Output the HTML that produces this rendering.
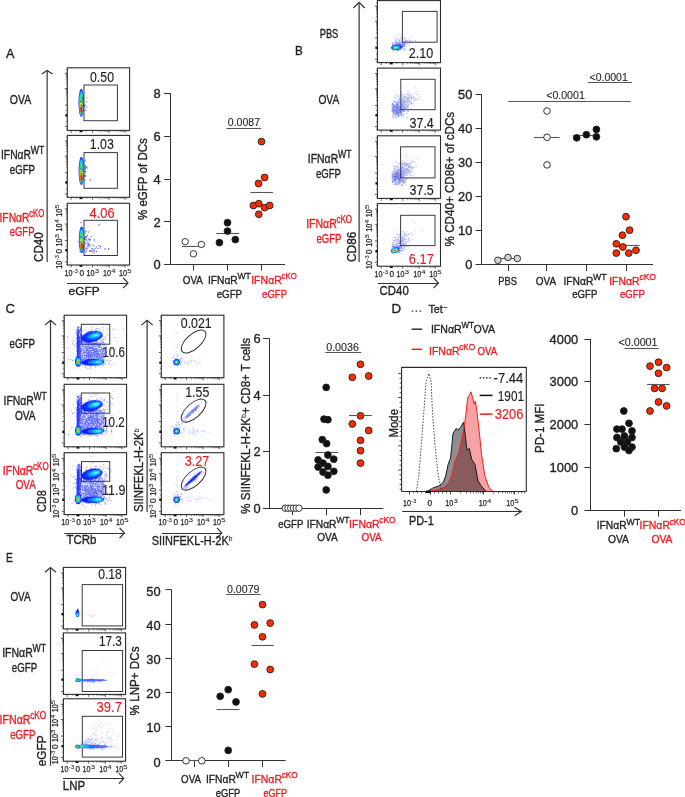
<!DOCTYPE html>
<html><head><meta charset="utf-8"><style>
html,body{margin:0;padding:0;background:#fff;}
svg{display:block;font-family:"Liberation Sans", sans-serif;}
</style></head><body>
<svg width="685" height="797" viewBox="0 0 685 797">
<rect width="685" height="797" fill="#fff"/>
<defs><filter id="b1" x="-50%" y="-50%" width="200%" height="200%"><feGaussianBlur stdDeviation="0.1"/></filter><filter id="b2" x="-50%" y="-50%" width="200%" height="200%"><feGaussianBlur stdDeviation="0.2"/></filter><filter id="b3" x="-50%" y="-50%" width="200%" height="200%"><feGaussianBlur stdDeviation="0.3"/></filter><filter id="b4" x="-50%" y="-50%" width="200%" height="200%"><feGaussianBlur stdDeviation="0.4"/></filter><filter id="b5" x="-50%" y="-50%" width="200%" height="200%"><feGaussianBlur stdDeviation="0.5"/></filter><filter id="b6" x="-50%" y="-50%" width="200%" height="200%"><feGaussianBlur stdDeviation="0.6"/></filter><filter id="b7" x="-50%" y="-50%" width="200%" height="200%"><feGaussianBlur stdDeviation="0.7"/></filter><filter id="b8" x="-50%" y="-50%" width="200%" height="200%"><feGaussianBlur stdDeviation="0.8"/></filter><filter id="b9" x="-50%" y="-50%" width="200%" height="200%"><feGaussianBlur stdDeviation="0.9"/></filter><filter id="b10" x="-50%" y="-50%" width="200%" height="200%"><feGaussianBlur stdDeviation="1.0"/></filter><filter id="b11" x="-50%" y="-50%" width="200%" height="200%"><feGaussianBlur stdDeviation="1.1"/></filter><filter id="b12" x="-50%" y="-50%" width="200%" height="200%"><feGaussianBlur stdDeviation="1.2"/></filter><filter id="b13" x="-50%" y="-50%" width="200%" height="200%"><feGaussianBlur stdDeviation="1.3"/></filter><filter id="b14" x="-50%" y="-50%" width="200%" height="200%"><feGaussianBlur stdDeviation="1.4"/></filter><filter id="b15" x="-50%" y="-50%" width="200%" height="200%"><feGaussianBlur stdDeviation="1.5"/></filter><filter id="b16" x="-50%" y="-50%" width="200%" height="200%"><feGaussianBlur stdDeviation="1.6"/></filter><filter id="b17" x="-50%" y="-50%" width="200%" height="200%"><feGaussianBlur stdDeviation="1.7"/></filter><filter id="b18" x="-50%" y="-50%" width="200%" height="200%"><feGaussianBlur stdDeviation="1.8"/></filter><filter id="b19" x="-50%" y="-50%" width="200%" height="200%"><feGaussianBlur stdDeviation="1.9"/></filter><filter id="b20" x="-50%" y="-50%" width="200%" height="200%"><feGaussianBlur stdDeviation="2.0"/></filter></defs>
<text x="6.00" y="57.80" font-size="12.8" fill="#231f20" stroke="#231f20" stroke-width="0.35" textLength="8.40" lengthAdjust="spacingAndGlyphs">A</text>
<text x="20.50" y="104.00" font-size="12" fill="#231f20" stroke="#231f20" stroke-width="0.35" text-anchor="middle" textLength="21.30" lengthAdjust="spacingAndGlyphs">OVA</text>
<text x="1.00" y="159.40" font-size="12" fill="#231f20" stroke="#231f20" stroke-width="0.35" textLength="30.00" lengthAdjust="spacingAndGlyphs">IFNαR</text>
<text x="30.70" y="154.40" font-size="10.08" fill="#231f20" stroke="#231f20" stroke-width="0.35" textLength="13.50" lengthAdjust="spacingAndGlyphs">WT</text>
<text x="22.40" y="173.70" font-size="12" fill="#231f20" stroke="#231f20" stroke-width="0.35" text-anchor="middle" textLength="25.20" lengthAdjust="spacingAndGlyphs">eGFP</text>
<text x="-0.50" y="221.50" font-size="12" fill="#ed1c24" stroke="#ed1c24" stroke-width="0.35" textLength="30.00" lengthAdjust="spacingAndGlyphs">IFNαR</text>
<text x="29.20" y="216.50" font-size="10.08" fill="#ed1c24" stroke="#ed1c24" stroke-width="0.35" textLength="15.10" lengthAdjust="spacingAndGlyphs">cKO</text>
<text x="22.10" y="235.70" font-size="12" fill="#ed1c24" stroke="#ed1c24" stroke-width="0.35" text-anchor="middle" textLength="24.80" lengthAdjust="spacingAndGlyphs">eGFP</text>
<line x1="47.15" y1="70.40" x2="47.15" y2="262.00" stroke="#333" stroke-width="1.2"/>
<polyline points="41.75,73.90 47.15,70.40 52.55,73.90" fill="none" stroke="#333" stroke-width="1.2"/>
<text x="0" y="0" font-size="12.5" fill="#231f20" stroke="#231f20" stroke-width="0.35" transform="translate(42.90,261.90) rotate(-90)" textLength="29.60" lengthAdjust="spacingAndGlyphs">CD40</text>
<rect x="67.30" y="67.80" width="62.30" height="62.60" fill="none" stroke="#2b2b2b" stroke-width="1.1"/>
<line x1="64.90" y1="73.30" x2="67.30" y2="73.30" stroke="#333" stroke-width="0.8"/>
<line x1="64.90" y1="88.50" x2="67.30" y2="88.50" stroke="#333" stroke-width="0.8"/>
<line x1="64.90" y1="105.10" x2="67.30" y2="105.10" stroke="#333" stroke-width="0.8"/>
<line x1="64.90" y1="126.40" x2="67.30" y2="126.40" stroke="#333" stroke-width="0.8"/>
<line x1="65.90" y1="100.10" x2="67.30" y2="100.10" stroke="#444" stroke-width="0.6"/>
<line x1="65.90" y1="97.18" x2="67.30" y2="97.18" stroke="#444" stroke-width="0.6"/>
<line x1="65.90" y1="95.11" x2="67.30" y2="95.11" stroke="#444" stroke-width="0.6"/>
<line x1="65.90" y1="93.50" x2="67.30" y2="93.50" stroke="#444" stroke-width="0.6"/>
<line x1="65.90" y1="92.18" x2="67.30" y2="92.18" stroke="#444" stroke-width="0.6"/>
<line x1="65.90" y1="91.07" x2="67.30" y2="91.07" stroke="#444" stroke-width="0.6"/>
<line x1="65.90" y1="90.11" x2="67.30" y2="90.11" stroke="#444" stroke-width="0.6"/>
<line x1="65.90" y1="89.26" x2="67.30" y2="89.26" stroke="#444" stroke-width="0.6"/>
<line x1="65.90" y1="83.92" x2="67.30" y2="83.92" stroke="#444" stroke-width="0.6"/>
<line x1="65.90" y1="81.25" x2="67.30" y2="81.25" stroke="#444" stroke-width="0.6"/>
<line x1="65.90" y1="79.35" x2="67.30" y2="79.35" stroke="#444" stroke-width="0.6"/>
<line x1="65.90" y1="77.88" x2="67.30" y2="77.88" stroke="#444" stroke-width="0.6"/>
<line x1="65.90" y1="76.67" x2="67.30" y2="76.67" stroke="#444" stroke-width="0.6"/>
<line x1="65.90" y1="75.65" x2="67.30" y2="75.65" stroke="#444" stroke-width="0.6"/>
<line x1="65.90" y1="74.77" x2="67.30" y2="74.77" stroke="#444" stroke-width="0.6"/>
<line x1="65.90" y1="74.00" x2="67.30" y2="74.00" stroke="#444" stroke-width="0.6"/>
<line x1="65.90" y1="69.80" x2="67.30" y2="69.80" stroke="#444" stroke-width="0.6"/>
<line x1="65.90" y1="110.30" x2="67.30" y2="110.30" stroke="#444" stroke-width="0.6"/>
<line x1="65.90" y1="121.30" x2="67.30" y2="121.30" stroke="#444" stroke-width="0.6"/>
<line x1="65.90" y1="128.80" x2="67.30" y2="128.80" stroke="#444" stroke-width="0.6"/>
<line x1="71.10" y1="130.40" x2="71.10" y2="132.80" stroke="#333" stroke-width="0.8"/>
<line x1="92.60" y1="130.40" x2="92.60" y2="132.80" stroke="#333" stroke-width="0.8"/>
<line x1="109.20" y1="130.40" x2="109.20" y2="132.80" stroke="#333" stroke-width="0.8"/>
<line x1="125.20" y1="130.40" x2="125.20" y2="132.80" stroke="#333" stroke-width="0.8"/>
<line x1="97.60" y1="130.40" x2="97.60" y2="131.80" stroke="#444" stroke-width="0.6"/>
<line x1="100.52" y1="130.40" x2="100.52" y2="131.80" stroke="#444" stroke-width="0.6"/>
<line x1="102.59" y1="130.40" x2="102.59" y2="131.80" stroke="#444" stroke-width="0.6"/>
<line x1="104.20" y1="130.40" x2="104.20" y2="131.80" stroke="#444" stroke-width="0.6"/>
<line x1="105.52" y1="130.40" x2="105.52" y2="131.80" stroke="#444" stroke-width="0.6"/>
<line x1="106.63" y1="130.40" x2="106.63" y2="131.80" stroke="#444" stroke-width="0.6"/>
<line x1="107.59" y1="130.40" x2="107.59" y2="131.80" stroke="#444" stroke-width="0.6"/>
<line x1="108.44" y1="130.40" x2="108.44" y2="131.80" stroke="#444" stroke-width="0.6"/>
<line x1="114.02" y1="130.40" x2="114.02" y2="131.80" stroke="#444" stroke-width="0.6"/>
<line x1="116.83" y1="130.40" x2="116.83" y2="131.80" stroke="#444" stroke-width="0.6"/>
<line x1="118.83" y1="130.40" x2="118.83" y2="131.80" stroke="#444" stroke-width="0.6"/>
<line x1="120.38" y1="130.40" x2="120.38" y2="131.80" stroke="#444" stroke-width="0.6"/>
<line x1="121.65" y1="130.40" x2="121.65" y2="131.80" stroke="#444" stroke-width="0.6"/>
<line x1="122.72" y1="130.40" x2="122.72" y2="131.80" stroke="#444" stroke-width="0.6"/>
<line x1="123.65" y1="130.40" x2="123.65" y2="131.80" stroke="#444" stroke-width="0.6"/>
<line x1="124.47" y1="130.40" x2="124.47" y2="131.80" stroke="#444" stroke-width="0.6"/>
<line x1="86.80" y1="130.40" x2="86.80" y2="131.80" stroke="#444" stroke-width="0.6"/>
<line x1="76.30" y1="130.40" x2="76.30" y2="131.80" stroke="#444" stroke-width="0.6"/>
<line x1="127.80" y1="130.40" x2="127.80" y2="131.80" stroke="#444" stroke-width="0.6"/>
<rect x="65.30" y="114.18" width="2" height="2.4" fill="#111"/>
<rect x="79.51" y="130.40" width="3" height="1.8" fill="#111"/>
<rect x="67.30" y="135.40" width="62.30" height="61.90" fill="none" stroke="#2b2b2b" stroke-width="1.1"/>
<line x1="64.90" y1="140.90" x2="67.30" y2="140.90" stroke="#333" stroke-width="0.8"/>
<line x1="64.90" y1="156.10" x2="67.30" y2="156.10" stroke="#333" stroke-width="0.8"/>
<line x1="64.90" y1="172.70" x2="67.30" y2="172.70" stroke="#333" stroke-width="0.8"/>
<line x1="64.90" y1="194.00" x2="67.30" y2="194.00" stroke="#333" stroke-width="0.8"/>
<line x1="65.90" y1="167.70" x2="67.30" y2="167.70" stroke="#444" stroke-width="0.6"/>
<line x1="65.90" y1="164.78" x2="67.30" y2="164.78" stroke="#444" stroke-width="0.6"/>
<line x1="65.90" y1="162.71" x2="67.30" y2="162.71" stroke="#444" stroke-width="0.6"/>
<line x1="65.90" y1="161.10" x2="67.30" y2="161.10" stroke="#444" stroke-width="0.6"/>
<line x1="65.90" y1="159.78" x2="67.30" y2="159.78" stroke="#444" stroke-width="0.6"/>
<line x1="65.90" y1="158.67" x2="67.30" y2="158.67" stroke="#444" stroke-width="0.6"/>
<line x1="65.90" y1="157.71" x2="67.30" y2="157.71" stroke="#444" stroke-width="0.6"/>
<line x1="65.90" y1="156.86" x2="67.30" y2="156.86" stroke="#444" stroke-width="0.6"/>
<line x1="65.90" y1="151.52" x2="67.30" y2="151.52" stroke="#444" stroke-width="0.6"/>
<line x1="65.90" y1="148.85" x2="67.30" y2="148.85" stroke="#444" stroke-width="0.6"/>
<line x1="65.90" y1="146.95" x2="67.30" y2="146.95" stroke="#444" stroke-width="0.6"/>
<line x1="65.90" y1="145.48" x2="67.30" y2="145.48" stroke="#444" stroke-width="0.6"/>
<line x1="65.90" y1="144.27" x2="67.30" y2="144.27" stroke="#444" stroke-width="0.6"/>
<line x1="65.90" y1="143.25" x2="67.30" y2="143.25" stroke="#444" stroke-width="0.6"/>
<line x1="65.90" y1="142.37" x2="67.30" y2="142.37" stroke="#444" stroke-width="0.6"/>
<line x1="65.90" y1="141.60" x2="67.30" y2="141.60" stroke="#444" stroke-width="0.6"/>
<line x1="65.90" y1="137.40" x2="67.30" y2="137.40" stroke="#444" stroke-width="0.6"/>
<line x1="65.90" y1="177.90" x2="67.30" y2="177.90" stroke="#444" stroke-width="0.6"/>
<line x1="65.90" y1="188.90" x2="67.30" y2="188.90" stroke="#444" stroke-width="0.6"/>
<line x1="65.90" y1="196.40" x2="67.30" y2="196.40" stroke="#444" stroke-width="0.6"/>
<line x1="71.10" y1="197.30" x2="71.10" y2="199.70" stroke="#333" stroke-width="0.8"/>
<line x1="92.60" y1="197.30" x2="92.60" y2="199.70" stroke="#333" stroke-width="0.8"/>
<line x1="109.20" y1="197.30" x2="109.20" y2="199.70" stroke="#333" stroke-width="0.8"/>
<line x1="125.20" y1="197.30" x2="125.20" y2="199.70" stroke="#333" stroke-width="0.8"/>
<line x1="97.60" y1="197.30" x2="97.60" y2="198.70" stroke="#444" stroke-width="0.6"/>
<line x1="100.52" y1="197.30" x2="100.52" y2="198.70" stroke="#444" stroke-width="0.6"/>
<line x1="102.59" y1="197.30" x2="102.59" y2="198.70" stroke="#444" stroke-width="0.6"/>
<line x1="104.20" y1="197.30" x2="104.20" y2="198.70" stroke="#444" stroke-width="0.6"/>
<line x1="105.52" y1="197.30" x2="105.52" y2="198.70" stroke="#444" stroke-width="0.6"/>
<line x1="106.63" y1="197.30" x2="106.63" y2="198.70" stroke="#444" stroke-width="0.6"/>
<line x1="107.59" y1="197.30" x2="107.59" y2="198.70" stroke="#444" stroke-width="0.6"/>
<line x1="108.44" y1="197.30" x2="108.44" y2="198.70" stroke="#444" stroke-width="0.6"/>
<line x1="114.02" y1="197.30" x2="114.02" y2="198.70" stroke="#444" stroke-width="0.6"/>
<line x1="116.83" y1="197.30" x2="116.83" y2="198.70" stroke="#444" stroke-width="0.6"/>
<line x1="118.83" y1="197.30" x2="118.83" y2="198.70" stroke="#444" stroke-width="0.6"/>
<line x1="120.38" y1="197.30" x2="120.38" y2="198.70" stroke="#444" stroke-width="0.6"/>
<line x1="121.65" y1="197.30" x2="121.65" y2="198.70" stroke="#444" stroke-width="0.6"/>
<line x1="122.72" y1="197.30" x2="122.72" y2="198.70" stroke="#444" stroke-width="0.6"/>
<line x1="123.65" y1="197.30" x2="123.65" y2="198.70" stroke="#444" stroke-width="0.6"/>
<line x1="124.47" y1="197.30" x2="124.47" y2="198.70" stroke="#444" stroke-width="0.6"/>
<line x1="86.80" y1="197.30" x2="86.80" y2="198.70" stroke="#444" stroke-width="0.6"/>
<line x1="76.30" y1="197.30" x2="76.30" y2="198.70" stroke="#444" stroke-width="0.6"/>
<line x1="127.80" y1="197.30" x2="127.80" y2="198.70" stroke="#444" stroke-width="0.6"/>
<rect x="65.30" y="181.24" width="2" height="2.4" fill="#111"/>
<rect x="79.51" y="197.30" width="3" height="1.8" fill="#111"/>
<rect x="67.30" y="203.30" width="62.30" height="61.70" fill="none" stroke="#2b2b2b" stroke-width="1.1"/>
<line x1="64.90" y1="208.80" x2="67.30" y2="208.80" stroke="#333" stroke-width="0.8"/>
<line x1="64.90" y1="224.00" x2="67.30" y2="224.00" stroke="#333" stroke-width="0.8"/>
<line x1="64.90" y1="240.60" x2="67.30" y2="240.60" stroke="#333" stroke-width="0.8"/>
<line x1="64.90" y1="261.90" x2="67.30" y2="261.90" stroke="#333" stroke-width="0.8"/>
<line x1="65.90" y1="235.60" x2="67.30" y2="235.60" stroke="#444" stroke-width="0.6"/>
<line x1="65.90" y1="232.68" x2="67.30" y2="232.68" stroke="#444" stroke-width="0.6"/>
<line x1="65.90" y1="230.61" x2="67.30" y2="230.61" stroke="#444" stroke-width="0.6"/>
<line x1="65.90" y1="229.00" x2="67.30" y2="229.00" stroke="#444" stroke-width="0.6"/>
<line x1="65.90" y1="227.68" x2="67.30" y2="227.68" stroke="#444" stroke-width="0.6"/>
<line x1="65.90" y1="226.57" x2="67.30" y2="226.57" stroke="#444" stroke-width="0.6"/>
<line x1="65.90" y1="225.61" x2="67.30" y2="225.61" stroke="#444" stroke-width="0.6"/>
<line x1="65.90" y1="224.76" x2="67.30" y2="224.76" stroke="#444" stroke-width="0.6"/>
<line x1="65.90" y1="219.42" x2="67.30" y2="219.42" stroke="#444" stroke-width="0.6"/>
<line x1="65.90" y1="216.75" x2="67.30" y2="216.75" stroke="#444" stroke-width="0.6"/>
<line x1="65.90" y1="214.85" x2="67.30" y2="214.85" stroke="#444" stroke-width="0.6"/>
<line x1="65.90" y1="213.38" x2="67.30" y2="213.38" stroke="#444" stroke-width="0.6"/>
<line x1="65.90" y1="212.17" x2="67.30" y2="212.17" stroke="#444" stroke-width="0.6"/>
<line x1="65.90" y1="211.15" x2="67.30" y2="211.15" stroke="#444" stroke-width="0.6"/>
<line x1="65.90" y1="210.27" x2="67.30" y2="210.27" stroke="#444" stroke-width="0.6"/>
<line x1="65.90" y1="209.50" x2="67.30" y2="209.50" stroke="#444" stroke-width="0.6"/>
<line x1="65.90" y1="205.30" x2="67.30" y2="205.30" stroke="#444" stroke-width="0.6"/>
<line x1="65.90" y1="245.80" x2="67.30" y2="245.80" stroke="#444" stroke-width="0.6"/>
<line x1="65.90" y1="256.80" x2="67.30" y2="256.80" stroke="#444" stroke-width="0.6"/>
<line x1="65.90" y1="264.30" x2="67.30" y2="264.30" stroke="#444" stroke-width="0.6"/>
<line x1="71.10" y1="265.00" x2="71.10" y2="267.40" stroke="#333" stroke-width="0.8"/>
<line x1="92.60" y1="265.00" x2="92.60" y2="267.40" stroke="#333" stroke-width="0.8"/>
<line x1="109.20" y1="265.00" x2="109.20" y2="267.40" stroke="#333" stroke-width="0.8"/>
<line x1="125.20" y1="265.00" x2="125.20" y2="267.40" stroke="#333" stroke-width="0.8"/>
<line x1="97.60" y1="265.00" x2="97.60" y2="266.40" stroke="#444" stroke-width="0.6"/>
<line x1="100.52" y1="265.00" x2="100.52" y2="266.40" stroke="#444" stroke-width="0.6"/>
<line x1="102.59" y1="265.00" x2="102.59" y2="266.40" stroke="#444" stroke-width="0.6"/>
<line x1="104.20" y1="265.00" x2="104.20" y2="266.40" stroke="#444" stroke-width="0.6"/>
<line x1="105.52" y1="265.00" x2="105.52" y2="266.40" stroke="#444" stroke-width="0.6"/>
<line x1="106.63" y1="265.00" x2="106.63" y2="266.40" stroke="#444" stroke-width="0.6"/>
<line x1="107.59" y1="265.00" x2="107.59" y2="266.40" stroke="#444" stroke-width="0.6"/>
<line x1="108.44" y1="265.00" x2="108.44" y2="266.40" stroke="#444" stroke-width="0.6"/>
<line x1="114.02" y1="265.00" x2="114.02" y2="266.40" stroke="#444" stroke-width="0.6"/>
<line x1="116.83" y1="265.00" x2="116.83" y2="266.40" stroke="#444" stroke-width="0.6"/>
<line x1="118.83" y1="265.00" x2="118.83" y2="266.40" stroke="#444" stroke-width="0.6"/>
<line x1="120.38" y1="265.00" x2="120.38" y2="266.40" stroke="#444" stroke-width="0.6"/>
<line x1="121.65" y1="265.00" x2="121.65" y2="266.40" stroke="#444" stroke-width="0.6"/>
<line x1="122.72" y1="265.00" x2="122.72" y2="266.40" stroke="#444" stroke-width="0.6"/>
<line x1="123.65" y1="265.00" x2="123.65" y2="266.40" stroke="#444" stroke-width="0.6"/>
<line x1="124.47" y1="265.00" x2="124.47" y2="266.40" stroke="#444" stroke-width="0.6"/>
<line x1="86.80" y1="265.00" x2="86.80" y2="266.40" stroke="#444" stroke-width="0.6"/>
<line x1="76.30" y1="265.00" x2="76.30" y2="266.40" stroke="#444" stroke-width="0.6"/>
<line x1="127.80" y1="265.00" x2="127.80" y2="266.40" stroke="#444" stroke-width="0.6"/>
<rect x="65.30" y="248.99" width="2" height="2.4" fill="#111"/>
<rect x="79.51" y="265.00" width="3" height="1.8" fill="#111"/>
<rect x="84.00" y="85.00" width="33.40" height="35.70" fill="none" stroke="#3a3a3a" stroke-width="1.0"/>
<rect x="84.00" y="152.60" width="33.40" height="35.70" fill="none" stroke="#3a3a3a" stroke-width="1.0"/>
<rect x="84.00" y="220.30" width="33.40" height="35.20" fill="none" stroke="#3a3a3a" stroke-width="1.0"/>
<text x="102.00" y="82.00" font-size="14" fill="#231f20" stroke="#231f20" stroke-width="0.15" text-anchor="middle" textLength="24.00" lengthAdjust="spacingAndGlyphs">0.50</text>
<text x="101.80" y="149.40" font-size="14" fill="#231f20" stroke="#231f20" stroke-width="0.15" text-anchor="middle" textLength="24.00" lengthAdjust="spacingAndGlyphs">1.03</text>
<text x="102.10" y="217.70" font-size="14" fill="#ed1c24" stroke="#ed1c24" stroke-width="0.15" text-anchor="middle" textLength="25.00" lengthAdjust="spacingAndGlyphs">4.06</text>
<g transform="translate(61.80,210.70) rotate(-90)">
<text x="-6.15" y="0.00" font-size="8.4" fill="#231f20" stroke="#231f20" stroke-width="0.25" textLength="8.00" lengthAdjust="spacingAndGlyphs">10</text>
<text x="2.05" y="-3.10" font-size="6.2" fill="#231f20" stroke="#231f20" stroke-width="0.08" textLength="4.30" lengthAdjust="spacingAndGlyphs">5</text>
</g>
<g transform="translate(61.80,225.40) rotate(-90)">
<text x="-6.15" y="0.00" font-size="8.4" fill="#231f20" stroke="#231f20" stroke-width="0.25" textLength="8.00" lengthAdjust="spacingAndGlyphs">10</text>
<text x="2.05" y="-3.10" font-size="6.2" fill="#231f20" stroke="#231f20" stroke-width="0.08" textLength="4.30" lengthAdjust="spacingAndGlyphs">4</text>
</g>
<g transform="translate(61.80,240.30) rotate(-90)">
<text x="-6.15" y="0.00" font-size="8.4" fill="#231f20" stroke="#231f20" stroke-width="0.25" textLength="8.00" lengthAdjust="spacingAndGlyphs">10</text>
<text x="2.05" y="-3.10" font-size="6.2" fill="#231f20" stroke="#231f20" stroke-width="0.08" textLength="4.30" lengthAdjust="spacingAndGlyphs">3</text>
</g>
<g transform="translate(61.80,251.30) rotate(-90)">
<text x="0.00" y="0.00" font-size="8.4" fill="#231f20" stroke="#231f20" stroke-width="0.25" text-anchor="middle" textLength="4.62" lengthAdjust="spacingAndGlyphs">0</text>
</g>
<g transform="translate(61.80,262.00) rotate(-90)">
<text x="-6.70" y="0.00" font-size="8.4" fill="#231f20" stroke="#231f20" stroke-width="0.25" textLength="8.00" lengthAdjust="spacingAndGlyphs">10</text>
<text x="1.50" y="-3.10" font-size="6.2" fill="#231f20" stroke="#231f20" stroke-width="0.08" textLength="5.40" lengthAdjust="spacingAndGlyphs">-3</text>
</g>
<text x="64.40" y="275.80" font-size="8.4" fill="#231f20" stroke="#231f20" stroke-width="0.25" textLength="8.00" lengthAdjust="spacingAndGlyphs">10</text>
<text x="72.60" y="272.70" font-size="6.2" fill="#231f20" stroke="#231f20" stroke-width="0.08" textLength="5.40" lengthAdjust="spacingAndGlyphs">-3</text>
<text x="81.70" y="275.80" font-size="8.4" fill="#231f20" stroke="#231f20" stroke-width="0.25" text-anchor="middle" textLength="4.62" lengthAdjust="spacingAndGlyphs">0</text>
<text x="86.45" y="275.80" font-size="8.4" fill="#231f20" stroke="#231f20" stroke-width="0.25" textLength="8.00" lengthAdjust="spacingAndGlyphs">10</text>
<text x="94.65" y="272.70" font-size="6.2" fill="#231f20" stroke="#231f20" stroke-width="0.08" textLength="4.30" lengthAdjust="spacingAndGlyphs">3</text>
<text x="103.05" y="275.80" font-size="8.4" fill="#231f20" stroke="#231f20" stroke-width="0.25" textLength="8.00" lengthAdjust="spacingAndGlyphs">10</text>
<text x="111.25" y="272.70" font-size="6.2" fill="#231f20" stroke="#231f20" stroke-width="0.08" textLength="4.30" lengthAdjust="spacingAndGlyphs">4</text>
<text x="119.05" y="275.80" font-size="8.4" fill="#231f20" stroke="#231f20" stroke-width="0.25" textLength="8.00" lengthAdjust="spacingAndGlyphs">10</text>
<text x="127.25" y="272.70" font-size="6.2" fill="#231f20" stroke="#231f20" stroke-width="0.08" textLength="4.30" lengthAdjust="spacingAndGlyphs">5</text>
<line x1="67.00" y1="283.50" x2="128.00" y2="283.50" stroke="#333" stroke-width="1.2"/>
<polyline points="123.20,277.80 128.00,283.00 123.20,288.20" fill="none" stroke="#333" stroke-width="1.2"/>
<text x="68.60" y="295.20" font-size="11.8" fill="#231f20" stroke="#231f20" stroke-width="0.35" textLength="31.00" lengthAdjust="spacingAndGlyphs">eGFP</text>
<g filter="url(#b4)" transform="rotate(0 81.30 102.80)"><ellipse cx="81.30" cy="102.80" rx="2.8" ry="14.0" fill="#1a2dff"/><ellipse cx="81.30" cy="103.30" rx="2.2399999999999998" ry="12.5" fill="#00c8ff"/><ellipse cx="81.30" cy="104.30" rx="1.7919999999999998" ry="10.5" fill="#40e070"/><ellipse cx="81.30" cy="107.30" rx="1.3439999999999999" ry="6.0" fill="#c8e000"/><ellipse cx="81.30" cy="108.80" rx="1.1199999999999999" ry="4.5" fill="#ff7a00"/><ellipse cx="81.30" cy="109.80" rx="0.8959999999999999" ry="3.2" fill="#ff1a00"/></g>
<path d="M82.2 106.1h0.9v0.9h-0.9zM82.2 101.1h0.9v0.9h-0.9zM81.3 101.7h0.9v0.9h-0.9zM83.9 105.5h0.9v0.9h-0.9zM83.8 104.5h0.9v0.9h-0.9zM83.0 104.1h0.9v0.9h-0.9zM80.3 108.1h0.9v0.9h-0.9zM83.2 106.0h0.9v0.9h-0.9zM80.3 92.5h0.9v0.9h-0.9zM81.3 100.2h0.9v0.9h-0.9zM82.9 102.7h0.9v0.9h-0.9zM83.2 99.1h0.9v0.9h-0.9zM82.9 105.4h0.9v0.9h-0.9zM81.6 113.3h0.9v0.9h-0.9zM83.2 110.2h0.9v0.9h-0.9zM81.7 98.6h0.9v0.9h-0.9zM82.1 102.4h0.9v0.9h-0.9zM83.3 104.5h0.9v0.9h-0.9zM81.9 97.3h0.9v0.9h-0.9zM81.8 110.3h0.9v0.9h-0.9zM81.4 104.5h0.9v0.9h-0.9zM83.1 94.1h0.9v0.9h-0.9zM82.6 110.8h0.9v0.9h-0.9zM79.9 101.1h0.9v0.9h-0.9zM82.4 98.1h0.9v0.9h-0.9z" fill="#1a2dff" fill-opacity="0.8"/>
<path d="M86.5 97.4h0.9v0.9h-0.9zM85.3 110.1h0.9v0.9h-0.9zM84.8 104.8h0.9v0.9h-0.9zM84.6 108.4h0.9v0.9h-0.9zM86.0 106.5h0.9v0.9h-0.9zM86.3 101.3h0.9v0.9h-0.9z" fill="#1a2dff" fill-opacity="0.9"/>
<g filter="url(#b4)" transform="rotate(0 81.40 171.00)"><ellipse cx="81.40" cy="171.00" rx="2.8" ry="14.0" fill="#1a2dff"/><ellipse cx="81.40" cy="171.50" rx="2.2399999999999998" ry="12.5" fill="#00c8ff"/><ellipse cx="81.40" cy="172.50" rx="1.7919999999999998" ry="10.5" fill="#40e070"/><ellipse cx="81.40" cy="175.50" rx="1.3439999999999999" ry="6.0" fill="#c8e000"/><ellipse cx="81.40" cy="177.00" rx="1.1199999999999999" ry="4.5" fill="#ff7a00"/><ellipse cx="81.40" cy="178.00" rx="0.8959999999999999" ry="3.2" fill="#ff1a00"/></g>
<path d="M82.3 164.4h0.9v0.9h-0.9zM81.5 168.8h0.9v0.9h-0.9zM84.9 159.8h0.9v0.9h-0.9zM80.8 173.4h0.9v0.9h-0.9zM85.2 175.5h0.9v0.9h-0.9zM80.2 156.9h0.9v0.9h-0.9zM83.5 167.6h0.9v0.9h-0.9zM81.3 177.9h0.9v0.9h-0.9zM84.7 172.9h0.9v0.9h-0.9zM83.4 174.6h0.9v0.9h-0.9zM85.4 175.7h0.9v0.9h-0.9zM83.8 175.3h0.9v0.9h-0.9zM80.6 179.7h0.9v0.9h-0.9zM84.4 175.2h0.9v0.9h-0.9zM80.0 168.2h0.9v0.9h-0.9zM84.3 161.1h0.9v0.9h-0.9zM82.7 178.1h0.9v0.9h-0.9zM81.0 181.7h0.9v0.9h-0.9zM83.8 171.1h0.9v0.9h-0.9zM83.5 175.9h0.9v0.9h-0.9zM83.2 178.9h0.9v0.9h-0.9zM82.0 169.5h0.9v0.9h-0.9zM84.6 172.2h0.9v0.9h-0.9zM81.7 177.7h0.9v0.9h-0.9zM85.2 169.3h0.9v0.9h-0.9zM80.9 171.2h0.9v0.9h-0.9zM82.8 170.2h0.9v0.9h-0.9zM85.1 165.8h0.9v0.9h-0.9zM84.9 164.4h0.9v0.9h-0.9zM81.8 175.8h0.9v0.9h-0.9z" fill="#1a2dff" fill-opacity="0.8"/>
<path d="M84.9 175.8h0.9v0.9h-0.9zM84.7 166.1h0.9v0.9h-0.9zM85.2 167.8h0.9v0.9h-0.9zM85.7 165.9h0.9v0.9h-0.9zM84.5 167.6h0.9v0.9h-0.9zM84.9 171.2h0.9v0.9h-0.9zM84.6 179.9h0.9v0.9h-0.9zM86.6 167.5h0.9v0.9h-0.9zM85.4 170.9h0.9v0.9h-0.9zM85.8 167.1h0.9v0.9h-0.9z" fill="#1a2dff" fill-opacity="0.9"/>
<rect x="89.5" y="179.5" width="1.5" height="1.5" fill="#7080ff"/>
<g filter="url(#b4)" transform="rotate(0 81.60 239.75)"><ellipse cx="81.60" cy="239.75" rx="2.8" ry="13.25" fill="#1a2dff"/><ellipse cx="81.60" cy="240.22" rx="2.2399999999999998" ry="11.830357142857142" fill="#00c8ff"/><ellipse cx="81.60" cy="241.17" rx="1.7919999999999998" ry="9.9375" fill="#40e070"/><ellipse cx="81.60" cy="244.01" rx="1.3439999999999999" ry="5.678571428571429" fill="#c8e000"/><ellipse cx="81.60" cy="245.43" rx="1.1199999999999999" ry="4.258928571428571" fill="#ff7a00"/><ellipse cx="81.60" cy="246.38" rx="0.8959999999999999" ry="3.0285714285714285" fill="#ff1a00"/></g>
<path d="M86.3 231.2h0.9v0.9h-0.9zM81.0 245.2h0.9v0.9h-0.9zM83.7 245.2h0.9v0.9h-0.9zM82.2 247.3h0.9v0.9h-0.9zM83.5 241.4h0.9v0.9h-0.9zM87.4 245.8h0.9v0.9h-0.9zM82.0 243.5h0.9v0.9h-0.9zM82.6 243.7h0.9v0.9h-0.9zM78.1 241.6h0.9v0.9h-0.9zM84.8 238.2h0.9v0.9h-0.9zM82.9 248.8h0.9v0.9h-0.9zM84.5 251.5h0.9v0.9h-0.9zM79.9 242.2h0.9v0.9h-0.9zM82.4 247.1h0.9v0.9h-0.9zM85.0 230.6h0.9v0.9h-0.9zM85.0 236.8h0.9v0.9h-0.9zM84.2 236.5h0.9v0.9h-0.9zM83.3 250.0h0.9v0.9h-0.9zM82.7 245.0h0.9v0.9h-0.9zM84.4 244.7h0.9v0.9h-0.9zM82.8 251.7h0.9v0.9h-0.9zM84.9 242.5h0.9v0.9h-0.9zM87.9 238.3h0.9v0.9h-0.9zM84.6 242.7h0.9v0.9h-0.9zM83.2 247.5h0.9v0.9h-0.9zM83.4 247.2h0.9v0.9h-0.9zM80.3 236.5h0.9v0.9h-0.9zM84.1 239.2h0.9v0.9h-0.9zM81.2 236.6h0.9v0.9h-0.9zM85.3 247.7h0.9v0.9h-0.9zM85.7 239.3h0.9v0.9h-0.9zM83.0 238.3h0.9v0.9h-0.9zM84.4 251.9h0.9v0.9h-0.9zM81.4 251.8h0.9v0.9h-0.9zM84.8 243.1h0.9v0.9h-0.9zM79.5 251.0h0.9v0.9h-0.9zM82.8 241.0h0.9v0.9h-0.9zM83.7 246.0h0.9v0.9h-0.9zM85.7 238.9h0.9v0.9h-0.9zM85.0 251.4h0.9v0.9h-0.9z" fill="#1a2dff" fill-opacity="0.8"/>
<path d="M95.8 246.5h1.0v1.0h-1.0zM88.5 244.8h1.0v1.0h-1.0zM86.0 236.2h1.0v1.0h-1.0zM95.7 246.4h1.0v1.0h-1.0zM90.6 250.9h1.0v1.0h-1.0zM89.5 249.9h1.0v1.0h-1.0zM94.0 239.4h1.0v1.0h-1.0zM87.4 240.7h1.0v1.0h-1.0zM87.3 245.4h1.0v1.0h-1.0zM87.5 242.7h1.0v1.0h-1.0zM86.0 250.6h1.0v1.0h-1.0zM88.6 243.3h1.0v1.0h-1.0zM91.2 250.5h1.0v1.0h-1.0zM89.3 250.7h1.0v1.0h-1.0zM90.3 244.5h1.0v1.0h-1.0zM90.5 236.3h1.0v1.0h-1.0zM89.6 238.9h1.0v1.0h-1.0zM84.5 248.8h1.0v1.0h-1.0zM86.5 243.6h1.0v1.0h-1.0zM92.8 244.9h1.0v1.0h-1.0zM88.2 244.3h1.0v1.0h-1.0zM90.9 248.5h1.0v1.0h-1.0z" fill="#1a2dff" fill-opacity="0.9"/>
<path d="M86.3 248.5h1.0v1.0h-1.0zM88.6 246.2h1.0v1.0h-1.0zM97.2 248.1h1.0v1.0h-1.0zM93.8 250.1h1.0v1.0h-1.0zM99.6 247.5h1.0v1.0h-1.0zM94.6 248.0h1.0v1.0h-1.0zM93.0 249.5h1.0v1.0h-1.0zM92.0 248.3h1.0v1.0h-1.0zM92.4 251.5h1.0v1.0h-1.0zM96.0 251.0h1.0v1.0h-1.0zM100.0 246.1h1.0v1.0h-1.0zM93.7 251.5h1.0v1.0h-1.0zM98.4 245.1h1.0v1.0h-1.0zM86.5 247.5h1.0v1.0h-1.0z" fill="#1a2dff" fill-opacity="0.9"/>
<path d="M84.9 232.4h1.0v1.0h-1.0zM84.9 236.7h1.0v1.0h-1.0zM88.8 239.0h1.0v1.0h-1.0zM85.3 237.2h1.0v1.0h-1.0zM88.1 231.4h1.0v1.0h-1.0zM89.4 239.7h1.0v1.0h-1.0zM85.7 239.5h1.0v1.0h-1.0zM86.7 234.9h1.0v1.0h-1.0z" fill="#1a2dff" fill-opacity="0.9"/>
<rect x="104.5" y="248.5" width="1.2" height="1.2" fill="#2030ff"/><rect x="108" y="248.3" width="1.2" height="1.2" fill="#2030ff"/><rect x="98.5" y="224.3" width="1.2" height="1.2" fill="#2030ff"/><rect x="80.5" y="221.8" width="1.2" height="1.2" fill="#5060ff"/>
<line x1="170.50" y1="93.00" x2="170.50" y2="264.20" stroke="#333333" stroke-width="1"/>
<line x1="170.40" y1="264.50" x2="285.00" y2="264.50" stroke="#333333" stroke-width="1"/>
<line x1="164.10" y1="93.50" x2="170.40" y2="93.50" stroke="#333333" stroke-width="1"/>
<text x="160.60" y="98.00" font-size="13" fill="#231f20" stroke="#231f20" stroke-width="0.35" text-anchor="end" textLength="7.15" lengthAdjust="spacingAndGlyphs">8</text>
<line x1="164.10" y1="136.50" x2="170.40" y2="136.50" stroke="#333333" stroke-width="1"/>
<text x="160.60" y="141.00" font-size="13" fill="#231f20" stroke="#231f20" stroke-width="0.35" text-anchor="end" textLength="7.15" lengthAdjust="spacingAndGlyphs">6</text>
<line x1="164.10" y1="179.50" x2="170.40" y2="179.50" stroke="#333333" stroke-width="1"/>
<text x="160.60" y="184.10" font-size="13" fill="#231f20" stroke="#231f20" stroke-width="0.35" text-anchor="end" textLength="7.15" lengthAdjust="spacingAndGlyphs">4</text>
<line x1="164.10" y1="221.50" x2="170.40" y2="221.50" stroke="#333333" stroke-width="1"/>
<text x="160.60" y="226.60" font-size="13" fill="#231f20" stroke="#231f20" stroke-width="0.35" text-anchor="end" textLength="7.15" lengthAdjust="spacingAndGlyphs">2</text>
<line x1="164.10" y1="264.50" x2="170.40" y2="264.50" stroke="#333333" stroke-width="1"/>
<text x="160.60" y="269.20" font-size="13" fill="#231f20" stroke="#231f20" stroke-width="0.35" text-anchor="end" textLength="7.15" lengthAdjust="spacingAndGlyphs">0</text>
<line x1="193.50" y1="264.20" x2="193.50" y2="270.50" stroke="#333333" stroke-width="1"/>
<line x1="227.50" y1="264.20" x2="227.50" y2="270.50" stroke="#333333" stroke-width="1"/>
<line x1="261.50" y1="264.20" x2="261.50" y2="270.50" stroke="#333333" stroke-width="1"/>
<text x="0" y="0" font-size="12.5" fill="#231f20" stroke="#231f20" stroke-width="0.35" transform="translate(146.80,220.10) rotate(-90)" textLength="82.00" lengthAdjust="spacingAndGlyphs">% eGFP of DCs</text>
<text x="227.80" y="125.70" font-size="11.5" fill="#231f20" stroke="#231f20" stroke-width="0.1" textLength="32.20" lengthAdjust="spacingAndGlyphs">0.0087</text>
<line x1="226.30" y1="128.50" x2="261.00" y2="128.50" stroke="#555" stroke-width="1.1"/>
<line x1="182.00" y1="246.50" x2="204.50" y2="246.50" stroke="#555" stroke-width="1.1"/>
<circle cx="185.20" cy="241.70" r="3.2" fill="white" stroke="#231f20" stroke-width="0.9"/>
<circle cx="201.40" cy="244.40" r="3.2" fill="white" stroke="#231f20" stroke-width="0.9"/>
<circle cx="193.40" cy="253.80" r="3.2" fill="white" stroke="#231f20" stroke-width="0.9"/>
<line x1="216.30" y1="233.50" x2="239.00" y2="233.50" stroke="#555" stroke-width="1.1"/>
<circle cx="227.50" cy="222.70" r="3.4" fill="#111" stroke="#231f20" stroke-width="0.9"/>
<circle cx="227.50" cy="231.10" r="3.4" fill="#111" stroke="#231f20" stroke-width="0.9"/>
<circle cx="219.40" cy="242.60" r="3.4" fill="#111" stroke="#231f20" stroke-width="0.9"/>
<circle cx="235.30" cy="239.60" r="3.4" fill="#111" stroke="#231f20" stroke-width="0.9"/>
<circle cx="261.50" cy="141.60" r="3.4" fill="#ff2a00" stroke="#231f20" stroke-width="0.9"/>
<circle cx="264.60" cy="177.50" r="3.4" fill="#ff2a00" stroke="#231f20" stroke-width="0.9"/>
<circle cx="258.50" cy="183.50" r="3.4" fill="#ff2a00" stroke="#231f20" stroke-width="0.9"/>
<circle cx="253.40" cy="205.50" r="3.4" fill="#ff2a00" stroke="#231f20" stroke-width="0.9"/>
<circle cx="258.80" cy="203.70" r="3.4" fill="#ff2a00" stroke="#231f20" stroke-width="0.9"/>
<circle cx="264.60" cy="207.60" r="3.4" fill="#ff2a00" stroke="#231f20" stroke-width="0.9"/>
<circle cx="269.70" cy="205.50" r="3.4" fill="#ff2a00" stroke="#231f20" stroke-width="0.9"/>
<circle cx="258.80" cy="214.30" r="3.4" fill="#ff2a00" stroke="#231f20" stroke-width="0.9"/>
<line x1="250.40" y1="192.50" x2="273.00" y2="192.50" stroke="#555" stroke-width="1.1"/>
<text x="192.90" y="283.70" font-size="11.5" fill="#231f20" stroke="#231f20" stroke-width="0.35" text-anchor="middle" textLength="20.10" lengthAdjust="spacingAndGlyphs">OVA</text>
<text x="207.90" y="283.70" font-size="11.5" fill="#231f20" stroke="#231f20" stroke-width="0.35" textLength="29.80" lengthAdjust="spacingAndGlyphs">IFNαR</text>
<text x="237.40" y="278.91" font-size="9.66" fill="#231f20" stroke="#231f20" stroke-width="0.35" textLength="13.40" lengthAdjust="spacingAndGlyphs">WT</text>
<text x="229.40" y="297.70" font-size="11.5" fill="#231f20" stroke="#231f20" stroke-width="0.35" text-anchor="middle" textLength="25.40" lengthAdjust="spacingAndGlyphs">eGFP</text>
<text x="251.20" y="283.70" font-size="11.5" fill="#ed1c24" stroke="#ed1c24" stroke-width="0.35" textLength="30.70" lengthAdjust="spacingAndGlyphs">IFNαR</text>
<text x="281.60" y="278.91" font-size="9.66" fill="#ed1c24" stroke="#ed1c24" stroke-width="0.35" textLength="15.10" lengthAdjust="spacingAndGlyphs">cKO</text>
<text x="274.60" y="297.70" font-size="11.5" fill="#ed1c24" stroke="#ed1c24" stroke-width="0.35" text-anchor="middle" textLength="25.00" lengthAdjust="spacingAndGlyphs">eGFP</text>
<text x="295.10" y="55.20" font-size="13" fill="#231f20" stroke="#231f20" stroke-width="0.35" textLength="7.80" lengthAdjust="spacingAndGlyphs">B</text>
<text x="329.00" y="38.00" font-size="12" fill="#231f20" stroke="#231f20" stroke-width="0.35" text-anchor="middle" textLength="18.70" lengthAdjust="spacingAndGlyphs">PBS</text>
<text x="328.80" y="104.40" font-size="12" fill="#231f20" stroke="#231f20" stroke-width="0.35" text-anchor="middle" textLength="20.80" lengthAdjust="spacingAndGlyphs">OVA</text>
<text x="307.75" y="162.60" font-size="12" fill="#231f20" stroke="#231f20" stroke-width="0.35" textLength="30.50" lengthAdjust="spacingAndGlyphs">IFNαR</text>
<text x="337.95" y="157.60" font-size="10.08" fill="#231f20" stroke="#231f20" stroke-width="0.35" textLength="13.50" lengthAdjust="spacingAndGlyphs">WT</text>
<text x="328.50" y="177.90" font-size="12" fill="#231f20" stroke="#231f20" stroke-width="0.35" text-anchor="middle" textLength="25.00" lengthAdjust="spacingAndGlyphs">eGFP</text>
<text x="306.20" y="228.20" font-size="12" fill="#ed1c24" stroke="#ed1c24" stroke-width="0.35" textLength="30.60" lengthAdjust="spacingAndGlyphs">IFNαR</text>
<text x="336.50" y="223.20" font-size="10.08" fill="#ed1c24" stroke="#ed1c24" stroke-width="0.35" textLength="15.60" lengthAdjust="spacingAndGlyphs">cKO</text>
<text x="329.00" y="243.30" font-size="12" fill="#ed1c24" stroke="#ed1c24" stroke-width="0.35" text-anchor="middle" textLength="25.00" lengthAdjust="spacingAndGlyphs">eGFP</text>
<line x1="359.10" y1="2.40" x2="359.10" y2="262.00" stroke="#333" stroke-width="1.2"/>
<polyline points="353.40,8.00 359.10,2.40 364.80,8.00" fill="none" stroke="#333" stroke-width="1.2"/>
<text x="0" y="0" font-size="12.5" fill="#231f20" stroke="#231f20" stroke-width="0.35" transform="translate(356.20,262.00) rotate(-90)" textLength="30.40" lengthAdjust="spacingAndGlyphs">CD86</text>
<rect x="377.40" y="0.60" width="63.10" height="62.00" fill="none" stroke="#2b2b2b" stroke-width="1.1"/>
<line x1="375.00" y1="6.10" x2="377.40" y2="6.10" stroke="#333" stroke-width="0.8"/>
<line x1="375.00" y1="21.30" x2="377.40" y2="21.30" stroke="#333" stroke-width="0.8"/>
<line x1="375.00" y1="37.90" x2="377.40" y2="37.90" stroke="#333" stroke-width="0.8"/>
<line x1="375.00" y1="59.20" x2="377.40" y2="59.20" stroke="#333" stroke-width="0.8"/>
<line x1="376.00" y1="32.90" x2="377.40" y2="32.90" stroke="#444" stroke-width="0.6"/>
<line x1="376.00" y1="29.98" x2="377.40" y2="29.98" stroke="#444" stroke-width="0.6"/>
<line x1="376.00" y1="27.91" x2="377.40" y2="27.91" stroke="#444" stroke-width="0.6"/>
<line x1="376.00" y1="26.30" x2="377.40" y2="26.30" stroke="#444" stroke-width="0.6"/>
<line x1="376.00" y1="24.98" x2="377.40" y2="24.98" stroke="#444" stroke-width="0.6"/>
<line x1="376.00" y1="23.87" x2="377.40" y2="23.87" stroke="#444" stroke-width="0.6"/>
<line x1="376.00" y1="22.91" x2="377.40" y2="22.91" stroke="#444" stroke-width="0.6"/>
<line x1="376.00" y1="22.06" x2="377.40" y2="22.06" stroke="#444" stroke-width="0.6"/>
<line x1="376.00" y1="16.72" x2="377.40" y2="16.72" stroke="#444" stroke-width="0.6"/>
<line x1="376.00" y1="14.05" x2="377.40" y2="14.05" stroke="#444" stroke-width="0.6"/>
<line x1="376.00" y1="12.15" x2="377.40" y2="12.15" stroke="#444" stroke-width="0.6"/>
<line x1="376.00" y1="10.68" x2="377.40" y2="10.68" stroke="#444" stroke-width="0.6"/>
<line x1="376.00" y1="9.47" x2="377.40" y2="9.47" stroke="#444" stroke-width="0.6"/>
<line x1="376.00" y1="8.45" x2="377.40" y2="8.45" stroke="#444" stroke-width="0.6"/>
<line x1="376.00" y1="7.57" x2="377.40" y2="7.57" stroke="#444" stroke-width="0.6"/>
<line x1="376.00" y1="6.80" x2="377.40" y2="6.80" stroke="#444" stroke-width="0.6"/>
<line x1="376.00" y1="2.60" x2="377.40" y2="2.60" stroke="#444" stroke-width="0.6"/>
<line x1="376.00" y1="43.10" x2="377.40" y2="43.10" stroke="#444" stroke-width="0.6"/>
<line x1="376.00" y1="54.10" x2="377.40" y2="54.10" stroke="#444" stroke-width="0.6"/>
<line x1="376.00" y1="61.60" x2="377.40" y2="61.60" stroke="#444" stroke-width="0.6"/>
<line x1="381.20" y1="62.60" x2="381.20" y2="65.00" stroke="#333" stroke-width="0.8"/>
<line x1="402.70" y1="62.60" x2="402.70" y2="65.00" stroke="#333" stroke-width="0.8"/>
<line x1="419.30" y1="62.60" x2="419.30" y2="65.00" stroke="#333" stroke-width="0.8"/>
<line x1="435.30" y1="62.60" x2="435.30" y2="65.00" stroke="#333" stroke-width="0.8"/>
<line x1="407.70" y1="62.60" x2="407.70" y2="64.00" stroke="#444" stroke-width="0.6"/>
<line x1="410.62" y1="62.60" x2="410.62" y2="64.00" stroke="#444" stroke-width="0.6"/>
<line x1="412.69" y1="62.60" x2="412.69" y2="64.00" stroke="#444" stroke-width="0.6"/>
<line x1="414.30" y1="62.60" x2="414.30" y2="64.00" stroke="#444" stroke-width="0.6"/>
<line x1="415.62" y1="62.60" x2="415.62" y2="64.00" stroke="#444" stroke-width="0.6"/>
<line x1="416.73" y1="62.60" x2="416.73" y2="64.00" stroke="#444" stroke-width="0.6"/>
<line x1="417.69" y1="62.60" x2="417.69" y2="64.00" stroke="#444" stroke-width="0.6"/>
<line x1="418.54" y1="62.60" x2="418.54" y2="64.00" stroke="#444" stroke-width="0.6"/>
<line x1="424.12" y1="62.60" x2="424.12" y2="64.00" stroke="#444" stroke-width="0.6"/>
<line x1="426.93" y1="62.60" x2="426.93" y2="64.00" stroke="#444" stroke-width="0.6"/>
<line x1="428.93" y1="62.60" x2="428.93" y2="64.00" stroke="#444" stroke-width="0.6"/>
<line x1="430.48" y1="62.60" x2="430.48" y2="64.00" stroke="#444" stroke-width="0.6"/>
<line x1="431.75" y1="62.60" x2="431.75" y2="64.00" stroke="#444" stroke-width="0.6"/>
<line x1="432.82" y1="62.60" x2="432.82" y2="64.00" stroke="#444" stroke-width="0.6"/>
<line x1="433.75" y1="62.60" x2="433.75" y2="64.00" stroke="#444" stroke-width="0.6"/>
<line x1="434.57" y1="62.60" x2="434.57" y2="64.00" stroke="#444" stroke-width="0.6"/>
<line x1="396.90" y1="62.60" x2="396.90" y2="64.00" stroke="#444" stroke-width="0.6"/>
<line x1="386.40" y1="62.60" x2="386.40" y2="64.00" stroke="#444" stroke-width="0.6"/>
<line x1="437.90" y1="62.60" x2="437.90" y2="64.00" stroke="#444" stroke-width="0.6"/>
<rect x="375.40" y="46.52" width="2" height="2.4" fill="#111"/>
<rect x="389.78" y="62.60" width="3" height="1.8" fill="#111"/>
<rect x="377.40" y="68.10" width="63.10" height="62.00" fill="none" stroke="#2b2b2b" stroke-width="1.1"/>
<line x1="375.00" y1="73.60" x2="377.40" y2="73.60" stroke="#333" stroke-width="0.8"/>
<line x1="375.00" y1="88.80" x2="377.40" y2="88.80" stroke="#333" stroke-width="0.8"/>
<line x1="375.00" y1="105.40" x2="377.40" y2="105.40" stroke="#333" stroke-width="0.8"/>
<line x1="375.00" y1="126.70" x2="377.40" y2="126.70" stroke="#333" stroke-width="0.8"/>
<line x1="376.00" y1="100.40" x2="377.40" y2="100.40" stroke="#444" stroke-width="0.6"/>
<line x1="376.00" y1="97.48" x2="377.40" y2="97.48" stroke="#444" stroke-width="0.6"/>
<line x1="376.00" y1="95.41" x2="377.40" y2="95.41" stroke="#444" stroke-width="0.6"/>
<line x1="376.00" y1="93.80" x2="377.40" y2="93.80" stroke="#444" stroke-width="0.6"/>
<line x1="376.00" y1="92.48" x2="377.40" y2="92.48" stroke="#444" stroke-width="0.6"/>
<line x1="376.00" y1="91.37" x2="377.40" y2="91.37" stroke="#444" stroke-width="0.6"/>
<line x1="376.00" y1="90.41" x2="377.40" y2="90.41" stroke="#444" stroke-width="0.6"/>
<line x1="376.00" y1="89.56" x2="377.40" y2="89.56" stroke="#444" stroke-width="0.6"/>
<line x1="376.00" y1="84.22" x2="377.40" y2="84.22" stroke="#444" stroke-width="0.6"/>
<line x1="376.00" y1="81.55" x2="377.40" y2="81.55" stroke="#444" stroke-width="0.6"/>
<line x1="376.00" y1="79.65" x2="377.40" y2="79.65" stroke="#444" stroke-width="0.6"/>
<line x1="376.00" y1="78.18" x2="377.40" y2="78.18" stroke="#444" stroke-width="0.6"/>
<line x1="376.00" y1="76.97" x2="377.40" y2="76.97" stroke="#444" stroke-width="0.6"/>
<line x1="376.00" y1="75.95" x2="377.40" y2="75.95" stroke="#444" stroke-width="0.6"/>
<line x1="376.00" y1="75.07" x2="377.40" y2="75.07" stroke="#444" stroke-width="0.6"/>
<line x1="376.00" y1="74.30" x2="377.40" y2="74.30" stroke="#444" stroke-width="0.6"/>
<line x1="376.00" y1="70.10" x2="377.40" y2="70.10" stroke="#444" stroke-width="0.6"/>
<line x1="376.00" y1="110.60" x2="377.40" y2="110.60" stroke="#444" stroke-width="0.6"/>
<line x1="376.00" y1="121.60" x2="377.40" y2="121.60" stroke="#444" stroke-width="0.6"/>
<line x1="376.00" y1="129.10" x2="377.40" y2="129.10" stroke="#444" stroke-width="0.6"/>
<line x1="381.20" y1="130.10" x2="381.20" y2="132.50" stroke="#333" stroke-width="0.8"/>
<line x1="402.70" y1="130.10" x2="402.70" y2="132.50" stroke="#333" stroke-width="0.8"/>
<line x1="419.30" y1="130.10" x2="419.30" y2="132.50" stroke="#333" stroke-width="0.8"/>
<line x1="435.30" y1="130.10" x2="435.30" y2="132.50" stroke="#333" stroke-width="0.8"/>
<line x1="407.70" y1="130.10" x2="407.70" y2="131.50" stroke="#444" stroke-width="0.6"/>
<line x1="410.62" y1="130.10" x2="410.62" y2="131.50" stroke="#444" stroke-width="0.6"/>
<line x1="412.69" y1="130.10" x2="412.69" y2="131.50" stroke="#444" stroke-width="0.6"/>
<line x1="414.30" y1="130.10" x2="414.30" y2="131.50" stroke="#444" stroke-width="0.6"/>
<line x1="415.62" y1="130.10" x2="415.62" y2="131.50" stroke="#444" stroke-width="0.6"/>
<line x1="416.73" y1="130.10" x2="416.73" y2="131.50" stroke="#444" stroke-width="0.6"/>
<line x1="417.69" y1="130.10" x2="417.69" y2="131.50" stroke="#444" stroke-width="0.6"/>
<line x1="418.54" y1="130.10" x2="418.54" y2="131.50" stroke="#444" stroke-width="0.6"/>
<line x1="424.12" y1="130.10" x2="424.12" y2="131.50" stroke="#444" stroke-width="0.6"/>
<line x1="426.93" y1="130.10" x2="426.93" y2="131.50" stroke="#444" stroke-width="0.6"/>
<line x1="428.93" y1="130.10" x2="428.93" y2="131.50" stroke="#444" stroke-width="0.6"/>
<line x1="430.48" y1="130.10" x2="430.48" y2="131.50" stroke="#444" stroke-width="0.6"/>
<line x1="431.75" y1="130.10" x2="431.75" y2="131.50" stroke="#444" stroke-width="0.6"/>
<line x1="432.82" y1="130.10" x2="432.82" y2="131.50" stroke="#444" stroke-width="0.6"/>
<line x1="433.75" y1="130.10" x2="433.75" y2="131.50" stroke="#444" stroke-width="0.6"/>
<line x1="434.57" y1="130.10" x2="434.57" y2="131.50" stroke="#444" stroke-width="0.6"/>
<line x1="396.90" y1="130.10" x2="396.90" y2="131.50" stroke="#444" stroke-width="0.6"/>
<line x1="386.40" y1="130.10" x2="386.40" y2="131.50" stroke="#444" stroke-width="0.6"/>
<line x1="437.90" y1="130.10" x2="437.90" y2="131.50" stroke="#444" stroke-width="0.6"/>
<rect x="375.40" y="114.02" width="2" height="2.4" fill="#111"/>
<rect x="389.78" y="130.10" width="3" height="1.8" fill="#111"/>
<rect x="377.40" y="135.80" width="63.10" height="62.60" fill="none" stroke="#2b2b2b" stroke-width="1.1"/>
<line x1="375.00" y1="141.30" x2="377.40" y2="141.30" stroke="#333" stroke-width="0.8"/>
<line x1="375.00" y1="156.50" x2="377.40" y2="156.50" stroke="#333" stroke-width="0.8"/>
<line x1="375.00" y1="173.10" x2="377.40" y2="173.10" stroke="#333" stroke-width="0.8"/>
<line x1="375.00" y1="194.40" x2="377.40" y2="194.40" stroke="#333" stroke-width="0.8"/>
<line x1="376.00" y1="168.10" x2="377.40" y2="168.10" stroke="#444" stroke-width="0.6"/>
<line x1="376.00" y1="165.18" x2="377.40" y2="165.18" stroke="#444" stroke-width="0.6"/>
<line x1="376.00" y1="163.11" x2="377.40" y2="163.11" stroke="#444" stroke-width="0.6"/>
<line x1="376.00" y1="161.50" x2="377.40" y2="161.50" stroke="#444" stroke-width="0.6"/>
<line x1="376.00" y1="160.18" x2="377.40" y2="160.18" stroke="#444" stroke-width="0.6"/>
<line x1="376.00" y1="159.07" x2="377.40" y2="159.07" stroke="#444" stroke-width="0.6"/>
<line x1="376.00" y1="158.11" x2="377.40" y2="158.11" stroke="#444" stroke-width="0.6"/>
<line x1="376.00" y1="157.26" x2="377.40" y2="157.26" stroke="#444" stroke-width="0.6"/>
<line x1="376.00" y1="151.92" x2="377.40" y2="151.92" stroke="#444" stroke-width="0.6"/>
<line x1="376.00" y1="149.25" x2="377.40" y2="149.25" stroke="#444" stroke-width="0.6"/>
<line x1="376.00" y1="147.35" x2="377.40" y2="147.35" stroke="#444" stroke-width="0.6"/>
<line x1="376.00" y1="145.88" x2="377.40" y2="145.88" stroke="#444" stroke-width="0.6"/>
<line x1="376.00" y1="144.67" x2="377.40" y2="144.67" stroke="#444" stroke-width="0.6"/>
<line x1="376.00" y1="143.65" x2="377.40" y2="143.65" stroke="#444" stroke-width="0.6"/>
<line x1="376.00" y1="142.77" x2="377.40" y2="142.77" stroke="#444" stroke-width="0.6"/>
<line x1="376.00" y1="142.00" x2="377.40" y2="142.00" stroke="#444" stroke-width="0.6"/>
<line x1="376.00" y1="137.80" x2="377.40" y2="137.80" stroke="#444" stroke-width="0.6"/>
<line x1="376.00" y1="178.30" x2="377.40" y2="178.30" stroke="#444" stroke-width="0.6"/>
<line x1="376.00" y1="189.30" x2="377.40" y2="189.30" stroke="#444" stroke-width="0.6"/>
<line x1="376.00" y1="196.80" x2="377.40" y2="196.80" stroke="#444" stroke-width="0.6"/>
<line x1="381.20" y1="198.40" x2="381.20" y2="200.80" stroke="#333" stroke-width="0.8"/>
<line x1="402.70" y1="198.40" x2="402.70" y2="200.80" stroke="#333" stroke-width="0.8"/>
<line x1="419.30" y1="198.40" x2="419.30" y2="200.80" stroke="#333" stroke-width="0.8"/>
<line x1="435.30" y1="198.40" x2="435.30" y2="200.80" stroke="#333" stroke-width="0.8"/>
<line x1="407.70" y1="198.40" x2="407.70" y2="199.80" stroke="#444" stroke-width="0.6"/>
<line x1="410.62" y1="198.40" x2="410.62" y2="199.80" stroke="#444" stroke-width="0.6"/>
<line x1="412.69" y1="198.40" x2="412.69" y2="199.80" stroke="#444" stroke-width="0.6"/>
<line x1="414.30" y1="198.40" x2="414.30" y2="199.80" stroke="#444" stroke-width="0.6"/>
<line x1="415.62" y1="198.40" x2="415.62" y2="199.80" stroke="#444" stroke-width="0.6"/>
<line x1="416.73" y1="198.40" x2="416.73" y2="199.80" stroke="#444" stroke-width="0.6"/>
<line x1="417.69" y1="198.40" x2="417.69" y2="199.80" stroke="#444" stroke-width="0.6"/>
<line x1="418.54" y1="198.40" x2="418.54" y2="199.80" stroke="#444" stroke-width="0.6"/>
<line x1="424.12" y1="198.40" x2="424.12" y2="199.80" stroke="#444" stroke-width="0.6"/>
<line x1="426.93" y1="198.40" x2="426.93" y2="199.80" stroke="#444" stroke-width="0.6"/>
<line x1="428.93" y1="198.40" x2="428.93" y2="199.80" stroke="#444" stroke-width="0.6"/>
<line x1="430.48" y1="198.40" x2="430.48" y2="199.80" stroke="#444" stroke-width="0.6"/>
<line x1="431.75" y1="198.40" x2="431.75" y2="199.80" stroke="#444" stroke-width="0.6"/>
<line x1="432.82" y1="198.40" x2="432.82" y2="199.80" stroke="#444" stroke-width="0.6"/>
<line x1="433.75" y1="198.40" x2="433.75" y2="199.80" stroke="#444" stroke-width="0.6"/>
<line x1="434.57" y1="198.40" x2="434.57" y2="199.80" stroke="#444" stroke-width="0.6"/>
<line x1="396.90" y1="198.40" x2="396.90" y2="199.80" stroke="#444" stroke-width="0.6"/>
<line x1="386.40" y1="198.40" x2="386.40" y2="199.80" stroke="#444" stroke-width="0.6"/>
<line x1="437.90" y1="198.40" x2="437.90" y2="199.80" stroke="#444" stroke-width="0.6"/>
<rect x="375.40" y="182.18" width="2" height="2.4" fill="#111"/>
<rect x="389.78" y="198.40" width="3" height="1.8" fill="#111"/>
<rect x="377.40" y="203.60" width="63.10" height="62.60" fill="none" stroke="#2b2b2b" stroke-width="1.1"/>
<line x1="375.00" y1="209.10" x2="377.40" y2="209.10" stroke="#333" stroke-width="0.8"/>
<line x1="375.00" y1="224.30" x2="377.40" y2="224.30" stroke="#333" stroke-width="0.8"/>
<line x1="375.00" y1="240.90" x2="377.40" y2="240.90" stroke="#333" stroke-width="0.8"/>
<line x1="375.00" y1="262.20" x2="377.40" y2="262.20" stroke="#333" stroke-width="0.8"/>
<line x1="376.00" y1="235.90" x2="377.40" y2="235.90" stroke="#444" stroke-width="0.6"/>
<line x1="376.00" y1="232.98" x2="377.40" y2="232.98" stroke="#444" stroke-width="0.6"/>
<line x1="376.00" y1="230.91" x2="377.40" y2="230.91" stroke="#444" stroke-width="0.6"/>
<line x1="376.00" y1="229.30" x2="377.40" y2="229.30" stroke="#444" stroke-width="0.6"/>
<line x1="376.00" y1="227.98" x2="377.40" y2="227.98" stroke="#444" stroke-width="0.6"/>
<line x1="376.00" y1="226.87" x2="377.40" y2="226.87" stroke="#444" stroke-width="0.6"/>
<line x1="376.00" y1="225.91" x2="377.40" y2="225.91" stroke="#444" stroke-width="0.6"/>
<line x1="376.00" y1="225.06" x2="377.40" y2="225.06" stroke="#444" stroke-width="0.6"/>
<line x1="376.00" y1="219.72" x2="377.40" y2="219.72" stroke="#444" stroke-width="0.6"/>
<line x1="376.00" y1="217.05" x2="377.40" y2="217.05" stroke="#444" stroke-width="0.6"/>
<line x1="376.00" y1="215.15" x2="377.40" y2="215.15" stroke="#444" stroke-width="0.6"/>
<line x1="376.00" y1="213.68" x2="377.40" y2="213.68" stroke="#444" stroke-width="0.6"/>
<line x1="376.00" y1="212.47" x2="377.40" y2="212.47" stroke="#444" stroke-width="0.6"/>
<line x1="376.00" y1="211.45" x2="377.40" y2="211.45" stroke="#444" stroke-width="0.6"/>
<line x1="376.00" y1="210.57" x2="377.40" y2="210.57" stroke="#444" stroke-width="0.6"/>
<line x1="376.00" y1="209.80" x2="377.40" y2="209.80" stroke="#444" stroke-width="0.6"/>
<line x1="376.00" y1="205.60" x2="377.40" y2="205.60" stroke="#444" stroke-width="0.6"/>
<line x1="376.00" y1="246.10" x2="377.40" y2="246.10" stroke="#444" stroke-width="0.6"/>
<line x1="376.00" y1="257.10" x2="377.40" y2="257.10" stroke="#444" stroke-width="0.6"/>
<line x1="376.00" y1="264.60" x2="377.40" y2="264.60" stroke="#444" stroke-width="0.6"/>
<line x1="381.20" y1="266.20" x2="381.20" y2="268.60" stroke="#333" stroke-width="0.8"/>
<line x1="402.70" y1="266.20" x2="402.70" y2="268.60" stroke="#333" stroke-width="0.8"/>
<line x1="419.30" y1="266.20" x2="419.30" y2="268.60" stroke="#333" stroke-width="0.8"/>
<line x1="435.30" y1="266.20" x2="435.30" y2="268.60" stroke="#333" stroke-width="0.8"/>
<line x1="407.70" y1="266.20" x2="407.70" y2="267.60" stroke="#444" stroke-width="0.6"/>
<line x1="410.62" y1="266.20" x2="410.62" y2="267.60" stroke="#444" stroke-width="0.6"/>
<line x1="412.69" y1="266.20" x2="412.69" y2="267.60" stroke="#444" stroke-width="0.6"/>
<line x1="414.30" y1="266.20" x2="414.30" y2="267.60" stroke="#444" stroke-width="0.6"/>
<line x1="415.62" y1="266.20" x2="415.62" y2="267.60" stroke="#444" stroke-width="0.6"/>
<line x1="416.73" y1="266.20" x2="416.73" y2="267.60" stroke="#444" stroke-width="0.6"/>
<line x1="417.69" y1="266.20" x2="417.69" y2="267.60" stroke="#444" stroke-width="0.6"/>
<line x1="418.54" y1="266.20" x2="418.54" y2="267.60" stroke="#444" stroke-width="0.6"/>
<line x1="424.12" y1="266.20" x2="424.12" y2="267.60" stroke="#444" stroke-width="0.6"/>
<line x1="426.93" y1="266.20" x2="426.93" y2="267.60" stroke="#444" stroke-width="0.6"/>
<line x1="428.93" y1="266.20" x2="428.93" y2="267.60" stroke="#444" stroke-width="0.6"/>
<line x1="430.48" y1="266.20" x2="430.48" y2="267.60" stroke="#444" stroke-width="0.6"/>
<line x1="431.75" y1="266.20" x2="431.75" y2="267.60" stroke="#444" stroke-width="0.6"/>
<line x1="432.82" y1="266.20" x2="432.82" y2="267.60" stroke="#444" stroke-width="0.6"/>
<line x1="433.75" y1="266.20" x2="433.75" y2="267.60" stroke="#444" stroke-width="0.6"/>
<line x1="434.57" y1="266.20" x2="434.57" y2="267.60" stroke="#444" stroke-width="0.6"/>
<line x1="396.90" y1="266.20" x2="396.90" y2="267.60" stroke="#444" stroke-width="0.6"/>
<line x1="386.40" y1="266.20" x2="386.40" y2="267.60" stroke="#444" stroke-width="0.6"/>
<line x1="437.90" y1="266.20" x2="437.90" y2="267.60" stroke="#444" stroke-width="0.6"/>
<rect x="375.40" y="249.98" width="2" height="2.4" fill="#111"/>
<rect x="389.78" y="266.20" width="3" height="1.8" fill="#111"/>
<rect x="402.40" y="11.40" width="34.70" height="30.80" fill="none" stroke="#3a3a3a" stroke-width="1.0"/>
<rect x="400.80" y="79.30" width="34.30" height="30.40" fill="none" stroke="#3a3a3a" stroke-width="1.0"/>
<rect x="400.60" y="146.80" width="34.40" height="31.10" fill="none" stroke="#3a3a3a" stroke-width="1.0"/>
<rect x="400.60" y="215.30" width="34.40" height="30.30" fill="none" stroke="#3a3a3a" stroke-width="1.0"/>
<text x="408.70" y="58.00" font-size="14" fill="#231f20" stroke="#231f20" stroke-width="0.15" textLength="24.50" lengthAdjust="spacingAndGlyphs">2.10</text>
<text x="409.50" y="128.00" font-size="14" fill="#231f20" stroke="#231f20" stroke-width="0.15" textLength="24.30" lengthAdjust="spacingAndGlyphs">37.4</text>
<text x="409.50" y="195.40" font-size="14" fill="#231f20" stroke="#231f20" stroke-width="0.15" textLength="24.30" lengthAdjust="spacingAndGlyphs">37.5</text>
<text x="408.80" y="263.60" font-size="14" fill="#ed1c24" stroke="#ed1c24" stroke-width="0.15" textLength="25.00" lengthAdjust="spacingAndGlyphs">6.17</text>
<g transform="translate(371.90,211.00) rotate(-90)">
<text x="-6.15" y="0.00" font-size="8.4" fill="#231f20" stroke="#231f20" stroke-width="0.25" textLength="8.00" lengthAdjust="spacingAndGlyphs">10</text>
<text x="2.05" y="-3.10" font-size="6.2" fill="#231f20" stroke="#231f20" stroke-width="0.08" textLength="4.30" lengthAdjust="spacingAndGlyphs">5</text>
</g>
<g transform="translate(371.90,225.70) rotate(-90)">
<text x="-6.15" y="0.00" font-size="8.4" fill="#231f20" stroke="#231f20" stroke-width="0.25" textLength="8.00" lengthAdjust="spacingAndGlyphs">10</text>
<text x="2.05" y="-3.10" font-size="6.2" fill="#231f20" stroke="#231f20" stroke-width="0.08" textLength="4.30" lengthAdjust="spacingAndGlyphs">4</text>
</g>
<g transform="translate(371.90,240.60) rotate(-90)">
<text x="-6.15" y="0.00" font-size="8.4" fill="#231f20" stroke="#231f20" stroke-width="0.25" textLength="8.00" lengthAdjust="spacingAndGlyphs">10</text>
<text x="2.05" y="-3.10" font-size="6.2" fill="#231f20" stroke="#231f20" stroke-width="0.08" textLength="4.30" lengthAdjust="spacingAndGlyphs">3</text>
</g>
<g transform="translate(371.90,251.60) rotate(-90)">
<text x="0.00" y="0.00" font-size="8.4" fill="#231f20" stroke="#231f20" stroke-width="0.25" text-anchor="middle" textLength="4.62" lengthAdjust="spacingAndGlyphs">0</text>
</g>
<g transform="translate(371.90,262.30) rotate(-90)">
<text x="-6.70" y="0.00" font-size="8.4" fill="#231f20" stroke="#231f20" stroke-width="0.25" textLength="8.00" lengthAdjust="spacingAndGlyphs">10</text>
<text x="1.50" y="-3.10" font-size="6.2" fill="#231f20" stroke="#231f20" stroke-width="0.08" textLength="5.40" lengthAdjust="spacingAndGlyphs">-3</text>
</g>
<text x="374.50" y="277.00" font-size="8.4" fill="#231f20" stroke="#231f20" stroke-width="0.25" textLength="8.00" lengthAdjust="spacingAndGlyphs">10</text>
<text x="382.70" y="273.90" font-size="6.2" fill="#231f20" stroke="#231f20" stroke-width="0.08" textLength="5.40" lengthAdjust="spacingAndGlyphs">-3</text>
<text x="391.80" y="277.00" font-size="8.4" fill="#231f20" stroke="#231f20" stroke-width="0.25" text-anchor="middle" textLength="4.62" lengthAdjust="spacingAndGlyphs">0</text>
<text x="396.55" y="277.00" font-size="8.4" fill="#231f20" stroke="#231f20" stroke-width="0.25" textLength="8.00" lengthAdjust="spacingAndGlyphs">10</text>
<text x="404.75" y="273.90" font-size="6.2" fill="#231f20" stroke="#231f20" stroke-width="0.08" textLength="4.30" lengthAdjust="spacingAndGlyphs">3</text>
<text x="413.15" y="277.00" font-size="8.4" fill="#231f20" stroke="#231f20" stroke-width="0.25" textLength="8.00" lengthAdjust="spacingAndGlyphs">10</text>
<text x="421.35" y="273.90" font-size="6.2" fill="#231f20" stroke="#231f20" stroke-width="0.08" textLength="4.30" lengthAdjust="spacingAndGlyphs">4</text>
<text x="429.15" y="277.00" font-size="8.4" fill="#231f20" stroke="#231f20" stroke-width="0.25" textLength="8.00" lengthAdjust="spacingAndGlyphs">10</text>
<text x="437.35" y="273.90" font-size="6.2" fill="#231f20" stroke="#231f20" stroke-width="0.08" textLength="4.30" lengthAdjust="spacingAndGlyphs">5</text>
<line x1="378.00" y1="283.50" x2="438.40" y2="283.50" stroke="#333" stroke-width="1.2"/>
<polyline points="433.60,277.80 438.40,283.00 433.60,288.20" fill="none" stroke="#333" stroke-width="1.2"/>
<text x="379.60" y="294.70" font-size="12.5" fill="#231f20" stroke="#231f20" stroke-width="0.35" textLength="29.20" lengthAdjust="spacingAndGlyphs">CD40</text>
<path d="M409.2 38.3h0.9v0.9h-0.9zM404.0 44.3h0.9v0.9h-0.9zM395.4 44.8h0.9v0.9h-0.9zM402.6 44.7h0.9v0.9h-0.9zM399.6 42.5h0.9v0.9h-0.9zM394.4 44.3h0.9v0.9h-0.9zM404.6 41.2h0.9v0.9h-0.9zM394.6 42.5h0.9v0.9h-0.9zM414.8 40.1h0.9v0.9h-0.9zM399.7 34.0h0.9v0.9h-0.9zM403.7 42.9h0.9v0.9h-0.9zM409.0 40.3h0.9v0.9h-0.9zM400.4 44.7h0.9v0.9h-0.9zM400.7 40.2h0.9v0.9h-0.9zM409.1 45.2h0.9v0.9h-0.9zM392.1 44.3h0.9v0.9h-0.9zM401.7 42.9h0.9v0.9h-0.9zM396.7 41.1h0.9v0.9h-0.9zM412.0 41.1h0.9v0.9h-0.9zM392.2 41.9h0.9v0.9h-0.9zM409.8 41.9h0.9v0.9h-0.9zM410.2 41.1h0.9v0.9h-0.9zM396.0 45.8h0.9v0.9h-0.9zM400.4 44.7h0.9v0.9h-0.9zM396.2 44.3h0.9v0.9h-0.9zM402.8 43.0h0.9v0.9h-0.9zM403.5 42.1h0.9v0.9h-0.9zM399.5 46.0h0.9v0.9h-0.9zM399.1 40.5h0.9v0.9h-0.9zM396.9 44.5h0.9v0.9h-0.9zM399.7 43.7h0.9v0.9h-0.9zM400.2 43.5h0.9v0.9h-0.9zM397.6 39.7h0.9v0.9h-0.9zM403.5 45.1h0.9v0.9h-0.9zM401.9 41.4h0.9v0.9h-0.9zM400.9 39.2h0.9v0.9h-0.9zM396.4 47.3h0.9v0.9h-0.9zM397.0 50.0h0.9v0.9h-0.9zM396.2 39.9h0.9v0.9h-0.9zM396.9 46.3h0.9v0.9h-0.9zM402.7 42.4h0.9v0.9h-0.9zM408.4 41.6h0.9v0.9h-0.9zM400.7 44.8h0.9v0.9h-0.9zM409.6 42.0h0.9v0.9h-0.9zM403.6 37.5h0.9v0.9h-0.9zM400.2 45.5h0.9v0.9h-0.9zM400.0 46.8h0.9v0.9h-0.9zM404.2 44.2h0.9v0.9h-0.9zM405.9 39.5h0.9v0.9h-0.9zM404.0 50.3h0.9v0.9h-0.9zM399.5 46.3h0.9v0.9h-0.9zM404.9 40.7h0.9v0.9h-0.9zM394.4 46.3h0.9v0.9h-0.9zM403.3 45.4h0.9v0.9h-0.9zM403.9 41.3h0.9v0.9h-0.9zM405.0 42.6h0.9v0.9h-0.9zM401.1 42.7h0.9v0.9h-0.9zM399.7 45.6h0.9v0.9h-0.9zM393.9 43.6h0.9v0.9h-0.9zM398.0 38.7h0.9v0.9h-0.9zM395.1 38.2h0.9v0.9h-0.9zM397.4 46.2h0.9v0.9h-0.9zM402.7 41.5h0.9v0.9h-0.9zM396.9 39.4h0.9v0.9h-0.9zM409.8 40.2h0.9v0.9h-0.9zM404.3 37.9h0.9v0.9h-0.9zM396.6 38.2h0.9v0.9h-0.9zM405.2 43.9h0.9v0.9h-0.9zM400.8 36.4h0.9v0.9h-0.9zM395.0 40.4h0.9v0.9h-0.9zM400.5 43.7h0.9v0.9h-0.9zM404.1 43.6h0.9v0.9h-0.9zM409.1 42.9h0.9v0.9h-0.9zM392.8 44.6h0.9v0.9h-0.9zM393.3 42.3h0.9v0.9h-0.9zM399.6 43.2h0.9v0.9h-0.9zM400.3 37.3h0.9v0.9h-0.9zM393.8 45.8h0.9v0.9h-0.9zM398.6 42.6h0.9v0.9h-0.9zM398.7 40.9h0.9v0.9h-0.9zM404.0 42.4h0.9v0.9h-0.9zM398.7 41.3h0.9v0.9h-0.9zM395.5 35.5h0.9v0.9h-0.9zM395.2 45.4h0.9v0.9h-0.9zM392.8 47.1h0.9v0.9h-0.9zM398.9 38.7h0.9v0.9h-0.9zM398.3 42.7h0.9v0.9h-0.9zM403.1 43.7h0.9v0.9h-0.9zM398.7 40.6h0.9v0.9h-0.9zM399.2 43.1h0.9v0.9h-0.9zM404.1 42.1h0.9v0.9h-0.9zM394.6 40.8h0.9v0.9h-0.9zM397.1 41.7h0.9v0.9h-0.9zM394.3 45.2h0.9v0.9h-0.9zM397.7 44.4h0.9v0.9h-0.9zM402.0 40.6h0.9v0.9h-0.9zM411.2 36.7h0.9v0.9h-0.9zM405.7 40.8h0.9v0.9h-0.9zM402.4 33.5h0.9v0.9h-0.9zM396.6 45.5h0.9v0.9h-0.9zM406.2 48.4h0.9v0.9h-0.9zM403.3 46.0h0.9v0.9h-0.9zM405.1 44.0h0.9v0.9h-0.9zM402.3 41.4h0.9v0.9h-0.9zM401.1 38.7h0.9v0.9h-0.9zM404.5 37.3h0.9v0.9h-0.9zM404.1 48.6h0.9v0.9h-0.9zM398.9 43.6h0.9v0.9h-0.9zM405.8 40.4h0.9v0.9h-0.9zM396.3 45.6h0.9v0.9h-0.9z" fill="#3a4cff" fill-opacity="0.45"/>
<path d="M399.6 47.6h0.9v0.9h-0.9zM403.6 45.4h0.9v0.9h-0.9zM397.9 45.4h0.9v0.9h-0.9zM402.3 44.0h0.9v0.9h-0.9zM399.5 45.0h0.9v0.9h-0.9zM394.5 48.5h0.9v0.9h-0.9zM402.3 45.6h0.9v0.9h-0.9zM394.6 48.7h0.9v0.9h-0.9zM396.9 47.2h0.9v0.9h-0.9zM403.4 47.9h0.9v0.9h-0.9zM397.3 48.2h0.9v0.9h-0.9zM394.4 46.9h0.9v0.9h-0.9zM401.9 42.9h0.9v0.9h-0.9zM401.5 44.7h0.9v0.9h-0.9zM396.6 45.9h0.9v0.9h-0.9zM396.1 44.2h0.9v0.9h-0.9zM396.5 43.4h0.9v0.9h-0.9zM396.8 47.2h0.9v0.9h-0.9zM398.8 45.7h0.9v0.9h-0.9zM393.5 47.5h0.9v0.9h-0.9zM395.7 50.2h0.9v0.9h-0.9zM400.0 45.7h0.9v0.9h-0.9zM394.9 45.3h0.9v0.9h-0.9zM393.2 46.4h0.9v0.9h-0.9zM398.4 47.4h0.9v0.9h-0.9zM394.2 47.0h0.9v0.9h-0.9zM407.3 40.5h0.9v0.9h-0.9zM395.0 47.2h0.9v0.9h-0.9zM397.8 47.3h0.9v0.9h-0.9zM396.2 47.5h0.9v0.9h-0.9zM397.5 48.1h0.9v0.9h-0.9zM396.6 44.3h0.9v0.9h-0.9zM393.1 48.6h0.9v0.9h-0.9zM394.7 48.3h0.9v0.9h-0.9zM400.1 46.6h0.9v0.9h-0.9zM399.0 45.9h0.9v0.9h-0.9zM398.6 45.0h0.9v0.9h-0.9zM396.9 48.2h0.9v0.9h-0.9zM393.8 48.5h0.9v0.9h-0.9zM404.1 44.0h0.9v0.9h-0.9zM397.5 46.1h0.9v0.9h-0.9zM403.2 46.1h0.9v0.9h-0.9zM400.3 44.4h0.9v0.9h-0.9zM396.9 46.5h0.9v0.9h-0.9zM399.9 42.1h0.9v0.9h-0.9zM399.9 45.7h0.9v0.9h-0.9zM398.9 47.0h0.9v0.9h-0.9zM402.7 44.2h0.9v0.9h-0.9zM392.5 44.3h0.9v0.9h-0.9zM392.3 48.1h0.9v0.9h-0.9zM403.8 46.3h0.9v0.9h-0.9zM394.7 45.4h0.9v0.9h-0.9zM399.3 47.3h0.9v0.9h-0.9zM392.6 44.7h0.9v0.9h-0.9zM398.2 46.8h0.9v0.9h-0.9zM391.8 47.0h0.9v0.9h-0.9zM395.0 47.9h0.9v0.9h-0.9zM396.5 46.4h0.9v0.9h-0.9zM396.0 49.0h0.9v0.9h-0.9zM402.3 44.7h0.9v0.9h-0.9zM400.0 44.3h0.9v0.9h-0.9zM397.6 48.1h0.9v0.9h-0.9zM402.8 44.6h0.9v0.9h-0.9zM396.8 47.0h0.9v0.9h-0.9zM394.5 47.8h0.9v0.9h-0.9zM391.8 43.0h0.9v0.9h-0.9zM397.3 47.0h0.9v0.9h-0.9zM395.2 48.8h0.9v0.9h-0.9zM395.7 45.4h0.9v0.9h-0.9zM398.3 42.8h0.9v0.9h-0.9zM394.3 46.9h0.9v0.9h-0.9zM400.3 45.6h0.9v0.9h-0.9zM398.0 44.9h0.9v0.9h-0.9zM398.8 49.9h0.9v0.9h-0.9zM394.5 47.0h0.9v0.9h-0.9zM398.1 48.6h0.9v0.9h-0.9zM399.7 47.8h0.9v0.9h-0.9zM397.9 46.9h0.9v0.9h-0.9zM400.8 46.7h0.9v0.9h-0.9zM403.1 42.7h0.9v0.9h-0.9zM394.2 39.3h0.9v0.9h-0.9zM400.1 45.1h0.9v0.9h-0.9zM396.9 46.0h0.9v0.9h-0.9zM394.7 45.0h0.9v0.9h-0.9zM394.8 48.3h0.9v0.9h-0.9zM397.2 46.6h0.9v0.9h-0.9zM396.7 48.6h0.9v0.9h-0.9zM398.9 45.8h0.9v0.9h-0.9zM399.6 45.7h0.9v0.9h-0.9zM393.0 50.5h0.9v0.9h-0.9zM398.5 44.1h0.9v0.9h-0.9zM401.4 46.5h0.9v0.9h-0.9zM398.7 48.2h0.9v0.9h-0.9zM397.7 46.0h0.9v0.9h-0.9zM397.0 45.9h0.9v0.9h-0.9zM398.4 46.4h0.9v0.9h-0.9zM399.5 45.2h0.9v0.9h-0.9zM396.0 41.9h0.9v0.9h-0.9zM395.6 48.3h0.9v0.9h-0.9zM402.1 44.8h0.9v0.9h-0.9zM397.1 50.0h0.9v0.9h-0.9zM396.0 48.3h0.9v0.9h-0.9zM403.6 45.4h0.9v0.9h-0.9zM401.6 44.1h0.9v0.9h-0.9zM397.8 46.2h0.9v0.9h-0.9zM397.9 48.9h0.9v0.9h-0.9zM406.2 43.4h0.9v0.9h-0.9zM394.9 48.0h0.9v0.9h-0.9zM393.0 48.3h0.9v0.9h-0.9zM399.1 45.5h0.9v0.9h-0.9zM398.5 42.8h0.9v0.9h-0.9zM399.4 42.6h0.9v0.9h-0.9zM394.0 45.8h0.9v0.9h-0.9zM395.7 48.6h0.9v0.9h-0.9zM397.2 45.6h0.9v0.9h-0.9zM399.7 49.5h0.9v0.9h-0.9zM397.2 47.3h0.9v0.9h-0.9zM402.0 46.2h0.9v0.9h-0.9zM404.9 40.7h0.9v0.9h-0.9zM397.0 47.4h0.9v0.9h-0.9zM401.1 47.3h0.9v0.9h-0.9zM395.5 44.4h0.9v0.9h-0.9zM397.8 48.7h0.9v0.9h-0.9zM392.3 45.0h0.9v0.9h-0.9zM396.2 42.3h0.9v0.9h-0.9zM395.8 45.7h0.9v0.9h-0.9zM398.5 44.7h0.9v0.9h-0.9zM393.4 46.3h0.9v0.9h-0.9zM396.5 45.1h0.9v0.9h-0.9zM397.3 48.1h0.9v0.9h-0.9zM402.3 49.4h0.9v0.9h-0.9zM393.8 46.1h0.9v0.9h-0.9zM394.1 46.9h0.9v0.9h-0.9zM398.5 43.2h0.9v0.9h-0.9zM398.8 46.1h0.9v0.9h-0.9zM401.0 41.6h0.9v0.9h-0.9zM400.3 46.4h0.9v0.9h-0.9zM399.0 47.1h0.9v0.9h-0.9zM402.1 45.1h0.9v0.9h-0.9zM400.3 45.0h0.9v0.9h-0.9zM399.6 44.2h0.9v0.9h-0.9zM397.2 50.3h0.9v0.9h-0.9zM398.7 45.8h0.9v0.9h-0.9zM392.2 45.6h0.9v0.9h-0.9zM398.1 48.4h0.9v0.9h-0.9zM398.9 47.3h0.9v0.9h-0.9zM397.4 49.5h0.9v0.9h-0.9zM395.3 45.6h0.9v0.9h-0.9zM400.5 46.0h0.9v0.9h-0.9zM395.7 45.4h0.9v0.9h-0.9zM396.2 48.0h0.9v0.9h-0.9zM397.9 43.6h0.9v0.9h-0.9zM398.7 46.6h0.9v0.9h-0.9zM393.4 48.9h0.9v0.9h-0.9zM395.8 46.0h0.9v0.9h-0.9zM400.6 48.8h0.9v0.9h-0.9zM394.5 47.9h0.9v0.9h-0.9zM395.5 49.4h0.9v0.9h-0.9zM394.8 48.7h0.9v0.9h-0.9zM404.8 39.5h0.9v0.9h-0.9zM395.5 47.9h0.9v0.9h-0.9zM396.4 45.1h0.9v0.9h-0.9zM405.5 45.2h0.9v0.9h-0.9zM394.8 47.2h0.9v0.9h-0.9zM402.0 45.9h0.9v0.9h-0.9zM401.9 47.3h0.9v0.9h-0.9zM394.1 48.9h0.9v0.9h-0.9zM399.2 47.6h0.9v0.9h-0.9zM400.8 47.5h0.9v0.9h-0.9zM399.5 40.6h0.9v0.9h-0.9zM397.9 47.4h0.9v0.9h-0.9zM406.7 42.7h0.9v0.9h-0.9zM395.7 46.8h0.9v0.9h-0.9zM400.3 44.9h0.9v0.9h-0.9zM401.2 44.0h0.9v0.9h-0.9zM397.8 45.2h0.9v0.9h-0.9zM397.4 44.9h0.9v0.9h-0.9zM398.0 45.1h0.9v0.9h-0.9zM398.2 48.5h0.9v0.9h-0.9zM393.1 46.9h0.9v0.9h-0.9zM399.3 47.3h0.9v0.9h-0.9zM394.9 42.2h0.9v0.9h-0.9zM402.0 46.3h0.9v0.9h-0.9zM396.9 45.9h0.9v0.9h-0.9zM397.9 45.4h0.9v0.9h-0.9zM392.7 45.6h0.9v0.9h-0.9zM394.4 45.6h0.9v0.9h-0.9zM392.7 48.7h0.9v0.9h-0.9zM392.1 48.8h0.9v0.9h-0.9zM393.1 48.0h0.9v0.9h-0.9zM402.5 46.0h0.9v0.9h-0.9zM394.1 47.1h0.9v0.9h-0.9zM396.9 42.6h0.9v0.9h-0.9zM394.7 47.3h0.9v0.9h-0.9zM395.2 47.0h0.9v0.9h-0.9zM400.2 47.7h0.9v0.9h-0.9zM400.8 47.1h0.9v0.9h-0.9zM395.9 46.7h0.9v0.9h-0.9zM395.8 46.0h0.9v0.9h-0.9zM395.6 42.9h0.9v0.9h-0.9z" fill="#1a2cff" fill-opacity="0.55"/>
<g filter="url(#b5)" transform="rotate(-6 396.50 47.30)"><ellipse cx="396.50" cy="47.30" rx="5.6" ry="2.7" fill="#1a2dff"/><ellipse cx="396.20" cy="47.40" rx="4" ry="2.2" fill="#1a80ff"/><ellipse cx="396.00" cy="47.50" rx="3.2" ry="1.6" fill="#00c8ff"/><ellipse cx="395.90" cy="47.50" rx="2.4" ry="1.2" fill="#33e04a"/><ellipse cx="395.70" cy="47.50" rx="1.5" ry="0.8" fill="#f2e600"/></g>
<path d="M399.8 105.1h0.9v0.9h-0.9zM396.8 108.2h0.9v0.9h-0.9zM403.5 100.7h0.9v0.9h-0.9zM404.5 86.6h0.9v0.9h-0.9zM395.6 99.7h0.9v0.9h-0.9zM413.3 106.0h0.9v0.9h-0.9zM403.2 100.3h0.9v0.9h-0.9zM398.1 94.9h0.9v0.9h-0.9zM406.6 100.5h0.9v0.9h-0.9zM400.0 101.9h0.9v0.9h-0.9zM403.3 99.2h0.9v0.9h-0.9zM401.2 101.2h0.9v0.9h-0.9zM404.5 104.7h0.9v0.9h-0.9zM397.2 107.7h0.9v0.9h-0.9zM404.9 101.0h0.9v0.9h-0.9zM412.8 103.0h0.9v0.9h-0.9zM392.0 102.8h0.9v0.9h-0.9zM409.7 103.6h0.9v0.9h-0.9zM408.1 101.4h0.9v0.9h-0.9zM396.6 104.7h0.9v0.9h-0.9zM403.3 96.9h0.9v0.9h-0.9zM418.7 96.8h0.9v0.9h-0.9zM396.2 104.9h0.9v0.9h-0.9zM400.6 100.5h0.9v0.9h-0.9zM407.6 97.1h0.9v0.9h-0.9zM399.8 112.3h0.9v0.9h-0.9zM399.3 107.0h0.9v0.9h-0.9zM400.6 102.8h0.9v0.9h-0.9zM401.2 100.2h0.9v0.9h-0.9zM393.4 107.7h0.9v0.9h-0.9zM401.5 103.9h0.9v0.9h-0.9zM404.5 101.2h0.9v0.9h-0.9zM395.8 105.5h0.9v0.9h-0.9zM405.3 102.7h0.9v0.9h-0.9zM400.4 103.7h0.9v0.9h-0.9zM406.0 99.1h0.9v0.9h-0.9zM406.6 101.6h0.9v0.9h-0.9zM406.0 106.1h0.9v0.9h-0.9zM397.8 105.4h0.9v0.9h-0.9zM395.5 105.3h0.9v0.9h-0.9zM413.7 100.8h0.9v0.9h-0.9zM403.1 105.0h0.9v0.9h-0.9zM409.3 100.1h0.9v0.9h-0.9zM403.9 94.4h0.9v0.9h-0.9zM399.6 107.9h0.9v0.9h-0.9zM408.7 97.0h0.9v0.9h-0.9zM396.4 106.8h0.9v0.9h-0.9zM396.0 104.5h0.9v0.9h-0.9zM407.0 94.7h0.9v0.9h-0.9zM407.4 109.3h0.9v0.9h-0.9zM408.1 98.8h0.9v0.9h-0.9zM399.7 107.6h0.9v0.9h-0.9zM411.0 97.5h0.9v0.9h-0.9zM407.8 97.8h0.9v0.9h-0.9zM403.4 100.6h0.9v0.9h-0.9zM407.0 105.0h0.9v0.9h-0.9zM394.5 110.3h0.9v0.9h-0.9zM401.1 100.9h0.9v0.9h-0.9zM402.1 107.2h0.9v0.9h-0.9zM412.8 95.7h0.9v0.9h-0.9zM398.9 97.9h0.9v0.9h-0.9zM411.0 94.5h0.9v0.9h-0.9zM398.3 100.8h0.9v0.9h-0.9zM398.3 100.9h0.9v0.9h-0.9zM403.1 104.5h0.9v0.9h-0.9zM402.4 104.2h0.9v0.9h-0.9zM401.2 111.5h0.9v0.9h-0.9zM393.5 101.9h0.9v0.9h-0.9zM398.5 102.4h0.9v0.9h-0.9zM395.7 107.5h0.9v0.9h-0.9zM399.7 99.0h0.9v0.9h-0.9zM404.7 108.1h0.9v0.9h-0.9zM404.4 99.9h0.9v0.9h-0.9zM401.8 102.7h0.9v0.9h-0.9zM403.2 105.8h0.9v0.9h-0.9zM394.6 97.6h0.9v0.9h-0.9zM399.0 101.3h0.9v0.9h-0.9zM403.0 98.8h0.9v0.9h-0.9zM408.1 108.7h0.9v0.9h-0.9zM393.4 105.6h0.9v0.9h-0.9zM393.4 113.6h0.9v0.9h-0.9zM393.4 101.6h0.9v0.9h-0.9zM396.0 112.4h0.9v0.9h-0.9zM396.8 106.3h0.9v0.9h-0.9zM406.7 105.7h0.9v0.9h-0.9zM413.6 97.0h0.9v0.9h-0.9zM402.7 103.4h0.9v0.9h-0.9zM414.0 98.8h0.9v0.9h-0.9zM401.2 106.3h0.9v0.9h-0.9zM403.0 102.4h0.9v0.9h-0.9zM395.5 102.4h0.9v0.9h-0.9zM394.8 102.0h0.9v0.9h-0.9zM408.8 99.2h0.9v0.9h-0.9zM399.5 113.1h0.9v0.9h-0.9zM400.7 94.2h0.9v0.9h-0.9zM412.5 96.9h0.9v0.9h-0.9zM408.1 90.4h0.9v0.9h-0.9zM405.2 102.2h0.9v0.9h-0.9zM402.9 103.1h0.9v0.9h-0.9zM402.5 94.5h0.9v0.9h-0.9zM391.8 105.8h0.9v0.9h-0.9zM397.2 104.7h0.9v0.9h-0.9zM404.0 102.5h0.9v0.9h-0.9zM399.8 101.6h0.9v0.9h-0.9zM401.9 108.3h0.9v0.9h-0.9zM405.4 100.2h0.9v0.9h-0.9zM404.1 109.3h0.9v0.9h-0.9zM400.4 108.2h0.9v0.9h-0.9zM406.3 97.3h0.9v0.9h-0.9zM402.5 96.6h0.9v0.9h-0.9zM406.9 99.3h0.9v0.9h-0.9zM395.7 113.0h0.9v0.9h-0.9zM400.7 111.3h0.9v0.9h-0.9zM397.8 106.4h0.9v0.9h-0.9zM402.0 101.3h0.9v0.9h-0.9zM401.3 100.9h0.9v0.9h-0.9zM404.7 100.4h0.9v0.9h-0.9zM395.1 95.2h0.9v0.9h-0.9zM407.2 98.1h0.9v0.9h-0.9zM393.2 112.4h0.9v0.9h-0.9zM406.6 104.2h0.9v0.9h-0.9zM400.5 113.0h0.9v0.9h-0.9zM407.2 110.8h0.9v0.9h-0.9zM402.6 106.1h0.9v0.9h-0.9zM396.7 102.4h0.9v0.9h-0.9zM409.2 100.8h0.9v0.9h-0.9zM411.2 98.5h0.9v0.9h-0.9zM394.3 101.9h0.9v0.9h-0.9zM396.6 104.9h0.9v0.9h-0.9zM399.1 109.1h0.9v0.9h-0.9zM402.4 101.3h0.9v0.9h-0.9zM401.9 102.4h0.9v0.9h-0.9zM404.5 104.6h0.9v0.9h-0.9zM404.3 97.1h0.9v0.9h-0.9zM398.1 114.7h0.9v0.9h-0.9zM405.0 106.0h0.9v0.9h-0.9zM392.7 110.6h0.9v0.9h-0.9zM397.8 99.6h0.9v0.9h-0.9zM401.0 108.0h0.9v0.9h-0.9zM411.0 102.7h0.9v0.9h-0.9zM393.6 104.0h0.9v0.9h-0.9zM406.5 103.6h0.9v0.9h-0.9zM398.9 99.2h0.9v0.9h-0.9zM407.4 102.0h0.9v0.9h-0.9zM402.9 99.6h0.9v0.9h-0.9zM405.1 104.3h0.9v0.9h-0.9zM393.9 101.3h0.9v0.9h-0.9zM404.4 103.3h0.9v0.9h-0.9zM404.0 105.9h0.9v0.9h-0.9zM398.5 106.2h0.9v0.9h-0.9zM401.6 106.6h0.9v0.9h-0.9zM408.5 95.3h0.9v0.9h-0.9zM415.5 97.8h0.9v0.9h-0.9zM406.9 101.4h0.9v0.9h-0.9zM409.5 94.6h0.9v0.9h-0.9zM398.1 101.3h0.9v0.9h-0.9zM407.4 104.9h0.9v0.9h-0.9zM405.2 102.2h0.9v0.9h-0.9zM401.0 105.0h0.9v0.9h-0.9zM397.5 113.3h0.9v0.9h-0.9zM396.6 102.6h0.9v0.9h-0.9zM395.7 105.0h0.9v0.9h-0.9zM408.5 102.3h0.9v0.9h-0.9zM397.5 112.6h0.9v0.9h-0.9zM404.2 97.8h0.9v0.9h-0.9zM392.3 108.7h0.9v0.9h-0.9zM399.4 107.6h0.9v0.9h-0.9zM394.3 99.9h0.9v0.9h-0.9zM398.5 98.4h0.9v0.9h-0.9zM402.6 96.0h0.9v0.9h-0.9zM395.9 104.6h0.9v0.9h-0.9zM402.4 109.7h0.9v0.9h-0.9zM407.2 101.1h0.9v0.9h-0.9zM398.9 97.9h0.9v0.9h-0.9zM397.5 104.6h0.9v0.9h-0.9zM398.2 109.7h0.9v0.9h-0.9zM396.0 105.3h0.9v0.9h-0.9zM407.9 104.3h0.9v0.9h-0.9zM399.7 100.1h0.9v0.9h-0.9zM408.1 98.6h0.9v0.9h-0.9zM409.9 103.1h0.9v0.9h-0.9zM405.7 97.0h0.9v0.9h-0.9zM408.6 100.6h0.9v0.9h-0.9zM393.0 109.9h0.9v0.9h-0.9zM394.4 110.2h0.9v0.9h-0.9zM401.4 97.9h0.9v0.9h-0.9zM395.1 117.0h0.9v0.9h-0.9zM407.3 105.7h0.9v0.9h-0.9zM398.0 112.8h0.9v0.9h-0.9zM416.9 99.0h0.9v0.9h-0.9zM401.2 105.3h0.9v0.9h-0.9zM403.4 107.0h0.9v0.9h-0.9zM406.7 98.8h0.9v0.9h-0.9zM397.0 112.1h0.9v0.9h-0.9zM400.9 107.5h0.9v0.9h-0.9zM407.1 106.7h0.9v0.9h-0.9zM405.8 96.9h0.9v0.9h-0.9zM407.9 106.7h0.9v0.9h-0.9zM400.1 107.3h0.9v0.9h-0.9zM410.6 101.3h0.9v0.9h-0.9zM400.4 97.6h0.9v0.9h-0.9zM396.1 110.3h0.9v0.9h-0.9zM410.2 108.6h0.9v0.9h-0.9zM400.4 110.8h0.9v0.9h-0.9zM400.7 95.4h0.9v0.9h-0.9zM398.0 108.0h0.9v0.9h-0.9zM398.7 105.6h0.9v0.9h-0.9zM401.6 99.2h0.9v0.9h-0.9zM402.0 99.6h0.9v0.9h-0.9zM400.3 107.7h0.9v0.9h-0.9zM399.5 107.1h0.9v0.9h-0.9zM409.3 96.0h0.9v0.9h-0.9zM402.8 106.3h0.9v0.9h-0.9zM402.7 108.3h0.9v0.9h-0.9zM397.0 111.4h0.9v0.9h-0.9zM396.9 103.9h0.9v0.9h-0.9zM407.7 92.8h0.9v0.9h-0.9zM411.7 96.9h0.9v0.9h-0.9zM405.9 94.0h0.9v0.9h-0.9zM411.2 101.7h0.9v0.9h-0.9zM400.6 103.8h0.9v0.9h-0.9zM413.8 92.3h0.9v0.9h-0.9zM397.8 103.9h0.9v0.9h-0.9zM404.5 102.3h0.9v0.9h-0.9zM407.0 107.4h0.9v0.9h-0.9zM401.2 106.4h0.9v0.9h-0.9zM405.8 93.9h0.9v0.9h-0.9zM411.4 103.5h0.9v0.9h-0.9zM392.0 107.2h0.9v0.9h-0.9zM391.5 103.6h0.9v0.9h-0.9zM398.7 96.4h0.9v0.9h-0.9zM407.8 105.1h0.9v0.9h-0.9zM392.9 110.5h0.9v0.9h-0.9zM394.4 114.9h0.9v0.9h-0.9zM397.2 106.4h0.9v0.9h-0.9zM403.2 104.8h0.9v0.9h-0.9zM399.9 105.3h0.9v0.9h-0.9zM399.2 106.5h0.9v0.9h-0.9zM396.0 109.4h0.9v0.9h-0.9zM410.9 94.6h0.9v0.9h-0.9zM396.1 110.3h0.9v0.9h-0.9zM392.4 103.8h0.9v0.9h-0.9zM399.9 109.1h0.9v0.9h-0.9zM403.1 101.5h0.9v0.9h-0.9zM394.1 105.2h0.9v0.9h-0.9zM408.6 97.8h0.9v0.9h-0.9zM401.6 116.8h0.9v0.9h-0.9zM395.8 108.9h0.9v0.9h-0.9zM402.1 102.2h0.9v0.9h-0.9zM396.5 101.2h0.9v0.9h-0.9zM401.0 113.2h0.9v0.9h-0.9zM400.1 109.5h0.9v0.9h-0.9zM392.6 111.0h0.9v0.9h-0.9zM405.5 105.1h0.9v0.9h-0.9zM397.7 110.6h0.9v0.9h-0.9zM401.4 99.8h0.9v0.9h-0.9zM401.4 98.9h0.9v0.9h-0.9zM397.6 107.4h0.9v0.9h-0.9zM392.8 104.5h0.9v0.9h-0.9zM401.5 107.7h0.9v0.9h-0.9zM403.0 108.9h0.9v0.9h-0.9zM392.4 105.6h0.9v0.9h-0.9zM410.0 97.2h0.9v0.9h-0.9zM403.8 96.8h0.9v0.9h-0.9zM406.1 100.4h0.9v0.9h-0.9zM404.7 100.5h0.9v0.9h-0.9zM405.6 96.1h0.9v0.9h-0.9zM392.9 104.3h0.9v0.9h-0.9zM405.1 96.0h0.9v0.9h-0.9zM394.0 106.1h0.9v0.9h-0.9zM395.9 102.3h0.9v0.9h-0.9zM398.4 103.3h0.9v0.9h-0.9zM396.3 103.7h0.9v0.9h-0.9zM400.4 102.2h0.9v0.9h-0.9zM402.7 103.7h0.9v0.9h-0.9zM397.3 96.1h0.9v0.9h-0.9zM396.8 104.0h0.9v0.9h-0.9zM401.0 95.6h0.9v0.9h-0.9zM397.3 106.2h0.9v0.9h-0.9zM402.5 107.9h0.9v0.9h-0.9zM402.0 108.3h0.9v0.9h-0.9zM408.5 98.9h0.9v0.9h-0.9zM404.2 101.6h0.9v0.9h-0.9zM400.6 98.0h0.9v0.9h-0.9zM404.6 97.6h0.9v0.9h-0.9zM406.5 99.1h0.9v0.9h-0.9zM406.6 97.8h0.9v0.9h-0.9zM400.3 106.2h0.9v0.9h-0.9zM398.0 104.2h0.9v0.9h-0.9zM402.4 103.5h0.9v0.9h-0.9zM408.9 96.4h0.9v0.9h-0.9zM415.4 99.4h0.9v0.9h-0.9zM412.6 98.2h0.9v0.9h-0.9zM402.5 103.3h0.9v0.9h-0.9zM398.9 102.3h0.9v0.9h-0.9zM399.5 102.2h0.9v0.9h-0.9zM410.8 97.2h0.9v0.9h-0.9zM394.2 100.6h0.9v0.9h-0.9zM400.1 102.7h0.9v0.9h-0.9zM393.2 105.8h0.9v0.9h-0.9zM392.2 115.9h0.9v0.9h-0.9zM408.1 110.9h0.9v0.9h-0.9zM401.0 103.4h0.9v0.9h-0.9zM408.8 97.0h0.9v0.9h-0.9zM401.3 101.8h0.9v0.9h-0.9zM402.6 110.5h0.9v0.9h-0.9zM410.9 103.4h0.9v0.9h-0.9zM399.9 105.4h0.9v0.9h-0.9zM399.9 110.4h0.9v0.9h-0.9zM396.3 111.8h0.9v0.9h-0.9zM410.6 102.1h0.9v0.9h-0.9zM399.9 111.0h0.9v0.9h-0.9zM396.0 105.0h0.9v0.9h-0.9zM398.2 113.1h0.9v0.9h-0.9zM407.8 94.1h0.9v0.9h-0.9zM396.9 106.3h0.9v0.9h-0.9zM416.3 94.2h0.9v0.9h-0.9zM394.1 101.4h0.9v0.9h-0.9zM401.5 110.0h0.9v0.9h-0.9zM409.8 93.9h0.9v0.9h-0.9zM396.8 105.6h0.9v0.9h-0.9zM394.9 115.1h0.9v0.9h-0.9zM399.1 111.7h0.9v0.9h-0.9zM400.8 100.2h0.9v0.9h-0.9zM405.3 99.9h0.9v0.9h-0.9zM397.5 110.9h0.9v0.9h-0.9zM400.4 94.4h0.9v0.9h-0.9zM411.6 96.2h0.9v0.9h-0.9zM400.2 94.9h0.9v0.9h-0.9zM397.1 106.1h0.9v0.9h-0.9zM402.8 94.5h0.9v0.9h-0.9zM391.8 102.4h0.9v0.9h-0.9zM401.3 105.7h0.9v0.9h-0.9zM391.8 110.1h0.9v0.9h-0.9zM408.2 105.4h0.9v0.9h-0.9zM403.9 99.6h0.9v0.9h-0.9zM393.3 106.7h0.9v0.9h-0.9zM398.7 107.2h0.9v0.9h-0.9zM405.7 108.3h0.9v0.9h-0.9zM400.0 99.3h0.9v0.9h-0.9zM411.5 98.7h0.9v0.9h-0.9zM400.0 101.2h0.9v0.9h-0.9zM403.7 97.1h0.9v0.9h-0.9zM395.7 110.5h0.9v0.9h-0.9zM404.3 104.1h0.9v0.9h-0.9zM408.4 104.2h0.9v0.9h-0.9zM400.1 110.3h0.9v0.9h-0.9zM398.6 110.2h0.9v0.9h-0.9zM403.0 103.4h0.9v0.9h-0.9zM406.1 98.9h0.9v0.9h-0.9zM409.2 100.6h0.9v0.9h-0.9zM400.6 101.4h0.9v0.9h-0.9zM396.5 105.8h0.9v0.9h-0.9zM400.5 104.5h0.9v0.9h-0.9zM417.5 91.0h0.9v0.9h-0.9zM402.9 97.6h0.9v0.9h-0.9zM397.2 106.2h0.9v0.9h-0.9zM399.6 99.9h0.9v0.9h-0.9zM407.7 94.3h0.9v0.9h-0.9zM400.4 92.1h0.9v0.9h-0.9zM402.2 104.4h0.9v0.9h-0.9zM404.0 104.3h0.9v0.9h-0.9zM403.3 102.7h0.9v0.9h-0.9zM391.9 116.6h0.9v0.9h-0.9zM402.5 101.6h0.9v0.9h-0.9zM396.0 106.0h0.9v0.9h-0.9zM415.0 99.4h0.9v0.9h-0.9zM404.7 107.3h0.9v0.9h-0.9zM396.8 103.6h0.9v0.9h-0.9zM399.3 106.8h0.9v0.9h-0.9zM414.3 87.3h0.9v0.9h-0.9zM402.5 104.1h0.9v0.9h-0.9zM403.8 106.3h0.9v0.9h-0.9zM406.7 91.7h0.9v0.9h-0.9zM401.6 102.1h0.9v0.9h-0.9zM399.1 97.8h0.9v0.9h-0.9zM404.5 101.6h0.9v0.9h-0.9zM395.5 96.9h0.9v0.9h-0.9zM397.7 103.4h0.9v0.9h-0.9zM392.2 107.9h0.9v0.9h-0.9z" fill="#3346e8" fill-opacity="0.45"/>
<path d="M399.5 109.0h0.9v0.9h-0.9zM398.4 111.1h0.9v0.9h-0.9zM396.0 112.0h0.9v0.9h-0.9zM398.7 111.0h0.9v0.9h-0.9zM395.9 110.0h0.9v0.9h-0.9zM393.9 109.3h0.9v0.9h-0.9zM401.5 104.5h0.9v0.9h-0.9zM405.8 112.9h0.9v0.9h-0.9zM392.5 103.3h0.9v0.9h-0.9zM400.6 109.6h0.9v0.9h-0.9zM404.1 107.0h0.9v0.9h-0.9zM393.1 105.8h0.9v0.9h-0.9zM396.3 113.1h0.9v0.9h-0.9zM393.3 106.8h0.9v0.9h-0.9zM394.5 110.5h0.9v0.9h-0.9zM397.9 110.5h0.9v0.9h-0.9zM391.4 108.7h0.9v0.9h-0.9zM404.3 109.3h0.9v0.9h-0.9zM400.3 112.2h0.9v0.9h-0.9zM399.6 110.0h0.9v0.9h-0.9zM394.2 107.3h0.9v0.9h-0.9zM401.1 110.2h0.9v0.9h-0.9zM402.8 116.2h0.9v0.9h-0.9zM406.3 107.3h0.9v0.9h-0.9zM402.0 105.6h0.9v0.9h-0.9zM393.8 110.0h0.9v0.9h-0.9zM395.8 112.7h0.9v0.9h-0.9zM399.0 111.4h0.9v0.9h-0.9zM399.5 103.4h0.9v0.9h-0.9zM399.2 109.0h0.9v0.9h-0.9zM396.1 108.9h0.9v0.9h-0.9zM393.2 109.0h0.9v0.9h-0.9zM396.6 109.5h0.9v0.9h-0.9zM393.7 107.7h0.9v0.9h-0.9zM396.7 110.1h0.9v0.9h-0.9zM393.3 106.5h0.9v0.9h-0.9zM400.8 110.6h0.9v0.9h-0.9zM395.9 107.7h0.9v0.9h-0.9zM394.9 111.1h0.9v0.9h-0.9zM403.4 110.7h0.9v0.9h-0.9zM393.8 109.4h0.9v0.9h-0.9zM397.8 109.4h0.9v0.9h-0.9zM392.5 111.4h0.9v0.9h-0.9zM398.9 111.6h0.9v0.9h-0.9zM392.5 106.5h0.9v0.9h-0.9zM398.0 110.4h0.9v0.9h-0.9zM392.5 108.6h0.9v0.9h-0.9zM395.2 109.7h0.9v0.9h-0.9zM393.8 107.6h0.9v0.9h-0.9zM391.6 104.0h0.9v0.9h-0.9zM396.3 110.6h0.9v0.9h-0.9zM395.5 106.2h0.9v0.9h-0.9zM395.1 107.5h0.9v0.9h-0.9zM404.1 111.0h0.9v0.9h-0.9zM397.6 112.0h0.9v0.9h-0.9zM399.0 114.5h0.9v0.9h-0.9zM398.3 106.7h0.9v0.9h-0.9zM396.5 114.1h0.9v0.9h-0.9zM402.2 108.7h0.9v0.9h-0.9zM401.0 114.6h0.9v0.9h-0.9zM399.1 115.7h0.9v0.9h-0.9zM401.9 106.0h0.9v0.9h-0.9zM396.7 106.3h0.9v0.9h-0.9zM394.5 113.5h0.9v0.9h-0.9zM396.1 110.6h0.9v0.9h-0.9zM396.9 107.8h0.9v0.9h-0.9zM398.4 110.3h0.9v0.9h-0.9zM403.5 113.4h0.9v0.9h-0.9zM397.4 109.0h0.9v0.9h-0.9zM393.8 109.6h0.9v0.9h-0.9zM398.9 106.5h0.9v0.9h-0.9zM392.9 112.2h0.9v0.9h-0.9zM394.6 109.7h0.9v0.9h-0.9zM393.5 104.9h0.9v0.9h-0.9zM397.7 108.9h0.9v0.9h-0.9zM395.1 113.6h0.9v0.9h-0.9zM398.3 111.3h0.9v0.9h-0.9zM397.0 111.9h0.9v0.9h-0.9zM401.5 109.7h0.9v0.9h-0.9zM394.2 109.1h0.9v0.9h-0.9zM398.0 113.6h0.9v0.9h-0.9zM393.5 106.4h0.9v0.9h-0.9zM393.3 108.1h0.9v0.9h-0.9zM400.0 111.5h0.9v0.9h-0.9zM399.6 107.5h0.9v0.9h-0.9zM397.2 102.5h0.9v0.9h-0.9zM400.5 111.9h0.9v0.9h-0.9zM393.0 110.7h0.9v0.9h-0.9zM395.7 111.0h0.9v0.9h-0.9zM396.9 114.1h0.9v0.9h-0.9zM397.5 108.7h0.9v0.9h-0.9zM397.6 104.6h0.9v0.9h-0.9zM396.2 105.3h0.9v0.9h-0.9zM396.1 109.2h0.9v0.9h-0.9zM393.5 110.5h0.9v0.9h-0.9zM393.3 109.8h0.9v0.9h-0.9zM393.8 110.8h0.9v0.9h-0.9zM394.6 112.9h0.9v0.9h-0.9zM396.6 107.4h0.9v0.9h-0.9zM401.0 113.9h0.9v0.9h-0.9zM401.3 108.9h0.9v0.9h-0.9zM396.8 106.2h0.9v0.9h-0.9zM400.6 112.5h0.9v0.9h-0.9zM395.3 111.5h0.9v0.9h-0.9zM398.4 109.7h0.9v0.9h-0.9zM399.9 112.6h0.9v0.9h-0.9zM399.0 111.9h0.9v0.9h-0.9zM400.5 108.2h0.9v0.9h-0.9zM393.1 105.9h0.9v0.9h-0.9zM392.4 112.8h0.9v0.9h-0.9zM402.9 111.4h0.9v0.9h-0.9zM396.0 114.2h0.9v0.9h-0.9zM392.6 111.3h0.9v0.9h-0.9zM398.8 112.1h0.9v0.9h-0.9zM401.3 111.6h0.9v0.9h-0.9zM398.6 114.5h0.9v0.9h-0.9zM398.0 107.5h0.9v0.9h-0.9zM395.0 107.7h0.9v0.9h-0.9zM393.5 112.5h0.9v0.9h-0.9zM406.6 117.1h0.9v0.9h-0.9zM402.1 114.4h0.9v0.9h-0.9zM398.0 110.1h0.9v0.9h-0.9zM394.5 106.6h0.9v0.9h-0.9zM399.2 108.1h0.9v0.9h-0.9zM396.7 115.6h0.9v0.9h-0.9zM399.0 109.3h0.9v0.9h-0.9zM397.1 104.8h0.9v0.9h-0.9zM400.0 109.9h0.9v0.9h-0.9zM399.8 114.8h0.9v0.9h-0.9zM393.1 106.7h0.9v0.9h-0.9zM392.3 107.9h0.9v0.9h-0.9zM396.1 108.3h0.9v0.9h-0.9zM396.3 109.8h0.9v0.9h-0.9zM391.6 107.4h0.9v0.9h-0.9zM393.2 117.6h0.9v0.9h-0.9zM393.5 112.0h0.9v0.9h-0.9zM393.1 111.2h0.9v0.9h-0.9zM396.3 113.7h0.9v0.9h-0.9zM393.2 109.1h0.9v0.9h-0.9zM398.2 114.4h0.9v0.9h-0.9zM397.8 113.1h0.9v0.9h-0.9zM395.0 113.2h0.9v0.9h-0.9zM399.9 110.5h0.9v0.9h-0.9zM401.5 109.6h0.9v0.9h-0.9zM395.2 110.8h0.9v0.9h-0.9zM395.9 107.1h0.9v0.9h-0.9zM391.9 104.2h0.9v0.9h-0.9zM396.7 107.9h0.9v0.9h-0.9zM397.6 117.5h0.9v0.9h-0.9zM397.0 109.2h0.9v0.9h-0.9zM393.3 112.4h0.9v0.9h-0.9zM395.4 104.2h0.9v0.9h-0.9zM394.4 113.3h0.9v0.9h-0.9zM392.5 109.6h0.9v0.9h-0.9zM399.4 114.4h0.9v0.9h-0.9zM391.6 109.7h0.9v0.9h-0.9zM399.7 108.8h0.9v0.9h-0.9zM397.9 114.5h0.9v0.9h-0.9zM397.0 106.4h0.9v0.9h-0.9zM396.7 114.8h0.9v0.9h-0.9zM397.7 107.4h0.9v0.9h-0.9zM392.7 114.7h0.9v0.9h-0.9zM400.0 110.3h0.9v0.9h-0.9zM398.0 104.3h0.9v0.9h-0.9zM395.7 111.4h0.9v0.9h-0.9zM394.5 104.9h0.9v0.9h-0.9zM395.0 106.6h0.9v0.9h-0.9zM399.7 110.0h0.9v0.9h-0.9zM394.6 113.4h0.9v0.9h-0.9zM399.1 110.4h0.9v0.9h-0.9zM391.5 111.0h0.9v0.9h-0.9zM395.4 110.3h0.9v0.9h-0.9zM398.0 116.1h0.9v0.9h-0.9zM401.2 114.2h0.9v0.9h-0.9zM397.7 107.7h0.9v0.9h-0.9zM393.3 106.0h0.9v0.9h-0.9zM393.9 110.0h0.9v0.9h-0.9zM394.8 113.8h0.9v0.9h-0.9zM401.8 113.1h0.9v0.9h-0.9zM393.5 111.9h0.9v0.9h-0.9zM398.6 109.6h0.9v0.9h-0.9zM394.7 109.2h0.9v0.9h-0.9zM398.5 109.3h0.9v0.9h-0.9zM393.0 115.0h0.9v0.9h-0.9zM396.9 109.8h0.9v0.9h-0.9zM393.3 108.2h0.9v0.9h-0.9zM392.8 109.1h0.9v0.9h-0.9zM399.6 110.2h0.9v0.9h-0.9zM403.7 107.3h0.9v0.9h-0.9zM393.7 111.6h0.9v0.9h-0.9zM396.4 113.4h0.9v0.9h-0.9zM401.9 105.6h0.9v0.9h-0.9zM396.7 114.8h0.9v0.9h-0.9zM397.6 110.6h0.9v0.9h-0.9zM395.8 103.5h0.9v0.9h-0.9zM402.8 116.0h0.9v0.9h-0.9zM394.0 107.7h0.9v0.9h-0.9zM393.5 117.3h0.9v0.9h-0.9zM400.3 111.7h0.9v0.9h-0.9zM393.7 109.3h0.9v0.9h-0.9zM402.7 115.6h0.9v0.9h-0.9zM394.8 115.5h0.9v0.9h-0.9zM398.9 111.1h0.9v0.9h-0.9zM397.9 112.2h0.9v0.9h-0.9zM397.0 107.5h0.9v0.9h-0.9zM395.2 111.1h0.9v0.9h-0.9zM394.4 112.5h0.9v0.9h-0.9zM396.9 111.3h0.9v0.9h-0.9zM403.3 108.5h0.9v0.9h-0.9zM398.2 112.5h0.9v0.9h-0.9zM399.8 110.6h0.9v0.9h-0.9zM397.5 110.5h0.9v0.9h-0.9zM392.9 110.1h0.9v0.9h-0.9zM402.6 109.9h0.9v0.9h-0.9zM399.1 109.0h0.9v0.9h-0.9zM395.1 108.5h0.9v0.9h-0.9zM396.6 116.4h0.9v0.9h-0.9zM394.7 108.5h0.9v0.9h-0.9zM400.1 115.2h0.9v0.9h-0.9zM406.4 112.5h0.9v0.9h-0.9z" fill="#2636c8" fill-opacity="0.5"/>
<path d="M397.8 106.1h0.9v0.9h-0.9zM399.8 105.6h0.9v0.9h-0.9zM397.6 100.1h0.9v0.9h-0.9zM404.8 92.7h0.9v0.9h-0.9zM401.5 107.3h0.9v0.9h-0.9zM397.1 103.3h0.9v0.9h-0.9zM402.5 98.5h0.9v0.9h-0.9zM394.5 108.7h0.9v0.9h-0.9zM408.0 110.6h0.9v0.9h-0.9zM399.9 112.4h0.9v0.9h-0.9zM396.0 105.0h0.9v0.9h-0.9zM401.3 105.1h0.9v0.9h-0.9zM414.3 104.6h0.9v0.9h-0.9zM404.0 111.3h0.9v0.9h-0.9zM411.1 99.9h0.9v0.9h-0.9zM401.5 110.2h0.9v0.9h-0.9zM402.9 104.2h0.9v0.9h-0.9zM403.3 106.4h0.9v0.9h-0.9zM413.1 100.6h0.9v0.9h-0.9zM405.1 107.5h0.9v0.9h-0.9zM406.2 89.9h0.9v0.9h-0.9zM404.7 88.1h0.9v0.9h-0.9zM407.6 101.5h0.9v0.9h-0.9zM411.6 94.9h0.9v0.9h-0.9zM395.9 101.4h0.9v0.9h-0.9zM398.2 112.4h0.9v0.9h-0.9zM397.6 100.4h0.9v0.9h-0.9zM401.8 95.8h0.9v0.9h-0.9zM397.6 102.6h0.9v0.9h-0.9zM417.6 98.9h0.9v0.9h-0.9zM394.4 96.3h0.9v0.9h-0.9zM403.9 100.8h0.9v0.9h-0.9zM406.4 102.5h0.9v0.9h-0.9zM404.1 107.8h0.9v0.9h-0.9zM407.6 98.3h0.9v0.9h-0.9zM397.7 102.4h0.9v0.9h-0.9zM401.3 93.5h0.9v0.9h-0.9zM397.9 99.8h0.9v0.9h-0.9zM396.7 112.5h0.9v0.9h-0.9zM402.0 102.4h0.9v0.9h-0.9z" fill="#6070f0" fill-opacity="0.3"/>
<path d="M401.7 163.1h0.9v0.9h-0.9zM402.0 172.4h0.9v0.9h-0.9zM402.6 164.4h0.9v0.9h-0.9zM405.5 168.4h0.9v0.9h-0.9zM411.1 167.8h0.9v0.9h-0.9zM409.9 174.4h0.9v0.9h-0.9zM400.4 170.2h0.9v0.9h-0.9zM397.3 170.4h0.9v0.9h-0.9zM396.3 166.4h0.9v0.9h-0.9zM402.2 172.9h0.9v0.9h-0.9zM405.3 165.6h0.9v0.9h-0.9zM406.4 162.9h0.9v0.9h-0.9zM395.8 166.9h0.9v0.9h-0.9zM395.7 172.8h0.9v0.9h-0.9zM409.9 165.7h0.9v0.9h-0.9zM397.7 177.9h0.9v0.9h-0.9zM403.1 168.4h0.9v0.9h-0.9zM400.8 170.4h0.9v0.9h-0.9zM394.3 169.2h0.9v0.9h-0.9zM404.4 175.1h0.9v0.9h-0.9zM407.5 163.8h0.9v0.9h-0.9zM397.4 174.3h0.9v0.9h-0.9zM406.6 168.0h0.9v0.9h-0.9zM399.7 175.0h0.9v0.9h-0.9zM401.9 173.6h0.9v0.9h-0.9zM395.7 169.4h0.9v0.9h-0.9zM403.8 173.0h0.9v0.9h-0.9zM396.0 176.2h0.9v0.9h-0.9zM404.6 166.2h0.9v0.9h-0.9zM403.8 179.7h0.9v0.9h-0.9zM408.1 170.1h0.9v0.9h-0.9zM401.3 180.0h0.9v0.9h-0.9zM392.4 177.7h0.9v0.9h-0.9zM408.4 171.3h0.9v0.9h-0.9zM395.4 173.9h0.9v0.9h-0.9zM397.4 165.3h0.9v0.9h-0.9zM406.0 169.8h0.9v0.9h-0.9zM400.8 174.8h0.9v0.9h-0.9zM405.9 168.5h0.9v0.9h-0.9zM407.9 172.8h0.9v0.9h-0.9zM399.7 174.0h0.9v0.9h-0.9zM401.8 176.4h0.9v0.9h-0.9zM400.8 174.4h0.9v0.9h-0.9zM402.3 170.8h0.9v0.9h-0.9zM409.3 163.1h0.9v0.9h-0.9zM410.3 166.8h0.9v0.9h-0.9zM407.2 164.7h0.9v0.9h-0.9zM407.8 168.9h0.9v0.9h-0.9zM399.3 174.9h0.9v0.9h-0.9zM400.8 171.8h0.9v0.9h-0.9zM405.7 163.4h0.9v0.9h-0.9zM397.7 171.7h0.9v0.9h-0.9zM403.0 172.7h0.9v0.9h-0.9zM410.5 163.9h0.9v0.9h-0.9zM401.7 167.2h0.9v0.9h-0.9zM407.7 172.1h0.9v0.9h-0.9zM402.7 160.0h0.9v0.9h-0.9zM409.7 171.3h0.9v0.9h-0.9zM401.5 163.6h0.9v0.9h-0.9zM401.6 174.2h0.9v0.9h-0.9zM401.3 167.3h0.9v0.9h-0.9zM399.9 177.9h0.9v0.9h-0.9zM399.0 181.2h0.9v0.9h-0.9zM402.4 172.0h0.9v0.9h-0.9zM393.8 175.9h0.9v0.9h-0.9zM400.9 164.3h0.9v0.9h-0.9zM407.5 158.1h0.9v0.9h-0.9zM396.0 177.1h0.9v0.9h-0.9zM405.6 171.0h0.9v0.9h-0.9zM399.2 172.5h0.9v0.9h-0.9zM398.9 170.9h0.9v0.9h-0.9zM403.1 170.5h0.9v0.9h-0.9zM399.2 174.9h0.9v0.9h-0.9zM401.2 171.2h0.9v0.9h-0.9zM402.2 161.7h0.9v0.9h-0.9zM399.9 167.4h0.9v0.9h-0.9zM403.9 176.6h0.9v0.9h-0.9zM396.2 176.0h0.9v0.9h-0.9zM401.2 176.5h0.9v0.9h-0.9zM392.6 171.5h0.9v0.9h-0.9zM403.0 168.0h0.9v0.9h-0.9zM402.8 175.6h0.9v0.9h-0.9zM396.4 174.4h0.9v0.9h-0.9zM403.2 171.7h0.9v0.9h-0.9zM401.8 176.4h0.9v0.9h-0.9zM410.8 159.9h0.9v0.9h-0.9zM404.7 157.2h0.9v0.9h-0.9zM407.1 163.9h0.9v0.9h-0.9zM401.3 169.8h0.9v0.9h-0.9zM395.3 170.9h0.9v0.9h-0.9zM403.0 176.5h0.9v0.9h-0.9zM405.9 165.1h0.9v0.9h-0.9zM397.3 171.9h0.9v0.9h-0.9zM400.6 181.5h0.9v0.9h-0.9zM404.9 168.5h0.9v0.9h-0.9zM396.6 170.9h0.9v0.9h-0.9zM409.6 167.2h0.9v0.9h-0.9zM399.7 178.3h0.9v0.9h-0.9zM398.0 178.1h0.9v0.9h-0.9zM396.0 174.7h0.9v0.9h-0.9zM404.9 170.1h0.9v0.9h-0.9zM404.0 164.5h0.9v0.9h-0.9zM412.3 167.5h0.9v0.9h-0.9zM402.7 172.5h0.9v0.9h-0.9zM397.5 174.5h0.9v0.9h-0.9zM395.6 177.6h0.9v0.9h-0.9zM405.9 173.8h0.9v0.9h-0.9zM408.0 169.0h0.9v0.9h-0.9zM399.2 172.4h0.9v0.9h-0.9zM400.5 173.4h0.9v0.9h-0.9zM394.6 182.2h0.9v0.9h-0.9zM392.9 177.2h0.9v0.9h-0.9zM400.3 169.9h0.9v0.9h-0.9zM408.9 163.4h0.9v0.9h-0.9zM411.8 167.1h0.9v0.9h-0.9zM400.2 174.6h0.9v0.9h-0.9zM406.6 164.4h0.9v0.9h-0.9zM400.5 169.5h0.9v0.9h-0.9zM400.9 170.1h0.9v0.9h-0.9zM404.5 173.5h0.9v0.9h-0.9zM408.3 165.2h0.9v0.9h-0.9zM404.6 172.6h0.9v0.9h-0.9zM397.4 169.9h0.9v0.9h-0.9zM404.2 163.8h0.9v0.9h-0.9zM403.3 164.5h0.9v0.9h-0.9zM407.3 160.2h0.9v0.9h-0.9zM409.3 171.2h0.9v0.9h-0.9zM400.9 179.6h0.9v0.9h-0.9zM393.1 170.5h0.9v0.9h-0.9zM406.6 169.8h0.9v0.9h-0.9zM394.1 165.7h0.9v0.9h-0.9zM400.5 170.8h0.9v0.9h-0.9zM399.0 172.3h0.9v0.9h-0.9zM391.8 178.1h0.9v0.9h-0.9zM413.8 167.0h0.9v0.9h-0.9zM398.0 171.1h0.9v0.9h-0.9zM406.1 172.2h0.9v0.9h-0.9zM401.8 164.9h0.9v0.9h-0.9zM402.6 170.9h0.9v0.9h-0.9zM411.2 167.7h0.9v0.9h-0.9zM407.1 172.0h0.9v0.9h-0.9zM403.6 177.1h0.9v0.9h-0.9zM400.6 174.3h0.9v0.9h-0.9zM403.4 164.7h0.9v0.9h-0.9zM393.7 170.0h0.9v0.9h-0.9zM402.1 170.4h0.9v0.9h-0.9zM401.3 174.1h0.9v0.9h-0.9zM391.7 181.0h0.9v0.9h-0.9zM401.2 170.2h0.9v0.9h-0.9zM409.7 172.2h0.9v0.9h-0.9zM397.0 170.9h0.9v0.9h-0.9zM398.9 174.3h0.9v0.9h-0.9zM402.0 166.4h0.9v0.9h-0.9zM403.5 164.0h0.9v0.9h-0.9zM406.4 168.6h0.9v0.9h-0.9zM409.2 174.7h0.9v0.9h-0.9zM399.9 172.1h0.9v0.9h-0.9zM405.9 171.3h0.9v0.9h-0.9zM396.0 178.2h0.9v0.9h-0.9zM399.7 176.3h0.9v0.9h-0.9zM408.0 165.1h0.9v0.9h-0.9zM401.5 172.3h0.9v0.9h-0.9zM404.5 169.1h0.9v0.9h-0.9zM397.8 171.2h0.9v0.9h-0.9zM403.8 175.3h0.9v0.9h-0.9zM404.5 175.2h0.9v0.9h-0.9zM402.7 170.0h0.9v0.9h-0.9zM392.1 177.2h0.9v0.9h-0.9zM403.9 162.2h0.9v0.9h-0.9zM394.1 173.0h0.9v0.9h-0.9zM400.6 175.5h0.9v0.9h-0.9zM399.0 163.3h0.9v0.9h-0.9zM406.7 163.0h0.9v0.9h-0.9zM403.1 178.3h0.9v0.9h-0.9zM397.9 168.5h0.9v0.9h-0.9zM396.7 172.4h0.9v0.9h-0.9zM396.0 175.1h0.9v0.9h-0.9zM406.5 168.2h0.9v0.9h-0.9zM402.3 184.9h0.9v0.9h-0.9zM397.2 176.2h0.9v0.9h-0.9zM403.6 173.1h0.9v0.9h-0.9zM401.2 174.0h0.9v0.9h-0.9zM411.5 161.8h0.9v0.9h-0.9zM397.3 177.1h0.9v0.9h-0.9zM396.8 174.1h0.9v0.9h-0.9zM403.2 171.3h0.9v0.9h-0.9zM402.4 174.8h0.9v0.9h-0.9zM397.2 168.8h0.9v0.9h-0.9zM404.6 166.3h0.9v0.9h-0.9zM405.4 164.0h0.9v0.9h-0.9zM405.0 169.5h0.9v0.9h-0.9zM400.0 180.1h0.9v0.9h-0.9zM395.1 182.4h0.9v0.9h-0.9zM407.8 167.5h0.9v0.9h-0.9zM403.3 166.9h0.9v0.9h-0.9zM402.0 171.9h0.9v0.9h-0.9zM405.3 171.2h0.9v0.9h-0.9zM398.7 170.4h0.9v0.9h-0.9zM400.0 175.0h0.9v0.9h-0.9zM398.2 171.8h0.9v0.9h-0.9zM393.4 165.7h0.9v0.9h-0.9zM399.3 172.2h0.9v0.9h-0.9zM400.0 162.6h0.9v0.9h-0.9zM401.3 173.9h0.9v0.9h-0.9zM406.8 172.1h0.9v0.9h-0.9zM403.7 163.7h0.9v0.9h-0.9zM403.6 167.5h0.9v0.9h-0.9zM401.8 179.0h0.9v0.9h-0.9zM396.4 172.0h0.9v0.9h-0.9zM397.4 171.0h0.9v0.9h-0.9zM407.1 167.6h0.9v0.9h-0.9zM409.0 165.9h0.9v0.9h-0.9zM401.4 176.8h0.9v0.9h-0.9zM397.3 173.1h0.9v0.9h-0.9zM400.8 172.2h0.9v0.9h-0.9zM405.5 164.2h0.9v0.9h-0.9zM403.1 169.6h0.9v0.9h-0.9zM392.8 174.3h0.9v0.9h-0.9zM401.5 173.4h0.9v0.9h-0.9zM404.2 171.1h0.9v0.9h-0.9zM400.6 169.9h0.9v0.9h-0.9zM400.9 166.7h0.9v0.9h-0.9zM394.4 176.7h0.9v0.9h-0.9zM393.5 176.6h0.9v0.9h-0.9zM396.6 173.3h0.9v0.9h-0.9zM399.2 169.4h0.9v0.9h-0.9zM395.1 168.8h0.9v0.9h-0.9zM399.9 168.3h0.9v0.9h-0.9zM396.1 162.1h0.9v0.9h-0.9zM398.4 175.6h0.9v0.9h-0.9zM402.2 171.1h0.9v0.9h-0.9zM395.2 178.8h0.9v0.9h-0.9zM399.7 168.1h0.9v0.9h-0.9zM404.8 167.7h0.9v0.9h-0.9zM400.4 170.0h0.9v0.9h-0.9zM404.3 169.0h0.9v0.9h-0.9zM407.9 167.2h0.9v0.9h-0.9zM398.1 173.6h0.9v0.9h-0.9zM404.8 166.1h0.9v0.9h-0.9zM404.6 170.9h0.9v0.9h-0.9zM394.6 166.1h0.9v0.9h-0.9zM402.7 171.2h0.9v0.9h-0.9zM400.2 168.7h0.9v0.9h-0.9zM406.8 165.3h0.9v0.9h-0.9zM396.7 172.3h0.9v0.9h-0.9zM400.3 166.8h0.9v0.9h-0.9zM402.0 181.1h0.9v0.9h-0.9zM410.3 167.9h0.9v0.9h-0.9zM409.4 166.5h0.9v0.9h-0.9zM396.8 182.2h0.9v0.9h-0.9zM408.5 166.8h0.9v0.9h-0.9zM395.6 183.6h0.9v0.9h-0.9zM406.6 163.7h0.9v0.9h-0.9zM404.1 172.7h0.9v0.9h-0.9zM404.0 174.6h0.9v0.9h-0.9zM403.7 172.7h0.9v0.9h-0.9zM398.0 167.1h0.9v0.9h-0.9zM405.1 184.2h0.9v0.9h-0.9zM406.2 173.4h0.9v0.9h-0.9zM411.3 170.5h0.9v0.9h-0.9zM402.5 167.2h0.9v0.9h-0.9zM396.6 166.2h0.9v0.9h-0.9zM403.0 174.5h0.9v0.9h-0.9zM391.9 181.9h0.9v0.9h-0.9zM408.8 170.9h0.9v0.9h-0.9zM395.5 173.9h0.9v0.9h-0.9zM409.4 174.2h0.9v0.9h-0.9zM399.7 180.2h0.9v0.9h-0.9zM402.2 168.0h0.9v0.9h-0.9zM405.2 154.5h0.9v0.9h-0.9zM401.8 172.2h0.9v0.9h-0.9zM416.1 166.0h0.9v0.9h-0.9zM412.4 161.1h0.9v0.9h-0.9zM409.6 170.3h0.9v0.9h-0.9zM404.8 169.8h0.9v0.9h-0.9zM399.6 171.1h0.9v0.9h-0.9zM400.8 182.1h0.9v0.9h-0.9zM394.0 168.0h0.9v0.9h-0.9zM402.6 170.0h0.9v0.9h-0.9zM407.1 175.2h0.9v0.9h-0.9zM400.3 171.1h0.9v0.9h-0.9zM398.0 174.7h0.9v0.9h-0.9zM400.0 173.9h0.9v0.9h-0.9zM417.1 157.7h0.9v0.9h-0.9zM402.5 180.3h0.9v0.9h-0.9zM407.7 169.4h0.9v0.9h-0.9zM407.0 170.1h0.9v0.9h-0.9zM408.3 171.8h0.9v0.9h-0.9zM409.7 170.1h0.9v0.9h-0.9zM399.1 173.6h0.9v0.9h-0.9zM400.6 177.2h0.9v0.9h-0.9zM404.2 166.2h0.9v0.9h-0.9zM411.1 175.4h0.9v0.9h-0.9zM404.4 162.6h0.9v0.9h-0.9zM402.7 173.4h0.9v0.9h-0.9zM402.3 172.5h0.9v0.9h-0.9zM407.9 166.6h0.9v0.9h-0.9zM398.2 178.3h0.9v0.9h-0.9zM401.3 172.1h0.9v0.9h-0.9zM395.2 170.3h0.9v0.9h-0.9zM394.7 176.2h0.9v0.9h-0.9zM403.8 162.9h0.9v0.9h-0.9zM399.5 176.1h0.9v0.9h-0.9zM399.6 176.6h0.9v0.9h-0.9zM400.0 174.4h0.9v0.9h-0.9zM402.0 170.8h0.9v0.9h-0.9zM405.0 175.2h0.9v0.9h-0.9zM400.3 175.2h0.9v0.9h-0.9zM403.5 171.8h0.9v0.9h-0.9zM402.2 162.7h0.9v0.9h-0.9zM402.3 169.5h0.9v0.9h-0.9zM397.8 170.5h0.9v0.9h-0.9zM395.1 172.3h0.9v0.9h-0.9zM402.9 183.0h0.9v0.9h-0.9zM409.5 163.4h0.9v0.9h-0.9zM402.4 165.3h0.9v0.9h-0.9zM405.9 174.4h0.9v0.9h-0.9zM398.7 168.9h0.9v0.9h-0.9zM397.8 169.8h0.9v0.9h-0.9zM394.4 177.2h0.9v0.9h-0.9zM397.5 171.0h0.9v0.9h-0.9zM394.9 173.0h0.9v0.9h-0.9zM406.3 173.8h0.9v0.9h-0.9zM406.4 178.1h0.9v0.9h-0.9zM394.6 179.6h0.9v0.9h-0.9zM395.7 176.3h0.9v0.9h-0.9zM403.4 172.3h0.9v0.9h-0.9zM405.3 164.6h0.9v0.9h-0.9zM395.2 176.6h0.9v0.9h-0.9zM401.0 168.1h0.9v0.9h-0.9zM410.1 171.5h0.9v0.9h-0.9zM395.8 178.9h0.9v0.9h-0.9zM401.2 161.5h0.9v0.9h-0.9zM401.9 169.7h0.9v0.9h-0.9zM398.3 181.4h0.9v0.9h-0.9zM401.3 169.0h0.9v0.9h-0.9zM405.3 170.9h0.9v0.9h-0.9zM406.6 169.2h0.9v0.9h-0.9zM400.3 166.3h0.9v0.9h-0.9zM399.9 173.6h0.9v0.9h-0.9zM397.0 170.3h0.9v0.9h-0.9zM393.6 180.5h0.9v0.9h-0.9zM400.1 169.6h0.9v0.9h-0.9zM397.2 170.9h0.9v0.9h-0.9zM397.7 174.6h0.9v0.9h-0.9zM400.3 176.1h0.9v0.9h-0.9zM401.2 172.3h0.9v0.9h-0.9zM406.7 172.7h0.9v0.9h-0.9zM404.9 169.1h0.9v0.9h-0.9zM398.6 170.0h0.9v0.9h-0.9zM401.7 174.7h0.9v0.9h-0.9zM401.5 169.2h0.9v0.9h-0.9zM405.7 172.5h0.9v0.9h-0.9zM399.7 166.0h0.9v0.9h-0.9zM401.1 172.9h0.9v0.9h-0.9zM398.1 176.5h0.9v0.9h-0.9zM398.4 170.1h0.9v0.9h-0.9zM397.8 179.2h0.9v0.9h-0.9zM400.8 167.3h0.9v0.9h-0.9zM399.1 178.4h0.9v0.9h-0.9zM403.5 167.7h0.9v0.9h-0.9zM408.2 163.1h0.9v0.9h-0.9zM399.4 179.1h0.9v0.9h-0.9zM401.5 173.1h0.9v0.9h-0.9zM399.1 168.5h0.9v0.9h-0.9zM395.4 176.4h0.9v0.9h-0.9zM405.5 162.1h0.9v0.9h-0.9zM408.4 165.5h0.9v0.9h-0.9zM397.0 177.2h0.9v0.9h-0.9zM401.8 166.3h0.9v0.9h-0.9zM392.5 182.2h0.9v0.9h-0.9zM397.5 177.6h0.9v0.9h-0.9zM392.2 179.9h0.9v0.9h-0.9zM393.8 171.2h0.9v0.9h-0.9zM400.8 172.9h0.9v0.9h-0.9zM395.8 170.8h0.9v0.9h-0.9zM397.9 165.7h0.9v0.9h-0.9zM405.3 170.1h0.9v0.9h-0.9zM411.7 165.8h0.9v0.9h-0.9zM403.8 170.3h0.9v0.9h-0.9z" fill="#3346e8" fill-opacity="0.45"/>
<path d="M391.6 175.4h0.9v0.9h-0.9zM400.4 174.6h0.9v0.9h-0.9zM391.9 176.6h0.9v0.9h-0.9zM400.4 174.5h0.9v0.9h-0.9zM397.4 182.3h0.9v0.9h-0.9zM398.9 172.4h0.9v0.9h-0.9zM395.5 176.0h0.9v0.9h-0.9zM399.6 181.4h0.9v0.9h-0.9zM401.0 169.3h0.9v0.9h-0.9zM399.3 179.5h0.9v0.9h-0.9zM398.8 179.9h0.9v0.9h-0.9zM393.8 173.7h0.9v0.9h-0.9zM394.8 180.7h0.9v0.9h-0.9zM398.6 175.9h0.9v0.9h-0.9zM393.0 171.9h0.9v0.9h-0.9zM394.8 175.3h0.9v0.9h-0.9zM397.8 178.1h0.9v0.9h-0.9zM394.4 180.1h0.9v0.9h-0.9zM396.0 181.5h0.9v0.9h-0.9zM393.6 179.3h0.9v0.9h-0.9zM394.4 176.1h0.9v0.9h-0.9zM395.7 173.5h0.9v0.9h-0.9zM398.7 175.9h0.9v0.9h-0.9zM394.3 180.3h0.9v0.9h-0.9zM394.1 179.5h0.9v0.9h-0.9zM402.9 181.7h0.9v0.9h-0.9zM401.7 181.7h0.9v0.9h-0.9zM392.3 174.3h0.9v0.9h-0.9zM396.5 184.6h0.9v0.9h-0.9zM399.3 175.6h0.9v0.9h-0.9zM395.3 178.0h0.9v0.9h-0.9zM395.7 176.6h0.9v0.9h-0.9zM394.4 178.7h0.9v0.9h-0.9zM395.7 173.4h0.9v0.9h-0.9zM392.8 174.8h0.9v0.9h-0.9zM398.8 179.5h0.9v0.9h-0.9zM395.1 176.1h0.9v0.9h-0.9zM396.0 175.5h0.9v0.9h-0.9zM398.0 177.2h0.9v0.9h-0.9zM397.6 182.8h0.9v0.9h-0.9zM404.6 182.0h0.9v0.9h-0.9zM394.2 177.5h0.9v0.9h-0.9zM400.5 174.6h0.9v0.9h-0.9zM400.9 173.3h0.9v0.9h-0.9zM398.9 179.6h0.9v0.9h-0.9zM393.8 179.2h0.9v0.9h-0.9zM395.0 179.0h0.9v0.9h-0.9zM395.7 174.8h0.9v0.9h-0.9zM395.1 176.0h0.9v0.9h-0.9zM396.8 178.7h0.9v0.9h-0.9zM398.8 182.6h0.9v0.9h-0.9zM401.5 179.4h0.9v0.9h-0.9zM400.1 176.2h0.9v0.9h-0.9zM392.3 176.4h0.9v0.9h-0.9zM394.5 177.6h0.9v0.9h-0.9zM395.1 176.3h0.9v0.9h-0.9zM394.6 166.5h0.9v0.9h-0.9zM396.3 173.7h0.9v0.9h-0.9zM399.6 180.1h0.9v0.9h-0.9zM392.0 175.7h0.9v0.9h-0.9zM396.3 176.3h0.9v0.9h-0.9zM394.5 183.9h0.9v0.9h-0.9zM392.4 179.5h0.9v0.9h-0.9zM398.2 177.0h0.9v0.9h-0.9zM404.1 182.3h0.9v0.9h-0.9zM394.8 175.6h0.9v0.9h-0.9zM396.4 176.9h0.9v0.9h-0.9zM402.3 185.2h0.9v0.9h-0.9zM395.2 177.8h0.9v0.9h-0.9zM399.4 181.1h0.9v0.9h-0.9zM402.8 180.6h0.9v0.9h-0.9zM403.6 178.4h0.9v0.9h-0.9zM397.7 178.8h0.9v0.9h-0.9zM395.3 178.7h0.9v0.9h-0.9zM392.1 181.6h0.9v0.9h-0.9zM392.9 179.3h0.9v0.9h-0.9zM399.0 174.8h0.9v0.9h-0.9zM401.2 175.8h0.9v0.9h-0.9zM401.4 176.9h0.9v0.9h-0.9zM398.7 180.9h0.9v0.9h-0.9zM394.1 177.8h0.9v0.9h-0.9zM406.0 178.2h0.9v0.9h-0.9zM401.6 183.5h0.9v0.9h-0.9zM394.5 174.0h0.9v0.9h-0.9zM398.2 177.7h0.9v0.9h-0.9zM395.7 176.1h0.9v0.9h-0.9zM394.9 181.4h0.9v0.9h-0.9zM400.5 176.7h0.9v0.9h-0.9zM401.4 177.8h0.9v0.9h-0.9zM395.1 180.5h0.9v0.9h-0.9zM400.6 178.6h0.9v0.9h-0.9zM398.6 178.3h0.9v0.9h-0.9zM404.4 181.0h0.9v0.9h-0.9zM393.6 183.9h0.9v0.9h-0.9zM400.6 171.3h0.9v0.9h-0.9zM394.6 183.1h0.9v0.9h-0.9zM392.1 180.6h0.9v0.9h-0.9zM403.1 180.1h0.9v0.9h-0.9zM399.6 177.7h0.9v0.9h-0.9zM398.6 175.3h0.9v0.9h-0.9zM395.0 180.0h0.9v0.9h-0.9zM395.9 176.4h0.9v0.9h-0.9zM394.3 179.1h0.9v0.9h-0.9zM395.1 177.4h0.9v0.9h-0.9zM401.7 180.1h0.9v0.9h-0.9zM396.8 176.9h0.9v0.9h-0.9zM393.8 175.3h0.9v0.9h-0.9zM393.1 174.8h0.9v0.9h-0.9zM396.4 177.3h0.9v0.9h-0.9zM396.4 174.3h0.9v0.9h-0.9zM396.9 179.3h0.9v0.9h-0.9zM402.8 180.5h0.9v0.9h-0.9zM394.2 177.6h0.9v0.9h-0.9zM397.8 179.5h0.9v0.9h-0.9zM399.3 178.3h0.9v0.9h-0.9zM398.8 172.6h0.9v0.9h-0.9zM395.5 181.4h0.9v0.9h-0.9zM402.2 178.9h0.9v0.9h-0.9zM392.3 172.3h0.9v0.9h-0.9zM401.6 175.5h0.9v0.9h-0.9zM397.9 179.7h0.9v0.9h-0.9zM397.3 173.0h0.9v0.9h-0.9zM394.4 176.9h0.9v0.9h-0.9zM394.8 172.2h0.9v0.9h-0.9zM391.8 172.4h0.9v0.9h-0.9zM393.1 179.4h0.9v0.9h-0.9zM391.6 172.7h0.9v0.9h-0.9zM395.0 175.0h0.9v0.9h-0.9zM397.0 173.8h0.9v0.9h-0.9zM396.5 176.1h0.9v0.9h-0.9zM397.5 172.2h0.9v0.9h-0.9zM403.7 181.3h0.9v0.9h-0.9zM399.1 178.8h0.9v0.9h-0.9zM396.3 180.2h0.9v0.9h-0.9zM393.9 184.3h0.9v0.9h-0.9zM398.8 183.7h0.9v0.9h-0.9zM391.5 174.0h0.9v0.9h-0.9zM396.3 171.5h0.9v0.9h-0.9zM396.9 179.3h0.9v0.9h-0.9zM399.9 181.9h0.9v0.9h-0.9zM392.0 172.4h0.9v0.9h-0.9zM398.2 174.5h0.9v0.9h-0.9zM397.3 176.5h0.9v0.9h-0.9zM393.4 174.9h0.9v0.9h-0.9zM392.7 179.1h0.9v0.9h-0.9zM398.3 179.9h0.9v0.9h-0.9zM400.8 183.9h0.9v0.9h-0.9zM393.5 178.6h0.9v0.9h-0.9zM399.0 176.6h0.9v0.9h-0.9zM392.1 176.9h0.9v0.9h-0.9zM402.0 176.5h0.9v0.9h-0.9zM400.8 173.4h0.9v0.9h-0.9zM399.7 178.2h0.9v0.9h-0.9zM396.8 174.7h0.9v0.9h-0.9zM404.8 180.5h0.9v0.9h-0.9zM398.0 181.8h0.9v0.9h-0.9zM396.8 173.9h0.9v0.9h-0.9zM397.2 175.8h0.9v0.9h-0.9zM394.9 176.0h0.9v0.9h-0.9zM396.4 177.9h0.9v0.9h-0.9zM406.2 178.5h0.9v0.9h-0.9zM396.1 183.8h0.9v0.9h-0.9zM400.0 179.5h0.9v0.9h-0.9zM400.7 176.2h0.9v0.9h-0.9zM394.1 173.9h0.9v0.9h-0.9zM394.6 172.8h0.9v0.9h-0.9zM400.6 175.3h0.9v0.9h-0.9zM399.5 182.6h0.9v0.9h-0.9zM392.9 178.4h0.9v0.9h-0.9zM393.7 181.7h0.9v0.9h-0.9zM395.4 173.8h0.9v0.9h-0.9zM401.4 173.8h0.9v0.9h-0.9zM391.4 177.2h0.9v0.9h-0.9zM396.4 183.3h0.9v0.9h-0.9zM394.3 172.4h0.9v0.9h-0.9zM395.5 177.3h0.9v0.9h-0.9zM398.0 179.4h0.9v0.9h-0.9zM396.9 170.9h0.9v0.9h-0.9zM401.6 177.3h0.9v0.9h-0.9zM395.6 178.3h0.9v0.9h-0.9zM398.7 183.4h0.9v0.9h-0.9zM393.4 178.2h0.9v0.9h-0.9zM393.4 176.1h0.9v0.9h-0.9zM394.0 180.2h0.9v0.9h-0.9zM397.7 173.3h0.9v0.9h-0.9zM391.8 173.8h0.9v0.9h-0.9zM398.6 179.1h0.9v0.9h-0.9zM393.5 175.5h0.9v0.9h-0.9zM401.1 177.2h0.9v0.9h-0.9zM395.5 175.8h0.9v0.9h-0.9zM394.1 176.8h0.9v0.9h-0.9zM397.5 178.7h0.9v0.9h-0.9zM399.7 180.3h0.9v0.9h-0.9zM397.9 169.6h0.9v0.9h-0.9zM400.0 178.2h0.9v0.9h-0.9zM396.5 175.6h0.9v0.9h-0.9zM399.6 180.9h0.9v0.9h-0.9zM399.2 176.9h0.9v0.9h-0.9zM397.8 181.1h0.9v0.9h-0.9zM396.9 175.3h0.9v0.9h-0.9zM405.3 179.7h0.9v0.9h-0.9zM396.3 184.1h0.9v0.9h-0.9zM398.2 179.4h0.9v0.9h-0.9zM392.3 175.7h0.9v0.9h-0.9zM392.6 180.9h0.9v0.9h-0.9zM393.5 176.3h0.9v0.9h-0.9zM401.0 185.0h0.9v0.9h-0.9zM394.8 179.9h0.9v0.9h-0.9zM393.6 178.3h0.9v0.9h-0.9zM395.5 177.2h0.9v0.9h-0.9zM392.9 174.0h0.9v0.9h-0.9zM399.2 179.3h0.9v0.9h-0.9zM400.1 175.4h0.9v0.9h-0.9zM398.0 184.0h0.9v0.9h-0.9zM399.5 176.9h0.9v0.9h-0.9zM392.9 175.6h0.9v0.9h-0.9zM396.3 172.3h0.9v0.9h-0.9zM399.0 180.9h0.9v0.9h-0.9zM393.6 175.3h0.9v0.9h-0.9zM404.7 178.8h0.9v0.9h-0.9z" fill="#2636c8" fill-opacity="0.5"/>
<path d="M394.2 175.5h0.9v0.9h-0.9zM408.3 169.2h0.9v0.9h-0.9zM409.1 166.2h0.9v0.9h-0.9zM393.5 168.6h0.9v0.9h-0.9zM399.1 179.0h0.9v0.9h-0.9zM408.5 179.5h0.9v0.9h-0.9zM396.7 159.3h0.9v0.9h-0.9zM412.1 170.0h0.9v0.9h-0.9zM397.2 164.6h0.9v0.9h-0.9zM406.3 154.7h0.9v0.9h-0.9zM393.7 162.4h0.9v0.9h-0.9zM412.9 168.7h0.9v0.9h-0.9zM394.2 166.4h0.9v0.9h-0.9zM403.2 171.7h0.9v0.9h-0.9zM404.3 173.3h0.9v0.9h-0.9zM404.3 171.2h0.9v0.9h-0.9zM399.9 164.3h0.9v0.9h-0.9zM399.8 168.9h0.9v0.9h-0.9zM401.5 164.0h0.9v0.9h-0.9zM410.1 162.0h0.9v0.9h-0.9zM407.5 169.5h0.9v0.9h-0.9zM409.4 165.7h0.9v0.9h-0.9zM414.2 161.5h0.9v0.9h-0.9zM407.0 168.6h0.9v0.9h-0.9zM395.6 170.5h0.9v0.9h-0.9zM403.2 178.2h0.9v0.9h-0.9zM411.4 175.2h0.9v0.9h-0.9zM412.6 174.9h0.9v0.9h-0.9zM399.6 162.4h0.9v0.9h-0.9zM413.0 161.6h0.9v0.9h-0.9zM409.5 164.1h0.9v0.9h-0.9zM400.9 172.3h0.9v0.9h-0.9zM394.9 172.5h0.9v0.9h-0.9zM394.1 176.9h0.9v0.9h-0.9zM412.1 176.5h0.9v0.9h-0.9zM412.0 159.4h0.9v0.9h-0.9zM406.0 164.0h0.9v0.9h-0.9zM404.0 167.5h0.9v0.9h-0.9zM399.3 173.1h0.9v0.9h-0.9zM395.6 179.8h0.9v0.9h-0.9z" fill="#6070f0" fill-opacity="0.3"/>
<path d="M396.3 239.5h0.9v0.9h-0.9zM400.0 243.7h0.9v0.9h-0.9zM398.6 244.8h0.9v0.9h-0.9zM406.0 242.6h0.9v0.9h-0.9zM395.6 244.9h0.9v0.9h-0.9zM405.6 242.7h0.9v0.9h-0.9zM402.8 241.8h0.9v0.9h-0.9zM393.0 245.2h0.9v0.9h-0.9zM405.7 233.9h0.9v0.9h-0.9zM406.5 230.9h0.9v0.9h-0.9zM395.0 238.2h0.9v0.9h-0.9zM403.1 239.2h0.9v0.9h-0.9zM408.1 233.7h0.9v0.9h-0.9zM395.6 238.5h0.9v0.9h-0.9zM402.0 243.6h0.9v0.9h-0.9zM405.8 241.2h0.9v0.9h-0.9zM403.2 237.6h0.9v0.9h-0.9zM402.7 239.1h0.9v0.9h-0.9zM399.1 250.3h0.9v0.9h-0.9zM398.9 237.0h0.9v0.9h-0.9zM402.2 240.2h0.9v0.9h-0.9zM407.4 240.7h0.9v0.9h-0.9zM403.6 232.8h0.9v0.9h-0.9zM393.5 248.8h0.9v0.9h-0.9zM402.2 240.6h0.9v0.9h-0.9zM394.6 244.1h0.9v0.9h-0.9zM402.6 242.1h0.9v0.9h-0.9zM409.2 233.3h0.9v0.9h-0.9zM391.9 237.5h0.9v0.9h-0.9zM403.8 236.5h0.9v0.9h-0.9zM397.2 239.0h0.9v0.9h-0.9zM398.4 233.8h0.9v0.9h-0.9zM400.7 240.9h0.9v0.9h-0.9zM404.4 243.0h0.9v0.9h-0.9zM399.8 241.6h0.9v0.9h-0.9zM399.5 233.9h0.9v0.9h-0.9zM399.0 242.3h0.9v0.9h-0.9zM401.7 235.4h0.9v0.9h-0.9zM404.0 238.8h0.9v0.9h-0.9zM394.8 246.9h0.9v0.9h-0.9zM402.6 242.0h0.9v0.9h-0.9zM401.8 236.5h0.9v0.9h-0.9zM406.1 238.9h0.9v0.9h-0.9zM403.0 240.4h0.9v0.9h-0.9zM395.9 246.9h0.9v0.9h-0.9zM393.1 242.1h0.9v0.9h-0.9zM399.0 242.7h0.9v0.9h-0.9zM399.0 240.4h0.9v0.9h-0.9zM396.6 245.3h0.9v0.9h-0.9zM393.7 240.4h0.9v0.9h-0.9zM403.9 244.2h0.9v0.9h-0.9zM395.8 240.0h0.9v0.9h-0.9zM409.6 239.9h0.9v0.9h-0.9zM398.3 241.6h0.9v0.9h-0.9zM408.1 247.4h0.9v0.9h-0.9zM403.0 242.9h0.9v0.9h-0.9zM397.2 234.8h0.9v0.9h-0.9zM392.7 242.2h0.9v0.9h-0.9zM401.9 239.6h0.9v0.9h-0.9zM406.3 233.4h0.9v0.9h-0.9zM401.4 240.0h0.9v0.9h-0.9zM406.2 246.2h0.9v0.9h-0.9zM404.7 243.5h0.9v0.9h-0.9zM403.5 234.5h0.9v0.9h-0.9zM401.7 237.4h0.9v0.9h-0.9zM400.8 241.0h0.9v0.9h-0.9zM398.9 239.8h0.9v0.9h-0.9zM405.4 234.3h0.9v0.9h-0.9zM406.9 242.4h0.9v0.9h-0.9zM405.0 241.1h0.9v0.9h-0.9zM408.1 238.3h0.9v0.9h-0.9zM403.1 230.8h0.9v0.9h-0.9zM407.7 233.5h0.9v0.9h-0.9zM391.6 246.2h0.9v0.9h-0.9zM394.5 246.4h0.9v0.9h-0.9zM391.7 244.3h0.9v0.9h-0.9zM401.5 240.2h0.9v0.9h-0.9zM396.3 243.5h0.9v0.9h-0.9zM399.8 241.6h0.9v0.9h-0.9zM399.4 240.5h0.9v0.9h-0.9zM399.4 233.6h0.9v0.9h-0.9zM398.4 243.2h0.9v0.9h-0.9zM397.1 241.2h0.9v0.9h-0.9zM398.8 243.2h0.9v0.9h-0.9zM404.4 235.7h0.9v0.9h-0.9zM399.8 242.9h0.9v0.9h-0.9zM394.3 237.2h0.9v0.9h-0.9zM400.1 239.0h0.9v0.9h-0.9zM399.3 244.8h0.9v0.9h-0.9zM398.8 239.4h0.9v0.9h-0.9zM399.8 240.7h0.9v0.9h-0.9zM402.3 239.8h0.9v0.9h-0.9zM395.0 239.7h0.9v0.9h-0.9zM395.4 244.9h0.9v0.9h-0.9zM397.4 247.3h0.9v0.9h-0.9zM394.9 237.4h0.9v0.9h-0.9zM403.9 232.2h0.9v0.9h-0.9zM399.2 240.6h0.9v0.9h-0.9zM392.4 239.8h0.9v0.9h-0.9zM394.9 250.4h0.9v0.9h-0.9zM409.3 242.4h0.9v0.9h-0.9zM395.7 248.1h0.9v0.9h-0.9zM402.0 243.1h0.9v0.9h-0.9zM399.8 244.8h0.9v0.9h-0.9zM405.0 239.0h0.9v0.9h-0.9zM405.2 234.9h0.9v0.9h-0.9zM404.3 233.3h0.9v0.9h-0.9zM399.7 227.7h0.9v0.9h-0.9zM398.1 239.0h0.9v0.9h-0.9zM402.6 243.5h0.9v0.9h-0.9zM403.0 238.4h0.9v0.9h-0.9zM403.0 230.7h0.9v0.9h-0.9zM400.6 247.9h0.9v0.9h-0.9zM396.1 234.6h0.9v0.9h-0.9zM398.4 236.7h0.9v0.9h-0.9zM408.6 238.1h0.9v0.9h-0.9zM401.1 246.3h0.9v0.9h-0.9zM399.0 246.5h0.9v0.9h-0.9zM401.9 238.4h0.9v0.9h-0.9zM393.8 245.8h0.9v0.9h-0.9zM395.8 251.2h0.9v0.9h-0.9zM403.2 239.6h0.9v0.9h-0.9zM403.3 248.2h0.9v0.9h-0.9zM403.2 238.2h0.9v0.9h-0.9zM404.2 241.5h0.9v0.9h-0.9zM394.2 239.8h0.9v0.9h-0.9zM395.7 237.0h0.9v0.9h-0.9zM401.9 242.9h0.9v0.9h-0.9zM406.5 235.8h0.9v0.9h-0.9zM402.6 242.1h0.9v0.9h-0.9zM404.7 234.8h0.9v0.9h-0.9zM393.3 243.8h0.9v0.9h-0.9zM392.9 243.7h0.9v0.9h-0.9zM400.4 242.3h0.9v0.9h-0.9zM400.8 240.6h0.9v0.9h-0.9zM399.7 243.4h0.9v0.9h-0.9zM405.3 239.4h0.9v0.9h-0.9zM405.1 234.5h0.9v0.9h-0.9zM403.2 246.2h0.9v0.9h-0.9zM401.8 241.2h0.9v0.9h-0.9zM401.1 244.7h0.9v0.9h-0.9zM395.9 240.1h0.9v0.9h-0.9zM398.7 240.1h0.9v0.9h-0.9zM402.3 236.8h0.9v0.9h-0.9zM399.9 240.0h0.9v0.9h-0.9zM399.8 238.1h0.9v0.9h-0.9zM400.8 233.2h0.9v0.9h-0.9zM396.7 240.7h0.9v0.9h-0.9zM402.6 238.6h0.9v0.9h-0.9zM401.1 238.3h0.9v0.9h-0.9zM394.4 241.0h0.9v0.9h-0.9zM397.4 241.0h0.9v0.9h-0.9zM402.0 240.8h0.9v0.9h-0.9zM403.5 236.9h0.9v0.9h-0.9zM394.5 241.3h0.9v0.9h-0.9zM401.1 241.7h0.9v0.9h-0.9zM408.0 233.9h0.9v0.9h-0.9zM411.5 238.8h0.9v0.9h-0.9zM398.9 248.1h0.9v0.9h-0.9zM407.8 239.9h0.9v0.9h-0.9z" fill="#3a4cff" fill-opacity="0.45"/>
<path d="M398.0 250.2h0.9v0.9h-0.9zM395.4 248.6h0.9v0.9h-0.9zM398.9 252.0h0.9v0.9h-0.9zM397.3 250.5h0.9v0.9h-0.9zM396.5 246.3h0.9v0.9h-0.9zM398.5 249.1h0.9v0.9h-0.9zM395.4 250.5h0.9v0.9h-0.9zM393.8 247.1h0.9v0.9h-0.9zM397.4 247.1h0.9v0.9h-0.9zM392.2 245.8h0.9v0.9h-0.9zM397.3 248.5h0.9v0.9h-0.9zM395.7 249.1h0.9v0.9h-0.9zM392.6 251.1h0.9v0.9h-0.9zM398.6 248.0h0.9v0.9h-0.9zM395.1 249.1h0.9v0.9h-0.9zM398.5 250.2h0.9v0.9h-0.9zM398.1 248.2h0.9v0.9h-0.9zM395.6 251.0h0.9v0.9h-0.9zM400.2 245.1h0.9v0.9h-0.9zM399.4 247.8h0.9v0.9h-0.9zM395.5 245.2h0.9v0.9h-0.9zM400.6 241.2h0.9v0.9h-0.9zM397.6 246.7h0.9v0.9h-0.9zM400.2 245.3h0.9v0.9h-0.9zM397.8 249.3h0.9v0.9h-0.9zM397.9 246.1h0.9v0.9h-0.9zM399.6 247.9h0.9v0.9h-0.9zM399.6 245.4h0.9v0.9h-0.9zM396.4 247.2h0.9v0.9h-0.9zM394.6 249.8h0.9v0.9h-0.9zM399.8 250.6h0.9v0.9h-0.9zM396.4 249.4h0.9v0.9h-0.9zM400.5 246.1h0.9v0.9h-0.9zM397.3 248.2h0.9v0.9h-0.9zM393.8 246.8h0.9v0.9h-0.9zM400.7 246.7h0.9v0.9h-0.9zM395.5 245.3h0.9v0.9h-0.9zM398.6 250.5h0.9v0.9h-0.9zM392.4 247.7h0.9v0.9h-0.9zM402.0 249.6h0.9v0.9h-0.9zM401.3 244.5h0.9v0.9h-0.9zM398.1 245.4h0.9v0.9h-0.9zM398.3 246.4h0.9v0.9h-0.9zM399.0 250.7h0.9v0.9h-0.9zM397.8 247.0h0.9v0.9h-0.9zM397.5 248.5h0.9v0.9h-0.9zM395.6 249.2h0.9v0.9h-0.9zM400.5 250.6h0.9v0.9h-0.9zM394.0 251.8h0.9v0.9h-0.9zM404.9 244.8h0.9v0.9h-0.9zM398.6 250.4h0.9v0.9h-0.9zM394.9 247.7h0.9v0.9h-0.9zM397.5 246.2h0.9v0.9h-0.9zM400.5 246.4h0.9v0.9h-0.9zM400.9 253.2h0.9v0.9h-0.9zM396.6 250.7h0.9v0.9h-0.9zM395.7 252.0h0.9v0.9h-0.9zM400.2 246.9h0.9v0.9h-0.9zM401.8 250.2h0.9v0.9h-0.9zM401.3 246.0h0.9v0.9h-0.9zM398.0 250.6h0.9v0.9h-0.9zM391.7 248.8h0.9v0.9h-0.9zM399.1 248.6h0.9v0.9h-0.9zM404.7 249.2h0.9v0.9h-0.9zM398.5 248.5h0.9v0.9h-0.9zM392.7 249.5h0.9v0.9h-0.9zM397.6 247.1h0.9v0.9h-0.9zM397.8 249.3h0.9v0.9h-0.9zM393.4 248.1h0.9v0.9h-0.9zM392.6 253.2h0.9v0.9h-0.9zM391.9 245.7h0.9v0.9h-0.9zM399.2 246.4h0.9v0.9h-0.9zM399.6 245.8h0.9v0.9h-0.9zM404.4 246.5h0.9v0.9h-0.9zM397.6 248.0h0.9v0.9h-0.9zM397.2 250.1h0.9v0.9h-0.9zM402.8 244.1h0.9v0.9h-0.9zM394.2 250.9h0.9v0.9h-0.9zM398.8 243.1h0.9v0.9h-0.9zM393.8 246.8h0.9v0.9h-0.9zM399.3 248.3h0.9v0.9h-0.9zM393.5 246.6h0.9v0.9h-0.9zM397.0 242.4h0.9v0.9h-0.9zM398.9 246.7h0.9v0.9h-0.9zM404.1 247.4h0.9v0.9h-0.9zM394.9 248.2h0.9v0.9h-0.9zM395.4 246.8h0.9v0.9h-0.9zM398.3 250.0h0.9v0.9h-0.9zM392.0 249.7h0.9v0.9h-0.9zM402.4 247.5h0.9v0.9h-0.9zM393.6 247.4h0.9v0.9h-0.9zM392.7 245.7h0.9v0.9h-0.9zM400.7 246.5h0.9v0.9h-0.9zM393.3 245.8h0.9v0.9h-0.9zM395.3 247.4h0.9v0.9h-0.9zM401.9 244.5h0.9v0.9h-0.9zM398.5 250.2h0.9v0.9h-0.9zM398.9 246.6h0.9v0.9h-0.9zM398.4 246.2h0.9v0.9h-0.9zM395.7 246.0h0.9v0.9h-0.9zM392.7 246.0h0.9v0.9h-0.9zM399.1 248.4h0.9v0.9h-0.9zM398.4 249.5h0.9v0.9h-0.9zM398.8 247.5h0.9v0.9h-0.9zM394.9 250.6h0.9v0.9h-0.9zM401.4 247.7h0.9v0.9h-0.9zM400.4 245.1h0.9v0.9h-0.9zM395.2 252.2h0.9v0.9h-0.9zM395.4 249.4h0.9v0.9h-0.9zM396.4 248.3h0.9v0.9h-0.9zM395.6 247.2h0.9v0.9h-0.9zM395.6 243.4h0.9v0.9h-0.9zM393.0 246.8h0.9v0.9h-0.9zM392.0 243.4h0.9v0.9h-0.9zM400.5 250.8h0.9v0.9h-0.9zM397.0 250.0h0.9v0.9h-0.9zM397.6 244.4h0.9v0.9h-0.9zM399.0 242.5h0.9v0.9h-0.9zM394.8 248.0h0.9v0.9h-0.9zM401.0 246.4h0.9v0.9h-0.9zM395.8 246.4h0.9v0.9h-0.9zM397.3 248.0h0.9v0.9h-0.9zM400.7 250.0h0.9v0.9h-0.9zM399.3 247.0h0.9v0.9h-0.9zM398.2 251.8h0.9v0.9h-0.9zM397.6 247.7h0.9v0.9h-0.9zM404.2 248.9h0.9v0.9h-0.9zM398.7 246.9h0.9v0.9h-0.9zM396.1 251.3h0.9v0.9h-0.9zM396.6 250.8h0.9v0.9h-0.9zM394.7 249.4h0.9v0.9h-0.9zM398.4 247.7h0.9v0.9h-0.9zM398.1 248.5h0.9v0.9h-0.9zM392.4 247.2h0.9v0.9h-0.9zM398.4 252.2h0.9v0.9h-0.9zM395.7 246.1h0.9v0.9h-0.9zM395.0 249.0h0.9v0.9h-0.9zM400.1 245.0h0.9v0.9h-0.9zM398.9 247.6h0.9v0.9h-0.9zM394.9 246.4h0.9v0.9h-0.9zM395.8 246.6h0.9v0.9h-0.9zM396.8 243.3h0.9v0.9h-0.9zM401.3 248.0h0.9v0.9h-0.9zM400.3 250.5h0.9v0.9h-0.9zM397.1 243.3h0.9v0.9h-0.9zM397.6 248.9h0.9v0.9h-0.9zM393.7 246.5h0.9v0.9h-0.9zM398.9 248.5h0.9v0.9h-0.9zM395.4 248.1h0.9v0.9h-0.9zM394.8 247.5h0.9v0.9h-0.9z" fill="#1a2cff" fill-opacity="0.55"/>
<path d="M408.1 240.8h0.9v0.9h-0.9zM393.7 243.5h0.9v0.9h-0.9zM414.2 228.4h0.9v0.9h-0.9zM408.3 238.6h0.9v0.9h-0.9zM393.5 236.5h0.9v0.9h-0.9zM408.9 238.1h0.9v0.9h-0.9zM398.9 235.5h0.9v0.9h-0.9zM408.8 236.3h0.9v0.9h-0.9zM397.5 226.7h0.9v0.9h-0.9zM401.8 231.1h0.9v0.9h-0.9zM406.6 245.8h0.9v0.9h-0.9zM413.3 230.7h0.9v0.9h-0.9zM406.2 235.2h0.9v0.9h-0.9zM400.6 239.0h0.9v0.9h-0.9zM410.9 221.8h0.9v0.9h-0.9zM401.0 240.3h0.9v0.9h-0.9zM412.4 234.5h0.9v0.9h-0.9zM398.1 240.8h0.9v0.9h-0.9zM397.4 232.4h0.9v0.9h-0.9zM402.4 233.6h0.9v0.9h-0.9zM410.9 232.7h0.9v0.9h-0.9zM400.0 240.6h0.9v0.9h-0.9zM399.4 235.3h0.9v0.9h-0.9zM405.7 243.1h0.9v0.9h-0.9zM394.7 231.2h0.9v0.9h-0.9zM403.1 243.6h0.9v0.9h-0.9zM411.5 219.8h0.9v0.9h-0.9zM400.7 236.6h0.9v0.9h-0.9zM397.9 245.4h0.9v0.9h-0.9zM404.9 237.4h0.9v0.9h-0.9zM415.2 222.6h0.9v0.9h-0.9zM411.8 235.1h0.9v0.9h-0.9zM398.1 237.1h0.9v0.9h-0.9zM415.5 230.4h0.9v0.9h-0.9zM400.3 230.7h0.9v0.9h-0.9zM411.0 233.3h0.9v0.9h-0.9zM422.2 230.0h0.9v0.9h-0.9zM409.5 232.7h0.9v0.9h-0.9zM402.1 233.4h0.9v0.9h-0.9zM406.7 235.3h0.9v0.9h-0.9z" fill="#6070f0" fill-opacity="0.35"/>
<g filter="url(#b5)" transform="rotate(-15 395.00 250.20)"><ellipse cx="395.00" cy="250.20" rx="4.2" ry="2.8" fill="#1a2dff"/><ellipse cx="395.00" cy="250.20" rx="3.4" ry="2.2" fill="#00c8ff"/><ellipse cx="395.00" cy="250.20" rx="2.7" ry="1.7" fill="#33e04a"/><ellipse cx="395.00" cy="250.20" rx="1.9" ry="1.2" fill="#f2e600"/><ellipse cx="395.00" cy="250.20" rx="1.1" ry="0.8" fill="#ff1a00"/></g>
<line x1="481.50" y1="94.00" x2="481.50" y2="264.60" stroke="#333333" stroke-width="1"/>
<line x1="481.80" y1="264.50" x2="653.00" y2="264.50" stroke="#333333" stroke-width="1"/>
<line x1="475.50" y1="94.50" x2="481.80" y2="94.50" stroke="#333333" stroke-width="1"/>
<text x="472.30" y="98.70" font-size="13" fill="#231f20" stroke="#231f20" stroke-width="0.35" text-anchor="end" textLength="14.30" lengthAdjust="spacingAndGlyphs">50</text>
<line x1="475.50" y1="128.50" x2="481.80" y2="128.50" stroke="#333333" stroke-width="1"/>
<text x="472.30" y="132.70" font-size="13" fill="#231f20" stroke="#231f20" stroke-width="0.35" text-anchor="end" textLength="14.30" lengthAdjust="spacingAndGlyphs">40</text>
<line x1="475.50" y1="162.50" x2="481.80" y2="162.50" stroke="#333333" stroke-width="1"/>
<text x="472.30" y="167.00" font-size="13" fill="#231f20" stroke="#231f20" stroke-width="0.35" text-anchor="end" textLength="14.30" lengthAdjust="spacingAndGlyphs">30</text>
<line x1="475.50" y1="196.50" x2="481.80" y2="196.50" stroke="#333333" stroke-width="1"/>
<text x="472.30" y="201.00" font-size="13" fill="#231f20" stroke="#231f20" stroke-width="0.35" text-anchor="end" textLength="14.30" lengthAdjust="spacingAndGlyphs">20</text>
<line x1="475.50" y1="230.50" x2="481.80" y2="230.50" stroke="#333333" stroke-width="1"/>
<text x="472.30" y="235.30" font-size="13" fill="#231f20" stroke="#231f20" stroke-width="0.35" text-anchor="end" textLength="14.30" lengthAdjust="spacingAndGlyphs">10</text>
<line x1="475.50" y1="264.50" x2="481.80" y2="264.50" stroke="#333333" stroke-width="1"/>
<text x="472.30" y="269.30" font-size="13" fill="#231f20" stroke="#231f20" stroke-width="0.35" text-anchor="end" textLength="7.15" lengthAdjust="spacingAndGlyphs">0</text>
<line x1="508.50" y1="264.60" x2="508.50" y2="270.90" stroke="#333333" stroke-width="1"/>
<line x1="546.50" y1="264.60" x2="546.50" y2="270.90" stroke="#333333" stroke-width="1"/>
<line x1="586.50" y1="264.60" x2="586.50" y2="270.90" stroke="#333333" stroke-width="1"/>
<line x1="626.50" y1="264.60" x2="626.50" y2="270.90" stroke="#333333" stroke-width="1"/>
<text x="0" y="0" font-size="12.8" fill="#231f20" stroke="#231f20" stroke-width="0.35" transform="translate(454.30,246.40) rotate(-90)" textLength="134.50" lengthAdjust="spacingAndGlyphs">% CD40+ CD86+ of cDCs</text>
<text x="546.20" y="98.60" font-size="11.5" fill="#231f20" stroke="#231f20" stroke-width="0.1" textLength="38.60" lengthAdjust="spacingAndGlyphs">&lt;0.0001</text>
<line x1="508.40" y1="101.50" x2="630.80" y2="101.50" stroke="#555" stroke-width="1.1"/>
<text x="589.50" y="80.70" font-size="11.5" fill="#231f20" stroke="#231f20" stroke-width="0.1" textLength="38.30" lengthAdjust="spacingAndGlyphs">&lt;0.0001</text>
<line x1="587.70" y1="82.50" x2="632.00" y2="82.50" stroke="#555" stroke-width="1.1"/>
<line x1="497.00" y1="258.50" x2="518.00" y2="258.50" stroke="#555" stroke-width="1.1"/>
<circle cx="497.90" cy="260.30" r="3.3" fill="#d4d4d4" stroke="#231f20" stroke-width="0.9"/>
<circle cx="508.00" cy="257.40" r="3.3" fill="#d4d4d4" stroke="#231f20" stroke-width="0.9"/>
<circle cx="517.30" cy="258.50" r="3.3" fill="#d4d4d4" stroke="#231f20" stroke-width="0.9"/>
<line x1="533.90" y1="137.50" x2="559.60" y2="137.50" stroke="#555" stroke-width="1.1"/>
<circle cx="547.00" cy="111.00" r="3.3" fill="white" stroke="#231f20" stroke-width="0.9"/>
<circle cx="547.00" cy="137.30" r="3.3" fill="white" stroke="#231f20" stroke-width="0.9"/>
<circle cx="547.00" cy="164.90" r="3.3" fill="white" stroke="#231f20" stroke-width="0.9"/>
<line x1="573.30" y1="135.50" x2="597.00" y2="135.50" stroke="#555" stroke-width="1.1"/>
<circle cx="576.70" cy="137.80" r="3.4" fill="#111" stroke="#231f20" stroke-width="0.9"/>
<circle cx="586.40" cy="134.70" r="3.4" fill="#111" stroke="#231f20" stroke-width="0.9"/>
<circle cx="596.40" cy="129.40" r="3.4" fill="#111" stroke="#231f20" stroke-width="0.9"/>
<circle cx="596.40" cy="136.80" r="3.4" fill="#111" stroke="#231f20" stroke-width="0.9"/>
<line x1="613.50" y1="245.50" x2="639.60" y2="245.50" stroke="#555" stroke-width="1.1"/>
<circle cx="626.00" cy="216.70" r="3.4" fill="#ff2a00" stroke="#231f20" stroke-width="0.9"/>
<circle cx="629.60" cy="230.20" r="3.4" fill="#ff2a00" stroke="#231f20" stroke-width="0.9"/>
<circle cx="622.40" cy="235.20" r="3.4" fill="#ff2a00" stroke="#231f20" stroke-width="0.9"/>
<circle cx="616.30" cy="243.80" r="3.4" fill="#ff2a00" stroke="#231f20" stroke-width="0.9"/>
<circle cx="622.80" cy="247.00" r="3.4" fill="#ff2a00" stroke="#231f20" stroke-width="0.9"/>
<circle cx="616.30" cy="253.10" r="3.4" fill="#ff2a00" stroke="#231f20" stroke-width="0.9"/>
<circle cx="628.80" cy="253.10" r="3.4" fill="#ff2a00" stroke="#231f20" stroke-width="0.9"/>
<circle cx="636.00" cy="250.30" r="3.4" fill="#ff2a00" stroke="#231f20" stroke-width="0.9"/>
<text x="507.60" y="284.60" font-size="11.5" fill="#231f20" stroke="#231f20" stroke-width="0.35" text-anchor="middle" textLength="18.60" lengthAdjust="spacingAndGlyphs">PBS</text>
<text x="546.00" y="284.60" font-size="11.5" fill="#231f20" stroke="#231f20" stroke-width="0.35" text-anchor="middle" textLength="20.30" lengthAdjust="spacingAndGlyphs">OVA</text>
<text x="563.40" y="284.60" font-size="11.5" fill="#231f20" stroke="#231f20" stroke-width="0.35" textLength="30.00" lengthAdjust="spacingAndGlyphs">IFNαR</text>
<text x="593.10" y="279.81" font-size="9.66" fill="#231f20" stroke="#231f20" stroke-width="0.35" textLength="13.50" lengthAdjust="spacingAndGlyphs">WT</text>
<text x="584.80" y="297.80" font-size="11.5" fill="#231f20" stroke="#231f20" stroke-width="0.35" text-anchor="middle" textLength="25.10" lengthAdjust="spacingAndGlyphs">eGFP</text>
<text x="609.20" y="284.60" font-size="11.5" fill="#ed1c24" stroke="#ed1c24" stroke-width="0.35" textLength="30.50" lengthAdjust="spacingAndGlyphs">IFNαR</text>
<text x="639.40" y="279.81" font-size="9.66" fill="#ed1c24" stroke="#ed1c24" stroke-width="0.35" textLength="16.60" lengthAdjust="spacingAndGlyphs">cKO</text>
<text x="632.50" y="297.80" font-size="11.5" fill="#ed1c24" stroke="#ed1c24" stroke-width="0.35" text-anchor="middle" textLength="25.10" lengthAdjust="spacingAndGlyphs">eGFP</text>
<text x="5.40" y="313.30" font-size="13.5" fill="#231f20" stroke="#231f20" stroke-width="0.35" textLength="9.40" lengthAdjust="spacingAndGlyphs">C</text>
<text x="22.30" y="347.80" font-size="12" fill="#231f20" stroke="#231f20" stroke-width="0.35" text-anchor="middle" textLength="25.40" lengthAdjust="spacingAndGlyphs">eGFP</text>
<text x="3.50" y="405.30" font-size="12" fill="#231f20" stroke="#231f20" stroke-width="0.35" textLength="30.20" lengthAdjust="spacingAndGlyphs">IFNαR</text>
<text x="33.40" y="400.30" font-size="10.08" fill="#231f20" stroke="#231f20" stroke-width="0.35" textLength="13.30" lengthAdjust="spacingAndGlyphs">WT</text>
<text x="25.20" y="419.60" font-size="12" fill="#231f20" stroke="#231f20" stroke-width="0.35" text-anchor="middle" textLength="20.60" lengthAdjust="spacingAndGlyphs">OVA</text>
<text x="2.80" y="475.00" font-size="12" fill="#ed1c24" stroke="#ed1c24" stroke-width="0.35" textLength="30.60" lengthAdjust="spacingAndGlyphs">IFNαR</text>
<text x="33.10" y="470.00" font-size="10.08" fill="#ed1c24" stroke="#ed1c24" stroke-width="0.35" textLength="15.60" lengthAdjust="spacingAndGlyphs">cKO</text>
<text x="25.70" y="489.40" font-size="12" fill="#ed1c24" stroke="#ed1c24" stroke-width="0.35" text-anchor="middle" textLength="20.00" lengthAdjust="spacingAndGlyphs">OVA</text>
<line x1="50.50" y1="320.40" x2="50.50" y2="512.00" stroke="#333" stroke-width="1.2"/>
<polyline points="44.90,325.10 50.50,320.40 56.10,325.10" fill="none" stroke="#333" stroke-width="1.2"/>
<text x="0" y="0" font-size="12.5" fill="#231f20" stroke="#231f20" stroke-width="0.35" transform="translate(46.20,512.00) rotate(-90)" textLength="21.80" lengthAdjust="spacingAndGlyphs">CD8</text>
<line x1="147.10" y1="320.40" x2="147.10" y2="512.00" stroke="#333" stroke-width="1.2"/>
<polyline points="141.50,325.10 147.10,320.40 152.70,325.10" fill="none" stroke="#333" stroke-width="1.2"/>
<text x="0" y="0" font-size="12.5" fill="#231f20" stroke="#231f20" stroke-width="0.35" transform="translate(143.2,512) rotate(-90)"><tspan textLength="79.5" lengthAdjust="spacingAndGlyphs">SIINFEKL-H-2K</tspan><tspan font-size="7" dy="-4" stroke-width="0.1">b</tspan></text>
<rect x="64.20" y="315.20" width="62.40" height="62.50" fill="none" stroke="#2b2b2b" stroke-width="1.1"/>
<line x1="61.80" y1="320.70" x2="64.20" y2="320.70" stroke="#333" stroke-width="0.8"/>
<line x1="61.80" y1="335.90" x2="64.20" y2="335.90" stroke="#333" stroke-width="0.8"/>
<line x1="61.80" y1="352.50" x2="64.20" y2="352.50" stroke="#333" stroke-width="0.8"/>
<line x1="61.80" y1="373.80" x2="64.20" y2="373.80" stroke="#333" stroke-width="0.8"/>
<line x1="62.80" y1="347.50" x2="64.20" y2="347.50" stroke="#444" stroke-width="0.6"/>
<line x1="62.80" y1="344.58" x2="64.20" y2="344.58" stroke="#444" stroke-width="0.6"/>
<line x1="62.80" y1="342.51" x2="64.20" y2="342.51" stroke="#444" stroke-width="0.6"/>
<line x1="62.80" y1="340.90" x2="64.20" y2="340.90" stroke="#444" stroke-width="0.6"/>
<line x1="62.80" y1="339.58" x2="64.20" y2="339.58" stroke="#444" stroke-width="0.6"/>
<line x1="62.80" y1="338.47" x2="64.20" y2="338.47" stroke="#444" stroke-width="0.6"/>
<line x1="62.80" y1="337.51" x2="64.20" y2="337.51" stroke="#444" stroke-width="0.6"/>
<line x1="62.80" y1="336.66" x2="64.20" y2="336.66" stroke="#444" stroke-width="0.6"/>
<line x1="62.80" y1="331.32" x2="64.20" y2="331.32" stroke="#444" stroke-width="0.6"/>
<line x1="62.80" y1="328.65" x2="64.20" y2="328.65" stroke="#444" stroke-width="0.6"/>
<line x1="62.80" y1="326.75" x2="64.20" y2="326.75" stroke="#444" stroke-width="0.6"/>
<line x1="62.80" y1="325.28" x2="64.20" y2="325.28" stroke="#444" stroke-width="0.6"/>
<line x1="62.80" y1="324.07" x2="64.20" y2="324.07" stroke="#444" stroke-width="0.6"/>
<line x1="62.80" y1="323.05" x2="64.20" y2="323.05" stroke="#444" stroke-width="0.6"/>
<line x1="62.80" y1="322.17" x2="64.20" y2="322.17" stroke="#444" stroke-width="0.6"/>
<line x1="62.80" y1="321.40" x2="64.20" y2="321.40" stroke="#444" stroke-width="0.6"/>
<line x1="62.80" y1="317.20" x2="64.20" y2="317.20" stroke="#444" stroke-width="0.6"/>
<line x1="62.80" y1="357.70" x2="64.20" y2="357.70" stroke="#444" stroke-width="0.6"/>
<line x1="62.80" y1="368.70" x2="64.20" y2="368.70" stroke="#444" stroke-width="0.6"/>
<line x1="62.80" y1="376.20" x2="64.20" y2="376.20" stroke="#444" stroke-width="0.6"/>
<line x1="68.00" y1="377.70" x2="68.00" y2="380.10" stroke="#333" stroke-width="0.8"/>
<line x1="89.50" y1="377.70" x2="89.50" y2="380.10" stroke="#333" stroke-width="0.8"/>
<line x1="106.10" y1="377.70" x2="106.10" y2="380.10" stroke="#333" stroke-width="0.8"/>
<line x1="122.10" y1="377.70" x2="122.10" y2="380.10" stroke="#333" stroke-width="0.8"/>
<line x1="94.50" y1="377.70" x2="94.50" y2="379.10" stroke="#444" stroke-width="0.6"/>
<line x1="97.42" y1="377.70" x2="97.42" y2="379.10" stroke="#444" stroke-width="0.6"/>
<line x1="99.49" y1="377.70" x2="99.49" y2="379.10" stroke="#444" stroke-width="0.6"/>
<line x1="101.10" y1="377.70" x2="101.10" y2="379.10" stroke="#444" stroke-width="0.6"/>
<line x1="102.42" y1="377.70" x2="102.42" y2="379.10" stroke="#444" stroke-width="0.6"/>
<line x1="103.53" y1="377.70" x2="103.53" y2="379.10" stroke="#444" stroke-width="0.6"/>
<line x1="104.49" y1="377.70" x2="104.49" y2="379.10" stroke="#444" stroke-width="0.6"/>
<line x1="105.34" y1="377.70" x2="105.34" y2="379.10" stroke="#444" stroke-width="0.6"/>
<line x1="110.92" y1="377.70" x2="110.92" y2="379.10" stroke="#444" stroke-width="0.6"/>
<line x1="113.73" y1="377.70" x2="113.73" y2="379.10" stroke="#444" stroke-width="0.6"/>
<line x1="115.73" y1="377.70" x2="115.73" y2="379.10" stroke="#444" stroke-width="0.6"/>
<line x1="117.28" y1="377.70" x2="117.28" y2="379.10" stroke="#444" stroke-width="0.6"/>
<line x1="118.55" y1="377.70" x2="118.55" y2="379.10" stroke="#444" stroke-width="0.6"/>
<line x1="119.62" y1="377.70" x2="119.62" y2="379.10" stroke="#444" stroke-width="0.6"/>
<line x1="120.55" y1="377.70" x2="120.55" y2="379.10" stroke="#444" stroke-width="0.6"/>
<line x1="121.37" y1="377.70" x2="121.37" y2="379.10" stroke="#444" stroke-width="0.6"/>
<line x1="83.70" y1="377.70" x2="83.70" y2="379.10" stroke="#444" stroke-width="0.6"/>
<line x1="73.20" y1="377.70" x2="73.20" y2="379.10" stroke="#444" stroke-width="0.6"/>
<line x1="124.70" y1="377.70" x2="124.70" y2="379.10" stroke="#444" stroke-width="0.6"/>
<rect x="62.20" y="361.50" width="2" height="2.4" fill="#111"/>
<rect x="76.43" y="377.70" width="3" height="1.8" fill="#111"/>
<rect x="161.30" y="315.20" width="62.60" height="62.50" fill="none" stroke="#2b2b2b" stroke-width="1.1"/>
<line x1="158.90" y1="320.70" x2="161.30" y2="320.70" stroke="#333" stroke-width="0.8"/>
<line x1="158.90" y1="335.90" x2="161.30" y2="335.90" stroke="#333" stroke-width="0.8"/>
<line x1="158.90" y1="352.50" x2="161.30" y2="352.50" stroke="#333" stroke-width="0.8"/>
<line x1="158.90" y1="373.80" x2="161.30" y2="373.80" stroke="#333" stroke-width="0.8"/>
<line x1="159.90" y1="347.50" x2="161.30" y2="347.50" stroke="#444" stroke-width="0.6"/>
<line x1="159.90" y1="344.58" x2="161.30" y2="344.58" stroke="#444" stroke-width="0.6"/>
<line x1="159.90" y1="342.51" x2="161.30" y2="342.51" stroke="#444" stroke-width="0.6"/>
<line x1="159.90" y1="340.90" x2="161.30" y2="340.90" stroke="#444" stroke-width="0.6"/>
<line x1="159.90" y1="339.58" x2="161.30" y2="339.58" stroke="#444" stroke-width="0.6"/>
<line x1="159.90" y1="338.47" x2="161.30" y2="338.47" stroke="#444" stroke-width="0.6"/>
<line x1="159.90" y1="337.51" x2="161.30" y2="337.51" stroke="#444" stroke-width="0.6"/>
<line x1="159.90" y1="336.66" x2="161.30" y2="336.66" stroke="#444" stroke-width="0.6"/>
<line x1="159.90" y1="331.32" x2="161.30" y2="331.32" stroke="#444" stroke-width="0.6"/>
<line x1="159.90" y1="328.65" x2="161.30" y2="328.65" stroke="#444" stroke-width="0.6"/>
<line x1="159.90" y1="326.75" x2="161.30" y2="326.75" stroke="#444" stroke-width="0.6"/>
<line x1="159.90" y1="325.28" x2="161.30" y2="325.28" stroke="#444" stroke-width="0.6"/>
<line x1="159.90" y1="324.07" x2="161.30" y2="324.07" stroke="#444" stroke-width="0.6"/>
<line x1="159.90" y1="323.05" x2="161.30" y2="323.05" stroke="#444" stroke-width="0.6"/>
<line x1="159.90" y1="322.17" x2="161.30" y2="322.17" stroke="#444" stroke-width="0.6"/>
<line x1="159.90" y1="321.40" x2="161.30" y2="321.40" stroke="#444" stroke-width="0.6"/>
<line x1="159.90" y1="317.20" x2="161.30" y2="317.20" stroke="#444" stroke-width="0.6"/>
<line x1="159.90" y1="357.70" x2="161.30" y2="357.70" stroke="#444" stroke-width="0.6"/>
<line x1="159.90" y1="368.70" x2="161.30" y2="368.70" stroke="#444" stroke-width="0.6"/>
<line x1="159.90" y1="376.20" x2="161.30" y2="376.20" stroke="#444" stroke-width="0.6"/>
<line x1="165.10" y1="377.70" x2="165.10" y2="380.10" stroke="#333" stroke-width="0.8"/>
<line x1="186.60" y1="377.70" x2="186.60" y2="380.10" stroke="#333" stroke-width="0.8"/>
<line x1="203.20" y1="377.70" x2="203.20" y2="380.10" stroke="#333" stroke-width="0.8"/>
<line x1="219.20" y1="377.70" x2="219.20" y2="380.10" stroke="#333" stroke-width="0.8"/>
<line x1="191.60" y1="377.70" x2="191.60" y2="379.10" stroke="#444" stroke-width="0.6"/>
<line x1="194.52" y1="377.70" x2="194.52" y2="379.10" stroke="#444" stroke-width="0.6"/>
<line x1="196.59" y1="377.70" x2="196.59" y2="379.10" stroke="#444" stroke-width="0.6"/>
<line x1="198.20" y1="377.70" x2="198.20" y2="379.10" stroke="#444" stroke-width="0.6"/>
<line x1="199.52" y1="377.70" x2="199.52" y2="379.10" stroke="#444" stroke-width="0.6"/>
<line x1="200.63" y1="377.70" x2="200.63" y2="379.10" stroke="#444" stroke-width="0.6"/>
<line x1="201.59" y1="377.70" x2="201.59" y2="379.10" stroke="#444" stroke-width="0.6"/>
<line x1="202.44" y1="377.70" x2="202.44" y2="379.10" stroke="#444" stroke-width="0.6"/>
<line x1="208.02" y1="377.70" x2="208.02" y2="379.10" stroke="#444" stroke-width="0.6"/>
<line x1="210.83" y1="377.70" x2="210.83" y2="379.10" stroke="#444" stroke-width="0.6"/>
<line x1="212.83" y1="377.70" x2="212.83" y2="379.10" stroke="#444" stroke-width="0.6"/>
<line x1="214.38" y1="377.70" x2="214.38" y2="379.10" stroke="#444" stroke-width="0.6"/>
<line x1="215.65" y1="377.70" x2="215.65" y2="379.10" stroke="#444" stroke-width="0.6"/>
<line x1="216.72" y1="377.70" x2="216.72" y2="379.10" stroke="#444" stroke-width="0.6"/>
<line x1="217.65" y1="377.70" x2="217.65" y2="379.10" stroke="#444" stroke-width="0.6"/>
<line x1="218.47" y1="377.70" x2="218.47" y2="379.10" stroke="#444" stroke-width="0.6"/>
<line x1="180.80" y1="377.70" x2="180.80" y2="379.10" stroke="#444" stroke-width="0.6"/>
<line x1="170.30" y1="377.70" x2="170.30" y2="379.10" stroke="#444" stroke-width="0.6"/>
<line x1="221.80" y1="377.70" x2="221.80" y2="379.10" stroke="#444" stroke-width="0.6"/>
<rect x="159.30" y="361.50" width="2" height="2.4" fill="#111"/>
<rect x="173.57" y="377.70" width="3" height="1.8" fill="#111"/>
<rect x="64.20" y="384.30" width="62.40" height="62.50" fill="none" stroke="#2b2b2b" stroke-width="1.1"/>
<line x1="61.80" y1="389.80" x2="64.20" y2="389.80" stroke="#333" stroke-width="0.8"/>
<line x1="61.80" y1="405.00" x2="64.20" y2="405.00" stroke="#333" stroke-width="0.8"/>
<line x1="61.80" y1="421.60" x2="64.20" y2="421.60" stroke="#333" stroke-width="0.8"/>
<line x1="61.80" y1="442.90" x2="64.20" y2="442.90" stroke="#333" stroke-width="0.8"/>
<line x1="62.80" y1="416.60" x2="64.20" y2="416.60" stroke="#444" stroke-width="0.6"/>
<line x1="62.80" y1="413.68" x2="64.20" y2="413.68" stroke="#444" stroke-width="0.6"/>
<line x1="62.80" y1="411.61" x2="64.20" y2="411.61" stroke="#444" stroke-width="0.6"/>
<line x1="62.80" y1="410.00" x2="64.20" y2="410.00" stroke="#444" stroke-width="0.6"/>
<line x1="62.80" y1="408.68" x2="64.20" y2="408.68" stroke="#444" stroke-width="0.6"/>
<line x1="62.80" y1="407.57" x2="64.20" y2="407.57" stroke="#444" stroke-width="0.6"/>
<line x1="62.80" y1="406.61" x2="64.20" y2="406.61" stroke="#444" stroke-width="0.6"/>
<line x1="62.80" y1="405.76" x2="64.20" y2="405.76" stroke="#444" stroke-width="0.6"/>
<line x1="62.80" y1="400.42" x2="64.20" y2="400.42" stroke="#444" stroke-width="0.6"/>
<line x1="62.80" y1="397.75" x2="64.20" y2="397.75" stroke="#444" stroke-width="0.6"/>
<line x1="62.80" y1="395.85" x2="64.20" y2="395.85" stroke="#444" stroke-width="0.6"/>
<line x1="62.80" y1="394.38" x2="64.20" y2="394.38" stroke="#444" stroke-width="0.6"/>
<line x1="62.80" y1="393.17" x2="64.20" y2="393.17" stroke="#444" stroke-width="0.6"/>
<line x1="62.80" y1="392.15" x2="64.20" y2="392.15" stroke="#444" stroke-width="0.6"/>
<line x1="62.80" y1="391.27" x2="64.20" y2="391.27" stroke="#444" stroke-width="0.6"/>
<line x1="62.80" y1="390.50" x2="64.20" y2="390.50" stroke="#444" stroke-width="0.6"/>
<line x1="62.80" y1="386.30" x2="64.20" y2="386.30" stroke="#444" stroke-width="0.6"/>
<line x1="62.80" y1="426.80" x2="64.20" y2="426.80" stroke="#444" stroke-width="0.6"/>
<line x1="62.80" y1="437.80" x2="64.20" y2="437.80" stroke="#444" stroke-width="0.6"/>
<line x1="62.80" y1="445.30" x2="64.20" y2="445.30" stroke="#444" stroke-width="0.6"/>
<line x1="68.00" y1="446.80" x2="68.00" y2="449.20" stroke="#333" stroke-width="0.8"/>
<line x1="89.50" y1="446.80" x2="89.50" y2="449.20" stroke="#333" stroke-width="0.8"/>
<line x1="106.10" y1="446.80" x2="106.10" y2="449.20" stroke="#333" stroke-width="0.8"/>
<line x1="122.10" y1="446.80" x2="122.10" y2="449.20" stroke="#333" stroke-width="0.8"/>
<line x1="94.50" y1="446.80" x2="94.50" y2="448.20" stroke="#444" stroke-width="0.6"/>
<line x1="97.42" y1="446.80" x2="97.42" y2="448.20" stroke="#444" stroke-width="0.6"/>
<line x1="99.49" y1="446.80" x2="99.49" y2="448.20" stroke="#444" stroke-width="0.6"/>
<line x1="101.10" y1="446.80" x2="101.10" y2="448.20" stroke="#444" stroke-width="0.6"/>
<line x1="102.42" y1="446.80" x2="102.42" y2="448.20" stroke="#444" stroke-width="0.6"/>
<line x1="103.53" y1="446.80" x2="103.53" y2="448.20" stroke="#444" stroke-width="0.6"/>
<line x1="104.49" y1="446.80" x2="104.49" y2="448.20" stroke="#444" stroke-width="0.6"/>
<line x1="105.34" y1="446.80" x2="105.34" y2="448.20" stroke="#444" stroke-width="0.6"/>
<line x1="110.92" y1="446.80" x2="110.92" y2="448.20" stroke="#444" stroke-width="0.6"/>
<line x1="113.73" y1="446.80" x2="113.73" y2="448.20" stroke="#444" stroke-width="0.6"/>
<line x1="115.73" y1="446.80" x2="115.73" y2="448.20" stroke="#444" stroke-width="0.6"/>
<line x1="117.28" y1="446.80" x2="117.28" y2="448.20" stroke="#444" stroke-width="0.6"/>
<line x1="118.55" y1="446.80" x2="118.55" y2="448.20" stroke="#444" stroke-width="0.6"/>
<line x1="119.62" y1="446.80" x2="119.62" y2="448.20" stroke="#444" stroke-width="0.6"/>
<line x1="120.55" y1="446.80" x2="120.55" y2="448.20" stroke="#444" stroke-width="0.6"/>
<line x1="121.37" y1="446.80" x2="121.37" y2="448.20" stroke="#444" stroke-width="0.6"/>
<line x1="83.70" y1="446.80" x2="83.70" y2="448.20" stroke="#444" stroke-width="0.6"/>
<line x1="73.20" y1="446.80" x2="73.20" y2="448.20" stroke="#444" stroke-width="0.6"/>
<line x1="124.70" y1="446.80" x2="124.70" y2="448.20" stroke="#444" stroke-width="0.6"/>
<rect x="62.20" y="430.60" width="2" height="2.4" fill="#111"/>
<rect x="76.43" y="446.80" width="3" height="1.8" fill="#111"/>
<rect x="161.30" y="384.30" width="62.60" height="62.50" fill="none" stroke="#2b2b2b" stroke-width="1.1"/>
<line x1="158.90" y1="389.80" x2="161.30" y2="389.80" stroke="#333" stroke-width="0.8"/>
<line x1="158.90" y1="405.00" x2="161.30" y2="405.00" stroke="#333" stroke-width="0.8"/>
<line x1="158.90" y1="421.60" x2="161.30" y2="421.60" stroke="#333" stroke-width="0.8"/>
<line x1="158.90" y1="442.90" x2="161.30" y2="442.90" stroke="#333" stroke-width="0.8"/>
<line x1="159.90" y1="416.60" x2="161.30" y2="416.60" stroke="#444" stroke-width="0.6"/>
<line x1="159.90" y1="413.68" x2="161.30" y2="413.68" stroke="#444" stroke-width="0.6"/>
<line x1="159.90" y1="411.61" x2="161.30" y2="411.61" stroke="#444" stroke-width="0.6"/>
<line x1="159.90" y1="410.00" x2="161.30" y2="410.00" stroke="#444" stroke-width="0.6"/>
<line x1="159.90" y1="408.68" x2="161.30" y2="408.68" stroke="#444" stroke-width="0.6"/>
<line x1="159.90" y1="407.57" x2="161.30" y2="407.57" stroke="#444" stroke-width="0.6"/>
<line x1="159.90" y1="406.61" x2="161.30" y2="406.61" stroke="#444" stroke-width="0.6"/>
<line x1="159.90" y1="405.76" x2="161.30" y2="405.76" stroke="#444" stroke-width="0.6"/>
<line x1="159.90" y1="400.42" x2="161.30" y2="400.42" stroke="#444" stroke-width="0.6"/>
<line x1="159.90" y1="397.75" x2="161.30" y2="397.75" stroke="#444" stroke-width="0.6"/>
<line x1="159.90" y1="395.85" x2="161.30" y2="395.85" stroke="#444" stroke-width="0.6"/>
<line x1="159.90" y1="394.38" x2="161.30" y2="394.38" stroke="#444" stroke-width="0.6"/>
<line x1="159.90" y1="393.17" x2="161.30" y2="393.17" stroke="#444" stroke-width="0.6"/>
<line x1="159.90" y1="392.15" x2="161.30" y2="392.15" stroke="#444" stroke-width="0.6"/>
<line x1="159.90" y1="391.27" x2="161.30" y2="391.27" stroke="#444" stroke-width="0.6"/>
<line x1="159.90" y1="390.50" x2="161.30" y2="390.50" stroke="#444" stroke-width="0.6"/>
<line x1="159.90" y1="386.30" x2="161.30" y2="386.30" stroke="#444" stroke-width="0.6"/>
<line x1="159.90" y1="426.80" x2="161.30" y2="426.80" stroke="#444" stroke-width="0.6"/>
<line x1="159.90" y1="437.80" x2="161.30" y2="437.80" stroke="#444" stroke-width="0.6"/>
<line x1="159.90" y1="445.30" x2="161.30" y2="445.30" stroke="#444" stroke-width="0.6"/>
<line x1="165.10" y1="446.80" x2="165.10" y2="449.20" stroke="#333" stroke-width="0.8"/>
<line x1="186.60" y1="446.80" x2="186.60" y2="449.20" stroke="#333" stroke-width="0.8"/>
<line x1="203.20" y1="446.80" x2="203.20" y2="449.20" stroke="#333" stroke-width="0.8"/>
<line x1="219.20" y1="446.80" x2="219.20" y2="449.20" stroke="#333" stroke-width="0.8"/>
<line x1="191.60" y1="446.80" x2="191.60" y2="448.20" stroke="#444" stroke-width="0.6"/>
<line x1="194.52" y1="446.80" x2="194.52" y2="448.20" stroke="#444" stroke-width="0.6"/>
<line x1="196.59" y1="446.80" x2="196.59" y2="448.20" stroke="#444" stroke-width="0.6"/>
<line x1="198.20" y1="446.80" x2="198.20" y2="448.20" stroke="#444" stroke-width="0.6"/>
<line x1="199.52" y1="446.80" x2="199.52" y2="448.20" stroke="#444" stroke-width="0.6"/>
<line x1="200.63" y1="446.80" x2="200.63" y2="448.20" stroke="#444" stroke-width="0.6"/>
<line x1="201.59" y1="446.80" x2="201.59" y2="448.20" stroke="#444" stroke-width="0.6"/>
<line x1="202.44" y1="446.80" x2="202.44" y2="448.20" stroke="#444" stroke-width="0.6"/>
<line x1="208.02" y1="446.80" x2="208.02" y2="448.20" stroke="#444" stroke-width="0.6"/>
<line x1="210.83" y1="446.80" x2="210.83" y2="448.20" stroke="#444" stroke-width="0.6"/>
<line x1="212.83" y1="446.80" x2="212.83" y2="448.20" stroke="#444" stroke-width="0.6"/>
<line x1="214.38" y1="446.80" x2="214.38" y2="448.20" stroke="#444" stroke-width="0.6"/>
<line x1="215.65" y1="446.80" x2="215.65" y2="448.20" stroke="#444" stroke-width="0.6"/>
<line x1="216.72" y1="446.80" x2="216.72" y2="448.20" stroke="#444" stroke-width="0.6"/>
<line x1="217.65" y1="446.80" x2="217.65" y2="448.20" stroke="#444" stroke-width="0.6"/>
<line x1="218.47" y1="446.80" x2="218.47" y2="448.20" stroke="#444" stroke-width="0.6"/>
<line x1="180.80" y1="446.80" x2="180.80" y2="448.20" stroke="#444" stroke-width="0.6"/>
<line x1="170.30" y1="446.80" x2="170.30" y2="448.20" stroke="#444" stroke-width="0.6"/>
<line x1="221.80" y1="446.80" x2="221.80" y2="448.20" stroke="#444" stroke-width="0.6"/>
<rect x="159.30" y="430.60" width="2" height="2.4" fill="#111"/>
<rect x="173.57" y="446.80" width="3" height="1.8" fill="#111"/>
<rect x="64.20" y="452.70" width="62.40" height="61.90" fill="none" stroke="#2b2b2b" stroke-width="1.1"/>
<line x1="61.80" y1="458.20" x2="64.20" y2="458.20" stroke="#333" stroke-width="0.8"/>
<line x1="61.80" y1="473.40" x2="64.20" y2="473.40" stroke="#333" stroke-width="0.8"/>
<line x1="61.80" y1="490.00" x2="64.20" y2="490.00" stroke="#333" stroke-width="0.8"/>
<line x1="61.80" y1="511.30" x2="64.20" y2="511.30" stroke="#333" stroke-width="0.8"/>
<line x1="62.80" y1="485.00" x2="64.20" y2="485.00" stroke="#444" stroke-width="0.6"/>
<line x1="62.80" y1="482.08" x2="64.20" y2="482.08" stroke="#444" stroke-width="0.6"/>
<line x1="62.80" y1="480.01" x2="64.20" y2="480.01" stroke="#444" stroke-width="0.6"/>
<line x1="62.80" y1="478.40" x2="64.20" y2="478.40" stroke="#444" stroke-width="0.6"/>
<line x1="62.80" y1="477.08" x2="64.20" y2="477.08" stroke="#444" stroke-width="0.6"/>
<line x1="62.80" y1="475.97" x2="64.20" y2="475.97" stroke="#444" stroke-width="0.6"/>
<line x1="62.80" y1="475.01" x2="64.20" y2="475.01" stroke="#444" stroke-width="0.6"/>
<line x1="62.80" y1="474.16" x2="64.20" y2="474.16" stroke="#444" stroke-width="0.6"/>
<line x1="62.80" y1="468.82" x2="64.20" y2="468.82" stroke="#444" stroke-width="0.6"/>
<line x1="62.80" y1="466.15" x2="64.20" y2="466.15" stroke="#444" stroke-width="0.6"/>
<line x1="62.80" y1="464.25" x2="64.20" y2="464.25" stroke="#444" stroke-width="0.6"/>
<line x1="62.80" y1="462.78" x2="64.20" y2="462.78" stroke="#444" stroke-width="0.6"/>
<line x1="62.80" y1="461.57" x2="64.20" y2="461.57" stroke="#444" stroke-width="0.6"/>
<line x1="62.80" y1="460.55" x2="64.20" y2="460.55" stroke="#444" stroke-width="0.6"/>
<line x1="62.80" y1="459.67" x2="64.20" y2="459.67" stroke="#444" stroke-width="0.6"/>
<line x1="62.80" y1="458.90" x2="64.20" y2="458.90" stroke="#444" stroke-width="0.6"/>
<line x1="62.80" y1="454.70" x2="64.20" y2="454.70" stroke="#444" stroke-width="0.6"/>
<line x1="62.80" y1="495.20" x2="64.20" y2="495.20" stroke="#444" stroke-width="0.6"/>
<line x1="62.80" y1="506.20" x2="64.20" y2="506.20" stroke="#444" stroke-width="0.6"/>
<line x1="62.80" y1="513.70" x2="64.20" y2="513.70" stroke="#444" stroke-width="0.6"/>
<line x1="68.00" y1="514.60" x2="68.00" y2="517.00" stroke="#333" stroke-width="0.8"/>
<line x1="89.50" y1="514.60" x2="89.50" y2="517.00" stroke="#333" stroke-width="0.8"/>
<line x1="106.10" y1="514.60" x2="106.10" y2="517.00" stroke="#333" stroke-width="0.8"/>
<line x1="122.10" y1="514.60" x2="122.10" y2="517.00" stroke="#333" stroke-width="0.8"/>
<line x1="94.50" y1="514.60" x2="94.50" y2="516.00" stroke="#444" stroke-width="0.6"/>
<line x1="97.42" y1="514.60" x2="97.42" y2="516.00" stroke="#444" stroke-width="0.6"/>
<line x1="99.49" y1="514.60" x2="99.49" y2="516.00" stroke="#444" stroke-width="0.6"/>
<line x1="101.10" y1="514.60" x2="101.10" y2="516.00" stroke="#444" stroke-width="0.6"/>
<line x1="102.42" y1="514.60" x2="102.42" y2="516.00" stroke="#444" stroke-width="0.6"/>
<line x1="103.53" y1="514.60" x2="103.53" y2="516.00" stroke="#444" stroke-width="0.6"/>
<line x1="104.49" y1="514.60" x2="104.49" y2="516.00" stroke="#444" stroke-width="0.6"/>
<line x1="105.34" y1="514.60" x2="105.34" y2="516.00" stroke="#444" stroke-width="0.6"/>
<line x1="110.92" y1="514.60" x2="110.92" y2="516.00" stroke="#444" stroke-width="0.6"/>
<line x1="113.73" y1="514.60" x2="113.73" y2="516.00" stroke="#444" stroke-width="0.6"/>
<line x1="115.73" y1="514.60" x2="115.73" y2="516.00" stroke="#444" stroke-width="0.6"/>
<line x1="117.28" y1="514.60" x2="117.28" y2="516.00" stroke="#444" stroke-width="0.6"/>
<line x1="118.55" y1="514.60" x2="118.55" y2="516.00" stroke="#444" stroke-width="0.6"/>
<line x1="119.62" y1="514.60" x2="119.62" y2="516.00" stroke="#444" stroke-width="0.6"/>
<line x1="120.55" y1="514.60" x2="120.55" y2="516.00" stroke="#444" stroke-width="0.6"/>
<line x1="121.37" y1="514.60" x2="121.37" y2="516.00" stroke="#444" stroke-width="0.6"/>
<line x1="83.70" y1="514.60" x2="83.70" y2="516.00" stroke="#444" stroke-width="0.6"/>
<line x1="73.20" y1="514.60" x2="73.20" y2="516.00" stroke="#444" stroke-width="0.6"/>
<line x1="124.70" y1="514.60" x2="124.70" y2="516.00" stroke="#444" stroke-width="0.6"/>
<rect x="62.20" y="498.54" width="2" height="2.4" fill="#111"/>
<rect x="76.43" y="514.60" width="3" height="1.8" fill="#111"/>
<rect x="161.30" y="452.70" width="62.60" height="61.90" fill="none" stroke="#2b2b2b" stroke-width="1.1"/>
<line x1="158.90" y1="458.20" x2="161.30" y2="458.20" stroke="#333" stroke-width="0.8"/>
<line x1="158.90" y1="473.40" x2="161.30" y2="473.40" stroke="#333" stroke-width="0.8"/>
<line x1="158.90" y1="490.00" x2="161.30" y2="490.00" stroke="#333" stroke-width="0.8"/>
<line x1="158.90" y1="511.30" x2="161.30" y2="511.30" stroke="#333" stroke-width="0.8"/>
<line x1="159.90" y1="485.00" x2="161.30" y2="485.00" stroke="#444" stroke-width="0.6"/>
<line x1="159.90" y1="482.08" x2="161.30" y2="482.08" stroke="#444" stroke-width="0.6"/>
<line x1="159.90" y1="480.01" x2="161.30" y2="480.01" stroke="#444" stroke-width="0.6"/>
<line x1="159.90" y1="478.40" x2="161.30" y2="478.40" stroke="#444" stroke-width="0.6"/>
<line x1="159.90" y1="477.08" x2="161.30" y2="477.08" stroke="#444" stroke-width="0.6"/>
<line x1="159.90" y1="475.97" x2="161.30" y2="475.97" stroke="#444" stroke-width="0.6"/>
<line x1="159.90" y1="475.01" x2="161.30" y2="475.01" stroke="#444" stroke-width="0.6"/>
<line x1="159.90" y1="474.16" x2="161.30" y2="474.16" stroke="#444" stroke-width="0.6"/>
<line x1="159.90" y1="468.82" x2="161.30" y2="468.82" stroke="#444" stroke-width="0.6"/>
<line x1="159.90" y1="466.15" x2="161.30" y2="466.15" stroke="#444" stroke-width="0.6"/>
<line x1="159.90" y1="464.25" x2="161.30" y2="464.25" stroke="#444" stroke-width="0.6"/>
<line x1="159.90" y1="462.78" x2="161.30" y2="462.78" stroke="#444" stroke-width="0.6"/>
<line x1="159.90" y1="461.57" x2="161.30" y2="461.57" stroke="#444" stroke-width="0.6"/>
<line x1="159.90" y1="460.55" x2="161.30" y2="460.55" stroke="#444" stroke-width="0.6"/>
<line x1="159.90" y1="459.67" x2="161.30" y2="459.67" stroke="#444" stroke-width="0.6"/>
<line x1="159.90" y1="458.90" x2="161.30" y2="458.90" stroke="#444" stroke-width="0.6"/>
<line x1="159.90" y1="454.70" x2="161.30" y2="454.70" stroke="#444" stroke-width="0.6"/>
<line x1="159.90" y1="495.20" x2="161.30" y2="495.20" stroke="#444" stroke-width="0.6"/>
<line x1="159.90" y1="506.20" x2="161.30" y2="506.20" stroke="#444" stroke-width="0.6"/>
<line x1="159.90" y1="513.70" x2="161.30" y2="513.70" stroke="#444" stroke-width="0.6"/>
<line x1="165.10" y1="514.60" x2="165.10" y2="517.00" stroke="#333" stroke-width="0.8"/>
<line x1="186.60" y1="514.60" x2="186.60" y2="517.00" stroke="#333" stroke-width="0.8"/>
<line x1="203.20" y1="514.60" x2="203.20" y2="517.00" stroke="#333" stroke-width="0.8"/>
<line x1="219.20" y1="514.60" x2="219.20" y2="517.00" stroke="#333" stroke-width="0.8"/>
<line x1="191.60" y1="514.60" x2="191.60" y2="516.00" stroke="#444" stroke-width="0.6"/>
<line x1="194.52" y1="514.60" x2="194.52" y2="516.00" stroke="#444" stroke-width="0.6"/>
<line x1="196.59" y1="514.60" x2="196.59" y2="516.00" stroke="#444" stroke-width="0.6"/>
<line x1="198.20" y1="514.60" x2="198.20" y2="516.00" stroke="#444" stroke-width="0.6"/>
<line x1="199.52" y1="514.60" x2="199.52" y2="516.00" stroke="#444" stroke-width="0.6"/>
<line x1="200.63" y1="514.60" x2="200.63" y2="516.00" stroke="#444" stroke-width="0.6"/>
<line x1="201.59" y1="514.60" x2="201.59" y2="516.00" stroke="#444" stroke-width="0.6"/>
<line x1="202.44" y1="514.60" x2="202.44" y2="516.00" stroke="#444" stroke-width="0.6"/>
<line x1="208.02" y1="514.60" x2="208.02" y2="516.00" stroke="#444" stroke-width="0.6"/>
<line x1="210.83" y1="514.60" x2="210.83" y2="516.00" stroke="#444" stroke-width="0.6"/>
<line x1="212.83" y1="514.60" x2="212.83" y2="516.00" stroke="#444" stroke-width="0.6"/>
<line x1="214.38" y1="514.60" x2="214.38" y2="516.00" stroke="#444" stroke-width="0.6"/>
<line x1="215.65" y1="514.60" x2="215.65" y2="516.00" stroke="#444" stroke-width="0.6"/>
<line x1="216.72" y1="514.60" x2="216.72" y2="516.00" stroke="#444" stroke-width="0.6"/>
<line x1="217.65" y1="514.60" x2="217.65" y2="516.00" stroke="#444" stroke-width="0.6"/>
<line x1="218.47" y1="514.60" x2="218.47" y2="516.00" stroke="#444" stroke-width="0.6"/>
<line x1="180.80" y1="514.60" x2="180.80" y2="516.00" stroke="#444" stroke-width="0.6"/>
<line x1="170.30" y1="514.60" x2="170.30" y2="516.00" stroke="#444" stroke-width="0.6"/>
<line x1="221.80" y1="514.60" x2="221.80" y2="516.00" stroke="#444" stroke-width="0.6"/>
<rect x="159.30" y="498.54" width="2" height="2.4" fill="#111"/>
<rect x="173.57" y="514.60" width="3" height="1.8" fill="#111"/>
<rect x="81.30" y="324.30" width="28.50" height="19.90" fill="none" stroke="#3a3a3a" stroke-width="1.0"/>
<rect x="81.30" y="393.00" width="28.50" height="20.20" fill="none" stroke="#3a3a3a" stroke-width="1.0"/>
<rect x="81.50" y="461.60" width="28.20" height="19.70" fill="none" stroke="#3a3a3a" stroke-width="1.0"/>
<ellipse cx="193.6" cy="341.5" rx="15.2" ry="7.2" transform="rotate(-42 193.6 341.5)" fill="none" stroke="#333" stroke-width="1"/>
<ellipse cx="193.6" cy="410.6" rx="15.2" ry="7.2" transform="rotate(-42 193.6 410.6)" fill="none" stroke="#333" stroke-width="1"/>
<ellipse cx="193.6" cy="478.6" rx="15.2" ry="7.2" transform="rotate(-42 193.6 478.6)" fill="none" stroke="#333" stroke-width="1"/>
<text x="102.40" y="357.20" font-size="14" fill="#231f20" stroke="#231f20" stroke-width="0.15" textLength="22.50" lengthAdjust="spacingAndGlyphs">10.6</text>
<text x="102.20" y="427.20" font-size="14" fill="#231f20" stroke="#231f20" stroke-width="0.15" textLength="22.50" lengthAdjust="spacingAndGlyphs">10.2</text>
<text x="102.00" y="494.50" font-size="14" fill="#231f20" stroke="#231f20" stroke-width="0.15" textLength="23.40" lengthAdjust="spacingAndGlyphs">11.9</text>
<text x="180.80" y="328.10" font-size="14" fill="#231f20" stroke="#231f20" stroke-width="0.15" textLength="30.90" lengthAdjust="spacingAndGlyphs">0.021</text>
<text x="185.20" y="397.00" font-size="14" fill="#231f20" stroke="#231f20" stroke-width="0.15" textLength="24.10" lengthAdjust="spacingAndGlyphs">1.55</text>
<text x="184.70" y="466.30" font-size="14" fill="#ed1c24" stroke="#ed1c24" stroke-width="0.15" textLength="24.50" lengthAdjust="spacingAndGlyphs">3.27</text>
<g transform="translate(58.70,460.10) rotate(-90)">
<text x="-6.15" y="0.00" font-size="8.4" fill="#231f20" stroke="#231f20" stroke-width="0.25" textLength="8.00" lengthAdjust="spacingAndGlyphs">10</text>
<text x="2.05" y="-3.10" font-size="6.2" fill="#231f20" stroke="#231f20" stroke-width="0.08" textLength="4.30" lengthAdjust="spacingAndGlyphs">5</text>
</g>
<g transform="translate(58.70,474.80) rotate(-90)">
<text x="-6.15" y="0.00" font-size="8.4" fill="#231f20" stroke="#231f20" stroke-width="0.25" textLength="8.00" lengthAdjust="spacingAndGlyphs">10</text>
<text x="2.05" y="-3.10" font-size="6.2" fill="#231f20" stroke="#231f20" stroke-width="0.08" textLength="4.30" lengthAdjust="spacingAndGlyphs">4</text>
</g>
<g transform="translate(58.70,489.70) rotate(-90)">
<text x="-6.15" y="0.00" font-size="8.4" fill="#231f20" stroke="#231f20" stroke-width="0.25" textLength="8.00" lengthAdjust="spacingAndGlyphs">10</text>
<text x="2.05" y="-3.10" font-size="6.2" fill="#231f20" stroke="#231f20" stroke-width="0.08" textLength="4.30" lengthAdjust="spacingAndGlyphs">3</text>
</g>
<g transform="translate(58.70,500.70) rotate(-90)">
<text x="0.00" y="0.00" font-size="8.4" fill="#231f20" stroke="#231f20" stroke-width="0.25" text-anchor="middle" textLength="4.62" lengthAdjust="spacingAndGlyphs">0</text>
</g>
<g transform="translate(58.70,511.40) rotate(-90)">
<text x="-6.70" y="0.00" font-size="8.4" fill="#231f20" stroke="#231f20" stroke-width="0.25" textLength="8.00" lengthAdjust="spacingAndGlyphs">10</text>
<text x="1.50" y="-3.10" font-size="6.2" fill="#231f20" stroke="#231f20" stroke-width="0.08" textLength="5.40" lengthAdjust="spacingAndGlyphs">-3</text>
</g>
<text x="61.30" y="525.40" font-size="8.4" fill="#231f20" stroke="#231f20" stroke-width="0.25" textLength="8.00" lengthAdjust="spacingAndGlyphs">10</text>
<text x="69.50" y="522.30" font-size="6.2" fill="#231f20" stroke="#231f20" stroke-width="0.08" textLength="5.40" lengthAdjust="spacingAndGlyphs">-3</text>
<text x="78.60" y="525.40" font-size="8.4" fill="#231f20" stroke="#231f20" stroke-width="0.25" text-anchor="middle" textLength="4.62" lengthAdjust="spacingAndGlyphs">0</text>
<text x="83.35" y="525.40" font-size="8.4" fill="#231f20" stroke="#231f20" stroke-width="0.25" textLength="8.00" lengthAdjust="spacingAndGlyphs">10</text>
<text x="91.55" y="522.30" font-size="6.2" fill="#231f20" stroke="#231f20" stroke-width="0.08" textLength="4.30" lengthAdjust="spacingAndGlyphs">3</text>
<text x="99.95" y="525.40" font-size="8.4" fill="#231f20" stroke="#231f20" stroke-width="0.25" textLength="8.00" lengthAdjust="spacingAndGlyphs">10</text>
<text x="108.15" y="522.30" font-size="6.2" fill="#231f20" stroke="#231f20" stroke-width="0.08" textLength="4.30" lengthAdjust="spacingAndGlyphs">4</text>
<text x="115.95" y="525.40" font-size="8.4" fill="#231f20" stroke="#231f20" stroke-width="0.25" textLength="8.00" lengthAdjust="spacingAndGlyphs">10</text>
<text x="124.15" y="522.30" font-size="6.2" fill="#231f20" stroke="#231f20" stroke-width="0.08" textLength="4.30" lengthAdjust="spacingAndGlyphs">5</text>
<g transform="translate(155.80,460.10) rotate(-90)">
<text x="-6.15" y="0.00" font-size="8.4" fill="#231f20" stroke="#231f20" stroke-width="0.25" textLength="8.00" lengthAdjust="spacingAndGlyphs">10</text>
<text x="2.05" y="-3.10" font-size="6.2" fill="#231f20" stroke="#231f20" stroke-width="0.08" textLength="4.30" lengthAdjust="spacingAndGlyphs">5</text>
</g>
<g transform="translate(155.80,474.80) rotate(-90)">
<text x="-6.15" y="0.00" font-size="8.4" fill="#231f20" stroke="#231f20" stroke-width="0.25" textLength="8.00" lengthAdjust="spacingAndGlyphs">10</text>
<text x="2.05" y="-3.10" font-size="6.2" fill="#231f20" stroke="#231f20" stroke-width="0.08" textLength="4.30" lengthAdjust="spacingAndGlyphs">4</text>
</g>
<g transform="translate(155.80,489.70) rotate(-90)">
<text x="-6.15" y="0.00" font-size="8.4" fill="#231f20" stroke="#231f20" stroke-width="0.25" textLength="8.00" lengthAdjust="spacingAndGlyphs">10</text>
<text x="2.05" y="-3.10" font-size="6.2" fill="#231f20" stroke="#231f20" stroke-width="0.08" textLength="4.30" lengthAdjust="spacingAndGlyphs">3</text>
</g>
<g transform="translate(155.80,500.70) rotate(-90)">
<text x="0.00" y="0.00" font-size="8.4" fill="#231f20" stroke="#231f20" stroke-width="0.25" text-anchor="middle" textLength="4.62" lengthAdjust="spacingAndGlyphs">0</text>
</g>
<g transform="translate(155.80,511.40) rotate(-90)">
<text x="-6.70" y="0.00" font-size="8.4" fill="#231f20" stroke="#231f20" stroke-width="0.25" textLength="8.00" lengthAdjust="spacingAndGlyphs">10</text>
<text x="1.50" y="-3.10" font-size="6.2" fill="#231f20" stroke="#231f20" stroke-width="0.08" textLength="5.40" lengthAdjust="spacingAndGlyphs">-3</text>
</g>
<text x="158.40" y="525.40" font-size="8.4" fill="#231f20" stroke="#231f20" stroke-width="0.25" textLength="8.00" lengthAdjust="spacingAndGlyphs">10</text>
<text x="166.60" y="522.30" font-size="6.2" fill="#231f20" stroke="#231f20" stroke-width="0.08" textLength="5.40" lengthAdjust="spacingAndGlyphs">-3</text>
<text x="175.70" y="525.40" font-size="8.4" fill="#231f20" stroke="#231f20" stroke-width="0.25" text-anchor="middle" textLength="4.62" lengthAdjust="spacingAndGlyphs">0</text>
<text x="180.45" y="525.40" font-size="8.4" fill="#231f20" stroke="#231f20" stroke-width="0.25" textLength="8.00" lengthAdjust="spacingAndGlyphs">10</text>
<text x="188.65" y="522.30" font-size="6.2" fill="#231f20" stroke="#231f20" stroke-width="0.08" textLength="4.30" lengthAdjust="spacingAndGlyphs">3</text>
<text x="197.05" y="525.40" font-size="8.4" fill="#231f20" stroke="#231f20" stroke-width="0.25" textLength="8.00" lengthAdjust="spacingAndGlyphs">10</text>
<text x="205.25" y="522.30" font-size="6.2" fill="#231f20" stroke="#231f20" stroke-width="0.08" textLength="4.30" lengthAdjust="spacingAndGlyphs">4</text>
<text x="213.05" y="525.40" font-size="8.4" fill="#231f20" stroke="#231f20" stroke-width="0.25" textLength="8.00" lengthAdjust="spacingAndGlyphs">10</text>
<text x="221.25" y="522.30" font-size="6.2" fill="#231f20" stroke="#231f20" stroke-width="0.08" textLength="4.30" lengthAdjust="spacingAndGlyphs">5</text>
<line x1="64.30" y1="533.50" x2="124.40" y2="533.50" stroke="#333" stroke-width="1.2"/>
<polyline points="119.60,527.80 124.40,533.00 119.60,538.20" fill="none" stroke="#333" stroke-width="1.2"/>
<line x1="161.90" y1="533.50" x2="221.80" y2="533.50" stroke="#333" stroke-width="1.2"/>
<polyline points="217.00,527.80 221.80,533.00 217.00,538.20" fill="none" stroke="#333" stroke-width="1.2"/>
<text x="66.40" y="543.60" font-size="12.5" fill="#231f20" stroke="#231f20" stroke-width="0.35" textLength="30.00" lengthAdjust="spacingAndGlyphs">TCRb</text>
<text x="151.7" y="545.4" font-size="12.5" fill="#231f20" stroke="#231f20" stroke-width="0.35"><tspan textLength="77" lengthAdjust="spacingAndGlyphs">SIINFEKL-H-2K</tspan><tspan font-size="6.5" dy="-4" stroke-width="0.1">b</tspan></text>
<path d="M83.5 350.8h0.9v0.9h-0.9zM99.9 343.6h0.9v0.9h-0.9zM83.8 355.5h0.9v0.9h-0.9zM89.9 347.0h0.9v0.9h-0.9zM82.5 345.1h0.9v0.9h-0.9zM103.3 342.5h0.9v0.9h-0.9zM85.9 355.0h0.9v0.9h-0.9zM101.3 358.3h0.9v0.9h-0.9zM91.1 359.3h0.9v0.9h-0.9zM94.3 346.0h0.9v0.9h-0.9zM90.9 354.5h0.9v0.9h-0.9zM97.5 342.8h0.9v0.9h-0.9zM84.2 359.4h0.9v0.9h-0.9zM82.1 356.5h0.9v0.9h-0.9zM87.8 345.2h0.9v0.9h-0.9zM85.8 349.6h0.9v0.9h-0.9zM103.8 343.2h0.9v0.9h-0.9zM100.4 346.6h0.9v0.9h-0.9zM83.7 355.1h0.9v0.9h-0.9zM87.9 344.0h0.9v0.9h-0.9zM89.8 356.6h0.9v0.9h-0.9zM100.6 351.7h0.9v0.9h-0.9zM79.8 355.5h0.9v0.9h-0.9zM94.4 358.2h0.9v0.9h-0.9zM102.8 346.7h0.9v0.9h-0.9zM100.3 356.6h0.9v0.9h-0.9zM86.0 347.5h0.9v0.9h-0.9zM88.7 347.3h0.9v0.9h-0.9zM88.8 342.4h0.9v0.9h-0.9zM85.1 358.4h0.9v0.9h-0.9zM89.6 352.9h0.9v0.9h-0.9zM101.2 355.3h0.9v0.9h-0.9zM85.5 358.6h0.9v0.9h-0.9zM99.2 360.0h0.9v0.9h-0.9zM97.3 355.3h0.9v0.9h-0.9zM99.4 345.3h0.9v0.9h-0.9zM95.6 347.8h0.9v0.9h-0.9zM100.1 342.9h0.9v0.9h-0.9zM92.7 346.9h0.9v0.9h-0.9zM99.6 347.1h0.9v0.9h-0.9zM100.2 357.2h0.9v0.9h-0.9zM101.0 343.0h0.9v0.9h-0.9zM102.5 355.1h0.9v0.9h-0.9zM96.1 353.2h0.9v0.9h-0.9zM80.7 357.6h0.9v0.9h-0.9zM92.9 349.3h0.9v0.9h-0.9zM87.8 355.9h0.9v0.9h-0.9zM98.7 357.6h0.9v0.9h-0.9zM84.7 347.0h0.9v0.9h-0.9zM85.6 342.2h0.9v0.9h-0.9zM87.5 340.7h0.9v0.9h-0.9zM99.0 344.7h0.9v0.9h-0.9zM81.2 341.6h0.9v0.9h-0.9zM97.7 344.2h0.9v0.9h-0.9zM90.8 348.2h0.9v0.9h-0.9zM99.2 359.3h0.9v0.9h-0.9zM87.1 352.8h0.9v0.9h-0.9zM101.4 349.6h0.9v0.9h-0.9zM101.5 354.9h0.9v0.9h-0.9zM87.1 357.7h0.9v0.9h-0.9zM93.5 342.3h0.9v0.9h-0.9zM93.9 356.8h0.9v0.9h-0.9zM92.2 349.9h0.9v0.9h-0.9zM89.7 357.8h0.9v0.9h-0.9zM95.8 344.4h0.9v0.9h-0.9zM88.4 347.5h0.9v0.9h-0.9zM103.0 354.1h0.9v0.9h-0.9zM82.6 358.5h0.9v0.9h-0.9zM80.4 352.0h0.9v0.9h-0.9zM90.1 354.5h0.9v0.9h-0.9zM90.0 342.0h0.9v0.9h-0.9zM92.3 356.6h0.9v0.9h-0.9zM98.8 347.3h0.9v0.9h-0.9zM84.9 355.1h0.9v0.9h-0.9zM99.1 344.6h0.9v0.9h-0.9zM101.1 360.0h0.9v0.9h-0.9zM90.1 347.8h0.9v0.9h-0.9zM96.9 358.8h0.9v0.9h-0.9zM84.4 346.2h0.9v0.9h-0.9zM87.6 354.8h0.9v0.9h-0.9zM84.1 351.1h0.9v0.9h-0.9zM91.8 353.6h0.9v0.9h-0.9zM83.0 359.3h0.9v0.9h-0.9zM104.0 351.4h0.9v0.9h-0.9zM99.0 343.9h0.9v0.9h-0.9zM101.8 351.2h0.9v0.9h-0.9zM98.1 357.6h0.9v0.9h-0.9zM88.4 358.7h0.9v0.9h-0.9zM84.6 340.7h0.9v0.9h-0.9zM91.8 358.2h0.9v0.9h-0.9zM101.6 359.3h0.9v0.9h-0.9zM92.0 358.9h0.9v0.9h-0.9zM93.2 343.1h0.9v0.9h-0.9zM95.0 356.3h0.9v0.9h-0.9zM89.9 352.2h0.9v0.9h-0.9zM85.8 345.7h0.9v0.9h-0.9zM89.8 350.5h0.9v0.9h-0.9zM91.0 342.0h0.9v0.9h-0.9zM79.6 347.0h0.9v0.9h-0.9zM97.1 355.2h0.9v0.9h-0.9zM85.3 345.3h0.9v0.9h-0.9zM92.2 343.7h0.9v0.9h-0.9zM94.3 358.3h0.9v0.9h-0.9zM84.4 351.9h0.9v0.9h-0.9zM97.2 355.2h0.9v0.9h-0.9zM96.9 354.4h0.9v0.9h-0.9zM86.2 357.0h0.9v0.9h-0.9zM102.2 341.3h0.9v0.9h-0.9zM102.6 349.1h0.9v0.9h-0.9zM81.6 341.6h0.9v0.9h-0.9zM99.0 353.8h0.9v0.9h-0.9zM83.0 349.4h0.9v0.9h-0.9zM95.1 360.2h0.9v0.9h-0.9zM87.7 355.5h0.9v0.9h-0.9zM85.5 344.2h0.9v0.9h-0.9zM83.5 348.4h0.9v0.9h-0.9zM94.6 346.3h0.9v0.9h-0.9zM83.5 344.6h0.9v0.9h-0.9zM81.6 344.1h0.9v0.9h-0.9zM87.2 350.3h0.9v0.9h-0.9zM84.0 349.8h0.9v0.9h-0.9zM90.3 359.7h0.9v0.9h-0.9zM91.4 359.1h0.9v0.9h-0.9zM91.0 344.2h0.9v0.9h-0.9zM94.0 343.1h0.9v0.9h-0.9zM83.6 341.7h0.9v0.9h-0.9zM96.7 359.5h0.9v0.9h-0.9zM89.4 347.3h0.9v0.9h-0.9zM89.9 347.2h0.9v0.9h-0.9zM96.4 348.0h0.9v0.9h-0.9zM83.2 357.5h0.9v0.9h-0.9zM93.5 340.3h0.9v0.9h-0.9zM100.3 354.8h0.9v0.9h-0.9zM88.2 352.8h0.9v0.9h-0.9zM102.0 348.2h0.9v0.9h-0.9zM90.1 346.2h0.9v0.9h-0.9zM93.1 353.5h0.9v0.9h-0.9zM97.5 359.2h0.9v0.9h-0.9zM83.1 347.5h0.9v0.9h-0.9zM100.4 356.0h0.9v0.9h-0.9zM94.0 353.7h0.9v0.9h-0.9zM87.8 359.1h0.9v0.9h-0.9zM93.0 348.3h0.9v0.9h-0.9zM84.0 342.5h0.9v0.9h-0.9zM101.5 356.2h0.9v0.9h-0.9zM80.2 346.7h0.9v0.9h-0.9zM91.3 350.1h0.9v0.9h-0.9zM88.4 358.1h0.9v0.9h-0.9zM88.1 350.8h0.9v0.9h-0.9zM102.3 353.0h0.9v0.9h-0.9zM91.2 346.9h0.9v0.9h-0.9zM89.0 352.4h0.9v0.9h-0.9zM98.8 345.4h0.9v0.9h-0.9zM88.6 348.0h0.9v0.9h-0.9zM88.4 358.5h0.9v0.9h-0.9zM92.7 345.7h0.9v0.9h-0.9zM87.6 356.6h0.9v0.9h-0.9zM83.4 354.0h0.9v0.9h-0.9zM80.0 344.1h0.9v0.9h-0.9zM81.0 356.3h0.9v0.9h-0.9zM83.1 344.8h0.9v0.9h-0.9zM80.9 345.5h0.9v0.9h-0.9zM97.5 354.6h0.9v0.9h-0.9zM101.8 359.1h0.9v0.9h-0.9zM93.0 358.6h0.9v0.9h-0.9zM81.7 358.7h0.9v0.9h-0.9zM90.1 344.1h0.9v0.9h-0.9zM97.8 357.4h0.9v0.9h-0.9zM89.0 342.1h0.9v0.9h-0.9zM100.9 355.3h0.9v0.9h-0.9zM94.1 359.7h0.9v0.9h-0.9zM80.4 341.3h0.9v0.9h-0.9zM82.5 340.6h0.9v0.9h-0.9zM96.9 352.8h0.9v0.9h-0.9zM82.3 343.4h0.9v0.9h-0.9zM83.9 352.4h0.9v0.9h-0.9zM96.0 359.6h0.9v0.9h-0.9zM88.3 359.8h0.9v0.9h-0.9zM90.1 348.0h0.9v0.9h-0.9zM85.7 344.9h0.9v0.9h-0.9zM103.4 360.1h0.9v0.9h-0.9zM96.8 343.7h0.9v0.9h-0.9zM83.9 343.2h0.9v0.9h-0.9zM88.1 354.9h0.9v0.9h-0.9zM80.9 350.8h0.9v0.9h-0.9zM96.2 340.9h0.9v0.9h-0.9zM90.3 356.0h0.9v0.9h-0.9zM93.6 349.2h0.9v0.9h-0.9zM101.1 352.2h0.9v0.9h-0.9zM87.8 348.1h0.9v0.9h-0.9zM102.6 357.4h0.9v0.9h-0.9zM101.9 351.4h0.9v0.9h-0.9zM83.0 343.7h0.9v0.9h-0.9zM88.9 354.0h0.9v0.9h-0.9zM79.6 356.2h0.9v0.9h-0.9zM98.8 350.5h0.9v0.9h-0.9zM79.6 356.2h0.9v0.9h-0.9zM89.6 353.6h0.9v0.9h-0.9zM93.5 354.8h0.9v0.9h-0.9zM89.5 359.4h0.9v0.9h-0.9zM102.9 358.8h0.9v0.9h-0.9zM94.6 346.5h0.9v0.9h-0.9zM88.7 345.6h0.9v0.9h-0.9zM101.6 356.0h0.9v0.9h-0.9zM98.8 356.6h0.9v0.9h-0.9zM103.8 354.0h0.9v0.9h-0.9zM87.3 355.4h0.9v0.9h-0.9zM85.9 352.4h0.9v0.9h-0.9zM83.4 357.4h0.9v0.9h-0.9zM91.5 345.7h0.9v0.9h-0.9zM102.1 341.9h0.9v0.9h-0.9zM102.3 355.3h0.9v0.9h-0.9zM83.2 355.4h0.9v0.9h-0.9zM93.5 358.3h0.9v0.9h-0.9zM93.9 348.7h0.9v0.9h-0.9zM102.4 341.9h0.9v0.9h-0.9zM98.5 342.3h0.9v0.9h-0.9zM86.3 342.5h0.9v0.9h-0.9zM100.8 349.0h0.9v0.9h-0.9zM97.3 345.3h0.9v0.9h-0.9zM97.4 353.2h0.9v0.9h-0.9zM81.9 350.1h0.9v0.9h-0.9zM97.2 344.5h0.9v0.9h-0.9zM95.5 345.8h0.9v0.9h-0.9zM88.6 358.6h0.9v0.9h-0.9zM102.6 360.2h0.9v0.9h-0.9zM90.0 351.6h0.9v0.9h-0.9zM99.3 355.4h0.9v0.9h-0.9zM90.7 357.5h0.9v0.9h-0.9zM89.3 359.2h0.9v0.9h-0.9zM91.1 342.6h0.9v0.9h-0.9zM97.9 343.1h0.9v0.9h-0.9zM96.1 341.3h0.9v0.9h-0.9zM103.7 351.0h0.9v0.9h-0.9zM97.6 342.8h0.9v0.9h-0.9zM95.1 347.7h0.9v0.9h-0.9zM85.6 356.5h0.9v0.9h-0.9zM80.3 349.8h0.9v0.9h-0.9zM81.6 357.2h0.9v0.9h-0.9zM101.4 340.9h0.9v0.9h-0.9zM90.9 349.6h0.9v0.9h-0.9zM97.1 354.8h0.9v0.9h-0.9zM87.9 358.9h0.9v0.9h-0.9zM84.0 342.9h0.9v0.9h-0.9zM99.5 342.6h0.9v0.9h-0.9zM84.1 350.2h0.9v0.9h-0.9zM87.7 343.5h0.9v0.9h-0.9zM102.3 349.7h0.9v0.9h-0.9zM98.8 345.2h0.9v0.9h-0.9zM101.9 344.6h0.9v0.9h-0.9zM101.7 352.5h0.9v0.9h-0.9zM103.3 355.6h0.9v0.9h-0.9zM95.0 350.9h0.9v0.9h-0.9zM100.4 349.1h0.9v0.9h-0.9zM81.9 358.5h0.9v0.9h-0.9zM99.2 353.8h0.9v0.9h-0.9zM97.7 344.8h0.9v0.9h-0.9zM90.9 356.7h0.9v0.9h-0.9zM103.1 358.7h0.9v0.9h-0.9zM83.4 353.9h0.9v0.9h-0.9zM93.1 348.3h0.9v0.9h-0.9zM83.6 342.9h0.9v0.9h-0.9zM91.0 350.1h0.9v0.9h-0.9zM86.1 347.6h0.9v0.9h-0.9zM93.1 355.4h0.9v0.9h-0.9zM93.9 343.4h0.9v0.9h-0.9zM101.2 347.6h0.9v0.9h-0.9zM103.0 359.8h0.9v0.9h-0.9zM82.9 351.8h0.9v0.9h-0.9zM103.2 347.9h0.9v0.9h-0.9zM92.9 346.5h0.9v0.9h-0.9zM80.2 344.3h0.9v0.9h-0.9zM82.5 345.9h0.9v0.9h-0.9zM94.9 351.5h0.9v0.9h-0.9zM102.7 353.9h0.9v0.9h-0.9zM88.4 359.2h0.9v0.9h-0.9zM95.0 351.1h0.9v0.9h-0.9zM100.6 353.6h0.9v0.9h-0.9zM88.3 352.3h0.9v0.9h-0.9zM86.9 359.6h0.9v0.9h-0.9zM85.5 359.7h0.9v0.9h-0.9zM81.1 340.4h0.9v0.9h-0.9zM93.1 344.3h0.9v0.9h-0.9zM91.9 342.6h0.9v0.9h-0.9zM100.0 353.6h0.9v0.9h-0.9zM96.3 358.7h0.9v0.9h-0.9zM103.8 353.8h0.9v0.9h-0.9zM97.0 340.2h0.9v0.9h-0.9zM80.7 348.7h0.9v0.9h-0.9zM103.2 346.5h0.9v0.9h-0.9zM93.4 340.4h0.9v0.9h-0.9zM89.7 358.3h0.9v0.9h-0.9zM93.9 356.7h0.9v0.9h-0.9zM79.8 344.3h0.9v0.9h-0.9zM83.9 356.8h0.9v0.9h-0.9zM82.0 358.8h0.9v0.9h-0.9zM86.1 357.8h0.9v0.9h-0.9zM92.1 346.7h0.9v0.9h-0.9zM103.2 348.3h0.9v0.9h-0.9zM96.6 341.5h0.9v0.9h-0.9zM99.8 359.8h0.9v0.9h-0.9zM82.2 355.1h0.9v0.9h-0.9zM86.1 343.2h0.9v0.9h-0.9zM88.4 353.4h0.9v0.9h-0.9zM102.9 360.1h0.9v0.9h-0.9zM103.8 352.7h0.9v0.9h-0.9zM95.5 343.4h0.9v0.9h-0.9zM97.3 351.2h0.9v0.9h-0.9zM88.3 358.2h0.9v0.9h-0.9zM85.7 343.0h0.9v0.9h-0.9zM83.4 343.2h0.9v0.9h-0.9zM93.9 356.2h0.9v0.9h-0.9zM83.4 350.3h0.9v0.9h-0.9zM93.6 351.4h0.9v0.9h-0.9zM89.6 351.1h0.9v0.9h-0.9zM79.9 341.4h0.9v0.9h-0.9zM89.9 344.9h0.9v0.9h-0.9zM98.0 345.0h0.9v0.9h-0.9zM99.7 345.0h0.9v0.9h-0.9zM81.8 349.7h0.9v0.9h-0.9zM89.0 346.9h0.9v0.9h-0.9zM98.2 344.6h0.9v0.9h-0.9zM95.9 356.9h0.9v0.9h-0.9zM90.6 350.3h0.9v0.9h-0.9zM102.1 352.3h0.9v0.9h-0.9zM83.9 341.6h0.9v0.9h-0.9zM81.5 346.8h0.9v0.9h-0.9zM81.7 353.2h0.9v0.9h-0.9zM89.9 346.4h0.9v0.9h-0.9zM92.0 358.9h0.9v0.9h-0.9zM85.5 343.3h0.9v0.9h-0.9zM87.0 346.7h0.9v0.9h-0.9zM101.8 354.3h0.9v0.9h-0.9zM90.0 343.5h0.9v0.9h-0.9zM80.6 342.6h0.9v0.9h-0.9zM100.3 353.2h0.9v0.9h-0.9zM83.3 352.7h0.9v0.9h-0.9zM80.9 350.3h0.9v0.9h-0.9zM87.7 342.2h0.9v0.9h-0.9zM97.7 354.5h0.9v0.9h-0.9zM92.0 343.6h0.9v0.9h-0.9zM95.9 348.9h0.9v0.9h-0.9zM95.7 342.0h0.9v0.9h-0.9zM101.6 340.3h0.9v0.9h-0.9zM85.0 348.2h0.9v0.9h-0.9zM84.4 342.0h0.9v0.9h-0.9zM96.3 360.1h0.9v0.9h-0.9zM87.7 345.5h0.9v0.9h-0.9zM95.9 344.7h0.9v0.9h-0.9zM89.3 354.0h0.9v0.9h-0.9zM90.1 343.3h0.9v0.9h-0.9zM81.2 351.1h0.9v0.9h-0.9zM103.8 358.6h0.9v0.9h-0.9zM81.9 350.2h0.9v0.9h-0.9zM91.5 344.1h0.9v0.9h-0.9zM95.9 350.1h0.9v0.9h-0.9zM99.3 346.0h0.9v0.9h-0.9zM102.4 356.5h0.9v0.9h-0.9zM91.1 343.0h0.9v0.9h-0.9zM91.4 342.7h0.9v0.9h-0.9zM96.3 354.1h0.9v0.9h-0.9zM93.7 359.7h0.9v0.9h-0.9zM80.6 354.5h0.9v0.9h-0.9zM99.1 342.5h0.9v0.9h-0.9zM87.4 341.3h0.9v0.9h-0.9zM93.8 354.7h0.9v0.9h-0.9zM88.0 354.1h0.9v0.9h-0.9zM88.5 354.4h0.9v0.9h-0.9zM86.3 359.8h0.9v0.9h-0.9zM90.2 340.3h0.9v0.9h-0.9zM81.7 354.7h0.9v0.9h-0.9zM100.7 352.9h0.9v0.9h-0.9zM83.3 357.6h0.9v0.9h-0.9zM97.1 342.5h0.9v0.9h-0.9zM88.8 353.6h0.9v0.9h-0.9zM79.6 341.0h0.9v0.9h-0.9zM88.2 357.7h0.9v0.9h-0.9zM103.9 346.6h0.9v0.9h-0.9zM101.8 355.9h0.9v0.9h-0.9zM100.7 352.0h0.9v0.9h-0.9zM103.2 353.1h0.9v0.9h-0.9zM102.7 351.5h0.9v0.9h-0.9zM84.3 350.6h0.9v0.9h-0.9zM91.3 346.9h0.9v0.9h-0.9zM88.7 350.4h0.9v0.9h-0.9zM93.9 344.7h0.9v0.9h-0.9zM86.3 350.3h0.9v0.9h-0.9zM91.8 348.6h0.9v0.9h-0.9zM95.8 343.9h0.9v0.9h-0.9zM92.5 345.7h0.9v0.9h-0.9zM98.4 354.3h0.9v0.9h-0.9zM98.6 350.5h0.9v0.9h-0.9zM85.6 358.7h0.9v0.9h-0.9zM92.0 347.7h0.9v0.9h-0.9zM86.6 348.2h0.9v0.9h-0.9zM96.9 356.6h0.9v0.9h-0.9zM91.3 354.8h0.9v0.9h-0.9zM84.7 349.2h0.9v0.9h-0.9zM88.3 346.3h0.9v0.9h-0.9zM88.3 355.3h0.9v0.9h-0.9zM97.5 344.3h0.9v0.9h-0.9zM85.2 355.9h0.9v0.9h-0.9zM95.5 353.7h0.9v0.9h-0.9zM95.1 354.1h0.9v0.9h-0.9zM86.2 341.4h0.9v0.9h-0.9zM88.3 340.8h0.9v0.9h-0.9zM103.1 350.7h0.9v0.9h-0.9zM95.9 359.5h0.9v0.9h-0.9zM99.2 344.8h0.9v0.9h-0.9zM87.8 342.4h0.9v0.9h-0.9zM99.0 354.9h0.9v0.9h-0.9zM91.4 347.6h0.9v0.9h-0.9zM86.1 349.9h0.9v0.9h-0.9zM96.9 358.1h0.9v0.9h-0.9zM100.3 357.6h0.9v0.9h-0.9zM90.3 348.6h0.9v0.9h-0.9zM87.2 359.7h0.9v0.9h-0.9zM84.0 343.4h0.9v0.9h-0.9zM86.4 358.6h0.9v0.9h-0.9zM100.4 346.8h0.9v0.9h-0.9zM100.4 358.0h0.9v0.9h-0.9zM90.0 344.0h0.9v0.9h-0.9zM98.4 347.7h0.9v0.9h-0.9zM82.4 358.3h0.9v0.9h-0.9zM90.3 348.1h0.9v0.9h-0.9zM94.1 345.3h0.9v0.9h-0.9zM80.0 348.0h0.9v0.9h-0.9zM88.8 340.4h0.9v0.9h-0.9zM88.6 355.4h0.9v0.9h-0.9zM87.7 353.8h0.9v0.9h-0.9zM94.8 344.0h0.9v0.9h-0.9zM80.0 353.7h0.9v0.9h-0.9zM94.5 346.1h0.9v0.9h-0.9zM84.4 357.3h0.9v0.9h-0.9zM101.8 344.9h0.9v0.9h-0.9zM93.9 351.7h0.9v0.9h-0.9zM87.4 340.9h0.9v0.9h-0.9zM87.5 353.1h0.9v0.9h-0.9zM94.2 350.4h0.9v0.9h-0.9zM82.5 344.5h0.9v0.9h-0.9zM87.1 348.5h0.9v0.9h-0.9zM88.4 358.2h0.9v0.9h-0.9zM82.3 359.9h0.9v0.9h-0.9zM85.4 357.3h0.9v0.9h-0.9zM85.5 351.9h0.9v0.9h-0.9zM88.7 341.0h0.9v0.9h-0.9zM99.0 356.4h0.9v0.9h-0.9zM86.1 355.7h0.9v0.9h-0.9zM91.2 359.9h0.9v0.9h-0.9zM80.8 347.8h0.9v0.9h-0.9zM85.1 352.7h0.9v0.9h-0.9zM98.6 357.0h0.9v0.9h-0.9zM92.9 347.9h0.9v0.9h-0.9zM99.1 342.3h0.9v0.9h-0.9zM85.9 355.3h0.9v0.9h-0.9zM90.3 360.1h0.9v0.9h-0.9zM81.7 349.4h0.9v0.9h-0.9zM84.7 340.2h0.9v0.9h-0.9zM81.8 342.0h0.9v0.9h-0.9zM88.5 348.9h0.9v0.9h-0.9zM91.9 346.0h0.9v0.9h-0.9zM96.7 350.5h0.9v0.9h-0.9zM103.6 343.6h0.9v0.9h-0.9zM92.0 350.1h0.9v0.9h-0.9zM88.6 357.4h0.9v0.9h-0.9zM84.6 357.8h0.9v0.9h-0.9zM88.3 346.9h0.9v0.9h-0.9zM94.6 351.5h0.9v0.9h-0.9zM86.5 341.9h0.9v0.9h-0.9zM102.9 347.6h0.9v0.9h-0.9zM82.3 353.3h0.9v0.9h-0.9zM92.5 346.8h0.9v0.9h-0.9zM87.5 357.1h0.9v0.9h-0.9zM87.8 348.5h0.9v0.9h-0.9zM102.9 347.4h0.9v0.9h-0.9zM89.3 343.4h0.9v0.9h-0.9zM95.7 353.5h0.9v0.9h-0.9zM90.4 348.3h0.9v0.9h-0.9zM85.2 356.0h0.9v0.9h-0.9zM90.7 356.8h0.9v0.9h-0.9zM88.7 354.9h0.9v0.9h-0.9zM80.2 344.6h0.9v0.9h-0.9zM103.0 353.8h0.9v0.9h-0.9zM96.1 350.1h0.9v0.9h-0.9zM91.1 344.2h0.9v0.9h-0.9zM83.7 353.1h0.9v0.9h-0.9zM96.5 345.4h0.9v0.9h-0.9zM95.3 342.9h0.9v0.9h-0.9zM94.5 343.6h0.9v0.9h-0.9zM92.0 346.5h0.9v0.9h-0.9zM93.0 342.9h0.9v0.9h-0.9zM91.3 352.5h0.9v0.9h-0.9zM82.8 346.4h0.9v0.9h-0.9zM96.1 351.1h0.9v0.9h-0.9zM94.6 355.8h0.9v0.9h-0.9zM93.5 344.6h0.9v0.9h-0.9zM90.3 356.8h0.9v0.9h-0.9zM93.4 355.3h0.9v0.9h-0.9zM88.4 349.2h0.9v0.9h-0.9zM103.3 356.6h0.9v0.9h-0.9zM95.5 342.3h0.9v0.9h-0.9zM94.5 340.9h0.9v0.9h-0.9zM102.4 359.6h0.9v0.9h-0.9zM97.3 345.6h0.9v0.9h-0.9zM100.2 343.7h0.9v0.9h-0.9zM99.8 350.6h0.9v0.9h-0.9zM79.9 358.0h0.9v0.9h-0.9zM90.3 356.8h0.9v0.9h-0.9zM96.4 350.9h0.9v0.9h-0.9zM100.6 344.3h0.9v0.9h-0.9zM101.5 347.0h0.9v0.9h-0.9zM80.1 346.9h0.9v0.9h-0.9zM81.1 341.6h0.9v0.9h-0.9zM94.8 342.6h0.9v0.9h-0.9zM83.4 346.1h0.9v0.9h-0.9zM86.3 358.6h0.9v0.9h-0.9zM101.7 357.6h0.9v0.9h-0.9zM103.8 349.0h0.9v0.9h-0.9zM99.0 345.8h0.9v0.9h-0.9zM102.2 356.4h0.9v0.9h-0.9zM97.4 344.8h0.9v0.9h-0.9zM81.7 358.7h0.9v0.9h-0.9zM93.0 352.4h0.9v0.9h-0.9zM100.6 343.1h0.9v0.9h-0.9zM96.6 349.5h0.9v0.9h-0.9zM98.8 349.3h0.9v0.9h-0.9zM84.3 359.3h0.9v0.9h-0.9zM86.4 355.1h0.9v0.9h-0.9zM99.9 345.2h0.9v0.9h-0.9zM96.5 348.1h0.9v0.9h-0.9zM85.0 344.5h0.9v0.9h-0.9zM102.9 347.6h0.9v0.9h-0.9zM92.0 350.2h0.9v0.9h-0.9zM80.2 355.3h0.9v0.9h-0.9zM97.8 357.7h0.9v0.9h-0.9zM88.2 344.4h0.9v0.9h-0.9zM88.0 354.8h0.9v0.9h-0.9zM95.6 348.3h0.9v0.9h-0.9zM92.4 343.3h0.9v0.9h-0.9zM102.0 349.6h0.9v0.9h-0.9zM91.9 355.9h0.9v0.9h-0.9zM84.3 354.6h0.9v0.9h-0.9zM88.2 356.4h0.9v0.9h-0.9zM81.8 345.7h0.9v0.9h-0.9zM95.1 349.8h0.9v0.9h-0.9zM88.7 351.8h0.9v0.9h-0.9zM84.8 348.9h0.9v0.9h-0.9zM79.5 356.2h0.9v0.9h-0.9zM85.7 356.8h0.9v0.9h-0.9zM93.0 352.2h0.9v0.9h-0.9zM94.8 342.7h0.9v0.9h-0.9zM98.5 346.0h0.9v0.9h-0.9zM100.6 355.9h0.9v0.9h-0.9zM96.1 356.5h0.9v0.9h-0.9zM90.2 353.7h0.9v0.9h-0.9zM102.8 344.0h0.9v0.9h-0.9zM82.0 348.4h0.9v0.9h-0.9zM92.0 343.2h0.9v0.9h-0.9zM84.9 357.5h0.9v0.9h-0.9zM89.0 343.2h0.9v0.9h-0.9zM84.0 351.7h0.9v0.9h-0.9zM84.2 349.7h0.9v0.9h-0.9zM92.7 349.0h0.9v0.9h-0.9zM91.8 356.9h0.9v0.9h-0.9zM79.9 358.8h0.9v0.9h-0.9zM84.4 341.0h0.9v0.9h-0.9zM98.3 351.6h0.9v0.9h-0.9zM92.7 344.6h0.9v0.9h-0.9zM98.6 346.3h0.9v0.9h-0.9zM97.3 344.8h0.9v0.9h-0.9zM93.5 353.2h0.9v0.9h-0.9zM88.6 349.8h0.9v0.9h-0.9zM81.1 353.1h0.9v0.9h-0.9zM96.4 343.3h0.9v0.9h-0.9zM93.0 354.9h0.9v0.9h-0.9zM82.0 357.0h0.9v0.9h-0.9zM100.8 341.2h0.9v0.9h-0.9zM85.6 341.9h0.9v0.9h-0.9zM85.7 341.9h0.9v0.9h-0.9zM91.5 345.2h0.9v0.9h-0.9zM86.9 349.4h0.9v0.9h-0.9zM88.6 356.0h0.9v0.9h-0.9zM97.2 342.5h0.9v0.9h-0.9zM85.0 340.4h0.9v0.9h-0.9zM87.6 342.4h0.9v0.9h-0.9zM96.6 355.8h0.9v0.9h-0.9zM103.9 344.4h0.9v0.9h-0.9zM80.4 355.3h0.9v0.9h-0.9zM89.6 358.8h0.9v0.9h-0.9zM89.1 346.4h0.9v0.9h-0.9zM81.3 359.2h0.9v0.9h-0.9zM92.0 349.0h0.9v0.9h-0.9zM90.2 355.6h0.9v0.9h-0.9zM99.9 349.7h0.9v0.9h-0.9zM83.9 348.3h0.9v0.9h-0.9zM101.3 348.4h0.9v0.9h-0.9zM95.7 351.4h0.9v0.9h-0.9zM90.8 351.7h0.9v0.9h-0.9zM85.5 351.3h0.9v0.9h-0.9zM100.7 341.8h0.9v0.9h-0.9z" fill="#1a2cff" fill-opacity="0.5"/>
<path d="M83.6 359.2h0.9v0.9h-0.9zM93.0 353.1h0.9v0.9h-0.9zM86.1 349.1h0.9v0.9h-0.9zM95.7 349.4h0.9v0.9h-0.9zM95.4 355.7h0.9v0.9h-0.9zM89.8 346.9h0.9v0.9h-0.9zM94.4 358.7h0.9v0.9h-0.9zM87.1 348.3h0.9v0.9h-0.9zM98.4 353.8h0.9v0.9h-0.9zM88.3 358.0h0.9v0.9h-0.9zM90.4 355.0h0.9v0.9h-0.9zM89.6 350.3h0.9v0.9h-0.9zM93.3 349.9h0.9v0.9h-0.9zM81.5 351.1h0.9v0.9h-0.9zM99.3 357.5h0.9v0.9h-0.9zM104.8 357.1h0.9v0.9h-0.9zM101.5 354.2h0.9v0.9h-0.9zM89.4 355.0h0.9v0.9h-0.9zM86.4 356.1h0.9v0.9h-0.9zM89.4 354.2h0.9v0.9h-0.9zM87.0 352.7h0.9v0.9h-0.9zM97.8 352.4h0.9v0.9h-0.9zM88.0 354.3h0.9v0.9h-0.9zM97.2 352.5h0.9v0.9h-0.9zM85.1 347.2h0.9v0.9h-0.9zM84.1 357.4h0.9v0.9h-0.9zM91.5 355.1h0.9v0.9h-0.9zM98.3 354.3h0.9v0.9h-0.9zM94.8 351.3h0.9v0.9h-0.9zM82.5 355.7h0.9v0.9h-0.9zM91.4 355.5h0.9v0.9h-0.9zM85.7 352.7h0.9v0.9h-0.9zM103.9 350.0h0.9v0.9h-0.9zM92.6 358.3h0.9v0.9h-0.9zM90.6 353.7h0.9v0.9h-0.9zM79.5 356.2h0.9v0.9h-0.9zM89.4 358.2h0.9v0.9h-0.9zM91.5 351.8h0.9v0.9h-0.9zM94.6 352.3h0.9v0.9h-0.9zM89.0 359.2h0.9v0.9h-0.9zM97.8 353.7h0.9v0.9h-0.9zM96.8 356.4h0.9v0.9h-0.9zM95.4 353.4h0.9v0.9h-0.9zM92.4 354.8h0.9v0.9h-0.9zM95.3 354.6h0.9v0.9h-0.9zM88.8 353.0h0.9v0.9h-0.9zM94.7 349.5h0.9v0.9h-0.9zM91.9 356.2h0.9v0.9h-0.9zM93.0 352.2h0.9v0.9h-0.9zM91.9 351.4h0.9v0.9h-0.9zM97.8 351.8h0.9v0.9h-0.9zM82.2 348.6h0.9v0.9h-0.9zM93.8 354.1h0.9v0.9h-0.9zM89.2 348.2h0.9v0.9h-0.9zM91.1 350.0h0.9v0.9h-0.9zM88.1 353.3h0.9v0.9h-0.9zM87.5 354.5h0.9v0.9h-0.9zM87.7 351.5h0.9v0.9h-0.9zM90.7 358.9h0.9v0.9h-0.9zM101.3 356.9h0.9v0.9h-0.9zM87.7 353.3h0.9v0.9h-0.9zM97.4 356.4h0.9v0.9h-0.9zM82.4 353.0h0.9v0.9h-0.9zM87.7 356.1h0.9v0.9h-0.9zM95.7 351.2h0.9v0.9h-0.9zM104.6 352.2h0.9v0.9h-0.9zM106.3 352.6h0.9v0.9h-0.9zM91.5 360.5h0.9v0.9h-0.9zM88.9 351.5h0.9v0.9h-0.9zM100.7 353.1h0.9v0.9h-0.9zM94.8 348.4h0.9v0.9h-0.9zM102.5 357.0h0.9v0.9h-0.9zM94.1 356.0h0.9v0.9h-0.9zM89.1 351.4h0.9v0.9h-0.9zM82.8 354.7h0.9v0.9h-0.9zM99.3 356.5h0.9v0.9h-0.9zM97.4 356.0h0.9v0.9h-0.9zM86.6 348.3h0.9v0.9h-0.9zM95.8 353.9h0.9v0.9h-0.9zM97.8 352.2h0.9v0.9h-0.9zM86.8 355.0h0.9v0.9h-0.9zM88.7 347.0h0.9v0.9h-0.9zM88.4 349.9h0.9v0.9h-0.9zM85.5 351.2h0.9v0.9h-0.9zM97.6 362.2h0.9v0.9h-0.9zM102.1 351.7h0.9v0.9h-0.9zM98.7 353.0h0.9v0.9h-0.9zM94.4 350.7h0.9v0.9h-0.9zM91.6 346.9h0.9v0.9h-0.9zM102.5 350.3h0.9v0.9h-0.9zM95.4 351.0h0.9v0.9h-0.9zM93.6 348.8h0.9v0.9h-0.9zM89.8 356.7h0.9v0.9h-0.9zM95.5 345.9h0.9v0.9h-0.9zM97.0 348.3h0.9v0.9h-0.9zM93.7 355.2h0.9v0.9h-0.9zM88.2 352.1h0.9v0.9h-0.9zM90.6 354.8h0.9v0.9h-0.9zM97.4 358.5h0.9v0.9h-0.9zM93.9 360.9h0.9v0.9h-0.9zM86.4 360.0h0.9v0.9h-0.9zM90.5 356.2h0.9v0.9h-0.9zM91.3 353.6h0.9v0.9h-0.9zM86.6 354.7h0.9v0.9h-0.9zM103.9 353.8h0.9v0.9h-0.9zM91.9 353.3h0.9v0.9h-0.9zM96.2 352.5h0.9v0.9h-0.9zM92.0 354.1h0.9v0.9h-0.9zM99.7 356.9h0.9v0.9h-0.9zM85.8 350.9h0.9v0.9h-0.9zM92.1 356.5h0.9v0.9h-0.9zM97.7 352.5h0.9v0.9h-0.9zM104.5 352.6h0.9v0.9h-0.9zM100.3 358.7h0.9v0.9h-0.9zM101.4 354.0h0.9v0.9h-0.9zM95.4 347.5h0.9v0.9h-0.9zM81.5 350.9h0.9v0.9h-0.9zM96.2 357.3h0.9v0.9h-0.9zM91.4 357.2h0.9v0.9h-0.9zM95.4 359.1h0.9v0.9h-0.9zM82.7 350.1h0.9v0.9h-0.9zM86.4 349.3h0.9v0.9h-0.9zM101.7 349.8h0.9v0.9h-0.9zM87.1 351.8h0.9v0.9h-0.9zM97.2 351.5h0.9v0.9h-0.9zM96.3 355.4h0.9v0.9h-0.9zM88.2 344.3h0.9v0.9h-0.9zM86.6 348.5h0.9v0.9h-0.9zM101.6 350.5h0.9v0.9h-0.9zM85.7 354.7h0.9v0.9h-0.9zM92.3 349.7h0.9v0.9h-0.9zM98.4 356.7h0.9v0.9h-0.9zM93.6 350.4h0.9v0.9h-0.9zM86.9 345.5h0.9v0.9h-0.9zM94.3 354.8h0.9v0.9h-0.9zM86.6 353.4h0.9v0.9h-0.9zM111.3 349.0h0.9v0.9h-0.9zM82.0 355.6h0.9v0.9h-0.9zM89.5 351.4h0.9v0.9h-0.9zM95.7 352.8h0.9v0.9h-0.9zM97.8 355.2h0.9v0.9h-0.9zM98.8 353.7h0.9v0.9h-0.9zM79.3 358.4h0.9v0.9h-0.9zM82.0 357.2h0.9v0.9h-0.9zM93.5 348.0h0.9v0.9h-0.9zM92.4 356.6h0.9v0.9h-0.9zM86.0 353.4h0.9v0.9h-0.9zM87.7 349.4h0.9v0.9h-0.9zM88.4 358.1h0.9v0.9h-0.9zM96.0 353.1h0.9v0.9h-0.9zM91.5 353.7h0.9v0.9h-0.9zM93.7 354.0h0.9v0.9h-0.9zM81.9 356.7h0.9v0.9h-0.9zM87.0 343.3h0.9v0.9h-0.9zM96.1 348.7h0.9v0.9h-0.9zM91.2 352.9h0.9v0.9h-0.9zM88.5 355.3h0.9v0.9h-0.9zM90.4 352.2h0.9v0.9h-0.9zM86.4 352.2h0.9v0.9h-0.9zM85.9 353.4h0.9v0.9h-0.9zM99.8 357.1h0.9v0.9h-0.9zM94.5 348.1h0.9v0.9h-0.9zM98.1 356.8h0.9v0.9h-0.9zM104.1 344.7h0.9v0.9h-0.9zM92.1 352.0h0.9v0.9h-0.9zM98.4 349.1h0.9v0.9h-0.9zM89.8 362.1h0.9v0.9h-0.9zM97.9 345.7h0.9v0.9h-0.9zM92.1 358.4h0.9v0.9h-0.9zM88.4 355.5h0.9v0.9h-0.9zM92.6 347.7h0.9v0.9h-0.9zM88.3 357.6h0.9v0.9h-0.9zM99.0 350.9h0.9v0.9h-0.9zM98.6 350.5h0.9v0.9h-0.9zM93.5 353.2h0.9v0.9h-0.9zM84.6 354.5h0.9v0.9h-0.9zM89.7 342.8h0.9v0.9h-0.9zM87.1 350.0h0.9v0.9h-0.9zM87.1 349.5h0.9v0.9h-0.9zM87.9 343.9h0.9v0.9h-0.9zM97.3 353.5h0.9v0.9h-0.9zM93.5 352.2h0.9v0.9h-0.9zM92.4 352.2h0.9v0.9h-0.9zM85.6 347.4h0.9v0.9h-0.9zM92.4 357.1h0.9v0.9h-0.9zM93.4 359.4h0.9v0.9h-0.9zM83.9 352.2h0.9v0.9h-0.9zM88.4 357.9h0.9v0.9h-0.9zM102.0 351.2h0.9v0.9h-0.9zM96.3 352.3h0.9v0.9h-0.9zM86.1 352.8h0.9v0.9h-0.9zM85.9 359.1h0.9v0.9h-0.9zM95.5 357.8h0.9v0.9h-0.9zM94.1 343.9h0.9v0.9h-0.9zM96.7 353.6h0.9v0.9h-0.9zM77.9 353.6h0.9v0.9h-0.9zM98.0 359.8h0.9v0.9h-0.9zM86.0 356.2h0.9v0.9h-0.9zM94.0 352.6h0.9v0.9h-0.9zM90.3 355.2h0.9v0.9h-0.9zM95.4 355.7h0.9v0.9h-0.9zM89.6 348.2h0.9v0.9h-0.9zM99.8 358.2h0.9v0.9h-0.9zM88.7 353.1h0.9v0.9h-0.9zM96.8 346.5h0.9v0.9h-0.9zM94.9 362.5h0.9v0.9h-0.9zM93.6 350.5h0.9v0.9h-0.9zM104.1 353.3h0.9v0.9h-0.9zM93.3 351.6h0.9v0.9h-0.9zM93.1 346.3h0.9v0.9h-0.9zM84.4 347.6h0.9v0.9h-0.9zM97.3 352.9h0.9v0.9h-0.9zM98.8 345.4h0.9v0.9h-0.9zM88.5 358.8h0.9v0.9h-0.9zM87.3 346.1h0.9v0.9h-0.9zM87.6 351.9h0.9v0.9h-0.9zM91.9 358.2h0.9v0.9h-0.9zM99.8 359.2h0.9v0.9h-0.9zM95.4 351.3h0.9v0.9h-0.9zM89.1 347.5h0.9v0.9h-0.9zM99.5 358.0h0.9v0.9h-0.9zM92.5 349.8h0.9v0.9h-0.9zM96.0 355.1h0.9v0.9h-0.9zM92.9 348.8h0.9v0.9h-0.9zM93.4 351.0h0.9v0.9h-0.9zM96.4 355.5h0.9v0.9h-0.9zM94.6 351.6h0.9v0.9h-0.9zM101.0 356.2h0.9v0.9h-0.9zM99.5 356.4h0.9v0.9h-0.9zM95.9 354.7h0.9v0.9h-0.9zM85.7 346.2h0.9v0.9h-0.9zM86.5 355.6h0.9v0.9h-0.9zM97.4 353.9h0.9v0.9h-0.9zM92.5 360.2h0.9v0.9h-0.9zM89.7 346.4h0.9v0.9h-0.9zM82.9 352.0h0.9v0.9h-0.9zM96.1 356.0h0.9v0.9h-0.9zM90.7 356.3h0.9v0.9h-0.9zM91.7 350.4h0.9v0.9h-0.9zM89.8 356.1h0.9v0.9h-0.9zM97.6 348.9h0.9v0.9h-0.9zM86.2 353.7h0.9v0.9h-0.9zM104.5 348.7h0.9v0.9h-0.9zM84.6 354.8h0.9v0.9h-0.9zM95.0 350.9h0.9v0.9h-0.9zM91.8 355.1h0.9v0.9h-0.9zM81.7 353.1h0.9v0.9h-0.9zM95.5 356.7h0.9v0.9h-0.9zM98.9 352.9h0.9v0.9h-0.9zM83.5 358.4h0.9v0.9h-0.9zM96.5 350.8h0.9v0.9h-0.9zM98.1 357.2h0.9v0.9h-0.9zM91.2 344.2h0.9v0.9h-0.9zM89.2 350.3h0.9v0.9h-0.9zM87.1 352.9h0.9v0.9h-0.9zM85.6 354.7h0.9v0.9h-0.9zM103.1 348.6h0.9v0.9h-0.9zM98.1 351.2h0.9v0.9h-0.9zM95.2 352.7h0.9v0.9h-0.9zM99.5 350.5h0.9v0.9h-0.9zM96.3 350.2h0.9v0.9h-0.9zM93.3 353.1h0.9v0.9h-0.9zM98.4 347.2h0.9v0.9h-0.9zM84.1 358.5h0.9v0.9h-0.9zM94.3 359.7h0.9v0.9h-0.9zM85.9 354.0h0.9v0.9h-0.9zM95.5 360.0h0.9v0.9h-0.9zM91.7 351.5h0.9v0.9h-0.9zM96.2 352.8h0.9v0.9h-0.9zM87.6 356.1h0.9v0.9h-0.9zM80.8 349.3h0.9v0.9h-0.9zM100.0 351.3h0.9v0.9h-0.9zM90.1 354.6h0.9v0.9h-0.9zM98.6 355.2h0.9v0.9h-0.9zM86.3 351.0h0.9v0.9h-0.9zM98.2 352.7h0.9v0.9h-0.9zM88.3 356.6h0.9v0.9h-0.9zM98.7 361.5h0.9v0.9h-0.9zM85.7 350.5h0.9v0.9h-0.9zM87.9 354.6h0.9v0.9h-0.9zM89.2 357.5h0.9v0.9h-0.9zM76.2 356.9h0.9v0.9h-0.9zM88.2 352.1h0.9v0.9h-0.9zM95.3 354.0h0.9v0.9h-0.9zM86.1 359.0h0.9v0.9h-0.9zM95.4 351.3h0.9v0.9h-0.9zM93.2 349.0h0.9v0.9h-0.9zM84.8 352.0h0.9v0.9h-0.9zM94.1 353.6h0.9v0.9h-0.9zM87.5 347.9h0.9v0.9h-0.9zM82.2 359.3h0.9v0.9h-0.9zM94.2 350.1h0.9v0.9h-0.9zM99.0 355.3h0.9v0.9h-0.9zM89.6 350.8h0.9v0.9h-0.9zM98.7 354.5h0.9v0.9h-0.9zM101.6 354.6h0.9v0.9h-0.9zM88.6 350.9h0.9v0.9h-0.9zM87.9 354.2h0.9v0.9h-0.9zM93.5 355.5h0.9v0.9h-0.9zM94.6 349.2h0.9v0.9h-0.9z" fill="#1a2cff" fill-opacity="0.5"/>
<path d="M87.8 340.1h0.9v0.9h-0.9zM95.2 336.8h0.9v0.9h-0.9zM83.8 340.8h0.9v0.9h-0.9zM83.4 346.0h0.9v0.9h-0.9zM106.2 346.0h0.9v0.9h-0.9zM74.6 345.6h0.9v0.9h-0.9zM98.0 353.0h0.9v0.9h-0.9zM92.6 365.4h0.9v0.9h-0.9zM101.9 349.0h0.9v0.9h-0.9zM103.0 336.6h0.9v0.9h-0.9zM88.2 340.7h0.9v0.9h-0.9zM91.9 362.2h0.9v0.9h-0.9zM84.7 362.0h0.9v0.9h-0.9zM79.1 360.5h0.9v0.9h-0.9zM71.9 340.9h0.9v0.9h-0.9zM100.7 347.4h0.9v0.9h-0.9zM91.6 348.1h0.9v0.9h-0.9zM91.9 346.7h0.9v0.9h-0.9zM79.5 345.7h0.9v0.9h-0.9zM91.2 340.4h0.9v0.9h-0.9zM95.0 363.4h0.9v0.9h-0.9zM72.4 343.5h0.9v0.9h-0.9zM87.0 348.4h0.9v0.9h-0.9zM91.0 341.9h0.9v0.9h-0.9zM89.6 348.3h0.9v0.9h-0.9zM89.1 361.5h0.9v0.9h-0.9zM91.4 335.4h0.9v0.9h-0.9zM73.3 353.3h0.9v0.9h-0.9zM86.4 342.9h0.9v0.9h-0.9zM75.5 345.5h0.9v0.9h-0.9zM89.0 342.3h0.9v0.9h-0.9zM86.2 355.9h0.9v0.9h-0.9zM98.4 352.9h0.9v0.9h-0.9zM88.1 336.5h0.9v0.9h-0.9zM98.3 361.1h0.9v0.9h-0.9zM103.6 358.3h0.9v0.9h-0.9zM93.0 351.4h0.9v0.9h-0.9zM89.9 359.0h0.9v0.9h-0.9zM87.1 366.7h0.9v0.9h-0.9zM98.3 345.4h0.9v0.9h-0.9zM90.0 334.3h0.9v0.9h-0.9zM82.2 345.6h0.9v0.9h-0.9zM116.2 341.2h0.9v0.9h-0.9zM99.8 348.9h0.9v0.9h-0.9zM86.8 353.6h0.9v0.9h-0.9zM68.7 356.4h0.9v0.9h-0.9zM110.7 350.8h0.9v0.9h-0.9zM89.3 349.6h0.9v0.9h-0.9zM97.1 344.0h0.9v0.9h-0.9zM91.3 352.6h0.9v0.9h-0.9zM86.3 351.6h0.9v0.9h-0.9zM93.6 354.4h0.9v0.9h-0.9zM79.5 343.6h0.9v0.9h-0.9zM85.4 358.5h0.9v0.9h-0.9zM92.7 333.9h0.9v0.9h-0.9zM76.4 365.0h0.9v0.9h-0.9zM93.6 337.0h0.9v0.9h-0.9zM80.3 349.4h0.9v0.9h-0.9zM105.2 362.2h0.9v0.9h-0.9zM86.1 345.6h0.9v0.9h-0.9zM110.5 339.7h0.9v0.9h-0.9zM106.7 351.1h0.9v0.9h-0.9zM91.0 359.3h0.9v0.9h-0.9zM95.2 341.0h0.9v0.9h-0.9zM73.7 348.3h0.9v0.9h-0.9zM95.5 360.0h0.9v0.9h-0.9zM62.1 359.8h0.9v0.9h-0.9zM96.6 361.3h0.9v0.9h-0.9zM98.5 350.0h0.9v0.9h-0.9zM94.6 351.6h0.9v0.9h-0.9z" fill="#4050ff" fill-opacity="0.4"/>
<path d="M78.4 332.1h0.9v0.9h-0.9zM79.5 329.5h0.9v0.9h-0.9zM78.8 355.5h0.9v0.9h-0.9zM76.8 333.6h0.9v0.9h-0.9zM79.4 342.2h0.9v0.9h-0.9zM80.0 337.7h0.9v0.9h-0.9zM77.9 358.8h0.9v0.9h-0.9zM77.7 359.1h0.9v0.9h-0.9zM79.9 333.0h0.9v0.9h-0.9zM78.5 358.2h0.9v0.9h-0.9zM76.8 355.1h0.9v0.9h-0.9zM79.4 351.7h0.9v0.9h-0.9zM78.7 329.6h0.9v0.9h-0.9zM80.1 329.7h0.9v0.9h-0.9zM79.4 350.8h0.9v0.9h-0.9zM77.6 349.5h0.9v0.9h-0.9zM77.9 351.7h0.9v0.9h-0.9zM76.5 357.9h0.9v0.9h-0.9zM77.8 353.5h0.9v0.9h-0.9zM78.2 353.8h0.9v0.9h-0.9zM77.5 344.7h0.9v0.9h-0.9zM76.4 342.8h0.9v0.9h-0.9zM76.6 355.4h0.9v0.9h-0.9zM79.0 340.7h0.9v0.9h-0.9zM80.2 358.4h0.9v0.9h-0.9zM80.1 329.0h0.9v0.9h-0.9zM79.1 350.9h0.9v0.9h-0.9zM78.7 326.7h0.9v0.9h-0.9zM80.0 341.1h0.9v0.9h-0.9zM78.7 353.9h0.9v0.9h-0.9zM77.4 327.2h0.9v0.9h-0.9zM80.0 335.4h0.9v0.9h-0.9zM76.5 330.8h0.9v0.9h-0.9zM80.3 351.4h0.9v0.9h-0.9zM77.1 331.2h0.9v0.9h-0.9zM79.9 348.8h0.9v0.9h-0.9zM78.6 330.7h0.9v0.9h-0.9zM78.0 358.4h0.9v0.9h-0.9zM76.3 340.5h0.9v0.9h-0.9zM76.5 360.1h0.9v0.9h-0.9zM76.7 358.6h0.9v0.9h-0.9zM79.7 351.1h0.9v0.9h-0.9zM76.5 349.8h0.9v0.9h-0.9zM78.3 342.9h0.9v0.9h-0.9zM76.9 343.6h0.9v0.9h-0.9zM79.5 330.7h0.9v0.9h-0.9zM79.8 340.5h0.9v0.9h-0.9zM77.4 334.3h0.9v0.9h-0.9zM78.1 348.2h0.9v0.9h-0.9zM78.6 356.5h0.9v0.9h-0.9zM78.3 343.6h0.9v0.9h-0.9zM80.3 333.5h0.9v0.9h-0.9zM76.4 337.4h0.9v0.9h-0.9zM77.6 330.4h0.9v0.9h-0.9zM78.0 327.4h0.9v0.9h-0.9zM80.0 342.7h0.9v0.9h-0.9zM79.8 349.9h0.9v0.9h-0.9zM79.2 352.0h0.9v0.9h-0.9zM77.5 351.0h0.9v0.9h-0.9zM77.1 345.1h0.9v0.9h-0.9zM78.7 352.6h0.9v0.9h-0.9zM77.0 337.9h0.9v0.9h-0.9zM79.6 353.6h0.9v0.9h-0.9zM80.2 330.2h0.9v0.9h-0.9zM77.1 329.8h0.9v0.9h-0.9zM79.2 351.5h0.9v0.9h-0.9zM78.9 352.7h0.9v0.9h-0.9zM78.4 345.3h0.9v0.9h-0.9zM80.0 348.2h0.9v0.9h-0.9zM78.9 346.2h0.9v0.9h-0.9zM78.3 351.9h0.9v0.9h-0.9zM78.6 330.6h0.9v0.9h-0.9zM78.0 340.5h0.9v0.9h-0.9zM78.0 345.3h0.9v0.9h-0.9zM77.7 339.5h0.9v0.9h-0.9zM78.0 338.8h0.9v0.9h-0.9zM80.2 329.3h0.9v0.9h-0.9zM76.4 350.7h0.9v0.9h-0.9zM77.9 341.5h0.9v0.9h-0.9zM78.7 338.7h0.9v0.9h-0.9zM77.3 326.7h0.9v0.9h-0.9zM79.8 358.1h0.9v0.9h-0.9zM77.4 342.0h0.9v0.9h-0.9zM77.6 328.2h0.9v0.9h-0.9zM79.9 354.6h0.9v0.9h-0.9zM77.3 334.9h0.9v0.9h-0.9zM79.1 353.3h0.9v0.9h-0.9zM78.2 339.4h0.9v0.9h-0.9zM77.2 353.3h0.9v0.9h-0.9zM79.8 355.4h0.9v0.9h-0.9zM76.8 346.4h0.9v0.9h-0.9zM80.2 350.5h0.9v0.9h-0.9zM78.1 331.1h0.9v0.9h-0.9zM76.5 351.1h0.9v0.9h-0.9zM76.6 353.7h0.9v0.9h-0.9zM79.0 342.3h0.9v0.9h-0.9zM79.9 357.9h0.9v0.9h-0.9zM78.8 329.6h0.9v0.9h-0.9zM78.7 340.5h0.9v0.9h-0.9zM77.3 357.8h0.9v0.9h-0.9zM79.2 330.3h0.9v0.9h-0.9zM77.2 337.8h0.9v0.9h-0.9zM78.6 337.2h0.9v0.9h-0.9zM78.1 353.9h0.9v0.9h-0.9zM77.0 350.7h0.9v0.9h-0.9zM77.6 358.3h0.9v0.9h-0.9zM80.1 337.3h0.9v0.9h-0.9zM78.7 330.0h0.9v0.9h-0.9zM77.9 347.4h0.9v0.9h-0.9zM78.9 337.8h0.9v0.9h-0.9zM76.4 330.4h0.9v0.9h-0.9zM78.5 332.0h0.9v0.9h-0.9zM77.5 347.2h0.9v0.9h-0.9zM79.9 343.7h0.9v0.9h-0.9zM77.3 346.1h0.9v0.9h-0.9zM77.4 352.8h0.9v0.9h-0.9zM76.9 335.1h0.9v0.9h-0.9zM78.1 357.1h0.9v0.9h-0.9zM77.0 332.7h0.9v0.9h-0.9zM76.8 333.5h0.9v0.9h-0.9zM77.6 339.6h0.9v0.9h-0.9zM79.3 339.9h0.9v0.9h-0.9zM78.2 339.7h0.9v0.9h-0.9zM79.4 356.9h0.9v0.9h-0.9zM78.0 357.5h0.9v0.9h-0.9zM77.3 359.4h0.9v0.9h-0.9zM78.4 349.4h0.9v0.9h-0.9zM77.8 335.4h0.9v0.9h-0.9zM76.8 356.3h0.9v0.9h-0.9zM77.7 350.0h0.9v0.9h-0.9zM78.1 344.1h0.9v0.9h-0.9zM77.1 332.2h0.9v0.9h-0.9zM77.6 349.4h0.9v0.9h-0.9zM78.5 326.3h0.9v0.9h-0.9zM79.1 340.9h0.9v0.9h-0.9zM76.6 335.0h0.9v0.9h-0.9zM77.1 354.2h0.9v0.9h-0.9zM78.5 337.3h0.9v0.9h-0.9zM77.3 336.1h0.9v0.9h-0.9zM77.4 338.0h0.9v0.9h-0.9zM79.5 353.0h0.9v0.9h-0.9zM79.1 356.3h0.9v0.9h-0.9zM78.9 330.1h0.9v0.9h-0.9zM76.5 331.8h0.9v0.9h-0.9zM77.3 344.2h0.9v0.9h-0.9zM79.6 346.1h0.9v0.9h-0.9zM78.0 334.4h0.9v0.9h-0.9zM80.2 351.8h0.9v0.9h-0.9zM77.7 327.8h0.9v0.9h-0.9zM80.2 334.9h0.9v0.9h-0.9zM79.7 330.2h0.9v0.9h-0.9zM78.9 338.3h0.9v0.9h-0.9zM79.9 336.3h0.9v0.9h-0.9zM76.7 333.0h0.9v0.9h-0.9zM79.5 359.5h0.9v0.9h-0.9zM78.9 349.4h0.9v0.9h-0.9zM77.4 335.5h0.9v0.9h-0.9zM76.6 359.7h0.9v0.9h-0.9zM76.5 347.0h0.9v0.9h-0.9zM77.7 332.5h0.9v0.9h-0.9zM78.0 357.8h0.9v0.9h-0.9zM77.3 331.8h0.9v0.9h-0.9zM78.8 348.5h0.9v0.9h-0.9zM78.3 332.3h0.9v0.9h-0.9zM79.8 330.0h0.9v0.9h-0.9zM77.0 334.4h0.9v0.9h-0.9zM78.4 342.4h0.9v0.9h-0.9zM78.5 350.9h0.9v0.9h-0.9zM79.9 342.1h0.9v0.9h-0.9zM76.5 354.4h0.9v0.9h-0.9zM76.4 337.0h0.9v0.9h-0.9zM76.9 346.7h0.9v0.9h-0.9zM79.4 330.6h0.9v0.9h-0.9zM77.5 355.1h0.9v0.9h-0.9zM79.1 329.9h0.9v0.9h-0.9zM79.0 353.2h0.9v0.9h-0.9zM77.9 331.5h0.9v0.9h-0.9zM78.9 337.1h0.9v0.9h-0.9zM76.8 331.8h0.9v0.9h-0.9zM77.9 330.5h0.9v0.9h-0.9zM77.8 344.9h0.9v0.9h-0.9zM78.5 339.9h0.9v0.9h-0.9zM79.5 329.2h0.9v0.9h-0.9zM77.6 357.9h0.9v0.9h-0.9zM79.8 357.5h0.9v0.9h-0.9zM79.4 344.4h0.9v0.9h-0.9zM79.5 345.7h0.9v0.9h-0.9zM76.8 334.9h0.9v0.9h-0.9zM76.7 356.0h0.9v0.9h-0.9zM77.6 340.1h0.9v0.9h-0.9zM78.5 329.6h0.9v0.9h-0.9zM79.1 353.2h0.9v0.9h-0.9zM79.5 356.2h0.9v0.9h-0.9zM77.6 331.1h0.9v0.9h-0.9zM79.3 349.8h0.9v0.9h-0.9zM77.8 337.9h0.9v0.9h-0.9zM76.9 354.5h0.9v0.9h-0.9zM78.1 353.8h0.9v0.9h-0.9zM77.7 337.1h0.9v0.9h-0.9zM78.4 351.6h0.9v0.9h-0.9zM79.8 338.2h0.9v0.9h-0.9zM79.1 339.9h0.9v0.9h-0.9zM79.7 352.0h0.9v0.9h-0.9zM78.5 338.5h0.9v0.9h-0.9zM77.4 356.3h0.9v0.9h-0.9zM79.5 336.6h0.9v0.9h-0.9zM76.6 332.8h0.9v0.9h-0.9zM80.2 327.5h0.9v0.9h-0.9zM79.5 344.2h0.9v0.9h-0.9zM78.5 344.5h0.9v0.9h-0.9zM77.9 345.1h0.9v0.9h-0.9zM76.7 357.5h0.9v0.9h-0.9zM76.7 330.9h0.9v0.9h-0.9zM79.0 348.0h0.9v0.9h-0.9zM79.5 349.7h0.9v0.9h-0.9zM80.0 328.0h0.9v0.9h-0.9zM76.3 334.3h0.9v0.9h-0.9zM79.4 331.4h0.9v0.9h-0.9zM78.4 352.4h0.9v0.9h-0.9zM76.9 344.1h0.9v0.9h-0.9zM79.9 351.6h0.9v0.9h-0.9zM77.9 342.5h0.9v0.9h-0.9zM77.4 358.9h0.9v0.9h-0.9zM79.4 349.3h0.9v0.9h-0.9zM77.5 351.1h0.9v0.9h-0.9zM78.2 353.3h0.9v0.9h-0.9zM77.8 356.2h0.9v0.9h-0.9zM79.0 341.5h0.9v0.9h-0.9zM78.6 353.6h0.9v0.9h-0.9zM78.4 358.8h0.9v0.9h-0.9zM76.3 356.7h0.9v0.9h-0.9zM79.2 342.8h0.9v0.9h-0.9zM79.7 331.3h0.9v0.9h-0.9zM77.7 350.5h0.9v0.9h-0.9zM79.6 338.9h0.9v0.9h-0.9zM80.3 348.3h0.9v0.9h-0.9zM76.5 330.4h0.9v0.9h-0.9zM76.6 345.6h0.9v0.9h-0.9zM77.6 335.1h0.9v0.9h-0.9zM78.1 328.9h0.9v0.9h-0.9zM79.9 354.7h0.9v0.9h-0.9zM78.5 341.3h0.9v0.9h-0.9zM77.5 346.7h0.9v0.9h-0.9zM77.7 359.4h0.9v0.9h-0.9zM80.1 350.9h0.9v0.9h-0.9zM79.6 328.8h0.9v0.9h-0.9zM76.8 337.9h0.9v0.9h-0.9zM76.8 340.6h0.9v0.9h-0.9zM80.2 354.6h0.9v0.9h-0.9zM80.1 333.7h0.9v0.9h-0.9zM77.2 327.0h0.9v0.9h-0.9zM77.4 328.1h0.9v0.9h-0.9zM78.4 336.4h0.9v0.9h-0.9zM79.0 345.3h0.9v0.9h-0.9zM78.7 336.4h0.9v0.9h-0.9zM79.2 349.6h0.9v0.9h-0.9zM79.2 342.2h0.9v0.9h-0.9zM78.2 335.9h0.9v0.9h-0.9zM76.5 342.0h0.9v0.9h-0.9zM78.8 332.5h0.9v0.9h-0.9zM79.7 356.1h0.9v0.9h-0.9zM79.7 353.9h0.9v0.9h-0.9zM78.3 332.2h0.9v0.9h-0.9zM77.4 351.3h0.9v0.9h-0.9zM80.2 330.0h0.9v0.9h-0.9zM76.3 338.2h0.9v0.9h-0.9zM77.7 346.5h0.9v0.9h-0.9zM76.7 354.9h0.9v0.9h-0.9zM77.7 357.1h0.9v0.9h-0.9zM77.6 336.6h0.9v0.9h-0.9zM77.0 359.0h0.9v0.9h-0.9zM78.7 354.3h0.9v0.9h-0.9zM76.6 344.7h0.9v0.9h-0.9zM79.2 359.7h0.9v0.9h-0.9zM80.0 329.7h0.9v0.9h-0.9zM77.8 360.2h0.9v0.9h-0.9zM78.4 358.7h0.9v0.9h-0.9zM77.3 327.1h0.9v0.9h-0.9zM80.1 335.2h0.9v0.9h-0.9zM78.5 338.5h0.9v0.9h-0.9zM78.6 357.9h0.9v0.9h-0.9zM80.1 356.0h0.9v0.9h-0.9zM77.3 354.1h0.9v0.9h-0.9zM76.4 340.4h0.9v0.9h-0.9zM80.1 334.9h0.9v0.9h-0.9zM77.8 346.0h0.9v0.9h-0.9zM77.2 350.3h0.9v0.9h-0.9zM78.9 329.4h0.9v0.9h-0.9zM80.0 328.6h0.9v0.9h-0.9zM79.1 338.0h0.9v0.9h-0.9zM76.9 328.9h0.9v0.9h-0.9zM80.3 353.4h0.9v0.9h-0.9zM78.1 353.2h0.9v0.9h-0.9zM80.2 357.7h0.9v0.9h-0.9zM78.4 335.5h0.9v0.9h-0.9zM78.4 359.6h0.9v0.9h-0.9zM79.2 349.0h0.9v0.9h-0.9zM79.7 340.1h0.9v0.9h-0.9zM78.5 355.1h0.9v0.9h-0.9zM77.1 355.4h0.9v0.9h-0.9zM76.4 344.5h0.9v0.9h-0.9zM78.6 331.2h0.9v0.9h-0.9zM80.0 341.1h0.9v0.9h-0.9zM77.0 340.2h0.9v0.9h-0.9zM78.7 340.8h0.9v0.9h-0.9zM76.3 329.3h0.9v0.9h-0.9zM79.2 330.7h0.9v0.9h-0.9zM77.3 353.7h0.9v0.9h-0.9zM79.7 356.2h0.9v0.9h-0.9zM77.0 326.4h0.9v0.9h-0.9zM79.3 346.6h0.9v0.9h-0.9zM77.8 326.8h0.9v0.9h-0.9zM78.0 334.3h0.9v0.9h-0.9zM78.7 359.5h0.9v0.9h-0.9zM77.1 328.8h0.9v0.9h-0.9zM79.1 329.9h0.9v0.9h-0.9zM77.2 341.1h0.9v0.9h-0.9zM80.2 337.2h0.9v0.9h-0.9zM77.6 342.4h0.9v0.9h-0.9zM76.9 339.9h0.9v0.9h-0.9z" fill="#0a1cff" fill-opacity="0.65"/>
<g filter="url(#b6)" transform="rotate(0 78.20 345.20)"><ellipse cx="78.20" cy="345.20" rx="1.4" ry="15" fill="#2a3cff"/></g>
<path d="M87.8 334.1h0.9v0.9h-0.9zM92.0 334.1h0.9v0.9h-0.9zM101.7 338.6h0.9v0.9h-0.9zM72.9 344.4h0.9v0.9h-0.9zM103.5 339.0h0.9v0.9h-0.9zM86.1 334.4h0.9v0.9h-0.9zM100.4 339.6h0.9v0.9h-0.9zM90.4 332.1h0.9v0.9h-0.9zM78.1 341.4h0.9v0.9h-0.9zM83.2 335.9h0.9v0.9h-0.9zM95.9 340.8h0.9v0.9h-0.9zM72.6 338.4h0.9v0.9h-0.9zM102.1 334.4h0.9v0.9h-0.9zM88.7 340.6h0.9v0.9h-0.9zM80.0 334.2h0.9v0.9h-0.9zM92.7 343.9h0.9v0.9h-0.9zM99.7 335.2h0.9v0.9h-0.9zM99.3 333.4h0.9v0.9h-0.9zM79.2 332.4h0.9v0.9h-0.9zM94.2 340.5h0.9v0.9h-0.9zM94.2 336.3h0.9v0.9h-0.9zM88.6 342.7h0.9v0.9h-0.9zM89.2 331.1h0.9v0.9h-0.9zM102.2 331.7h0.9v0.9h-0.9zM94.4 336.4h0.9v0.9h-0.9zM100.3 336.2h0.9v0.9h-0.9zM101.8 335.7h0.9v0.9h-0.9zM86.5 335.9h0.9v0.9h-0.9zM95.8 332.3h0.9v0.9h-0.9zM98.8 334.3h0.9v0.9h-0.9zM82.1 335.3h0.9v0.9h-0.9zM91.5 345.1h0.9v0.9h-0.9zM97.7 335.8h0.9v0.9h-0.9zM85.1 347.2h0.9v0.9h-0.9zM88.6 337.7h0.9v0.9h-0.9zM88.7 343.8h0.9v0.9h-0.9zM92.1 334.9h0.9v0.9h-0.9zM91.6 332.5h0.9v0.9h-0.9zM81.8 338.6h0.9v0.9h-0.9zM67.4 348.0h0.9v0.9h-0.9zM107.0 328.5h0.9v0.9h-0.9zM88.2 330.7h0.9v0.9h-0.9zM92.7 337.8h0.9v0.9h-0.9zM96.1 330.0h0.9v0.9h-0.9zM85.2 335.6h0.9v0.9h-0.9zM91.1 347.5h0.9v0.9h-0.9zM89.2 337.4h0.9v0.9h-0.9zM87.4 341.6h0.9v0.9h-0.9zM114.2 337.1h0.9v0.9h-0.9zM103.1 329.5h0.9v0.9h-0.9zM100.1 335.2h0.9v0.9h-0.9zM102.8 339.3h0.9v0.9h-0.9zM95.0 328.7h0.9v0.9h-0.9zM91.7 334.8h0.9v0.9h-0.9zM94.9 336.5h0.9v0.9h-0.9zM98.4 328.2h0.9v0.9h-0.9zM84.5 338.3h0.9v0.9h-0.9zM93.4 334.8h0.9v0.9h-0.9zM90.8 337.5h0.9v0.9h-0.9zM99.9 334.6h0.9v0.9h-0.9zM91.3 328.9h0.9v0.9h-0.9zM67.0 336.1h0.9v0.9h-0.9zM91.8 326.6h0.9v0.9h-0.9zM94.4 336.0h0.9v0.9h-0.9zM90.3 334.1h0.9v0.9h-0.9zM88.2 341.6h0.9v0.9h-0.9zM94.1 336.4h0.9v0.9h-0.9zM87.0 339.1h0.9v0.9h-0.9zM101.2 334.7h0.9v0.9h-0.9zM86.7 332.9h0.9v0.9h-0.9zM90.9 333.1h0.9v0.9h-0.9zM79.5 343.8h0.9v0.9h-0.9zM83.6 329.7h0.9v0.9h-0.9zM86.6 346.6h0.9v0.9h-0.9zM88.8 331.7h0.9v0.9h-0.9zM82.2 342.5h0.9v0.9h-0.9zM94.7 337.3h0.9v0.9h-0.9zM89.8 339.7h0.9v0.9h-0.9zM104.8 336.2h0.9v0.9h-0.9zM88.2 331.5h0.9v0.9h-0.9zM96.4 343.1h0.9v0.9h-0.9zM95.3 330.5h0.9v0.9h-0.9zM93.9 342.4h0.9v0.9h-0.9zM86.0 340.6h0.9v0.9h-0.9zM103.1 341.8h0.9v0.9h-0.9zM75.5 332.8h0.9v0.9h-0.9zM94.9 339.5h0.9v0.9h-0.9zM87.9 337.8h0.9v0.9h-0.9zM88.7 343.2h0.9v0.9h-0.9zM72.2 342.7h0.9v0.9h-0.9zM79.3 336.8h0.9v0.9h-0.9zM76.9 336.3h0.9v0.9h-0.9zM90.8 337.4h0.9v0.9h-0.9zM106.2 332.7h0.9v0.9h-0.9zM94.3 338.0h0.9v0.9h-0.9zM94.7 343.0h0.9v0.9h-0.9zM92.3 337.6h0.9v0.9h-0.9zM90.0 337.4h0.9v0.9h-0.9zM91.5 341.6h0.9v0.9h-0.9zM91.2 337.5h0.9v0.9h-0.9zM91.3 340.6h0.9v0.9h-0.9zM87.9 342.2h0.9v0.9h-0.9zM86.7 341.3h0.9v0.9h-0.9zM107.8 334.4h0.9v0.9h-0.9zM89.1 332.3h0.9v0.9h-0.9zM97.4 335.8h0.9v0.9h-0.9zM98.2 332.5h0.9v0.9h-0.9zM97.3 344.0h0.9v0.9h-0.9zM94.2 335.0h0.9v0.9h-0.9zM79.7 339.8h0.9v0.9h-0.9zM97.3 338.5h0.9v0.9h-0.9zM80.3 335.0h0.9v0.9h-0.9zM81.5 334.7h0.9v0.9h-0.9zM88.9 338.9h0.9v0.9h-0.9zM107.8 334.2h0.9v0.9h-0.9zM101.9 327.2h0.9v0.9h-0.9zM105.1 337.6h0.9v0.9h-0.9zM95.6 339.9h0.9v0.9h-0.9zM98.3 344.2h0.9v0.9h-0.9zM96.2 328.1h0.9v0.9h-0.9zM77.5 347.7h0.9v0.9h-0.9zM91.6 343.1h0.9v0.9h-0.9zM87.4 335.0h0.9v0.9h-0.9zM88.3 339.2h0.9v0.9h-0.9zM92.0 334.1h0.9v0.9h-0.9zM96.3 338.8h0.9v0.9h-0.9zM81.9 334.2h0.9v0.9h-0.9zM73.7 339.8h0.9v0.9h-0.9zM90.4 334.2h0.9v0.9h-0.9zM85.7 337.8h0.9v0.9h-0.9zM91.8 339.6h0.9v0.9h-0.9zM98.6 337.4h0.9v0.9h-0.9zM99.7 330.8h0.9v0.9h-0.9zM96.6 337.6h0.9v0.9h-0.9zM81.3 336.4h0.9v0.9h-0.9zM94.9 336.6h0.9v0.9h-0.9zM79.6 337.3h0.9v0.9h-0.9zM105.1 337.8h0.9v0.9h-0.9zM93.1 342.9h0.9v0.9h-0.9zM83.0 338.3h0.9v0.9h-0.9zM99.0 333.8h0.9v0.9h-0.9zM81.9 342.0h0.9v0.9h-0.9zM102.3 323.0h0.9v0.9h-0.9zM91.1 331.5h0.9v0.9h-0.9zM87.0 331.7h0.9v0.9h-0.9zM112.9 329.1h0.9v0.9h-0.9zM90.7 334.1h0.9v0.9h-0.9zM82.0 337.2h0.9v0.9h-0.9zM94.6 344.4h0.9v0.9h-0.9zM95.1 343.4h0.9v0.9h-0.9zM81.8 339.6h0.9v0.9h-0.9zM85.6 331.3h0.9v0.9h-0.9zM123.1 328.7h0.9v0.9h-0.9zM92.4 333.4h0.9v0.9h-0.9zM85.0 333.9h0.9v0.9h-0.9zM99.5 333.4h0.9v0.9h-0.9zM89.9 338.3h0.9v0.9h-0.9zM80.6 340.7h0.9v0.9h-0.9zM90.0 339.5h0.9v0.9h-0.9zM87.7 338.1h0.9v0.9h-0.9z" fill="#0a1cff" fill-opacity="0.5"/>
<path d="M95.6 364.7h0.9v0.9h-0.9zM84.9 364.7h0.9v0.9h-0.9zM82.2 361.7h0.9v0.9h-0.9zM92.2 362.6h0.9v0.9h-0.9zM68.8 359.7h0.9v0.9h-0.9zM89.4 364.6h0.9v0.9h-0.9zM84.7 366.1h0.9v0.9h-0.9zM75.0 362.4h0.9v0.9h-0.9zM95.8 362.2h0.9v0.9h-0.9zM93.3 364.6h0.9v0.9h-0.9zM83.8 363.7h0.9v0.9h-0.9zM100.5 361.6h0.9v0.9h-0.9zM70.4 359.1h0.9v0.9h-0.9zM83.4 359.5h0.9v0.9h-0.9zM94.8 360.1h0.9v0.9h-0.9zM113.1 363.7h0.9v0.9h-0.9zM79.4 361.5h0.9v0.9h-0.9zM104.6 363.9h0.9v0.9h-0.9zM81.9 364.9h0.9v0.9h-0.9zM86.8 367.9h0.9v0.9h-0.9zM86.1 363.7h0.9v0.9h-0.9zM96.0 361.1h0.9v0.9h-0.9zM89.6 365.2h0.9v0.9h-0.9zM95.4 362.0h0.9v0.9h-0.9zM95.0 366.7h0.9v0.9h-0.9zM99.3 363.4h0.9v0.9h-0.9zM93.9 358.2h0.9v0.9h-0.9zM92.2 360.9h0.9v0.9h-0.9zM97.5 360.6h0.9v0.9h-0.9zM95.0 359.5h0.9v0.9h-0.9zM99.0 360.3h0.9v0.9h-0.9zM90.7 363.7h0.9v0.9h-0.9zM88.1 362.2h0.9v0.9h-0.9zM100.4 366.7h0.9v0.9h-0.9zM74.9 359.9h0.9v0.9h-0.9zM97.0 364.6h0.9v0.9h-0.9zM86.8 362.4h0.9v0.9h-0.9zM89.3 368.0h0.9v0.9h-0.9zM89.2 359.1h0.9v0.9h-0.9zM77.2 358.9h0.9v0.9h-0.9zM102.6 361.2h0.9v0.9h-0.9zM108.3 363.8h0.9v0.9h-0.9zM94.4 363.9h0.9v0.9h-0.9zM98.0 364.6h0.9v0.9h-0.9zM82.3 360.8h0.9v0.9h-0.9zM86.1 362.5h0.9v0.9h-0.9zM88.8 359.0h0.9v0.9h-0.9zM84.8 366.8h0.9v0.9h-0.9zM109.9 360.0h0.9v0.9h-0.9zM94.4 362.1h0.9v0.9h-0.9zM83.5 364.0h0.9v0.9h-0.9zM90.4 366.5h0.9v0.9h-0.9zM95.1 361.4h0.9v0.9h-0.9zM67.5 361.9h0.9v0.9h-0.9zM98.5 360.4h0.9v0.9h-0.9zM98.9 364.0h0.9v0.9h-0.9zM75.3 361.7h0.9v0.9h-0.9zM93.9 364.1h0.9v0.9h-0.9zM92.4 362.2h0.9v0.9h-0.9zM87.9 361.5h0.9v0.9h-0.9zM91.0 359.5h0.9v0.9h-0.9zM96.7 361.4h0.9v0.9h-0.9zM95.6 360.9h0.9v0.9h-0.9zM94.7 362.5h0.9v0.9h-0.9zM98.9 363.4h0.9v0.9h-0.9zM99.3 361.8h0.9v0.9h-0.9zM90.5 361.5h0.9v0.9h-0.9zM79.8 361.9h0.9v0.9h-0.9zM100.7 364.2h0.9v0.9h-0.9zM83.4 363.0h0.9v0.9h-0.9zM97.7 358.7h0.9v0.9h-0.9zM94.1 363.0h0.9v0.9h-0.9zM97.7 362.9h0.9v0.9h-0.9zM75.5 357.0h0.9v0.9h-0.9zM108.6 361.2h0.9v0.9h-0.9zM102.3 365.4h0.9v0.9h-0.9zM91.8 359.3h0.9v0.9h-0.9zM103.2 362.1h0.9v0.9h-0.9zM95.6 363.4h0.9v0.9h-0.9zM99.5 364.8h0.9v0.9h-0.9zM78.4 358.6h0.9v0.9h-0.9zM92.3 362.2h0.9v0.9h-0.9zM97.9 361.9h0.9v0.9h-0.9zM89.4 367.4h0.9v0.9h-0.9zM103.2 365.2h0.9v0.9h-0.9zM100.2 360.2h0.9v0.9h-0.9zM90.2 362.0h0.9v0.9h-0.9zM81.3 360.0h0.9v0.9h-0.9zM92.4 359.1h0.9v0.9h-0.9zM95.8 363.4h0.9v0.9h-0.9zM88.9 361.3h0.9v0.9h-0.9zM96.4 363.4h0.9v0.9h-0.9zM94.3 359.1h0.9v0.9h-0.9zM76.6 367.4h0.9v0.9h-0.9zM85.2 361.3h0.9v0.9h-0.9zM74.8 360.2h0.9v0.9h-0.9zM84.5 364.2h0.9v0.9h-0.9zM67.5 358.6h0.9v0.9h-0.9zM87.3 360.9h0.9v0.9h-0.9zM84.1 361.1h0.9v0.9h-0.9zM77.0 362.9h0.9v0.9h-0.9zM101.6 362.6h0.9v0.9h-0.9zM86.2 365.4h0.9v0.9h-0.9zM95.3 359.6h0.9v0.9h-0.9zM85.9 360.6h0.9v0.9h-0.9zM90.6 365.3h0.9v0.9h-0.9zM84.7 361.8h0.9v0.9h-0.9zM92.0 359.2h0.9v0.9h-0.9zM86.8 363.8h0.9v0.9h-0.9zM101.1 357.4h0.9v0.9h-0.9zM97.3 361.5h0.9v0.9h-0.9zM102.5 363.8h0.9v0.9h-0.9zM108.5 363.0h0.9v0.9h-0.9zM87.5 360.1h0.9v0.9h-0.9zM78.3 363.6h0.9v0.9h-0.9zM95.6 364.3h0.9v0.9h-0.9zM94.1 358.4h0.9v0.9h-0.9zM87.4 361.6h0.9v0.9h-0.9zM92.4 364.2h0.9v0.9h-0.9zM103.6 362.9h0.9v0.9h-0.9zM72.7 359.6h0.9v0.9h-0.9zM72.0 360.2h0.9v0.9h-0.9zM80.3 362.8h0.9v0.9h-0.9zM89.0 365.0h0.9v0.9h-0.9zM100.6 361.0h0.9v0.9h-0.9zM99.4 362.2h0.9v0.9h-0.9zM95.1 365.6h0.9v0.9h-0.9zM80.8 362.0h0.9v0.9h-0.9zM104.7 360.3h0.9v0.9h-0.9zM92.9 362.5h0.9v0.9h-0.9zM87.3 358.9h0.9v0.9h-0.9zM84.9 359.7h0.9v0.9h-0.9zM100.6 362.8h0.9v0.9h-0.9zM97.2 359.2h0.9v0.9h-0.9zM95.5 362.6h0.9v0.9h-0.9zM100.3 360.4h0.9v0.9h-0.9zM98.2 365.7h0.9v0.9h-0.9zM107.0 359.8h0.9v0.9h-0.9zM81.0 358.5h0.9v0.9h-0.9zM99.6 363.7h0.9v0.9h-0.9z" fill="#0a1cff" fill-opacity="0.5"/>
<g filter="url(#b6)" transform="rotate(-13 91.80 336.70)"><ellipse cx="91.80" cy="336.70" rx="11" ry="5.4" fill="#0a1cff"/><ellipse cx="92.80" cy="336.50" rx="9" ry="4.2" fill="#1038ff"/><ellipse cx="94.30" cy="336.30" rx="7" ry="3.1" fill="#1a80ff"/><ellipse cx="95.30" cy="336.20" rx="5.2" ry="2.2" fill="#00c8ff"/><ellipse cx="96.00" cy="336.10" rx="3" ry="1.2" fill="#60f0ff"/></g>
<g filter="url(#b6)" transform="rotate(-2 92.50 362.20)"><ellipse cx="92.50" cy="362.20" rx="12" ry="3.2" fill="#0a1cff"/><ellipse cx="95.50" cy="362.20" rx="8" ry="2.4" fill="#1a70ff"/><ellipse cx="97.50" cy="362.20" rx="5.2" ry="1.8" fill="#00c8ff"/><ellipse cx="98.50" cy="362.20" rx="2.6" ry="1.1" fill="#50f0d0"/></g>
<g filter="url(#b5)" transform="rotate(0 78.20 361.50)"><ellipse cx="78.20" cy="361.50" rx="3.2" ry="5.2" fill="#0a1cff"/><ellipse cx="78.20" cy="361.50" rx="2.6" ry="4.2" fill="#1a80ff"/><ellipse cx="78.20" cy="361.50" rx="2.2" ry="3.4" fill="#00c8ff"/><ellipse cx="78.20" cy="361.50" rx="1.7" ry="2.6" fill="#33e04a"/><ellipse cx="78.20" cy="361.50" rx="1.1" ry="1.6" fill="#f2e600"/><ellipse cx="78.20" cy="361.50" rx="0.55" ry="0.75" fill="#ff1a00"/></g>
<path d="M99.4 416.1h0.9v0.9h-0.9zM83.0 426.6h0.9v0.9h-0.9zM96.8 409.4h0.9v0.9h-0.9zM81.1 420.4h0.9v0.9h-0.9zM102.9 421.7h0.9v0.9h-0.9zM101.0 411.4h0.9v0.9h-0.9zM93.6 412.9h0.9v0.9h-0.9zM87.6 412.3h0.9v0.9h-0.9zM90.9 410.2h0.9v0.9h-0.9zM95.6 422.2h0.9v0.9h-0.9zM101.7 424.7h0.9v0.9h-0.9zM81.4 426.7h0.9v0.9h-0.9zM92.8 428.0h0.9v0.9h-0.9zM91.6 410.9h0.9v0.9h-0.9zM96.8 412.8h0.9v0.9h-0.9zM103.6 420.1h0.9v0.9h-0.9zM101.6 419.2h0.9v0.9h-0.9zM87.5 422.5h0.9v0.9h-0.9zM96.9 418.5h0.9v0.9h-0.9zM86.3 417.7h0.9v0.9h-0.9zM97.0 413.9h0.9v0.9h-0.9zM83.4 419.0h0.9v0.9h-0.9zM95.6 410.6h0.9v0.9h-0.9zM86.2 428.7h0.9v0.9h-0.9zM86.0 424.7h0.9v0.9h-0.9zM87.0 411.0h0.9v0.9h-0.9zM91.4 426.7h0.9v0.9h-0.9zM98.5 410.3h0.9v0.9h-0.9zM96.7 421.7h0.9v0.9h-0.9zM91.3 422.6h0.9v0.9h-0.9zM92.3 413.0h0.9v0.9h-0.9zM96.5 411.9h0.9v0.9h-0.9zM87.1 426.3h0.9v0.9h-0.9zM93.4 419.5h0.9v0.9h-0.9zM96.9 419.1h0.9v0.9h-0.9zM88.9 420.3h0.9v0.9h-0.9zM80.0 416.3h0.9v0.9h-0.9zM80.5 429.2h0.9v0.9h-0.9zM101.7 422.4h0.9v0.9h-0.9zM83.4 426.4h0.9v0.9h-0.9zM86.4 425.4h0.9v0.9h-0.9zM95.5 421.4h0.9v0.9h-0.9zM97.7 414.6h0.9v0.9h-0.9zM99.9 420.2h0.9v0.9h-0.9zM98.0 426.1h0.9v0.9h-0.9zM85.7 417.5h0.9v0.9h-0.9zM88.4 410.8h0.9v0.9h-0.9zM101.0 423.0h0.9v0.9h-0.9zM91.5 420.2h0.9v0.9h-0.9zM101.1 410.7h0.9v0.9h-0.9zM88.3 423.0h0.9v0.9h-0.9zM92.6 419.2h0.9v0.9h-0.9zM85.8 413.8h0.9v0.9h-0.9zM95.9 416.1h0.9v0.9h-0.9zM102.5 427.3h0.9v0.9h-0.9zM103.3 414.8h0.9v0.9h-0.9zM92.1 411.4h0.9v0.9h-0.9zM88.3 410.8h0.9v0.9h-0.9zM91.8 428.4h0.9v0.9h-0.9zM98.2 416.6h0.9v0.9h-0.9zM86.3 427.9h0.9v0.9h-0.9zM80.8 426.2h0.9v0.9h-0.9zM100.5 410.7h0.9v0.9h-0.9zM102.8 422.2h0.9v0.9h-0.9zM89.0 417.8h0.9v0.9h-0.9zM94.4 419.8h0.9v0.9h-0.9zM100.8 427.2h0.9v0.9h-0.9zM87.5 409.5h0.9v0.9h-0.9zM98.6 422.3h0.9v0.9h-0.9zM95.5 410.8h0.9v0.9h-0.9zM81.4 427.3h0.9v0.9h-0.9zM88.4 418.8h0.9v0.9h-0.9zM103.3 413.2h0.9v0.9h-0.9zM95.1 410.5h0.9v0.9h-0.9zM93.2 424.1h0.9v0.9h-0.9zM83.4 424.5h0.9v0.9h-0.9zM103.2 425.8h0.9v0.9h-0.9zM98.9 428.2h0.9v0.9h-0.9zM97.1 420.3h0.9v0.9h-0.9zM99.7 425.4h0.9v0.9h-0.9zM94.9 422.7h0.9v0.9h-0.9zM83.9 416.1h0.9v0.9h-0.9zM87.5 426.5h0.9v0.9h-0.9zM98.6 415.1h0.9v0.9h-0.9zM103.9 410.5h0.9v0.9h-0.9zM81.0 415.9h0.9v0.9h-0.9zM81.4 428.3h0.9v0.9h-0.9zM88.3 417.1h0.9v0.9h-0.9zM100.4 420.0h0.9v0.9h-0.9zM94.9 418.1h0.9v0.9h-0.9zM90.8 428.4h0.9v0.9h-0.9zM86.3 419.8h0.9v0.9h-0.9zM91.2 412.1h0.9v0.9h-0.9zM83.1 419.4h0.9v0.9h-0.9zM99.1 417.9h0.9v0.9h-0.9zM80.9 428.0h0.9v0.9h-0.9zM82.9 427.0h0.9v0.9h-0.9zM80.6 422.3h0.9v0.9h-0.9zM83.1 414.5h0.9v0.9h-0.9zM89.8 424.4h0.9v0.9h-0.9zM90.2 417.7h0.9v0.9h-0.9zM89.4 419.7h0.9v0.9h-0.9zM86.4 428.4h0.9v0.9h-0.9zM84.2 412.0h0.9v0.9h-0.9zM92.9 416.3h0.9v0.9h-0.9zM97.2 410.1h0.9v0.9h-0.9zM96.1 416.6h0.9v0.9h-0.9zM102.2 415.3h0.9v0.9h-0.9zM90.1 415.6h0.9v0.9h-0.9zM92.6 414.9h0.9v0.9h-0.9zM95.9 417.5h0.9v0.9h-0.9zM96.8 415.1h0.9v0.9h-0.9zM90.7 420.4h0.9v0.9h-0.9zM97.1 422.3h0.9v0.9h-0.9zM90.0 411.0h0.9v0.9h-0.9zM82.2 412.2h0.9v0.9h-0.9zM84.0 413.0h0.9v0.9h-0.9zM95.7 416.1h0.9v0.9h-0.9zM101.7 414.0h0.9v0.9h-0.9zM85.5 413.0h0.9v0.9h-0.9zM83.0 422.9h0.9v0.9h-0.9zM93.7 414.3h0.9v0.9h-0.9zM99.4 422.8h0.9v0.9h-0.9zM90.0 421.5h0.9v0.9h-0.9zM95.6 418.1h0.9v0.9h-0.9zM81.7 416.6h0.9v0.9h-0.9zM102.7 416.8h0.9v0.9h-0.9zM95.2 411.1h0.9v0.9h-0.9zM98.5 426.6h0.9v0.9h-0.9zM88.6 416.7h0.9v0.9h-0.9zM92.1 414.3h0.9v0.9h-0.9zM84.6 411.9h0.9v0.9h-0.9zM96.3 419.5h0.9v0.9h-0.9zM102.9 428.5h0.9v0.9h-0.9zM100.9 428.2h0.9v0.9h-0.9zM100.0 409.8h0.9v0.9h-0.9zM82.7 428.8h0.9v0.9h-0.9zM100.9 421.6h0.9v0.9h-0.9zM94.7 418.0h0.9v0.9h-0.9zM89.9 412.2h0.9v0.9h-0.9zM92.9 414.8h0.9v0.9h-0.9zM82.5 426.7h0.9v0.9h-0.9zM93.6 426.8h0.9v0.9h-0.9zM86.7 420.8h0.9v0.9h-0.9zM86.3 425.9h0.9v0.9h-0.9zM84.6 422.3h0.9v0.9h-0.9zM93.1 415.8h0.9v0.9h-0.9zM81.5 419.0h0.9v0.9h-0.9zM92.3 425.7h0.9v0.9h-0.9zM84.5 413.0h0.9v0.9h-0.9zM87.0 425.3h0.9v0.9h-0.9zM85.2 422.0h0.9v0.9h-0.9zM80.3 410.9h0.9v0.9h-0.9zM96.9 419.2h0.9v0.9h-0.9zM82.3 418.8h0.9v0.9h-0.9zM102.5 417.1h0.9v0.9h-0.9zM93.1 417.7h0.9v0.9h-0.9zM91.9 410.2h0.9v0.9h-0.9zM101.1 420.9h0.9v0.9h-0.9zM88.0 415.0h0.9v0.9h-0.9zM84.1 428.0h0.9v0.9h-0.9zM100.1 416.9h0.9v0.9h-0.9zM94.3 420.3h0.9v0.9h-0.9zM84.4 410.0h0.9v0.9h-0.9zM97.5 412.6h0.9v0.9h-0.9zM93.3 409.6h0.9v0.9h-0.9zM80.0 412.6h0.9v0.9h-0.9zM95.5 421.6h0.9v0.9h-0.9zM103.8 422.5h0.9v0.9h-0.9zM92.3 409.6h0.9v0.9h-0.9zM103.0 419.1h0.9v0.9h-0.9zM100.5 410.1h0.9v0.9h-0.9zM100.0 418.8h0.9v0.9h-0.9zM84.8 417.4h0.9v0.9h-0.9zM81.3 420.9h0.9v0.9h-0.9zM84.9 423.3h0.9v0.9h-0.9zM83.8 423.1h0.9v0.9h-0.9zM94.6 423.5h0.9v0.9h-0.9zM102.8 415.2h0.9v0.9h-0.9zM96.2 417.2h0.9v0.9h-0.9zM101.4 425.8h0.9v0.9h-0.9zM98.2 421.3h0.9v0.9h-0.9zM85.9 427.5h0.9v0.9h-0.9zM103.2 428.3h0.9v0.9h-0.9zM87.8 425.7h0.9v0.9h-0.9zM96.1 426.1h0.9v0.9h-0.9zM99.2 418.4h0.9v0.9h-0.9zM89.2 425.2h0.9v0.9h-0.9zM95.5 420.1h0.9v0.9h-0.9zM100.9 409.9h0.9v0.9h-0.9zM79.8 418.6h0.9v0.9h-0.9zM81.9 426.1h0.9v0.9h-0.9zM81.7 426.9h0.9v0.9h-0.9zM85.0 412.0h0.9v0.9h-0.9zM98.0 422.9h0.9v0.9h-0.9zM89.6 421.2h0.9v0.9h-0.9zM93.0 428.3h0.9v0.9h-0.9zM91.9 420.1h0.9v0.9h-0.9zM90.8 417.5h0.9v0.9h-0.9zM96.4 411.5h0.9v0.9h-0.9zM96.5 427.9h0.9v0.9h-0.9zM98.1 420.2h0.9v0.9h-0.9zM88.2 411.3h0.9v0.9h-0.9zM81.8 420.1h0.9v0.9h-0.9zM101.1 426.6h0.9v0.9h-0.9zM84.0 424.3h0.9v0.9h-0.9zM99.3 418.9h0.9v0.9h-0.9zM100.5 413.0h0.9v0.9h-0.9zM87.7 419.6h0.9v0.9h-0.9zM97.3 418.3h0.9v0.9h-0.9zM86.9 426.6h0.9v0.9h-0.9zM89.1 417.7h0.9v0.9h-0.9zM85.0 419.0h0.9v0.9h-0.9zM96.8 416.5h0.9v0.9h-0.9zM95.7 419.2h0.9v0.9h-0.9zM79.8 428.5h0.9v0.9h-0.9zM86.6 420.2h0.9v0.9h-0.9zM103.0 413.4h0.9v0.9h-0.9zM81.1 413.4h0.9v0.9h-0.9zM83.2 426.3h0.9v0.9h-0.9zM92.2 410.1h0.9v0.9h-0.9zM86.2 419.5h0.9v0.9h-0.9zM83.8 415.4h0.9v0.9h-0.9zM101.7 418.2h0.9v0.9h-0.9zM85.2 421.3h0.9v0.9h-0.9zM82.3 419.7h0.9v0.9h-0.9zM95.4 411.1h0.9v0.9h-0.9zM92.9 415.5h0.9v0.9h-0.9zM97.7 421.6h0.9v0.9h-0.9zM101.8 421.4h0.9v0.9h-0.9zM84.0 413.0h0.9v0.9h-0.9zM96.7 425.5h0.9v0.9h-0.9zM81.0 417.6h0.9v0.9h-0.9zM86.4 418.6h0.9v0.9h-0.9zM100.9 420.5h0.9v0.9h-0.9zM97.7 424.6h0.9v0.9h-0.9zM86.3 421.7h0.9v0.9h-0.9zM88.7 418.8h0.9v0.9h-0.9zM92.5 422.6h0.9v0.9h-0.9zM83.6 426.1h0.9v0.9h-0.9zM83.4 415.6h0.9v0.9h-0.9zM100.3 429.0h0.9v0.9h-0.9zM88.5 428.3h0.9v0.9h-0.9zM80.4 428.4h0.9v0.9h-0.9zM84.4 410.0h0.9v0.9h-0.9zM98.2 412.5h0.9v0.9h-0.9zM97.9 409.4h0.9v0.9h-0.9zM82.5 416.5h0.9v0.9h-0.9zM81.6 418.7h0.9v0.9h-0.9zM88.0 424.1h0.9v0.9h-0.9zM91.6 428.6h0.9v0.9h-0.9zM100.2 412.7h0.9v0.9h-0.9zM102.0 427.2h0.9v0.9h-0.9zM93.3 419.8h0.9v0.9h-0.9zM83.7 415.7h0.9v0.9h-0.9zM84.9 413.2h0.9v0.9h-0.9zM94.5 415.8h0.9v0.9h-0.9zM98.3 420.8h0.9v0.9h-0.9zM99.8 411.0h0.9v0.9h-0.9zM100.3 419.5h0.9v0.9h-0.9zM95.0 414.1h0.9v0.9h-0.9zM96.6 417.4h0.9v0.9h-0.9zM97.2 421.0h0.9v0.9h-0.9zM82.9 415.3h0.9v0.9h-0.9zM97.9 409.6h0.9v0.9h-0.9zM95.0 420.2h0.9v0.9h-0.9zM97.0 415.9h0.9v0.9h-0.9zM91.2 418.8h0.9v0.9h-0.9zM97.9 410.8h0.9v0.9h-0.9zM92.0 414.5h0.9v0.9h-0.9zM93.9 414.5h0.9v0.9h-0.9zM84.6 413.9h0.9v0.9h-0.9zM101.4 416.6h0.9v0.9h-0.9zM101.1 424.0h0.9v0.9h-0.9zM86.1 420.4h0.9v0.9h-0.9zM79.7 428.0h0.9v0.9h-0.9zM95.0 411.6h0.9v0.9h-0.9zM92.2 419.2h0.9v0.9h-0.9zM95.9 415.1h0.9v0.9h-0.9zM101.8 421.8h0.9v0.9h-0.9zM81.3 425.7h0.9v0.9h-0.9zM101.2 415.4h0.9v0.9h-0.9zM96.9 426.5h0.9v0.9h-0.9zM101.1 410.7h0.9v0.9h-0.9zM100.0 414.3h0.9v0.9h-0.9zM99.1 423.0h0.9v0.9h-0.9zM90.9 427.3h0.9v0.9h-0.9zM99.2 429.2h0.9v0.9h-0.9zM103.0 420.8h0.9v0.9h-0.9zM97.5 422.7h0.9v0.9h-0.9zM89.3 419.3h0.9v0.9h-0.9zM91.9 413.6h0.9v0.9h-0.9zM85.9 426.2h0.9v0.9h-0.9zM100.2 423.2h0.9v0.9h-0.9zM96.4 419.5h0.9v0.9h-0.9zM93.5 422.6h0.9v0.9h-0.9zM79.7 418.2h0.9v0.9h-0.9zM103.3 413.4h0.9v0.9h-0.9zM91.0 410.9h0.9v0.9h-0.9zM85.7 425.8h0.9v0.9h-0.9zM80.3 425.3h0.9v0.9h-0.9zM99.1 426.7h0.9v0.9h-0.9zM85.8 427.9h0.9v0.9h-0.9zM88.6 418.3h0.9v0.9h-0.9zM102.8 420.2h0.9v0.9h-0.9zM96.2 411.5h0.9v0.9h-0.9zM79.6 414.6h0.9v0.9h-0.9zM82.1 425.8h0.9v0.9h-0.9zM85.6 428.5h0.9v0.9h-0.9zM96.1 413.1h0.9v0.9h-0.9zM96.9 415.7h0.9v0.9h-0.9zM92.4 410.8h0.9v0.9h-0.9zM99.9 425.0h0.9v0.9h-0.9zM93.7 423.1h0.9v0.9h-0.9zM87.8 411.9h0.9v0.9h-0.9zM87.5 424.1h0.9v0.9h-0.9zM93.3 412.0h0.9v0.9h-0.9zM85.4 418.8h0.9v0.9h-0.9zM79.9 410.2h0.9v0.9h-0.9zM90.5 412.0h0.9v0.9h-0.9zM101.3 411.9h0.9v0.9h-0.9zM97.9 425.2h0.9v0.9h-0.9zM87.2 420.1h0.9v0.9h-0.9zM103.8 421.6h0.9v0.9h-0.9zM89.0 428.8h0.9v0.9h-0.9zM85.9 428.4h0.9v0.9h-0.9zM87.1 417.7h0.9v0.9h-0.9zM87.2 422.3h0.9v0.9h-0.9zM101.1 423.1h0.9v0.9h-0.9zM84.0 429.1h0.9v0.9h-0.9zM97.2 419.4h0.9v0.9h-0.9zM100.3 411.4h0.9v0.9h-0.9zM94.2 425.0h0.9v0.9h-0.9zM98.5 422.8h0.9v0.9h-0.9zM81.0 418.9h0.9v0.9h-0.9zM86.1 421.5h0.9v0.9h-0.9zM89.2 418.4h0.9v0.9h-0.9zM92.7 421.1h0.9v0.9h-0.9zM101.3 414.9h0.9v0.9h-0.9zM86.2 413.0h0.9v0.9h-0.9zM82.3 426.3h0.9v0.9h-0.9zM102.0 411.8h0.9v0.9h-0.9zM88.3 427.4h0.9v0.9h-0.9zM100.7 428.9h0.9v0.9h-0.9zM103.8 415.4h0.9v0.9h-0.9zM81.1 414.3h0.9v0.9h-0.9zM91.8 409.6h0.9v0.9h-0.9zM85.7 418.8h0.9v0.9h-0.9zM96.2 412.4h0.9v0.9h-0.9zM82.5 415.9h0.9v0.9h-0.9zM81.7 411.7h0.9v0.9h-0.9zM82.0 425.3h0.9v0.9h-0.9zM101.0 410.2h0.9v0.9h-0.9zM99.2 426.2h0.9v0.9h-0.9zM95.4 415.3h0.9v0.9h-0.9zM99.6 410.9h0.9v0.9h-0.9zM80.6 428.4h0.9v0.9h-0.9zM84.9 427.6h0.9v0.9h-0.9zM98.0 410.2h0.9v0.9h-0.9zM81.8 422.2h0.9v0.9h-0.9zM83.1 422.6h0.9v0.9h-0.9zM96.0 413.9h0.9v0.9h-0.9zM91.2 413.5h0.9v0.9h-0.9zM100.8 421.9h0.9v0.9h-0.9zM96.4 421.7h0.9v0.9h-0.9zM81.0 427.0h0.9v0.9h-0.9zM98.6 419.6h0.9v0.9h-0.9zM94.0 419.1h0.9v0.9h-0.9zM98.0 420.0h0.9v0.9h-0.9zM86.3 419.6h0.9v0.9h-0.9zM84.7 409.4h0.9v0.9h-0.9zM92.3 426.7h0.9v0.9h-0.9zM97.1 413.5h0.9v0.9h-0.9zM92.0 421.0h0.9v0.9h-0.9zM93.7 418.5h0.9v0.9h-0.9zM92.0 423.1h0.9v0.9h-0.9zM101.1 419.6h0.9v0.9h-0.9zM98.7 422.9h0.9v0.9h-0.9zM82.4 414.5h0.9v0.9h-0.9zM87.2 416.4h0.9v0.9h-0.9zM91.5 415.2h0.9v0.9h-0.9zM103.9 424.0h0.9v0.9h-0.9zM88.6 423.3h0.9v0.9h-0.9zM102.2 412.5h0.9v0.9h-0.9zM94.9 428.5h0.9v0.9h-0.9zM88.7 426.8h0.9v0.9h-0.9zM99.2 415.7h0.9v0.9h-0.9zM83.0 425.4h0.9v0.9h-0.9zM89.7 416.3h0.9v0.9h-0.9zM90.9 423.9h0.9v0.9h-0.9zM101.4 427.6h0.9v0.9h-0.9zM98.3 412.8h0.9v0.9h-0.9zM88.5 409.4h0.9v0.9h-0.9zM84.4 416.1h0.9v0.9h-0.9zM83.8 418.8h0.9v0.9h-0.9zM82.7 422.4h0.9v0.9h-0.9zM89.6 414.2h0.9v0.9h-0.9zM96.3 415.9h0.9v0.9h-0.9zM80.1 426.1h0.9v0.9h-0.9zM98.0 426.9h0.9v0.9h-0.9zM86.7 414.6h0.9v0.9h-0.9zM96.6 412.2h0.9v0.9h-0.9zM103.2 422.4h0.9v0.9h-0.9zM92.9 410.3h0.9v0.9h-0.9zM86.4 417.8h0.9v0.9h-0.9zM103.5 412.2h0.9v0.9h-0.9zM94.0 410.9h0.9v0.9h-0.9zM103.3 424.2h0.9v0.9h-0.9zM99.4 424.3h0.9v0.9h-0.9zM83.9 414.1h0.9v0.9h-0.9zM80.5 420.3h0.9v0.9h-0.9zM81.5 413.1h0.9v0.9h-0.9zM83.8 427.7h0.9v0.9h-0.9zM98.8 415.0h0.9v0.9h-0.9zM103.3 412.5h0.9v0.9h-0.9zM82.9 416.9h0.9v0.9h-0.9zM99.2 411.3h0.9v0.9h-0.9zM98.8 420.2h0.9v0.9h-0.9zM99.1 416.0h0.9v0.9h-0.9zM80.5 411.3h0.9v0.9h-0.9zM97.2 419.4h0.9v0.9h-0.9zM98.2 413.3h0.9v0.9h-0.9zM86.3 413.5h0.9v0.9h-0.9zM100.3 423.4h0.9v0.9h-0.9zM83.3 423.8h0.9v0.9h-0.9zM80.4 418.6h0.9v0.9h-0.9zM85.8 424.6h0.9v0.9h-0.9zM97.1 423.0h0.9v0.9h-0.9zM84.3 410.2h0.9v0.9h-0.9zM95.2 423.2h0.9v0.9h-0.9zM79.7 426.1h0.9v0.9h-0.9zM101.5 416.5h0.9v0.9h-0.9zM92.2 422.3h0.9v0.9h-0.9zM102.2 422.3h0.9v0.9h-0.9zM92.1 424.7h0.9v0.9h-0.9zM91.5 410.0h0.9v0.9h-0.9zM92.9 417.6h0.9v0.9h-0.9zM87.7 417.2h0.9v0.9h-0.9zM84.9 415.5h0.9v0.9h-0.9zM97.8 427.0h0.9v0.9h-0.9zM90.7 426.2h0.9v0.9h-0.9zM82.6 419.6h0.9v0.9h-0.9zM97.7 424.9h0.9v0.9h-0.9zM89.0 412.7h0.9v0.9h-0.9zM103.0 421.5h0.9v0.9h-0.9zM95.5 416.2h0.9v0.9h-0.9zM82.3 420.7h0.9v0.9h-0.9zM89.4 427.1h0.9v0.9h-0.9zM95.7 424.4h0.9v0.9h-0.9zM93.5 424.4h0.9v0.9h-0.9zM82.8 429.2h0.9v0.9h-0.9zM93.7 421.2h0.9v0.9h-0.9zM84.1 411.1h0.9v0.9h-0.9zM96.8 423.8h0.9v0.9h-0.9zM95.8 414.4h0.9v0.9h-0.9zM91.4 424.7h0.9v0.9h-0.9zM95.2 427.5h0.9v0.9h-0.9zM81.7 424.8h0.9v0.9h-0.9zM79.8 421.8h0.9v0.9h-0.9zM92.6 410.8h0.9v0.9h-0.9zM89.8 422.7h0.9v0.9h-0.9zM100.7 410.8h0.9v0.9h-0.9zM92.0 425.2h0.9v0.9h-0.9zM82.4 427.2h0.9v0.9h-0.9zM102.5 416.2h0.9v0.9h-0.9zM84.6 412.2h0.9v0.9h-0.9zM84.9 417.7h0.9v0.9h-0.9zM96.8 428.0h0.9v0.9h-0.9zM93.2 428.4h0.9v0.9h-0.9zM90.0 422.5h0.9v0.9h-0.9zM79.5 417.7h0.9v0.9h-0.9zM80.1 411.9h0.9v0.9h-0.9zM99.3 411.6h0.9v0.9h-0.9zM86.8 419.8h0.9v0.9h-0.9zM92.4 409.9h0.9v0.9h-0.9zM82.2 422.8h0.9v0.9h-0.9zM89.4 411.1h0.9v0.9h-0.9zM91.2 416.7h0.9v0.9h-0.9zM104.0 410.3h0.9v0.9h-0.9zM83.9 410.8h0.9v0.9h-0.9zM93.0 428.5h0.9v0.9h-0.9zM98.6 411.5h0.9v0.9h-0.9zM92.7 416.5h0.9v0.9h-0.9zM103.4 423.4h0.9v0.9h-0.9zM94.3 414.4h0.9v0.9h-0.9zM90.2 419.8h0.9v0.9h-0.9zM88.8 420.6h0.9v0.9h-0.9zM81.7 417.7h0.9v0.9h-0.9zM103.7 417.3h0.9v0.9h-0.9zM91.9 424.4h0.9v0.9h-0.9zM99.4 424.0h0.9v0.9h-0.9zM88.8 423.5h0.9v0.9h-0.9zM84.4 421.6h0.9v0.9h-0.9zM79.9 413.2h0.9v0.9h-0.9zM83.8 416.3h0.9v0.9h-0.9zM97.6 409.7h0.9v0.9h-0.9zM101.0 411.1h0.9v0.9h-0.9zM102.8 428.3h0.9v0.9h-0.9zM94.6 426.1h0.9v0.9h-0.9zM102.6 418.3h0.9v0.9h-0.9zM100.5 410.0h0.9v0.9h-0.9zM98.6 422.3h0.9v0.9h-0.9zM98.5 412.3h0.9v0.9h-0.9zM81.5 419.8h0.9v0.9h-0.9zM94.4 423.0h0.9v0.9h-0.9zM83.9 420.7h0.9v0.9h-0.9zM103.2 414.4h0.9v0.9h-0.9zM99.6 428.5h0.9v0.9h-0.9zM96.0 418.1h0.9v0.9h-0.9zM89.7 418.7h0.9v0.9h-0.9zM82.6 410.8h0.9v0.9h-0.9zM86.4 412.8h0.9v0.9h-0.9zM101.5 416.5h0.9v0.9h-0.9zM100.9 420.6h0.9v0.9h-0.9zM101.5 427.2h0.9v0.9h-0.9zM96.9 418.3h0.9v0.9h-0.9zM85.5 420.6h0.9v0.9h-0.9zM87.1 425.9h0.9v0.9h-0.9zM80.5 422.0h0.9v0.9h-0.9zM87.8 417.7h0.9v0.9h-0.9zM92.8 428.9h0.9v0.9h-0.9zM103.8 416.4h0.9v0.9h-0.9zM103.0 428.4h0.9v0.9h-0.9zM92.4 420.6h0.9v0.9h-0.9zM84.3 425.1h0.9v0.9h-0.9zM91.4 424.5h0.9v0.9h-0.9zM102.1 421.8h0.9v0.9h-0.9zM96.5 420.3h0.9v0.9h-0.9zM82.7 418.5h0.9v0.9h-0.9zM81.0 412.9h0.9v0.9h-0.9zM103.5 416.9h0.9v0.9h-0.9zM82.8 418.0h0.9v0.9h-0.9zM81.0 421.4h0.9v0.9h-0.9zM85.1 413.6h0.9v0.9h-0.9zM95.1 427.8h0.9v0.9h-0.9zM79.8 423.6h0.9v0.9h-0.9zM93.8 419.0h0.9v0.9h-0.9zM89.8 409.5h0.9v0.9h-0.9zM88.1 419.8h0.9v0.9h-0.9zM87.7 429.2h0.9v0.9h-0.9zM87.8 426.2h0.9v0.9h-0.9zM99.4 425.2h0.9v0.9h-0.9zM91.6 419.3h0.9v0.9h-0.9zM100.2 411.7h0.9v0.9h-0.9zM85.0 409.6h0.9v0.9h-0.9zM91.5 418.4h0.9v0.9h-0.9zM102.9 427.9h0.9v0.9h-0.9zM89.4 419.2h0.9v0.9h-0.9zM82.1 424.4h0.9v0.9h-0.9zM92.2 412.7h0.9v0.9h-0.9zM101.0 410.2h0.9v0.9h-0.9zM84.2 418.8h0.9v0.9h-0.9zM103.9 412.1h0.9v0.9h-0.9zM86.0 425.1h0.9v0.9h-0.9zM87.7 427.9h0.9v0.9h-0.9zM80.0 414.1h0.9v0.9h-0.9zM87.1 426.3h0.9v0.9h-0.9zM82.0 422.8h0.9v0.9h-0.9zM101.2 428.8h0.9v0.9h-0.9zM99.2 410.3h0.9v0.9h-0.9zM91.3 413.7h0.9v0.9h-0.9zM82.5 414.2h0.9v0.9h-0.9zM97.5 420.8h0.9v0.9h-0.9zM82.7 415.0h0.9v0.9h-0.9zM81.1 427.8h0.9v0.9h-0.9zM98.0 418.7h0.9v0.9h-0.9zM103.1 428.9h0.9v0.9h-0.9zM84.6 414.4h0.9v0.9h-0.9zM84.2 421.9h0.9v0.9h-0.9zM94.1 419.7h0.9v0.9h-0.9zM98.5 419.9h0.9v0.9h-0.9zM87.2 422.7h0.9v0.9h-0.9zM102.8 410.3h0.9v0.9h-0.9zM91.4 412.1h0.9v0.9h-0.9zM97.8 417.9h0.9v0.9h-0.9zM100.1 422.7h0.9v0.9h-0.9zM103.0 420.9h0.9v0.9h-0.9zM94.1 428.8h0.9v0.9h-0.9zM99.2 416.1h0.9v0.9h-0.9zM82.0 427.7h0.9v0.9h-0.9zM81.1 427.8h0.9v0.9h-0.9zM102.4 422.5h0.9v0.9h-0.9zM102.7 421.4h0.9v0.9h-0.9zM97.8 421.2h0.9v0.9h-0.9zM84.9 410.9h0.9v0.9h-0.9zM97.7 418.3h0.9v0.9h-0.9zM82.6 420.5h0.9v0.9h-0.9zM86.0 414.5h0.9v0.9h-0.9zM101.0 421.7h0.9v0.9h-0.9zM97.8 425.6h0.9v0.9h-0.9zM90.2 418.3h0.9v0.9h-0.9zM90.1 416.4h0.9v0.9h-0.9zM98.6 427.0h0.9v0.9h-0.9zM86.8 423.5h0.9v0.9h-0.9zM84.8 409.5h0.9v0.9h-0.9zM96.3 424.8h0.9v0.9h-0.9zM87.6 429.2h0.9v0.9h-0.9zM97.1 415.7h0.9v0.9h-0.9zM98.1 426.2h0.9v0.9h-0.9zM82.9 427.5h0.9v0.9h-0.9z" fill="#1a2cff" fill-opacity="0.5"/>
<path d="M87.6 423.6h0.9v0.9h-0.9zM86.7 425.7h0.9v0.9h-0.9zM87.1 421.7h0.9v0.9h-0.9zM99.9 424.4h0.9v0.9h-0.9zM90.1 416.3h0.9v0.9h-0.9zM82.6 427.1h0.9v0.9h-0.9zM95.1 422.5h0.9v0.9h-0.9zM99.6 422.9h0.9v0.9h-0.9zM87.7 421.9h0.9v0.9h-0.9zM91.5 422.2h0.9v0.9h-0.9zM107.0 424.6h0.9v0.9h-0.9zM93.7 421.3h0.9v0.9h-0.9zM88.0 418.3h0.9v0.9h-0.9zM80.8 420.5h0.9v0.9h-0.9zM83.0 414.9h0.9v0.9h-0.9zM86.5 414.2h0.9v0.9h-0.9zM100.3 427.3h0.9v0.9h-0.9zM86.3 430.5h0.9v0.9h-0.9zM96.0 412.2h0.9v0.9h-0.9zM92.2 418.3h0.9v0.9h-0.9zM81.6 421.3h0.9v0.9h-0.9zM99.0 424.1h0.9v0.9h-0.9zM83.3 419.7h0.9v0.9h-0.9zM87.5 426.9h0.9v0.9h-0.9zM91.5 418.4h0.9v0.9h-0.9zM86.6 414.4h0.9v0.9h-0.9zM87.0 425.9h0.9v0.9h-0.9zM80.6 423.1h0.9v0.9h-0.9zM91.4 425.6h0.9v0.9h-0.9zM85.2 425.9h0.9v0.9h-0.9zM101.4 431.4h0.9v0.9h-0.9zM82.3 422.2h0.9v0.9h-0.9zM90.8 422.8h0.9v0.9h-0.9zM86.1 425.7h0.9v0.9h-0.9zM106.2 428.3h0.9v0.9h-0.9zM86.3 420.0h0.9v0.9h-0.9zM96.4 422.8h0.9v0.9h-0.9zM87.5 427.2h0.9v0.9h-0.9zM95.2 426.4h0.9v0.9h-0.9zM91.0 427.4h0.9v0.9h-0.9zM89.3 417.8h0.9v0.9h-0.9zM92.0 416.7h0.9v0.9h-0.9zM99.6 425.2h0.9v0.9h-0.9zM81.9 423.0h0.9v0.9h-0.9zM97.2 420.9h0.9v0.9h-0.9zM94.6 420.0h0.9v0.9h-0.9zM91.6 422.0h0.9v0.9h-0.9zM95.0 418.4h0.9v0.9h-0.9zM85.2 423.6h0.9v0.9h-0.9zM89.0 424.4h0.9v0.9h-0.9zM89.0 417.0h0.9v0.9h-0.9zM96.5 423.4h0.9v0.9h-0.9zM96.4 420.9h0.9v0.9h-0.9zM89.9 427.4h0.9v0.9h-0.9zM81.8 429.3h0.9v0.9h-0.9zM95.1 422.1h0.9v0.9h-0.9zM92.6 424.7h0.9v0.9h-0.9zM87.4 423.4h0.9v0.9h-0.9zM86.3 414.9h0.9v0.9h-0.9zM93.2 422.7h0.9v0.9h-0.9zM95.9 424.5h0.9v0.9h-0.9zM96.3 425.5h0.9v0.9h-0.9zM85.7 427.2h0.9v0.9h-0.9zM108.2 420.0h0.9v0.9h-0.9zM84.4 425.0h0.9v0.9h-0.9zM97.6 426.4h0.9v0.9h-0.9zM101.3 416.7h0.9v0.9h-0.9zM94.3 424.2h0.9v0.9h-0.9zM99.6 418.7h0.9v0.9h-0.9zM92.2 420.8h0.9v0.9h-0.9zM91.1 421.7h0.9v0.9h-0.9zM91.1 415.2h0.9v0.9h-0.9zM91.8 422.6h0.9v0.9h-0.9zM89.7 408.1h0.9v0.9h-0.9zM87.8 419.7h0.9v0.9h-0.9zM86.8 428.7h0.9v0.9h-0.9zM97.6 421.6h0.9v0.9h-0.9zM95.7 435.5h0.9v0.9h-0.9zM86.2 424.2h0.9v0.9h-0.9zM88.4 428.3h0.9v0.9h-0.9zM98.7 421.8h0.9v0.9h-0.9zM95.7 419.1h0.9v0.9h-0.9zM82.5 425.7h0.9v0.9h-0.9zM101.9 421.1h0.9v0.9h-0.9zM88.8 415.1h0.9v0.9h-0.9zM105.0 417.5h0.9v0.9h-0.9zM86.2 421.5h0.9v0.9h-0.9zM99.3 422.5h0.9v0.9h-0.9zM91.9 422.4h0.9v0.9h-0.9zM97.1 422.2h0.9v0.9h-0.9zM93.0 422.0h0.9v0.9h-0.9zM85.3 427.7h0.9v0.9h-0.9zM87.8 417.0h0.9v0.9h-0.9zM89.4 422.4h0.9v0.9h-0.9zM97.0 416.4h0.9v0.9h-0.9zM84.4 423.0h0.9v0.9h-0.9zM94.3 417.9h0.9v0.9h-0.9zM85.2 423.0h0.9v0.9h-0.9zM91.1 415.8h0.9v0.9h-0.9zM86.7 428.3h0.9v0.9h-0.9zM85.6 426.5h0.9v0.9h-0.9zM82.8 428.3h0.9v0.9h-0.9zM101.7 419.8h0.9v0.9h-0.9zM87.9 424.8h0.9v0.9h-0.9zM84.5 424.5h0.9v0.9h-0.9zM99.4 423.4h0.9v0.9h-0.9zM94.0 421.7h0.9v0.9h-0.9zM98.1 419.0h0.9v0.9h-0.9zM101.6 422.2h0.9v0.9h-0.9zM90.0 415.7h0.9v0.9h-0.9zM89.4 423.3h0.9v0.9h-0.9zM99.5 415.8h0.9v0.9h-0.9zM91.2 419.5h0.9v0.9h-0.9zM84.8 422.3h0.9v0.9h-0.9zM87.4 425.8h0.9v0.9h-0.9zM75.8 425.3h0.9v0.9h-0.9zM80.5 414.5h0.9v0.9h-0.9zM95.1 420.9h0.9v0.9h-0.9zM92.8 418.4h0.9v0.9h-0.9zM85.7 419.3h0.9v0.9h-0.9zM91.7 418.9h0.9v0.9h-0.9zM89.5 418.8h0.9v0.9h-0.9zM93.4 417.7h0.9v0.9h-0.9zM79.5 411.8h0.9v0.9h-0.9zM91.9 422.7h0.9v0.9h-0.9zM97.8 419.3h0.9v0.9h-0.9zM85.1 416.3h0.9v0.9h-0.9zM96.6 419.8h0.9v0.9h-0.9zM98.0 422.0h0.9v0.9h-0.9zM90.3 414.8h0.9v0.9h-0.9zM87.9 425.5h0.9v0.9h-0.9zM88.3 425.0h0.9v0.9h-0.9zM82.1 426.4h0.9v0.9h-0.9zM108.8 426.8h0.9v0.9h-0.9zM93.9 417.3h0.9v0.9h-0.9zM88.8 419.7h0.9v0.9h-0.9zM93.1 414.2h0.9v0.9h-0.9zM86.8 425.5h0.9v0.9h-0.9zM92.9 425.3h0.9v0.9h-0.9zM97.1 417.7h0.9v0.9h-0.9zM83.9 424.2h0.9v0.9h-0.9zM92.2 422.6h0.9v0.9h-0.9zM87.1 426.4h0.9v0.9h-0.9zM95.0 426.9h0.9v0.9h-0.9zM89.9 425.1h0.9v0.9h-0.9zM91.6 418.5h0.9v0.9h-0.9zM91.5 415.7h0.9v0.9h-0.9zM90.9 423.0h0.9v0.9h-0.9zM96.2 418.1h0.9v0.9h-0.9zM84.0 419.4h0.9v0.9h-0.9zM79.5 419.7h0.9v0.9h-0.9zM107.8 422.9h0.9v0.9h-0.9zM87.4 419.6h0.9v0.9h-0.9zM102.6 417.6h0.9v0.9h-0.9zM91.3 422.0h0.9v0.9h-0.9zM87.6 419.4h0.9v0.9h-0.9zM81.9 418.9h0.9v0.9h-0.9zM99.8 428.0h0.9v0.9h-0.9zM90.3 425.1h0.9v0.9h-0.9zM94.8 422.7h0.9v0.9h-0.9zM91.2 427.2h0.9v0.9h-0.9zM95.4 421.4h0.9v0.9h-0.9zM90.6 426.0h0.9v0.9h-0.9zM88.4 419.4h0.9v0.9h-0.9zM90.3 420.3h0.9v0.9h-0.9zM99.6 423.7h0.9v0.9h-0.9zM91.5 420.2h0.9v0.9h-0.9zM100.5 424.1h0.9v0.9h-0.9zM104.5 425.9h0.9v0.9h-0.9zM90.7 420.1h0.9v0.9h-0.9zM90.3 423.0h0.9v0.9h-0.9zM96.8 424.3h0.9v0.9h-0.9zM101.5 416.2h0.9v0.9h-0.9zM92.2 416.6h0.9v0.9h-0.9zM85.8 419.9h0.9v0.9h-0.9zM88.1 418.4h0.9v0.9h-0.9zM82.9 426.9h0.9v0.9h-0.9zM90.1 426.2h0.9v0.9h-0.9zM85.3 413.0h0.9v0.9h-0.9zM88.4 425.8h0.9v0.9h-0.9zM88.6 423.9h0.9v0.9h-0.9zM85.5 427.9h0.9v0.9h-0.9zM94.6 426.5h0.9v0.9h-0.9zM90.3 427.4h0.9v0.9h-0.9zM92.4 420.3h0.9v0.9h-0.9zM88.1 422.5h0.9v0.9h-0.9zM86.5 417.5h0.9v0.9h-0.9zM92.8 425.1h0.9v0.9h-0.9zM90.2 425.7h0.9v0.9h-0.9zM101.5 417.2h0.9v0.9h-0.9zM93.5 418.4h0.9v0.9h-0.9zM88.1 423.0h0.9v0.9h-0.9zM77.7 424.7h0.9v0.9h-0.9zM97.0 424.5h0.9v0.9h-0.9zM95.9 429.6h0.9v0.9h-0.9zM89.8 426.7h0.9v0.9h-0.9zM100.7 424.3h0.9v0.9h-0.9zM81.3 421.7h0.9v0.9h-0.9zM90.2 415.8h0.9v0.9h-0.9zM91.6 425.3h0.9v0.9h-0.9zM90.4 421.6h0.9v0.9h-0.9zM100.8 419.8h0.9v0.9h-0.9zM86.3 422.5h0.9v0.9h-0.9zM98.7 424.7h0.9v0.9h-0.9zM92.4 420.3h0.9v0.9h-0.9zM99.4 425.8h0.9v0.9h-0.9zM81.6 423.6h0.9v0.9h-0.9zM77.5 428.3h0.9v0.9h-0.9zM95.7 419.8h0.9v0.9h-0.9zM84.2 421.1h0.9v0.9h-0.9zM81.5 424.6h0.9v0.9h-0.9zM88.9 415.2h0.9v0.9h-0.9zM91.9 427.0h0.9v0.9h-0.9zM84.4 420.9h0.9v0.9h-0.9zM102.9 423.0h0.9v0.9h-0.9zM88.7 423.1h0.9v0.9h-0.9zM96.7 418.3h0.9v0.9h-0.9zM91.4 415.7h0.9v0.9h-0.9zM82.5 416.1h0.9v0.9h-0.9zM97.1 423.5h0.9v0.9h-0.9zM96.4 427.2h0.9v0.9h-0.9zM92.3 423.2h0.9v0.9h-0.9zM94.4 424.2h0.9v0.9h-0.9zM85.6 421.2h0.9v0.9h-0.9zM91.1 422.4h0.9v0.9h-0.9zM87.5 421.8h0.9v0.9h-0.9zM93.7 423.0h0.9v0.9h-0.9zM95.5 425.6h0.9v0.9h-0.9zM95.3 426.2h0.9v0.9h-0.9zM97.1 427.9h0.9v0.9h-0.9zM95.8 419.8h0.9v0.9h-0.9zM106.0 426.8h0.9v0.9h-0.9zM99.5 425.2h0.9v0.9h-0.9zM92.3 417.7h0.9v0.9h-0.9zM94.6 420.9h0.9v0.9h-0.9zM89.6 413.7h0.9v0.9h-0.9zM101.3 417.6h0.9v0.9h-0.9zM85.4 424.2h0.9v0.9h-0.9zM95.4 419.1h0.9v0.9h-0.9zM92.0 423.3h0.9v0.9h-0.9zM92.9 424.4h0.9v0.9h-0.9zM96.7 420.8h0.9v0.9h-0.9zM82.2 431.0h0.9v0.9h-0.9zM89.7 418.3h0.9v0.9h-0.9zM96.5 424.6h0.9v0.9h-0.9zM88.3 431.7h0.9v0.9h-0.9zM77.8 427.4h0.9v0.9h-0.9zM91.8 423.5h0.9v0.9h-0.9zM93.9 421.4h0.9v0.9h-0.9zM93.9 417.1h0.9v0.9h-0.9zM89.6 429.7h0.9v0.9h-0.9zM76.5 427.2h0.9v0.9h-0.9zM78.6 418.9h0.9v0.9h-0.9zM97.3 420.7h0.9v0.9h-0.9zM88.5 416.3h0.9v0.9h-0.9zM91.3 421.6h0.9v0.9h-0.9zM88.1 416.0h0.9v0.9h-0.9zM92.9 424.0h0.9v0.9h-0.9zM98.9 424.4h0.9v0.9h-0.9zM101.1 427.1h0.9v0.9h-0.9zM75.0 429.0h0.9v0.9h-0.9zM91.4 418.1h0.9v0.9h-0.9zM94.6 426.1h0.9v0.9h-0.9zM82.7 417.3h0.9v0.9h-0.9zM96.1 420.1h0.9v0.9h-0.9zM100.8 423.2h0.9v0.9h-0.9zM88.7 417.0h0.9v0.9h-0.9zM95.6 415.4h0.9v0.9h-0.9zM84.1 417.0h0.9v0.9h-0.9zM102.2 429.1h0.9v0.9h-0.9zM90.7 420.8h0.9v0.9h-0.9zM96.2 427.3h0.9v0.9h-0.9zM87.1 431.1h0.9v0.9h-0.9zM90.7 426.8h0.9v0.9h-0.9zM77.8 422.1h0.9v0.9h-0.9zM87.8 430.3h0.9v0.9h-0.9zM90.7 417.2h0.9v0.9h-0.9zM103.7 419.5h0.9v0.9h-0.9zM92.0 417.3h0.9v0.9h-0.9zM96.1 423.1h0.9v0.9h-0.9zM90.3 420.7h0.9v0.9h-0.9zM88.6 419.4h0.9v0.9h-0.9zM83.5 427.1h0.9v0.9h-0.9zM97.4 416.7h0.9v0.9h-0.9zM85.0 423.9h0.9v0.9h-0.9zM105.6 421.5h0.9v0.9h-0.9zM90.1 421.3h0.9v0.9h-0.9zM93.5 421.6h0.9v0.9h-0.9zM98.5 426.2h0.9v0.9h-0.9zM95.3 428.6h0.9v0.9h-0.9zM90.6 420.1h0.9v0.9h-0.9zM109.9 414.5h0.9v0.9h-0.9zM82.6 412.8h0.9v0.9h-0.9zM94.1 418.0h0.9v0.9h-0.9zM98.4 413.9h0.9v0.9h-0.9zM91.2 420.7h0.9v0.9h-0.9zM85.5 426.8h0.9v0.9h-0.9zM89.6 424.1h0.9v0.9h-0.9zM88.8 422.9h0.9v0.9h-0.9zM89.3 422.6h0.9v0.9h-0.9z" fill="#1a2cff" fill-opacity="0.5"/>
<path d="M88.9 411.1h0.9v0.9h-0.9zM94.8 415.6h0.9v0.9h-0.9zM79.3 407.8h0.9v0.9h-0.9zM94.9 429.3h0.9v0.9h-0.9zM75.5 413.5h0.9v0.9h-0.9zM95.0 426.7h0.9v0.9h-0.9zM97.9 406.6h0.9v0.9h-0.9zM90.4 425.4h0.9v0.9h-0.9zM92.6 415.3h0.9v0.9h-0.9zM76.9 418.8h0.9v0.9h-0.9zM89.3 417.6h0.9v0.9h-0.9zM106.6 428.0h0.9v0.9h-0.9zM81.2 419.4h0.9v0.9h-0.9zM86.6 418.2h0.9v0.9h-0.9zM108.0 425.6h0.9v0.9h-0.9zM90.4 411.3h0.9v0.9h-0.9zM88.2 420.6h0.9v0.9h-0.9zM84.5 427.2h0.9v0.9h-0.9zM90.2 406.6h0.9v0.9h-0.9zM112.6 391.1h0.9v0.9h-0.9zM87.0 416.2h0.9v0.9h-0.9zM100.9 427.4h0.9v0.9h-0.9zM106.1 431.4h0.9v0.9h-0.9zM93.5 418.3h0.9v0.9h-0.9zM101.2 417.1h0.9v0.9h-0.9zM76.1 413.2h0.9v0.9h-0.9zM97.3 422.8h0.9v0.9h-0.9zM77.8 428.1h0.9v0.9h-0.9zM93.4 403.7h0.9v0.9h-0.9zM95.2 426.4h0.9v0.9h-0.9zM95.9 414.5h0.9v0.9h-0.9zM81.1 427.4h0.9v0.9h-0.9zM92.5 417.2h0.9v0.9h-0.9zM85.6 408.0h0.9v0.9h-0.9zM69.3 414.2h0.9v0.9h-0.9zM102.2 424.2h0.9v0.9h-0.9zM82.5 431.1h0.9v0.9h-0.9zM87.5 408.2h0.9v0.9h-0.9zM100.8 429.8h0.9v0.9h-0.9zM85.7 406.3h0.9v0.9h-0.9zM89.3 395.4h0.9v0.9h-0.9zM90.6 431.1h0.9v0.9h-0.9zM93.0 410.7h0.9v0.9h-0.9zM97.8 412.8h0.9v0.9h-0.9zM104.0 414.1h0.9v0.9h-0.9zM112.5 414.1h0.9v0.9h-0.9zM92.1 408.8h0.9v0.9h-0.9zM75.9 420.4h0.9v0.9h-0.9zM93.9 408.5h0.9v0.9h-0.9zM96.2 413.6h0.9v0.9h-0.9zM83.9 416.6h0.9v0.9h-0.9zM94.4 423.9h0.9v0.9h-0.9zM103.7 420.7h0.9v0.9h-0.9zM82.0 411.1h0.9v0.9h-0.9zM94.1 406.5h0.9v0.9h-0.9zM88.1 413.8h0.9v0.9h-0.9zM88.9 418.9h0.9v0.9h-0.9zM101.5 432.1h0.9v0.9h-0.9zM99.8 426.4h0.9v0.9h-0.9zM78.2 426.7h0.9v0.9h-0.9zM104.3 405.1h0.9v0.9h-0.9zM117.9 412.2h0.9v0.9h-0.9zM63.7 433.2h0.9v0.9h-0.9zM90.7 410.1h0.9v0.9h-0.9zM83.7 427.0h0.9v0.9h-0.9zM92.8 413.9h0.9v0.9h-0.9zM102.7 408.8h0.9v0.9h-0.9zM80.6 412.2h0.9v0.9h-0.9zM81.7 423.5h0.9v0.9h-0.9zM87.5 407.8h0.9v0.9h-0.9z" fill="#4050ff" fill-opacity="0.4"/>
<path d="M79.2 425.1h0.9v0.9h-0.9zM76.6 395.9h0.9v0.9h-0.9zM80.1 401.9h0.9v0.9h-0.9zM79.6 409.1h0.9v0.9h-0.9zM77.2 395.7h0.9v0.9h-0.9zM78.0 415.7h0.9v0.9h-0.9zM76.5 395.7h0.9v0.9h-0.9zM77.4 425.3h0.9v0.9h-0.9zM79.3 404.0h0.9v0.9h-0.9zM77.9 409.5h0.9v0.9h-0.9zM79.1 405.0h0.9v0.9h-0.9zM77.7 412.4h0.9v0.9h-0.9zM77.2 409.9h0.9v0.9h-0.9zM79.3 412.5h0.9v0.9h-0.9zM76.5 407.2h0.9v0.9h-0.9zM78.6 403.2h0.9v0.9h-0.9zM77.9 414.3h0.9v0.9h-0.9zM77.8 401.5h0.9v0.9h-0.9zM79.8 397.5h0.9v0.9h-0.9zM79.9 398.5h0.9v0.9h-0.9zM78.5 413.8h0.9v0.9h-0.9zM77.9 416.6h0.9v0.9h-0.9zM79.8 406.1h0.9v0.9h-0.9zM76.5 402.1h0.9v0.9h-0.9zM79.8 415.7h0.9v0.9h-0.9zM79.3 408.5h0.9v0.9h-0.9zM77.6 418.8h0.9v0.9h-0.9zM78.6 426.4h0.9v0.9h-0.9zM76.9 407.0h0.9v0.9h-0.9zM79.1 426.1h0.9v0.9h-0.9zM78.2 422.1h0.9v0.9h-0.9zM76.7 417.0h0.9v0.9h-0.9zM77.6 418.9h0.9v0.9h-0.9zM77.5 401.7h0.9v0.9h-0.9zM77.4 419.9h0.9v0.9h-0.9zM79.1 426.3h0.9v0.9h-0.9zM78.0 397.5h0.9v0.9h-0.9zM79.5 404.0h0.9v0.9h-0.9zM79.2 411.9h0.9v0.9h-0.9zM78.1 396.3h0.9v0.9h-0.9zM77.2 420.7h0.9v0.9h-0.9zM78.1 425.3h0.9v0.9h-0.9zM79.5 413.5h0.9v0.9h-0.9zM80.2 395.4h0.9v0.9h-0.9zM77.9 413.4h0.9v0.9h-0.9zM76.5 424.9h0.9v0.9h-0.9zM76.9 415.0h0.9v0.9h-0.9zM77.4 408.3h0.9v0.9h-0.9zM78.2 405.1h0.9v0.9h-0.9zM77.0 418.0h0.9v0.9h-0.9zM78.8 398.0h0.9v0.9h-0.9zM80.2 398.9h0.9v0.9h-0.9zM77.2 404.9h0.9v0.9h-0.9zM77.8 412.0h0.9v0.9h-0.9zM79.9 398.7h0.9v0.9h-0.9zM78.6 416.5h0.9v0.9h-0.9zM77.3 407.4h0.9v0.9h-0.9zM78.1 425.5h0.9v0.9h-0.9zM79.4 411.6h0.9v0.9h-0.9zM76.6 407.5h0.9v0.9h-0.9zM79.6 410.1h0.9v0.9h-0.9zM77.9 417.0h0.9v0.9h-0.9zM76.5 417.3h0.9v0.9h-0.9zM79.0 399.1h0.9v0.9h-0.9zM78.0 424.4h0.9v0.9h-0.9zM77.3 413.3h0.9v0.9h-0.9zM77.7 414.1h0.9v0.9h-0.9zM77.9 407.0h0.9v0.9h-0.9zM80.0 418.9h0.9v0.9h-0.9zM80.3 406.7h0.9v0.9h-0.9zM78.2 407.7h0.9v0.9h-0.9zM79.8 407.8h0.9v0.9h-0.9zM79.0 401.3h0.9v0.9h-0.9zM78.5 404.5h0.9v0.9h-0.9zM80.0 407.8h0.9v0.9h-0.9zM80.1 414.6h0.9v0.9h-0.9zM77.7 414.0h0.9v0.9h-0.9zM80.0 418.9h0.9v0.9h-0.9zM79.6 414.6h0.9v0.9h-0.9zM78.8 400.1h0.9v0.9h-0.9zM79.6 417.1h0.9v0.9h-0.9zM78.9 405.6h0.9v0.9h-0.9zM79.4 413.2h0.9v0.9h-0.9zM77.6 429.0h0.9v0.9h-0.9zM79.4 418.4h0.9v0.9h-0.9zM79.7 419.0h0.9v0.9h-0.9zM77.8 427.8h0.9v0.9h-0.9zM79.9 418.1h0.9v0.9h-0.9zM78.0 412.3h0.9v0.9h-0.9zM76.5 425.5h0.9v0.9h-0.9zM79.6 415.5h0.9v0.9h-0.9zM78.2 422.6h0.9v0.9h-0.9zM76.4 408.9h0.9v0.9h-0.9zM77.3 416.0h0.9v0.9h-0.9zM77.7 415.9h0.9v0.9h-0.9zM79.9 409.3h0.9v0.9h-0.9zM76.8 395.7h0.9v0.9h-0.9zM79.6 411.2h0.9v0.9h-0.9zM78.1 396.3h0.9v0.9h-0.9zM76.7 395.3h0.9v0.9h-0.9zM79.9 396.9h0.9v0.9h-0.9zM77.6 411.4h0.9v0.9h-0.9zM78.6 402.9h0.9v0.9h-0.9zM78.9 417.0h0.9v0.9h-0.9zM80.2 398.5h0.9v0.9h-0.9zM77.5 398.8h0.9v0.9h-0.9zM77.5 402.5h0.9v0.9h-0.9zM76.4 422.7h0.9v0.9h-0.9zM77.4 420.6h0.9v0.9h-0.9zM79.6 422.4h0.9v0.9h-0.9zM76.4 415.2h0.9v0.9h-0.9zM79.7 416.8h0.9v0.9h-0.9zM78.7 409.8h0.9v0.9h-0.9zM79.6 413.4h0.9v0.9h-0.9zM77.7 412.2h0.9v0.9h-0.9zM78.2 401.7h0.9v0.9h-0.9zM79.0 423.7h0.9v0.9h-0.9zM78.9 395.7h0.9v0.9h-0.9zM77.9 421.4h0.9v0.9h-0.9zM76.8 412.5h0.9v0.9h-0.9zM79.0 413.5h0.9v0.9h-0.9zM77.6 395.9h0.9v0.9h-0.9zM79.1 401.0h0.9v0.9h-0.9zM78.7 413.1h0.9v0.9h-0.9zM79.2 399.1h0.9v0.9h-0.9zM80.2 420.7h0.9v0.9h-0.9zM79.8 401.6h0.9v0.9h-0.9zM79.2 408.2h0.9v0.9h-0.9zM79.1 419.0h0.9v0.9h-0.9zM77.9 427.5h0.9v0.9h-0.9zM78.1 411.2h0.9v0.9h-0.9zM79.2 400.4h0.9v0.9h-0.9zM79.9 406.6h0.9v0.9h-0.9zM79.8 400.2h0.9v0.9h-0.9zM76.8 415.4h0.9v0.9h-0.9zM77.3 410.3h0.9v0.9h-0.9zM77.1 419.9h0.9v0.9h-0.9zM79.2 418.6h0.9v0.9h-0.9zM76.8 396.9h0.9v0.9h-0.9zM78.6 398.1h0.9v0.9h-0.9zM79.2 413.9h0.9v0.9h-0.9zM80.0 423.1h0.9v0.9h-0.9zM78.9 423.4h0.9v0.9h-0.9zM78.3 405.2h0.9v0.9h-0.9zM76.5 419.2h0.9v0.9h-0.9zM79.0 416.8h0.9v0.9h-0.9zM78.3 410.8h0.9v0.9h-0.9zM80.0 408.1h0.9v0.9h-0.9zM76.9 427.6h0.9v0.9h-0.9zM79.3 425.8h0.9v0.9h-0.9zM80.2 410.1h0.9v0.9h-0.9zM76.9 412.1h0.9v0.9h-0.9zM78.3 408.5h0.9v0.9h-0.9zM79.4 403.8h0.9v0.9h-0.9zM80.2 402.5h0.9v0.9h-0.9zM77.4 423.5h0.9v0.9h-0.9zM77.2 419.9h0.9v0.9h-0.9zM77.4 409.2h0.9v0.9h-0.9zM78.2 403.7h0.9v0.9h-0.9zM79.6 427.3h0.9v0.9h-0.9zM80.0 400.7h0.9v0.9h-0.9zM76.4 410.3h0.9v0.9h-0.9zM79.3 413.9h0.9v0.9h-0.9zM80.1 428.9h0.9v0.9h-0.9zM79.0 404.2h0.9v0.9h-0.9zM77.9 397.5h0.9v0.9h-0.9zM77.9 420.8h0.9v0.9h-0.9zM77.6 401.6h0.9v0.9h-0.9zM78.5 425.8h0.9v0.9h-0.9zM78.9 399.0h0.9v0.9h-0.9zM78.0 403.1h0.9v0.9h-0.9zM79.5 409.5h0.9v0.9h-0.9zM78.1 425.1h0.9v0.9h-0.9zM77.5 410.6h0.9v0.9h-0.9zM80.2 405.7h0.9v0.9h-0.9zM78.5 417.3h0.9v0.9h-0.9zM77.6 416.7h0.9v0.9h-0.9zM78.0 423.6h0.9v0.9h-0.9zM78.5 420.0h0.9v0.9h-0.9zM78.6 419.0h0.9v0.9h-0.9zM77.9 400.3h0.9v0.9h-0.9zM77.8 406.4h0.9v0.9h-0.9zM76.4 421.5h0.9v0.9h-0.9zM78.4 411.6h0.9v0.9h-0.9zM79.1 397.6h0.9v0.9h-0.9zM76.8 419.7h0.9v0.9h-0.9zM76.5 424.8h0.9v0.9h-0.9zM78.3 428.2h0.9v0.9h-0.9zM79.7 409.2h0.9v0.9h-0.9zM77.7 410.1h0.9v0.9h-0.9zM79.4 411.0h0.9v0.9h-0.9zM79.2 429.0h0.9v0.9h-0.9zM79.3 412.8h0.9v0.9h-0.9zM79.3 412.1h0.9v0.9h-0.9zM78.6 409.6h0.9v0.9h-0.9zM80.0 428.9h0.9v0.9h-0.9zM78.6 414.3h0.9v0.9h-0.9zM76.7 414.5h0.9v0.9h-0.9zM80.0 403.5h0.9v0.9h-0.9zM79.4 404.0h0.9v0.9h-0.9zM79.2 404.9h0.9v0.9h-0.9zM78.7 421.7h0.9v0.9h-0.9zM76.4 423.9h0.9v0.9h-0.9zM78.4 403.6h0.9v0.9h-0.9zM77.5 414.2h0.9v0.9h-0.9zM79.3 401.4h0.9v0.9h-0.9zM76.6 403.2h0.9v0.9h-0.9zM78.8 409.0h0.9v0.9h-0.9zM79.4 420.0h0.9v0.9h-0.9zM77.8 415.3h0.9v0.9h-0.9zM76.9 416.0h0.9v0.9h-0.9zM78.9 403.3h0.9v0.9h-0.9zM79.0 400.0h0.9v0.9h-0.9zM80.2 413.9h0.9v0.9h-0.9zM80.0 418.0h0.9v0.9h-0.9zM77.2 420.2h0.9v0.9h-0.9zM78.8 408.2h0.9v0.9h-0.9zM79.1 421.1h0.9v0.9h-0.9zM79.0 402.7h0.9v0.9h-0.9zM80.2 426.2h0.9v0.9h-0.9zM78.0 426.8h0.9v0.9h-0.9zM80.3 407.0h0.9v0.9h-0.9zM77.1 403.6h0.9v0.9h-0.9zM78.3 400.2h0.9v0.9h-0.9zM77.2 420.2h0.9v0.9h-0.9zM76.4 416.1h0.9v0.9h-0.9zM77.9 419.4h0.9v0.9h-0.9zM77.3 411.6h0.9v0.9h-0.9zM77.2 395.8h0.9v0.9h-0.9zM79.8 407.8h0.9v0.9h-0.9zM77.5 427.1h0.9v0.9h-0.9zM77.8 413.7h0.9v0.9h-0.9zM76.9 409.3h0.9v0.9h-0.9zM79.8 423.3h0.9v0.9h-0.9zM79.6 426.4h0.9v0.9h-0.9zM77.2 397.1h0.9v0.9h-0.9zM76.8 417.4h0.9v0.9h-0.9zM78.5 407.9h0.9v0.9h-0.9zM79.1 402.8h0.9v0.9h-0.9zM78.7 409.5h0.9v0.9h-0.9zM76.9 421.7h0.9v0.9h-0.9zM77.0 422.5h0.9v0.9h-0.9zM79.3 410.2h0.9v0.9h-0.9zM78.1 402.3h0.9v0.9h-0.9zM76.9 419.0h0.9v0.9h-0.9zM77.8 414.4h0.9v0.9h-0.9zM77.8 404.4h0.9v0.9h-0.9zM77.0 421.2h0.9v0.9h-0.9zM78.0 400.5h0.9v0.9h-0.9zM79.8 400.5h0.9v0.9h-0.9zM77.2 400.6h0.9v0.9h-0.9zM78.5 421.7h0.9v0.9h-0.9zM76.4 426.7h0.9v0.9h-0.9zM79.1 423.6h0.9v0.9h-0.9zM78.0 410.2h0.9v0.9h-0.9zM76.7 404.2h0.9v0.9h-0.9zM79.8 405.0h0.9v0.9h-0.9zM79.9 423.6h0.9v0.9h-0.9zM80.0 400.1h0.9v0.9h-0.9zM78.0 423.6h0.9v0.9h-0.9zM77.5 403.6h0.9v0.9h-0.9zM76.4 413.4h0.9v0.9h-0.9zM78.5 402.5h0.9v0.9h-0.9zM77.3 416.8h0.9v0.9h-0.9zM77.0 422.0h0.9v0.9h-0.9zM79.8 409.6h0.9v0.9h-0.9zM76.8 414.7h0.9v0.9h-0.9zM77.5 398.9h0.9v0.9h-0.9zM79.1 414.3h0.9v0.9h-0.9zM77.4 403.7h0.9v0.9h-0.9zM79.2 426.5h0.9v0.9h-0.9zM77.7 415.2h0.9v0.9h-0.9zM77.2 411.1h0.9v0.9h-0.9zM78.6 405.7h0.9v0.9h-0.9zM78.7 413.7h0.9v0.9h-0.9zM76.5 399.3h0.9v0.9h-0.9zM78.0 400.3h0.9v0.9h-0.9zM78.5 415.5h0.9v0.9h-0.9zM78.8 425.4h0.9v0.9h-0.9zM78.7 421.5h0.9v0.9h-0.9zM76.8 425.0h0.9v0.9h-0.9zM80.0 415.4h0.9v0.9h-0.9zM79.6 414.0h0.9v0.9h-0.9zM78.0 400.8h0.9v0.9h-0.9zM78.2 419.6h0.9v0.9h-0.9zM79.5 425.7h0.9v0.9h-0.9zM78.4 427.4h0.9v0.9h-0.9zM77.8 395.9h0.9v0.9h-0.9zM78.0 413.7h0.9v0.9h-0.9zM79.4 403.2h0.9v0.9h-0.9zM76.4 419.9h0.9v0.9h-0.9zM77.1 424.3h0.9v0.9h-0.9zM78.6 399.9h0.9v0.9h-0.9zM78.4 421.6h0.9v0.9h-0.9zM77.2 427.8h0.9v0.9h-0.9zM76.5 400.3h0.9v0.9h-0.9zM78.7 418.3h0.9v0.9h-0.9zM78.7 426.7h0.9v0.9h-0.9zM77.1 396.9h0.9v0.9h-0.9zM78.4 407.3h0.9v0.9h-0.9zM77.9 408.7h0.9v0.9h-0.9zM79.8 405.0h0.9v0.9h-0.9zM79.1 414.6h0.9v0.9h-0.9zM77.4 426.3h0.9v0.9h-0.9zM77.3 405.5h0.9v0.9h-0.9zM77.1 419.1h0.9v0.9h-0.9zM79.1 407.7h0.9v0.9h-0.9zM76.8 415.5h0.9v0.9h-0.9zM77.6 414.0h0.9v0.9h-0.9zM78.9 395.3h0.9v0.9h-0.9zM76.5 423.1h0.9v0.9h-0.9zM79.8 398.3h0.9v0.9h-0.9zM77.2 409.8h0.9v0.9h-0.9zM79.6 405.8h0.9v0.9h-0.9zM80.1 398.4h0.9v0.9h-0.9zM79.9 397.2h0.9v0.9h-0.9zM78.7 428.3h0.9v0.9h-0.9zM79.2 426.4h0.9v0.9h-0.9zM77.7 427.8h0.9v0.9h-0.9zM79.9 404.6h0.9v0.9h-0.9z" fill="#0a1cff" fill-opacity="0.65"/>
<g filter="url(#b6)" transform="rotate(0 78.20 414.30)"><ellipse cx="78.20" cy="414.30" rx="1.4" ry="15" fill="#2a3cff"/></g>
<path d="M91.4 396.0h0.9v0.9h-0.9zM94.0 410.1h0.9v0.9h-0.9zM91.2 400.3h0.9v0.9h-0.9zM98.6 402.1h0.9v0.9h-0.9zM86.2 408.3h0.9v0.9h-0.9zM90.3 415.8h0.9v0.9h-0.9zM91.8 415.9h0.9v0.9h-0.9zM93.5 400.1h0.9v0.9h-0.9zM90.9 406.6h0.9v0.9h-0.9zM104.4 409.1h0.9v0.9h-0.9zM112.0 398.4h0.9v0.9h-0.9zM89.5 417.3h0.9v0.9h-0.9zM83.5 409.6h0.9v0.9h-0.9zM103.6 398.8h0.9v0.9h-0.9zM87.1 403.8h0.9v0.9h-0.9zM95.8 407.0h0.9v0.9h-0.9zM91.2 409.3h0.9v0.9h-0.9zM83.7 406.2h0.9v0.9h-0.9zM96.9 414.2h0.9v0.9h-0.9zM90.6 406.7h0.9v0.9h-0.9zM102.2 404.1h0.9v0.9h-0.9zM102.2 404.8h0.9v0.9h-0.9zM100.9 404.8h0.9v0.9h-0.9zM82.1 404.4h0.9v0.9h-0.9zM96.4 413.7h0.9v0.9h-0.9zM106.5 401.3h0.9v0.9h-0.9zM111.2 396.5h0.9v0.9h-0.9zM84.5 412.1h0.9v0.9h-0.9zM78.7 413.3h0.9v0.9h-0.9zM94.7 408.3h0.9v0.9h-0.9zM80.9 410.4h0.9v0.9h-0.9zM98.9 404.2h0.9v0.9h-0.9zM99.7 404.4h0.9v0.9h-0.9zM93.5 404.3h0.9v0.9h-0.9zM79.1 408.3h0.9v0.9h-0.9zM94.4 402.0h0.9v0.9h-0.9zM72.5 403.4h0.9v0.9h-0.9zM101.9 402.7h0.9v0.9h-0.9zM85.5 413.2h0.9v0.9h-0.9zM87.9 400.1h0.9v0.9h-0.9zM86.2 403.4h0.9v0.9h-0.9zM88.4 402.7h0.9v0.9h-0.9zM91.9 408.2h0.9v0.9h-0.9zM85.7 406.6h0.9v0.9h-0.9zM90.4 410.3h0.9v0.9h-0.9zM85.4 411.0h0.9v0.9h-0.9zM101.4 403.0h0.9v0.9h-0.9zM82.2 406.9h0.9v0.9h-0.9zM75.1 407.5h0.9v0.9h-0.9zM80.4 408.0h0.9v0.9h-0.9zM88.2 409.3h0.9v0.9h-0.9zM92.3 407.9h0.9v0.9h-0.9zM90.7 407.7h0.9v0.9h-0.9zM81.8 411.5h0.9v0.9h-0.9zM103.2 408.6h0.9v0.9h-0.9zM79.7 410.8h0.9v0.9h-0.9zM77.6 412.9h0.9v0.9h-0.9zM88.6 404.7h0.9v0.9h-0.9zM84.2 406.8h0.9v0.9h-0.9zM89.9 402.1h0.9v0.9h-0.9zM91.6 407.3h0.9v0.9h-0.9zM95.4 405.1h0.9v0.9h-0.9zM93.2 416.5h0.9v0.9h-0.9zM99.9 405.7h0.9v0.9h-0.9zM79.5 411.8h0.9v0.9h-0.9zM93.1 393.6h0.9v0.9h-0.9zM89.8 408.3h0.9v0.9h-0.9zM91.3 406.7h0.9v0.9h-0.9zM90.9 412.7h0.9v0.9h-0.9zM93.9 404.3h0.9v0.9h-0.9zM91.0 415.9h0.9v0.9h-0.9zM82.9 405.7h0.9v0.9h-0.9zM93.8 406.3h0.9v0.9h-0.9zM94.8 411.7h0.9v0.9h-0.9zM101.1 405.9h0.9v0.9h-0.9zM91.2 406.0h0.9v0.9h-0.9zM89.9 411.2h0.9v0.9h-0.9zM78.9 404.3h0.9v0.9h-0.9zM86.0 403.0h0.9v0.9h-0.9zM85.7 413.0h0.9v0.9h-0.9zM72.0 413.3h0.9v0.9h-0.9zM79.3 407.9h0.9v0.9h-0.9zM84.9 403.1h0.9v0.9h-0.9zM78.1 409.6h0.9v0.9h-0.9zM63.2 402.9h0.9v0.9h-0.9zM88.6 411.9h0.9v0.9h-0.9zM106.6 401.3h0.9v0.9h-0.9zM83.7 406.7h0.9v0.9h-0.9zM95.9 409.5h0.9v0.9h-0.9zM83.1 410.3h0.9v0.9h-0.9zM91.8 411.4h0.9v0.9h-0.9zM87.1 406.2h0.9v0.9h-0.9zM82.2 402.2h0.9v0.9h-0.9zM94.0 408.9h0.9v0.9h-0.9zM100.9 405.3h0.9v0.9h-0.9zM86.0 403.2h0.9v0.9h-0.9zM80.1 405.5h0.9v0.9h-0.9zM93.9 406.1h0.9v0.9h-0.9zM71.0 410.5h0.9v0.9h-0.9zM87.3 402.3h0.9v0.9h-0.9zM91.3 408.7h0.9v0.9h-0.9zM80.6 402.5h0.9v0.9h-0.9zM88.4 408.1h0.9v0.9h-0.9zM90.2 413.6h0.9v0.9h-0.9zM91.1 401.6h0.9v0.9h-0.9zM97.0 401.9h0.9v0.9h-0.9zM97.0 405.4h0.9v0.9h-0.9zM100.6 399.5h0.9v0.9h-0.9zM97.6 406.7h0.9v0.9h-0.9zM83.8 411.2h0.9v0.9h-0.9zM110.9 403.4h0.9v0.9h-0.9zM84.1 407.2h0.9v0.9h-0.9zM102.4 404.8h0.9v0.9h-0.9zM103.1 400.5h0.9v0.9h-0.9zM100.7 396.8h0.9v0.9h-0.9zM89.2 405.4h0.9v0.9h-0.9zM87.9 412.7h0.9v0.9h-0.9zM86.1 409.1h0.9v0.9h-0.9zM107.8 406.2h0.9v0.9h-0.9zM86.6 403.9h0.9v0.9h-0.9zM73.9 412.0h0.9v0.9h-0.9zM99.7 409.4h0.9v0.9h-0.9zM95.2 415.3h0.9v0.9h-0.9zM95.3 394.6h0.9v0.9h-0.9zM84.1 411.6h0.9v0.9h-0.9zM88.3 410.8h0.9v0.9h-0.9zM112.4 397.8h0.9v0.9h-0.9zM110.1 401.5h0.9v0.9h-0.9zM78.2 409.7h0.9v0.9h-0.9zM98.2 402.0h0.9v0.9h-0.9zM103.8 399.3h0.9v0.9h-0.9zM90.2 410.8h0.9v0.9h-0.9zM88.5 404.3h0.9v0.9h-0.9zM91.4 409.2h0.9v0.9h-0.9zM107.4 408.8h0.9v0.9h-0.9zM107.2 402.4h0.9v0.9h-0.9zM76.4 409.5h0.9v0.9h-0.9zM86.3 402.8h0.9v0.9h-0.9zM86.4 407.1h0.9v0.9h-0.9zM92.3 410.2h0.9v0.9h-0.9zM84.1 413.2h0.9v0.9h-0.9zM92.1 409.4h0.9v0.9h-0.9zM100.5 398.4h0.9v0.9h-0.9zM104.1 399.9h0.9v0.9h-0.9zM95.5 410.3h0.9v0.9h-0.9zM97.4 397.6h0.9v0.9h-0.9zM93.5 411.0h0.9v0.9h-0.9zM89.8 406.2h0.9v0.9h-0.9zM93.2 413.4h0.9v0.9h-0.9zM85.3 403.3h0.9v0.9h-0.9zM80.8 406.2h0.9v0.9h-0.9zM89.3 408.3h0.9v0.9h-0.9zM88.5 398.9h0.9v0.9h-0.9zM77.9 412.5h0.9v0.9h-0.9zM95.9 398.9h0.9v0.9h-0.9zM96.7 393.7h0.9v0.9h-0.9zM111.9 404.2h0.9v0.9h-0.9zM77.0 411.9h0.9v0.9h-0.9zM90.2 404.4h0.9v0.9h-0.9zM87.5 406.1h0.9v0.9h-0.9z" fill="#0a1cff" fill-opacity="0.5"/>
<path d="M90.1 429.0h0.9v0.9h-0.9zM85.9 432.8h0.9v0.9h-0.9zM95.7 427.8h0.9v0.9h-0.9zM86.6 435.4h0.9v0.9h-0.9zM97.4 435.6h0.9v0.9h-0.9zM78.8 428.6h0.9v0.9h-0.9zM71.5 426.3h0.9v0.9h-0.9zM87.6 428.6h0.9v0.9h-0.9zM81.2 429.5h0.9v0.9h-0.9zM89.3 433.5h0.9v0.9h-0.9zM96.0 426.7h0.9v0.9h-0.9zM104.4 430.4h0.9v0.9h-0.9zM82.0 431.2h0.9v0.9h-0.9zM87.4 427.7h0.9v0.9h-0.9zM105.0 429.8h0.9v0.9h-0.9zM85.6 432.7h0.9v0.9h-0.9zM106.0 432.6h0.9v0.9h-0.9zM82.9 432.4h0.9v0.9h-0.9zM100.9 432.3h0.9v0.9h-0.9zM96.8 430.1h0.9v0.9h-0.9zM90.4 426.9h0.9v0.9h-0.9zM84.5 428.3h0.9v0.9h-0.9zM91.1 435.2h0.9v0.9h-0.9zM70.7 427.9h0.9v0.9h-0.9zM82.6 431.1h0.9v0.9h-0.9zM101.5 429.3h0.9v0.9h-0.9zM83.9 434.5h0.9v0.9h-0.9zM94.3 432.7h0.9v0.9h-0.9zM98.5 429.4h0.9v0.9h-0.9zM93.0 429.6h0.9v0.9h-0.9zM84.5 431.6h0.9v0.9h-0.9zM94.9 428.0h0.9v0.9h-0.9zM84.0 432.9h0.9v0.9h-0.9zM92.5 433.0h0.9v0.9h-0.9zM88.2 429.2h0.9v0.9h-0.9zM98.0 432.9h0.9v0.9h-0.9zM65.4 433.6h0.9v0.9h-0.9zM84.1 433.0h0.9v0.9h-0.9zM105.2 430.6h0.9v0.9h-0.9zM82.2 432.0h0.9v0.9h-0.9zM91.8 432.8h0.9v0.9h-0.9zM78.3 431.9h0.9v0.9h-0.9zM99.1 433.1h0.9v0.9h-0.9zM96.7 434.4h0.9v0.9h-0.9zM83.5 434.5h0.9v0.9h-0.9zM92.9 428.7h0.9v0.9h-0.9zM88.3 432.0h0.9v0.9h-0.9zM94.0 434.8h0.9v0.9h-0.9zM92.7 430.0h0.9v0.9h-0.9zM110.7 430.4h0.9v0.9h-0.9zM83.6 433.7h0.9v0.9h-0.9zM87.2 429.2h0.9v0.9h-0.9zM81.4 434.4h0.9v0.9h-0.9zM81.4 431.6h0.9v0.9h-0.9zM86.9 430.8h0.9v0.9h-0.9zM83.6 431.7h0.9v0.9h-0.9zM96.5 434.1h0.9v0.9h-0.9zM87.8 428.3h0.9v0.9h-0.9zM77.6 431.3h0.9v0.9h-0.9zM68.6 434.8h0.9v0.9h-0.9zM91.3 431.6h0.9v0.9h-0.9zM78.4 429.6h0.9v0.9h-0.9zM84.3 433.1h0.9v0.9h-0.9zM87.3 432.9h0.9v0.9h-0.9zM95.6 426.3h0.9v0.9h-0.9zM88.9 434.6h0.9v0.9h-0.9zM86.4 431.6h0.9v0.9h-0.9zM89.9 428.1h0.9v0.9h-0.9zM110.7 431.0h0.9v0.9h-0.9zM96.8 430.1h0.9v0.9h-0.9zM103.7 434.3h0.9v0.9h-0.9zM101.7 433.8h0.9v0.9h-0.9zM97.3 434.9h0.9v0.9h-0.9zM94.6 431.7h0.9v0.9h-0.9zM98.3 429.0h0.9v0.9h-0.9zM68.1 433.4h0.9v0.9h-0.9zM92.4 429.5h0.9v0.9h-0.9zM88.6 428.8h0.9v0.9h-0.9zM83.4 431.8h0.9v0.9h-0.9zM92.1 433.5h0.9v0.9h-0.9zM90.2 433.0h0.9v0.9h-0.9zM97.2 429.5h0.9v0.9h-0.9zM75.7 429.5h0.9v0.9h-0.9zM88.7 429.9h0.9v0.9h-0.9zM111.0 429.5h0.9v0.9h-0.9zM95.3 429.3h0.9v0.9h-0.9zM97.2 428.0h0.9v0.9h-0.9zM99.6 431.8h0.9v0.9h-0.9zM87.4 428.2h0.9v0.9h-0.9zM106.1 429.8h0.9v0.9h-0.9zM104.0 425.1h0.9v0.9h-0.9zM80.2 436.0h0.9v0.9h-0.9zM107.1 431.4h0.9v0.9h-0.9zM100.0 432.9h0.9v0.9h-0.9zM87.8 431.7h0.9v0.9h-0.9zM80.6 427.8h0.9v0.9h-0.9zM92.1 433.2h0.9v0.9h-0.9zM92.4 428.1h0.9v0.9h-0.9zM98.7 431.6h0.9v0.9h-0.9zM97.8 430.6h0.9v0.9h-0.9zM88.6 434.1h0.9v0.9h-0.9zM103.4 428.2h0.9v0.9h-0.9zM81.0 433.8h0.9v0.9h-0.9zM94.2 431.5h0.9v0.9h-0.9zM82.2 434.0h0.9v0.9h-0.9zM92.7 431.9h0.9v0.9h-0.9zM94.5 430.0h0.9v0.9h-0.9zM94.6 431.7h0.9v0.9h-0.9zM97.5 432.3h0.9v0.9h-0.9zM79.4 429.5h0.9v0.9h-0.9zM88.6 434.4h0.9v0.9h-0.9zM85.1 434.3h0.9v0.9h-0.9zM100.7 433.6h0.9v0.9h-0.9zM111.4 431.3h0.9v0.9h-0.9zM93.9 434.5h0.9v0.9h-0.9zM94.7 433.9h0.9v0.9h-0.9zM89.8 435.0h0.9v0.9h-0.9zM94.2 426.4h0.9v0.9h-0.9zM100.8 430.8h0.9v0.9h-0.9zM83.0 430.6h0.9v0.9h-0.9zM88.5 434.3h0.9v0.9h-0.9zM94.0 431.2h0.9v0.9h-0.9zM90.9 429.0h0.9v0.9h-0.9zM85.2 430.1h0.9v0.9h-0.9zM89.0 428.3h0.9v0.9h-0.9zM87.4 433.9h0.9v0.9h-0.9zM95.1 431.3h0.9v0.9h-0.9zM94.1 430.7h0.9v0.9h-0.9zM80.3 433.6h0.9v0.9h-0.9zM111.3 432.7h0.9v0.9h-0.9zM97.2 437.7h0.9v0.9h-0.9zM80.1 432.7h0.9v0.9h-0.9zM87.9 430.6h0.9v0.9h-0.9zM76.0 431.1h0.9v0.9h-0.9zM94.6 427.2h0.9v0.9h-0.9zM89.0 430.1h0.9v0.9h-0.9zM82.0 433.0h0.9v0.9h-0.9zM105.8 432.4h0.9v0.9h-0.9zM100.3 433.3h0.9v0.9h-0.9zM90.4 432.8h0.9v0.9h-0.9z" fill="#0a1cff" fill-opacity="0.5"/>
<g filter="url(#b6)" transform="rotate(-13 91.80 405.80)"><ellipse cx="91.80" cy="405.80" rx="11" ry="5.4" fill="#0a1cff"/><ellipse cx="92.80" cy="405.60" rx="9" ry="4.2" fill="#1038ff"/><ellipse cx="94.30" cy="405.40" rx="7" ry="3.1" fill="#1a80ff"/><ellipse cx="95.30" cy="405.30" rx="5.2" ry="2.2" fill="#00c8ff"/><ellipse cx="96.00" cy="405.20" rx="3" ry="1.2" fill="#60f0ff"/></g>
<g filter="url(#b6)" transform="rotate(-2 92.50 431.30)"><ellipse cx="92.50" cy="431.30" rx="12" ry="3.2" fill="#0a1cff"/><ellipse cx="95.50" cy="431.30" rx="8" ry="2.4" fill="#1a70ff"/><ellipse cx="97.50" cy="431.30" rx="5.2" ry="1.8" fill="#00c8ff"/><ellipse cx="98.50" cy="431.30" rx="2.6" ry="1.1" fill="#50f0d0"/></g>
<g filter="url(#b5)" transform="rotate(0 78.20 430.60)"><ellipse cx="78.20" cy="430.60" rx="3.2" ry="5.2" fill="#0a1cff"/><ellipse cx="78.20" cy="430.60" rx="2.6" ry="4.2" fill="#1a80ff"/><ellipse cx="78.20" cy="430.60" rx="2.2" ry="3.4" fill="#00c8ff"/><ellipse cx="78.20" cy="430.60" rx="1.7" ry="2.6" fill="#33e04a"/><ellipse cx="78.20" cy="430.60" rx="1.1" ry="1.6" fill="#f2e600"/><ellipse cx="78.20" cy="430.60" rx="0.55" ry="0.75" fill="#ff1a00"/></g>
<path d="M102.8 490.1h0.9v0.9h-0.9zM97.5 489.8h0.9v0.9h-0.9zM93.3 495.2h0.9v0.9h-0.9zM81.1 485.3h0.9v0.9h-0.9zM84.9 489.6h0.9v0.9h-0.9zM89.2 496.1h0.9v0.9h-0.9zM85.2 483.1h0.9v0.9h-0.9zM102.0 492.1h0.9v0.9h-0.9zM90.0 485.2h0.9v0.9h-0.9zM97.5 480.7h0.9v0.9h-0.9zM97.2 482.2h0.9v0.9h-0.9zM99.3 479.2h0.9v0.9h-0.9zM101.9 494.9h0.9v0.9h-0.9zM80.1 480.9h0.9v0.9h-0.9zM101.9 494.1h0.9v0.9h-0.9zM86.7 493.7h0.9v0.9h-0.9zM93.7 482.6h0.9v0.9h-0.9zM96.4 486.0h0.9v0.9h-0.9zM83.0 494.7h0.9v0.9h-0.9zM97.1 482.6h0.9v0.9h-0.9zM90.0 491.4h0.9v0.9h-0.9zM88.6 482.9h0.9v0.9h-0.9zM92.4 496.7h0.9v0.9h-0.9zM81.8 482.7h0.9v0.9h-0.9zM91.3 497.4h0.9v0.9h-0.9zM103.8 477.9h0.9v0.9h-0.9zM95.2 480.5h0.9v0.9h-0.9zM84.6 480.4h0.9v0.9h-0.9zM91.7 497.6h0.9v0.9h-0.9zM103.2 485.0h0.9v0.9h-0.9zM101.5 491.5h0.9v0.9h-0.9zM81.3 495.7h0.9v0.9h-0.9zM86.2 497.3h0.9v0.9h-0.9zM82.7 495.7h0.9v0.9h-0.9zM92.1 488.0h0.9v0.9h-0.9zM84.0 487.5h0.9v0.9h-0.9zM98.1 488.8h0.9v0.9h-0.9zM103.5 488.4h0.9v0.9h-0.9zM101.7 480.4h0.9v0.9h-0.9zM97.6 489.7h0.9v0.9h-0.9zM101.1 484.4h0.9v0.9h-0.9zM90.8 494.0h0.9v0.9h-0.9zM85.8 485.1h0.9v0.9h-0.9zM100.2 490.7h0.9v0.9h-0.9zM91.5 478.0h0.9v0.9h-0.9zM98.2 486.0h0.9v0.9h-0.9zM85.3 485.4h0.9v0.9h-0.9zM82.9 494.5h0.9v0.9h-0.9zM99.0 497.0h0.9v0.9h-0.9zM96.0 480.9h0.9v0.9h-0.9zM89.9 497.6h0.9v0.9h-0.9zM79.5 484.5h0.9v0.9h-0.9zM83.2 481.1h0.9v0.9h-0.9zM86.2 490.1h0.9v0.9h-0.9zM81.1 495.0h0.9v0.9h-0.9zM90.0 481.2h0.9v0.9h-0.9zM82.0 488.2h0.9v0.9h-0.9zM88.1 487.7h0.9v0.9h-0.9zM82.1 484.8h0.9v0.9h-0.9zM91.9 479.4h0.9v0.9h-0.9zM91.8 494.5h0.9v0.9h-0.9zM94.0 480.3h0.9v0.9h-0.9zM95.0 479.4h0.9v0.9h-0.9zM83.0 477.9h0.9v0.9h-0.9zM92.5 481.3h0.9v0.9h-0.9zM86.3 480.1h0.9v0.9h-0.9zM101.4 480.6h0.9v0.9h-0.9zM96.0 493.8h0.9v0.9h-0.9zM90.5 489.4h0.9v0.9h-0.9zM87.7 494.1h0.9v0.9h-0.9zM96.3 479.3h0.9v0.9h-0.9zM96.7 480.5h0.9v0.9h-0.9zM91.3 481.4h0.9v0.9h-0.9zM91.4 490.8h0.9v0.9h-0.9zM97.5 484.2h0.9v0.9h-0.9zM80.8 486.7h0.9v0.9h-0.9zM101.9 488.7h0.9v0.9h-0.9zM94.7 493.0h0.9v0.9h-0.9zM95.1 496.7h0.9v0.9h-0.9zM102.9 492.5h0.9v0.9h-0.9zM99.3 480.5h0.9v0.9h-0.9zM86.0 491.9h0.9v0.9h-0.9zM93.7 494.9h0.9v0.9h-0.9zM98.5 484.3h0.9v0.9h-0.9zM83.7 490.9h0.9v0.9h-0.9zM82.2 487.6h0.9v0.9h-0.9zM86.3 485.7h0.9v0.9h-0.9zM95.5 490.4h0.9v0.9h-0.9zM94.6 478.9h0.9v0.9h-0.9zM101.4 491.8h0.9v0.9h-0.9zM101.7 490.0h0.9v0.9h-0.9zM95.3 495.5h0.9v0.9h-0.9zM97.8 490.4h0.9v0.9h-0.9zM80.5 478.2h0.9v0.9h-0.9zM97.1 494.6h0.9v0.9h-0.9zM89.0 481.9h0.9v0.9h-0.9zM90.3 494.5h0.9v0.9h-0.9zM98.0 480.3h0.9v0.9h-0.9zM84.4 481.9h0.9v0.9h-0.9zM97.8 482.7h0.9v0.9h-0.9zM101.3 485.9h0.9v0.9h-0.9zM84.2 486.0h0.9v0.9h-0.9zM82.9 495.3h0.9v0.9h-0.9zM80.1 486.0h0.9v0.9h-0.9zM88.8 478.5h0.9v0.9h-0.9zM84.9 497.5h0.9v0.9h-0.9zM100.5 486.1h0.9v0.9h-0.9zM100.9 495.9h0.9v0.9h-0.9zM100.5 492.2h0.9v0.9h-0.9zM93.4 487.9h0.9v0.9h-0.9zM97.1 489.7h0.9v0.9h-0.9zM103.3 481.3h0.9v0.9h-0.9zM101.5 492.8h0.9v0.9h-0.9zM90.3 494.7h0.9v0.9h-0.9zM86.5 485.5h0.9v0.9h-0.9zM93.6 497.1h0.9v0.9h-0.9zM85.4 494.6h0.9v0.9h-0.9zM95.6 496.1h0.9v0.9h-0.9zM86.8 491.0h0.9v0.9h-0.9zM101.3 495.4h0.9v0.9h-0.9zM96.6 494.5h0.9v0.9h-0.9zM95.0 488.8h0.9v0.9h-0.9zM84.2 488.1h0.9v0.9h-0.9zM103.4 496.6h0.9v0.9h-0.9zM80.5 483.8h0.9v0.9h-0.9zM85.4 494.5h0.9v0.9h-0.9zM84.0 493.0h0.9v0.9h-0.9zM84.3 484.5h0.9v0.9h-0.9zM103.3 480.2h0.9v0.9h-0.9zM93.8 483.2h0.9v0.9h-0.9zM98.0 479.0h0.9v0.9h-0.9zM96.1 482.9h0.9v0.9h-0.9zM103.0 484.3h0.9v0.9h-0.9zM95.9 478.3h0.9v0.9h-0.9zM102.5 490.4h0.9v0.9h-0.9zM101.9 492.6h0.9v0.9h-0.9zM81.0 492.6h0.9v0.9h-0.9zM88.8 481.7h0.9v0.9h-0.9zM101.3 491.0h0.9v0.9h-0.9zM88.1 479.1h0.9v0.9h-0.9zM95.4 478.9h0.9v0.9h-0.9zM85.4 478.7h0.9v0.9h-0.9zM83.7 492.7h0.9v0.9h-0.9zM86.1 497.4h0.9v0.9h-0.9zM86.3 493.7h0.9v0.9h-0.9zM97.5 490.6h0.9v0.9h-0.9zM94.3 480.5h0.9v0.9h-0.9zM99.8 496.2h0.9v0.9h-0.9zM92.5 481.4h0.9v0.9h-0.9zM81.6 482.8h0.9v0.9h-0.9zM103.3 484.0h0.9v0.9h-0.9zM86.4 488.2h0.9v0.9h-0.9zM80.3 493.5h0.9v0.9h-0.9zM98.6 483.9h0.9v0.9h-0.9zM80.2 495.7h0.9v0.9h-0.9zM99.3 493.0h0.9v0.9h-0.9zM84.7 496.8h0.9v0.9h-0.9zM95.2 478.3h0.9v0.9h-0.9zM103.5 491.7h0.9v0.9h-0.9zM84.0 495.5h0.9v0.9h-0.9zM94.1 490.4h0.9v0.9h-0.9zM80.2 482.0h0.9v0.9h-0.9zM98.9 478.0h0.9v0.9h-0.9zM84.2 479.1h0.9v0.9h-0.9zM93.8 480.5h0.9v0.9h-0.9zM98.7 486.7h0.9v0.9h-0.9zM98.7 496.0h0.9v0.9h-0.9zM103.3 481.5h0.9v0.9h-0.9zM88.4 493.6h0.9v0.9h-0.9zM87.6 496.5h0.9v0.9h-0.9zM87.7 490.2h0.9v0.9h-0.9zM85.8 492.2h0.9v0.9h-0.9zM86.4 486.1h0.9v0.9h-0.9zM97.2 494.3h0.9v0.9h-0.9zM82.9 481.2h0.9v0.9h-0.9zM84.7 493.0h0.9v0.9h-0.9zM96.0 492.0h0.9v0.9h-0.9zM99.3 482.4h0.9v0.9h-0.9zM91.7 477.8h0.9v0.9h-0.9zM88.1 489.7h0.9v0.9h-0.9zM85.9 493.6h0.9v0.9h-0.9zM84.7 486.5h0.9v0.9h-0.9zM96.3 482.1h0.9v0.9h-0.9zM95.8 485.7h0.9v0.9h-0.9zM80.7 479.8h0.9v0.9h-0.9zM95.5 494.2h0.9v0.9h-0.9zM96.2 495.0h0.9v0.9h-0.9zM95.8 493.3h0.9v0.9h-0.9zM100.0 489.6h0.9v0.9h-0.9zM92.5 480.9h0.9v0.9h-0.9zM85.3 479.4h0.9v0.9h-0.9zM82.2 485.5h0.9v0.9h-0.9zM86.7 489.0h0.9v0.9h-0.9zM99.8 483.1h0.9v0.9h-0.9zM101.4 494.4h0.9v0.9h-0.9zM84.2 489.5h0.9v0.9h-0.9zM84.3 479.0h0.9v0.9h-0.9zM84.9 481.8h0.9v0.9h-0.9zM79.7 478.2h0.9v0.9h-0.9zM99.3 495.0h0.9v0.9h-0.9zM100.7 479.2h0.9v0.9h-0.9zM80.1 494.8h0.9v0.9h-0.9zM88.7 484.6h0.9v0.9h-0.9zM96.7 488.3h0.9v0.9h-0.9zM87.6 480.7h0.9v0.9h-0.9zM82.3 491.9h0.9v0.9h-0.9zM101.7 478.5h0.9v0.9h-0.9zM85.0 488.2h0.9v0.9h-0.9zM86.0 487.5h0.9v0.9h-0.9zM91.8 483.0h0.9v0.9h-0.9zM82.4 486.1h0.9v0.9h-0.9zM99.4 480.5h0.9v0.9h-0.9zM92.7 493.9h0.9v0.9h-0.9zM93.5 484.6h0.9v0.9h-0.9zM102.2 493.3h0.9v0.9h-0.9zM103.9 483.7h0.9v0.9h-0.9zM91.4 486.7h0.9v0.9h-0.9zM100.1 490.1h0.9v0.9h-0.9zM93.0 488.0h0.9v0.9h-0.9zM101.3 484.8h0.9v0.9h-0.9zM82.7 481.2h0.9v0.9h-0.9zM85.5 479.6h0.9v0.9h-0.9zM103.4 488.8h0.9v0.9h-0.9zM99.0 486.8h0.9v0.9h-0.9zM92.3 482.2h0.9v0.9h-0.9zM101.3 486.1h0.9v0.9h-0.9zM89.4 492.5h0.9v0.9h-0.9zM100.8 497.6h0.9v0.9h-0.9zM91.3 486.2h0.9v0.9h-0.9zM99.7 486.2h0.9v0.9h-0.9zM84.5 487.3h0.9v0.9h-0.9zM87.0 482.9h0.9v0.9h-0.9zM98.4 484.7h0.9v0.9h-0.9zM94.8 483.8h0.9v0.9h-0.9zM82.3 493.3h0.9v0.9h-0.9zM98.5 491.8h0.9v0.9h-0.9zM94.4 481.2h0.9v0.9h-0.9zM91.8 494.4h0.9v0.9h-0.9zM98.7 489.5h0.9v0.9h-0.9zM95.0 481.1h0.9v0.9h-0.9zM80.9 494.6h0.9v0.9h-0.9zM79.9 482.8h0.9v0.9h-0.9zM89.3 491.7h0.9v0.9h-0.9zM96.6 495.0h0.9v0.9h-0.9zM102.3 483.1h0.9v0.9h-0.9zM85.6 480.1h0.9v0.9h-0.9zM87.6 479.8h0.9v0.9h-0.9zM103.0 489.2h0.9v0.9h-0.9zM91.5 478.8h0.9v0.9h-0.9zM101.8 482.6h0.9v0.9h-0.9zM98.4 481.8h0.9v0.9h-0.9zM86.1 480.4h0.9v0.9h-0.9zM92.6 483.4h0.9v0.9h-0.9zM93.5 492.0h0.9v0.9h-0.9zM85.0 480.3h0.9v0.9h-0.9zM92.1 485.7h0.9v0.9h-0.9zM90.4 485.1h0.9v0.9h-0.9zM83.5 480.2h0.9v0.9h-0.9zM97.3 490.4h0.9v0.9h-0.9zM96.4 490.5h0.9v0.9h-0.9zM92.1 481.6h0.9v0.9h-0.9zM101.9 488.4h0.9v0.9h-0.9zM90.7 482.9h0.9v0.9h-0.9zM88.7 497.3h0.9v0.9h-0.9zM89.5 493.8h0.9v0.9h-0.9zM82.5 489.7h0.9v0.9h-0.9zM86.2 482.4h0.9v0.9h-0.9zM86.9 485.6h0.9v0.9h-0.9zM95.3 485.8h0.9v0.9h-0.9zM100.6 480.8h0.9v0.9h-0.9zM100.5 486.4h0.9v0.9h-0.9zM98.9 485.6h0.9v0.9h-0.9zM85.8 495.6h0.9v0.9h-0.9zM95.1 492.1h0.9v0.9h-0.9zM92.3 491.9h0.9v0.9h-0.9zM102.9 492.5h0.9v0.9h-0.9zM103.2 484.7h0.9v0.9h-0.9zM86.8 495.4h0.9v0.9h-0.9zM99.9 495.5h0.9v0.9h-0.9zM90.2 486.0h0.9v0.9h-0.9zM102.7 481.8h0.9v0.9h-0.9zM83.6 481.1h0.9v0.9h-0.9zM86.9 486.1h0.9v0.9h-0.9zM88.9 486.9h0.9v0.9h-0.9zM80.4 484.5h0.9v0.9h-0.9zM91.9 478.8h0.9v0.9h-0.9zM91.3 495.8h0.9v0.9h-0.9zM95.5 496.6h0.9v0.9h-0.9zM100.6 487.6h0.9v0.9h-0.9zM80.0 478.9h0.9v0.9h-0.9zM93.6 494.6h0.9v0.9h-0.9zM87.6 480.3h0.9v0.9h-0.9zM98.1 488.5h0.9v0.9h-0.9zM91.0 480.3h0.9v0.9h-0.9zM93.1 489.2h0.9v0.9h-0.9zM96.9 495.7h0.9v0.9h-0.9zM81.4 494.3h0.9v0.9h-0.9zM87.4 486.0h0.9v0.9h-0.9zM87.9 493.9h0.9v0.9h-0.9zM90.3 479.1h0.9v0.9h-0.9zM91.1 480.7h0.9v0.9h-0.9zM79.9 478.7h0.9v0.9h-0.9zM88.8 486.7h0.9v0.9h-0.9zM79.5 480.4h0.9v0.9h-0.9zM101.6 488.6h0.9v0.9h-0.9zM103.5 488.5h0.9v0.9h-0.9zM102.9 491.5h0.9v0.9h-0.9zM89.0 478.7h0.9v0.9h-0.9zM83.1 493.5h0.9v0.9h-0.9zM95.7 483.6h0.9v0.9h-0.9zM83.5 490.5h0.9v0.9h-0.9zM102.3 482.7h0.9v0.9h-0.9zM103.9 488.4h0.9v0.9h-0.9zM84.6 481.3h0.9v0.9h-0.9zM96.9 496.3h0.9v0.9h-0.9zM84.5 482.5h0.9v0.9h-0.9zM83.0 481.9h0.9v0.9h-0.9zM85.0 486.0h0.9v0.9h-0.9zM85.3 491.0h0.9v0.9h-0.9zM85.4 483.0h0.9v0.9h-0.9zM89.8 481.1h0.9v0.9h-0.9zM80.8 479.5h0.9v0.9h-0.9zM79.6 491.2h0.9v0.9h-0.9zM80.7 487.3h0.9v0.9h-0.9zM101.3 490.0h0.9v0.9h-0.9zM87.0 485.7h0.9v0.9h-0.9zM90.0 484.1h0.9v0.9h-0.9zM80.8 480.8h0.9v0.9h-0.9zM83.0 481.9h0.9v0.9h-0.9zM87.6 479.8h0.9v0.9h-0.9zM94.6 481.7h0.9v0.9h-0.9zM92.0 491.6h0.9v0.9h-0.9zM91.7 492.5h0.9v0.9h-0.9zM98.6 486.7h0.9v0.9h-0.9zM84.7 478.6h0.9v0.9h-0.9zM96.5 485.1h0.9v0.9h-0.9zM86.6 479.4h0.9v0.9h-0.9zM83.9 495.5h0.9v0.9h-0.9zM91.1 494.6h0.9v0.9h-0.9zM100.2 482.7h0.9v0.9h-0.9zM85.0 495.4h0.9v0.9h-0.9zM85.3 489.7h0.9v0.9h-0.9zM102.4 487.0h0.9v0.9h-0.9zM89.9 496.8h0.9v0.9h-0.9zM100.6 496.2h0.9v0.9h-0.9zM96.8 482.2h0.9v0.9h-0.9zM80.7 478.1h0.9v0.9h-0.9zM102.1 488.6h0.9v0.9h-0.9zM101.1 496.9h0.9v0.9h-0.9zM85.3 497.1h0.9v0.9h-0.9zM86.2 481.3h0.9v0.9h-0.9zM86.2 497.6h0.9v0.9h-0.9zM102.5 484.7h0.9v0.9h-0.9zM91.3 494.2h0.9v0.9h-0.9zM99.2 495.6h0.9v0.9h-0.9zM88.4 482.3h0.9v0.9h-0.9zM92.1 496.4h0.9v0.9h-0.9zM94.5 495.1h0.9v0.9h-0.9zM84.3 487.8h0.9v0.9h-0.9zM102.0 489.1h0.9v0.9h-0.9zM98.9 493.9h0.9v0.9h-0.9zM90.3 491.5h0.9v0.9h-0.9zM96.5 486.5h0.9v0.9h-0.9zM92.2 493.9h0.9v0.9h-0.9zM101.1 497.4h0.9v0.9h-0.9zM88.5 491.2h0.9v0.9h-0.9zM93.0 494.7h0.9v0.9h-0.9zM85.4 487.0h0.9v0.9h-0.9zM85.8 493.8h0.9v0.9h-0.9zM96.9 477.8h0.9v0.9h-0.9zM82.2 480.5h0.9v0.9h-0.9zM94.0 493.2h0.9v0.9h-0.9zM87.9 479.3h0.9v0.9h-0.9zM93.8 490.0h0.9v0.9h-0.9zM90.0 483.1h0.9v0.9h-0.9zM88.0 482.3h0.9v0.9h-0.9zM99.4 485.3h0.9v0.9h-0.9zM97.0 488.7h0.9v0.9h-0.9zM85.1 483.3h0.9v0.9h-0.9zM95.9 495.0h0.9v0.9h-0.9zM102.0 480.8h0.9v0.9h-0.9zM85.9 479.7h0.9v0.9h-0.9zM84.1 485.4h0.9v0.9h-0.9zM97.1 496.0h0.9v0.9h-0.9zM94.0 480.6h0.9v0.9h-0.9zM88.7 480.6h0.9v0.9h-0.9zM86.3 489.2h0.9v0.9h-0.9zM91.8 481.1h0.9v0.9h-0.9zM86.3 495.6h0.9v0.9h-0.9zM94.9 489.7h0.9v0.9h-0.9zM87.4 483.7h0.9v0.9h-0.9zM98.2 478.0h0.9v0.9h-0.9zM95.5 496.8h0.9v0.9h-0.9zM95.1 478.7h0.9v0.9h-0.9zM80.3 493.4h0.9v0.9h-0.9zM84.0 486.1h0.9v0.9h-0.9zM95.5 491.2h0.9v0.9h-0.9zM86.6 491.3h0.9v0.9h-0.9zM101.9 487.1h0.9v0.9h-0.9zM89.2 491.4h0.9v0.9h-0.9zM100.9 491.4h0.9v0.9h-0.9zM102.2 493.3h0.9v0.9h-0.9zM102.9 482.7h0.9v0.9h-0.9zM96.0 481.9h0.9v0.9h-0.9zM82.4 484.5h0.9v0.9h-0.9zM102.7 483.6h0.9v0.9h-0.9zM87.1 496.2h0.9v0.9h-0.9zM103.6 492.8h0.9v0.9h-0.9zM88.1 494.2h0.9v0.9h-0.9zM81.1 477.9h0.9v0.9h-0.9zM81.0 484.4h0.9v0.9h-0.9zM85.4 494.9h0.9v0.9h-0.9zM90.4 494.7h0.9v0.9h-0.9zM91.5 485.1h0.9v0.9h-0.9zM87.8 478.6h0.9v0.9h-0.9zM90.6 496.7h0.9v0.9h-0.9zM103.3 496.3h0.9v0.9h-0.9zM81.9 486.5h0.9v0.9h-0.9zM99.9 480.8h0.9v0.9h-0.9zM81.1 481.8h0.9v0.9h-0.9zM81.6 492.5h0.9v0.9h-0.9zM97.0 497.5h0.9v0.9h-0.9zM80.7 491.8h0.9v0.9h-0.9zM98.9 481.3h0.9v0.9h-0.9zM81.4 497.3h0.9v0.9h-0.9zM98.9 479.1h0.9v0.9h-0.9zM84.1 490.9h0.9v0.9h-0.9zM83.7 486.4h0.9v0.9h-0.9zM83.2 479.5h0.9v0.9h-0.9zM91.4 488.6h0.9v0.9h-0.9zM100.3 477.8h0.9v0.9h-0.9zM88.2 479.1h0.9v0.9h-0.9zM93.0 481.0h0.9v0.9h-0.9zM87.6 497.1h0.9v0.9h-0.9zM95.4 491.1h0.9v0.9h-0.9zM94.3 481.7h0.9v0.9h-0.9zM96.3 497.1h0.9v0.9h-0.9zM81.7 494.5h0.9v0.9h-0.9zM87.9 481.7h0.9v0.9h-0.9zM95.6 494.7h0.9v0.9h-0.9zM83.6 481.6h0.9v0.9h-0.9zM91.8 481.8h0.9v0.9h-0.9zM91.9 497.5h0.9v0.9h-0.9zM80.1 486.3h0.9v0.9h-0.9zM84.5 481.0h0.9v0.9h-0.9zM93.9 496.6h0.9v0.9h-0.9zM91.0 488.9h0.9v0.9h-0.9zM96.6 494.9h0.9v0.9h-0.9zM103.2 484.4h0.9v0.9h-0.9zM83.8 496.0h0.9v0.9h-0.9zM94.3 495.4h0.9v0.9h-0.9zM83.1 493.5h0.9v0.9h-0.9zM82.4 480.3h0.9v0.9h-0.9zM82.5 484.9h0.9v0.9h-0.9zM89.7 490.9h0.9v0.9h-0.9zM102.5 486.3h0.9v0.9h-0.9zM93.7 485.9h0.9v0.9h-0.9zM88.9 483.0h0.9v0.9h-0.9zM79.6 482.8h0.9v0.9h-0.9zM97.2 493.7h0.9v0.9h-0.9zM96.3 486.5h0.9v0.9h-0.9zM89.6 481.5h0.9v0.9h-0.9zM85.4 497.7h0.9v0.9h-0.9zM93.9 485.8h0.9v0.9h-0.9zM92.6 487.6h0.9v0.9h-0.9zM86.7 486.1h0.9v0.9h-0.9zM90.0 495.7h0.9v0.9h-0.9zM101.3 483.5h0.9v0.9h-0.9zM90.7 482.1h0.9v0.9h-0.9zM102.8 480.4h0.9v0.9h-0.9zM91.3 477.9h0.9v0.9h-0.9zM90.8 486.9h0.9v0.9h-0.9zM79.9 480.7h0.9v0.9h-0.9zM91.7 487.2h0.9v0.9h-0.9zM86.9 478.8h0.9v0.9h-0.9zM87.4 484.7h0.9v0.9h-0.9zM82.0 489.7h0.9v0.9h-0.9zM84.9 488.3h0.9v0.9h-0.9zM96.9 478.0h0.9v0.9h-0.9zM91.7 490.4h0.9v0.9h-0.9zM101.4 491.5h0.9v0.9h-0.9zM100.0 491.0h0.9v0.9h-0.9zM85.0 494.0h0.9v0.9h-0.9zM98.0 487.4h0.9v0.9h-0.9zM102.2 478.7h0.9v0.9h-0.9zM101.7 484.8h0.9v0.9h-0.9zM92.8 493.6h0.9v0.9h-0.9zM83.6 487.6h0.9v0.9h-0.9zM79.9 478.4h0.9v0.9h-0.9zM102.9 482.1h0.9v0.9h-0.9zM90.0 480.1h0.9v0.9h-0.9zM102.3 487.8h0.9v0.9h-0.9zM100.5 483.1h0.9v0.9h-0.9zM90.8 482.6h0.9v0.9h-0.9zM93.9 491.8h0.9v0.9h-0.9zM93.5 489.4h0.9v0.9h-0.9zM87.1 496.7h0.9v0.9h-0.9zM80.0 481.0h0.9v0.9h-0.9zM95.9 497.2h0.9v0.9h-0.9zM100.3 482.6h0.9v0.9h-0.9zM102.6 486.8h0.9v0.9h-0.9zM93.5 490.6h0.9v0.9h-0.9zM94.6 495.3h0.9v0.9h-0.9zM101.5 484.0h0.9v0.9h-0.9zM101.4 484.0h0.9v0.9h-0.9zM96.3 480.9h0.9v0.9h-0.9zM95.1 483.7h0.9v0.9h-0.9zM103.9 491.0h0.9v0.9h-0.9zM89.0 496.9h0.9v0.9h-0.9zM82.3 492.6h0.9v0.9h-0.9zM95.4 478.0h0.9v0.9h-0.9zM90.8 480.0h0.9v0.9h-0.9zM104.0 479.7h0.9v0.9h-0.9zM95.1 488.6h0.9v0.9h-0.9zM82.6 496.4h0.9v0.9h-0.9zM93.6 490.1h0.9v0.9h-0.9zM86.0 480.8h0.9v0.9h-0.9zM87.5 478.4h0.9v0.9h-0.9zM84.4 487.6h0.9v0.9h-0.9zM89.1 492.9h0.9v0.9h-0.9zM83.0 481.8h0.9v0.9h-0.9zM92.3 491.4h0.9v0.9h-0.9zM87.2 481.8h0.9v0.9h-0.9zM82.6 485.0h0.9v0.9h-0.9zM88.8 493.6h0.9v0.9h-0.9zM85.4 484.5h0.9v0.9h-0.9zM97.8 481.8h0.9v0.9h-0.9zM80.4 497.1h0.9v0.9h-0.9zM101.9 484.0h0.9v0.9h-0.9zM86.4 486.9h0.9v0.9h-0.9zM84.7 493.4h0.9v0.9h-0.9zM101.2 491.9h0.9v0.9h-0.9zM89.3 494.5h0.9v0.9h-0.9zM102.4 481.4h0.9v0.9h-0.9zM95.9 481.2h0.9v0.9h-0.9zM103.7 493.6h0.9v0.9h-0.9zM89.5 492.5h0.9v0.9h-0.9zM86.7 479.0h0.9v0.9h-0.9zM92.1 479.2h0.9v0.9h-0.9zM90.7 494.8h0.9v0.9h-0.9zM93.6 483.0h0.9v0.9h-0.9zM84.7 488.9h0.9v0.9h-0.9zM92.0 495.8h0.9v0.9h-0.9zM83.7 487.0h0.9v0.9h-0.9zM90.5 485.2h0.9v0.9h-0.9zM84.1 485.4h0.9v0.9h-0.9zM92.8 481.6h0.9v0.9h-0.9zM87.4 488.2h0.9v0.9h-0.9zM102.5 487.4h0.9v0.9h-0.9zM88.0 478.4h0.9v0.9h-0.9zM92.2 484.6h0.9v0.9h-0.9zM82.3 487.2h0.9v0.9h-0.9zM94.6 484.7h0.9v0.9h-0.9zM97.5 490.3h0.9v0.9h-0.9zM81.0 478.7h0.9v0.9h-0.9zM92.4 489.8h0.9v0.9h-0.9zM93.1 482.3h0.9v0.9h-0.9zM87.9 492.1h0.9v0.9h-0.9zM89.2 488.3h0.9v0.9h-0.9zM85.1 490.3h0.9v0.9h-0.9zM91.2 477.8h0.9v0.9h-0.9zM98.0 493.8h0.9v0.9h-0.9zM103.7 496.5h0.9v0.9h-0.9zM96.7 487.0h0.9v0.9h-0.9zM86.0 491.8h0.9v0.9h-0.9zM89.8 484.2h0.9v0.9h-0.9zM82.4 489.8h0.9v0.9h-0.9zM96.9 493.1h0.9v0.9h-0.9zM83.2 481.8h0.9v0.9h-0.9zM95.1 480.3h0.9v0.9h-0.9zM101.2 496.2h0.9v0.9h-0.9zM95.0 482.9h0.9v0.9h-0.9zM93.3 493.0h0.9v0.9h-0.9zM88.0 490.7h0.9v0.9h-0.9zM94.2 495.9h0.9v0.9h-0.9zM98.5 491.1h0.9v0.9h-0.9zM92.9 495.5h0.9v0.9h-0.9zM94.3 491.5h0.9v0.9h-0.9zM87.1 479.8h0.9v0.9h-0.9zM93.2 482.1h0.9v0.9h-0.9zM103.3 482.1h0.9v0.9h-0.9zM101.4 484.4h0.9v0.9h-0.9zM84.2 489.2h0.9v0.9h-0.9zM87.4 497.6h0.9v0.9h-0.9zM94.6 479.7h0.9v0.9h-0.9zM87.1 479.9h0.9v0.9h-0.9zM91.6 488.3h0.9v0.9h-0.9zM87.2 491.2h0.9v0.9h-0.9zM90.4 494.1h0.9v0.9h-0.9zM96.1 482.9h0.9v0.9h-0.9zM99.8 478.3h0.9v0.9h-0.9zM85.3 478.3h0.9v0.9h-0.9zM102.8 488.4h0.9v0.9h-0.9zM100.1 497.5h0.9v0.9h-0.9zM81.7 495.7h0.9v0.9h-0.9zM80.0 491.7h0.9v0.9h-0.9zM98.9 485.4h0.9v0.9h-0.9zM101.3 493.0h0.9v0.9h-0.9zM91.7 483.3h0.9v0.9h-0.9zM83.4 479.2h0.9v0.9h-0.9z" fill="#1a2cff" fill-opacity="0.5"/>
<path d="M84.9 489.4h0.9v0.9h-0.9zM94.8 495.2h0.9v0.9h-0.9zM96.5 492.3h0.9v0.9h-0.9zM90.3 488.7h0.9v0.9h-0.9zM88.8 490.4h0.9v0.9h-0.9zM95.1 488.8h0.9v0.9h-0.9zM104.2 487.0h0.9v0.9h-0.9zM96.8 490.0h0.9v0.9h-0.9zM91.0 489.3h0.9v0.9h-0.9zM101.1 489.6h0.9v0.9h-0.9zM95.2 491.2h0.9v0.9h-0.9zM96.4 493.0h0.9v0.9h-0.9zM101.8 488.0h0.9v0.9h-0.9zM87.0 497.2h0.9v0.9h-0.9zM99.5 491.0h0.9v0.9h-0.9zM90.2 491.7h0.9v0.9h-0.9zM99.7 487.9h0.9v0.9h-0.9zM100.6 490.5h0.9v0.9h-0.9zM89.7 489.3h0.9v0.9h-0.9zM79.4 492.0h0.9v0.9h-0.9zM84.0 488.6h0.9v0.9h-0.9zM86.5 491.6h0.9v0.9h-0.9zM96.2 490.9h0.9v0.9h-0.9zM93.0 492.3h0.9v0.9h-0.9zM101.5 492.9h0.9v0.9h-0.9zM101.3 490.5h0.9v0.9h-0.9zM94.0 488.3h0.9v0.9h-0.9zM95.4 487.5h0.9v0.9h-0.9zM94.7 488.4h0.9v0.9h-0.9zM89.8 495.4h0.9v0.9h-0.9zM92.8 493.8h0.9v0.9h-0.9zM90.5 483.7h0.9v0.9h-0.9zM100.7 490.1h0.9v0.9h-0.9zM88.0 494.3h0.9v0.9h-0.9zM85.1 487.9h0.9v0.9h-0.9zM98.7 488.1h0.9v0.9h-0.9zM98.6 489.6h0.9v0.9h-0.9zM90.6 491.0h0.9v0.9h-0.9zM88.9 494.8h0.9v0.9h-0.9zM98.4 491.0h0.9v0.9h-0.9zM95.5 492.8h0.9v0.9h-0.9zM102.0 484.8h0.9v0.9h-0.9zM98.0 494.2h0.9v0.9h-0.9zM90.0 490.8h0.9v0.9h-0.9zM89.8 495.4h0.9v0.9h-0.9zM85.1 493.0h0.9v0.9h-0.9zM99.6 492.9h0.9v0.9h-0.9zM89.0 489.0h0.9v0.9h-0.9zM79.2 486.9h0.9v0.9h-0.9zM98.4 487.2h0.9v0.9h-0.9zM82.1 489.8h0.9v0.9h-0.9zM83.0 492.5h0.9v0.9h-0.9zM86.7 494.4h0.9v0.9h-0.9zM91.2 485.4h0.9v0.9h-0.9zM87.3 488.3h0.9v0.9h-0.9zM86.8 495.4h0.9v0.9h-0.9zM85.9 492.1h0.9v0.9h-0.9zM88.4 493.0h0.9v0.9h-0.9zM83.3 484.9h0.9v0.9h-0.9zM94.9 496.1h0.9v0.9h-0.9zM83.6 489.6h0.9v0.9h-0.9zM88.9 487.2h0.9v0.9h-0.9zM97.7 491.0h0.9v0.9h-0.9zM83.6 490.0h0.9v0.9h-0.9zM99.9 488.1h0.9v0.9h-0.9zM88.8 487.7h0.9v0.9h-0.9zM92.9 488.7h0.9v0.9h-0.9zM97.2 487.6h0.9v0.9h-0.9zM83.2 492.5h0.9v0.9h-0.9zM72.9 487.2h0.9v0.9h-0.9zM93.6 491.7h0.9v0.9h-0.9zM88.4 489.1h0.9v0.9h-0.9zM95.0 504.8h0.9v0.9h-0.9zM87.1 490.1h0.9v0.9h-0.9zM89.2 492.8h0.9v0.9h-0.9zM92.0 492.9h0.9v0.9h-0.9zM101.7 489.7h0.9v0.9h-0.9zM90.2 492.2h0.9v0.9h-0.9zM104.5 489.4h0.9v0.9h-0.9zM102.0 495.2h0.9v0.9h-0.9zM75.5 487.0h0.9v0.9h-0.9zM86.0 492.3h0.9v0.9h-0.9zM99.9 491.0h0.9v0.9h-0.9zM92.9 498.9h0.9v0.9h-0.9zM94.0 498.9h0.9v0.9h-0.9zM86.5 497.0h0.9v0.9h-0.9zM88.9 481.6h0.9v0.9h-0.9zM86.9 489.0h0.9v0.9h-0.9zM91.6 493.6h0.9v0.9h-0.9zM96.0 492.7h0.9v0.9h-0.9zM87.4 497.5h0.9v0.9h-0.9zM99.1 490.9h0.9v0.9h-0.9zM88.5 490.6h0.9v0.9h-0.9zM90.6 488.1h0.9v0.9h-0.9zM91.8 488.3h0.9v0.9h-0.9zM95.8 488.3h0.9v0.9h-0.9zM94.8 492.0h0.9v0.9h-0.9zM92.9 492.7h0.9v0.9h-0.9zM85.8 500.5h0.9v0.9h-0.9zM87.8 493.5h0.9v0.9h-0.9zM92.0 489.1h0.9v0.9h-0.9zM102.3 494.9h0.9v0.9h-0.9zM90.3 492.9h0.9v0.9h-0.9zM96.0 496.7h0.9v0.9h-0.9zM98.0 490.1h0.9v0.9h-0.9zM90.4 486.4h0.9v0.9h-0.9zM93.5 494.0h0.9v0.9h-0.9zM89.6 493.3h0.9v0.9h-0.9zM92.7 489.0h0.9v0.9h-0.9zM84.6 495.0h0.9v0.9h-0.9zM107.1 492.8h0.9v0.9h-0.9zM85.5 486.9h0.9v0.9h-0.9zM93.4 493.2h0.9v0.9h-0.9zM101.0 481.6h0.9v0.9h-0.9zM103.0 491.4h0.9v0.9h-0.9zM92.7 492.2h0.9v0.9h-0.9zM89.8 489.7h0.9v0.9h-0.9zM98.2 484.2h0.9v0.9h-0.9zM91.2 492.9h0.9v0.9h-0.9zM82.1 490.2h0.9v0.9h-0.9zM101.1 492.2h0.9v0.9h-0.9zM96.2 493.4h0.9v0.9h-0.9zM93.3 492.1h0.9v0.9h-0.9zM87.1 490.0h0.9v0.9h-0.9zM103.0 486.1h0.9v0.9h-0.9zM90.9 486.0h0.9v0.9h-0.9zM88.7 487.8h0.9v0.9h-0.9zM84.6 491.7h0.9v0.9h-0.9zM86.3 492.8h0.9v0.9h-0.9zM102.8 481.1h0.9v0.9h-0.9zM90.9 482.8h0.9v0.9h-0.9zM91.2 492.2h0.9v0.9h-0.9zM93.2 495.3h0.9v0.9h-0.9zM92.9 484.2h0.9v0.9h-0.9zM101.0 487.2h0.9v0.9h-0.9zM91.4 492.0h0.9v0.9h-0.9zM86.7 491.1h0.9v0.9h-0.9zM100.9 484.4h0.9v0.9h-0.9zM82.0 489.1h0.9v0.9h-0.9zM90.9 485.9h0.9v0.9h-0.9zM78.1 494.2h0.9v0.9h-0.9zM94.3 485.7h0.9v0.9h-0.9zM95.4 490.5h0.9v0.9h-0.9zM92.9 485.7h0.9v0.9h-0.9zM90.6 492.6h0.9v0.9h-0.9zM81.4 486.8h0.9v0.9h-0.9zM97.8 498.3h0.9v0.9h-0.9zM95.9 490.5h0.9v0.9h-0.9zM85.5 489.2h0.9v0.9h-0.9zM90.4 492.4h0.9v0.9h-0.9zM90.4 500.2h0.9v0.9h-0.9zM99.9 482.4h0.9v0.9h-0.9zM84.9 490.7h0.9v0.9h-0.9zM97.9 492.3h0.9v0.9h-0.9zM75.4 484.5h0.9v0.9h-0.9zM100.1 493.0h0.9v0.9h-0.9zM107.3 493.8h0.9v0.9h-0.9zM94.7 496.6h0.9v0.9h-0.9zM89.3 488.7h0.9v0.9h-0.9zM85.9 491.7h0.9v0.9h-0.9zM94.6 494.3h0.9v0.9h-0.9zM100.7 493.1h0.9v0.9h-0.9zM99.4 489.8h0.9v0.9h-0.9zM86.2 493.5h0.9v0.9h-0.9zM98.1 495.9h0.9v0.9h-0.9zM91.0 489.0h0.9v0.9h-0.9zM89.8 492.1h0.9v0.9h-0.9zM91.7 490.0h0.9v0.9h-0.9zM93.5 489.6h0.9v0.9h-0.9zM94.0 488.5h0.9v0.9h-0.9zM82.7 489.6h0.9v0.9h-0.9zM103.3 487.6h0.9v0.9h-0.9zM97.5 495.9h0.9v0.9h-0.9zM88.7 491.7h0.9v0.9h-0.9zM78.3 492.9h0.9v0.9h-0.9zM101.2 491.5h0.9v0.9h-0.9zM80.0 488.5h0.9v0.9h-0.9zM87.5 491.2h0.9v0.9h-0.9zM93.7 489.2h0.9v0.9h-0.9zM90.1 487.6h0.9v0.9h-0.9zM95.4 491.5h0.9v0.9h-0.9zM94.1 488.8h0.9v0.9h-0.9zM95.0 489.6h0.9v0.9h-0.9zM93.8 490.1h0.9v0.9h-0.9zM88.0 486.5h0.9v0.9h-0.9zM80.8 485.5h0.9v0.9h-0.9zM94.8 503.2h0.9v0.9h-0.9zM82.1 487.6h0.9v0.9h-0.9zM91.9 504.4h0.9v0.9h-0.9zM90.8 486.3h0.9v0.9h-0.9zM94.5 498.7h0.9v0.9h-0.9zM75.2 486.2h0.9v0.9h-0.9zM99.4 486.3h0.9v0.9h-0.9zM91.4 488.3h0.9v0.9h-0.9zM96.6 485.1h0.9v0.9h-0.9zM93.9 491.6h0.9v0.9h-0.9zM95.4 492.4h0.9v0.9h-0.9zM92.9 483.9h0.9v0.9h-0.9zM90.0 487.1h0.9v0.9h-0.9zM95.2 489.8h0.9v0.9h-0.9zM92.9 495.0h0.9v0.9h-0.9zM91.3 497.2h0.9v0.9h-0.9zM97.0 485.0h0.9v0.9h-0.9zM88.5 495.4h0.9v0.9h-0.9zM89.0 495.3h0.9v0.9h-0.9zM88.6 490.3h0.9v0.9h-0.9zM98.2 484.6h0.9v0.9h-0.9zM92.5 489.0h0.9v0.9h-0.9zM93.0 497.3h0.9v0.9h-0.9zM94.9 485.5h0.9v0.9h-0.9zM97.8 489.0h0.9v0.9h-0.9zM93.0 495.2h0.9v0.9h-0.9zM90.1 494.4h0.9v0.9h-0.9zM93.1 487.2h0.9v0.9h-0.9zM90.1 485.5h0.9v0.9h-0.9zM99.1 491.3h0.9v0.9h-0.9zM97.8 486.4h0.9v0.9h-0.9zM97.1 486.1h0.9v0.9h-0.9zM93.7 490.7h0.9v0.9h-0.9zM88.4 491.9h0.9v0.9h-0.9zM92.2 487.4h0.9v0.9h-0.9zM87.5 485.7h0.9v0.9h-0.9zM100.2 491.3h0.9v0.9h-0.9zM89.8 493.4h0.9v0.9h-0.9zM86.8 486.2h0.9v0.9h-0.9zM94.1 496.8h0.9v0.9h-0.9zM93.8 491.3h0.9v0.9h-0.9zM102.5 484.7h0.9v0.9h-0.9zM110.4 486.5h0.9v0.9h-0.9zM91.6 485.5h0.9v0.9h-0.9zM84.7 489.8h0.9v0.9h-0.9zM106.7 487.1h0.9v0.9h-0.9zM88.3 491.8h0.9v0.9h-0.9zM85.9 489.7h0.9v0.9h-0.9zM96.9 482.3h0.9v0.9h-0.9zM90.2 489.6h0.9v0.9h-0.9zM88.9 490.3h0.9v0.9h-0.9zM81.2 489.0h0.9v0.9h-0.9zM88.9 486.7h0.9v0.9h-0.9zM99.6 498.5h0.9v0.9h-0.9zM96.8 487.4h0.9v0.9h-0.9zM100.5 492.6h0.9v0.9h-0.9zM87.1 493.0h0.9v0.9h-0.9zM88.5 492.9h0.9v0.9h-0.9zM97.5 495.2h0.9v0.9h-0.9zM85.7 490.2h0.9v0.9h-0.9zM92.0 486.0h0.9v0.9h-0.9zM94.5 493.4h0.9v0.9h-0.9zM83.7 488.6h0.9v0.9h-0.9zM85.4 485.8h0.9v0.9h-0.9zM85.6 496.0h0.9v0.9h-0.9zM88.0 489.2h0.9v0.9h-0.9zM97.9 494.7h0.9v0.9h-0.9zM100.4 482.7h0.9v0.9h-0.9zM96.5 483.9h0.9v0.9h-0.9zM88.2 489.1h0.9v0.9h-0.9zM88.6 498.3h0.9v0.9h-0.9zM91.0 495.3h0.9v0.9h-0.9zM90.9 490.5h0.9v0.9h-0.9zM95.1 492.4h0.9v0.9h-0.9zM95.0 484.0h0.9v0.9h-0.9zM95.0 491.9h0.9v0.9h-0.9zM95.6 490.5h0.9v0.9h-0.9zM94.5 485.6h0.9v0.9h-0.9zM98.8 486.0h0.9v0.9h-0.9zM100.4 494.6h0.9v0.9h-0.9zM91.6 489.6h0.9v0.9h-0.9zM96.7 489.5h0.9v0.9h-0.9zM84.9 491.8h0.9v0.9h-0.9zM84.7 488.9h0.9v0.9h-0.9zM102.8 493.8h0.9v0.9h-0.9zM89.3 490.4h0.9v0.9h-0.9zM88.1 490.7h0.9v0.9h-0.9zM83.3 493.4h0.9v0.9h-0.9zM92.1 488.3h0.9v0.9h-0.9zM88.3 500.9h0.9v0.9h-0.9zM89.3 488.8h0.9v0.9h-0.9zM88.5 488.8h0.9v0.9h-0.9zM99.9 493.3h0.9v0.9h-0.9zM94.5 492.1h0.9v0.9h-0.9zM85.2 481.3h0.9v0.9h-0.9zM101.1 493.5h0.9v0.9h-0.9zM93.3 491.8h0.9v0.9h-0.9zM93.2 490.8h0.9v0.9h-0.9zM90.4 482.0h0.9v0.9h-0.9zM95.4 490.9h0.9v0.9h-0.9zM97.9 491.9h0.9v0.9h-0.9zM90.3 493.0h0.9v0.9h-0.9zM93.1 489.0h0.9v0.9h-0.9zM89.7 489.1h0.9v0.9h-0.9zM90.2 489.0h0.9v0.9h-0.9zM97.9 502.1h0.9v0.9h-0.9zM91.3 495.1h0.9v0.9h-0.9zM80.2 478.1h0.9v0.9h-0.9zM89.2 490.1h0.9v0.9h-0.9zM87.5 485.4h0.9v0.9h-0.9zM86.9 488.7h0.9v0.9h-0.9zM92.9 489.4h0.9v0.9h-0.9zM84.8 489.3h0.9v0.9h-0.9zM101.1 487.3h0.9v0.9h-0.9z" fill="#1a2cff" fill-opacity="0.5"/>
<path d="M90.7 494.5h0.9v0.9h-0.9zM81.1 480.7h0.9v0.9h-0.9zM121.8 496.5h0.9v0.9h-0.9zM84.2 487.1h0.9v0.9h-0.9zM91.1 487.0h0.9v0.9h-0.9zM95.1 483.1h0.9v0.9h-0.9zM65.6 477.3h0.9v0.9h-0.9zM91.7 473.7h0.9v0.9h-0.9zM86.4 498.9h0.9v0.9h-0.9zM92.6 480.0h0.9v0.9h-0.9zM91.5 494.9h0.9v0.9h-0.9zM71.2 474.8h0.9v0.9h-0.9zM82.7 481.9h0.9v0.9h-0.9zM89.0 480.6h0.9v0.9h-0.9zM91.2 486.5h0.9v0.9h-0.9zM77.2 480.2h0.9v0.9h-0.9zM76.4 488.2h0.9v0.9h-0.9zM92.9 491.4h0.9v0.9h-0.9zM80.4 481.0h0.9v0.9h-0.9zM65.6 485.8h0.9v0.9h-0.9zM72.2 488.7h0.9v0.9h-0.9zM101.9 489.6h0.9v0.9h-0.9zM96.9 487.7h0.9v0.9h-0.9zM94.1 493.9h0.9v0.9h-0.9zM103.9 503.4h0.9v0.9h-0.9zM87.1 493.0h0.9v0.9h-0.9zM99.5 489.4h0.9v0.9h-0.9zM92.9 474.6h0.9v0.9h-0.9zM102.0 478.0h0.9v0.9h-0.9zM82.8 478.2h0.9v0.9h-0.9zM96.1 477.2h0.9v0.9h-0.9zM95.0 490.6h0.9v0.9h-0.9zM91.1 482.7h0.9v0.9h-0.9zM96.5 497.2h0.9v0.9h-0.9zM84.9 476.5h0.9v0.9h-0.9zM83.4 478.0h0.9v0.9h-0.9zM87.4 484.3h0.9v0.9h-0.9zM64.7 498.5h0.9v0.9h-0.9zM81.1 482.0h0.9v0.9h-0.9zM68.5 468.5h0.9v0.9h-0.9zM78.9 487.7h0.9v0.9h-0.9zM99.3 469.9h0.9v0.9h-0.9zM92.4 498.9h0.9v0.9h-0.9zM86.9 493.7h0.9v0.9h-0.9zM93.4 477.6h0.9v0.9h-0.9zM100.9 480.4h0.9v0.9h-0.9zM93.9 482.2h0.9v0.9h-0.9zM87.6 487.0h0.9v0.9h-0.9zM104.5 471.0h0.9v0.9h-0.9zM77.7 486.6h0.9v0.9h-0.9zM100.7 484.1h0.9v0.9h-0.9zM87.9 490.3h0.9v0.9h-0.9zM107.3 477.8h0.9v0.9h-0.9zM72.5 483.2h0.9v0.9h-0.9zM98.4 474.2h0.9v0.9h-0.9zM102.4 493.9h0.9v0.9h-0.9zM98.7 478.3h0.9v0.9h-0.9zM75.8 491.4h0.9v0.9h-0.9zM92.9 491.7h0.9v0.9h-0.9zM75.2 459.9h0.9v0.9h-0.9zM102.3 494.4h0.9v0.9h-0.9zM87.0 485.6h0.9v0.9h-0.9zM95.0 492.2h0.9v0.9h-0.9zM87.9 481.2h0.9v0.9h-0.9zM79.3 494.6h0.9v0.9h-0.9zM91.1 456.0h0.9v0.9h-0.9zM93.8 480.7h0.9v0.9h-0.9zM76.0 481.2h0.9v0.9h-0.9zM76.0 481.8h0.9v0.9h-0.9zM84.0 490.2h0.9v0.9h-0.9z" fill="#4050ff" fill-opacity="0.4"/>
<path d="M79.0 493.4h0.9v0.9h-0.9zM79.0 486.1h0.9v0.9h-0.9zM80.1 472.3h0.9v0.9h-0.9zM78.6 491.8h0.9v0.9h-0.9zM78.9 463.7h0.9v0.9h-0.9zM78.3 491.5h0.9v0.9h-0.9zM77.1 477.1h0.9v0.9h-0.9zM80.2 479.1h0.9v0.9h-0.9zM78.5 484.0h0.9v0.9h-0.9zM79.7 479.2h0.9v0.9h-0.9zM79.9 487.7h0.9v0.9h-0.9zM77.9 484.6h0.9v0.9h-0.9zM77.5 465.5h0.9v0.9h-0.9zM78.2 465.3h0.9v0.9h-0.9zM77.5 492.4h0.9v0.9h-0.9zM80.2 470.4h0.9v0.9h-0.9zM77.0 475.7h0.9v0.9h-0.9zM78.1 468.5h0.9v0.9h-0.9zM79.5 469.0h0.9v0.9h-0.9zM78.5 473.0h0.9v0.9h-0.9zM78.9 467.7h0.9v0.9h-0.9zM78.3 492.5h0.9v0.9h-0.9zM76.4 470.3h0.9v0.9h-0.9zM76.6 492.1h0.9v0.9h-0.9zM79.0 471.9h0.9v0.9h-0.9zM79.9 469.6h0.9v0.9h-0.9zM78.3 488.5h0.9v0.9h-0.9zM78.7 465.9h0.9v0.9h-0.9zM76.5 470.0h0.9v0.9h-0.9zM80.1 494.3h0.9v0.9h-0.9zM77.5 465.3h0.9v0.9h-0.9zM78.8 470.4h0.9v0.9h-0.9zM79.9 494.9h0.9v0.9h-0.9zM79.4 490.1h0.9v0.9h-0.9zM79.4 492.0h0.9v0.9h-0.9zM77.8 488.2h0.9v0.9h-0.9zM76.4 487.3h0.9v0.9h-0.9zM78.1 497.2h0.9v0.9h-0.9zM79.4 479.1h0.9v0.9h-0.9zM79.1 483.6h0.9v0.9h-0.9zM78.8 464.0h0.9v0.9h-0.9zM77.2 472.5h0.9v0.9h-0.9zM79.1 494.9h0.9v0.9h-0.9zM78.8 489.5h0.9v0.9h-0.9zM78.8 468.7h0.9v0.9h-0.9zM77.3 483.5h0.9v0.9h-0.9zM79.3 478.0h0.9v0.9h-0.9zM79.1 475.1h0.9v0.9h-0.9zM77.6 469.4h0.9v0.9h-0.9zM78.0 483.4h0.9v0.9h-0.9zM76.7 495.3h0.9v0.9h-0.9zM76.3 488.6h0.9v0.9h-0.9zM77.7 495.6h0.9v0.9h-0.9zM77.4 464.6h0.9v0.9h-0.9zM79.1 476.6h0.9v0.9h-0.9zM79.6 486.4h0.9v0.9h-0.9zM78.1 486.2h0.9v0.9h-0.9zM79.0 474.9h0.9v0.9h-0.9zM77.1 485.9h0.9v0.9h-0.9zM78.6 465.3h0.9v0.9h-0.9zM76.9 478.3h0.9v0.9h-0.9zM76.7 481.5h0.9v0.9h-0.9zM77.9 473.7h0.9v0.9h-0.9zM79.3 488.8h0.9v0.9h-0.9zM76.6 484.0h0.9v0.9h-0.9zM80.3 484.3h0.9v0.9h-0.9zM80.2 471.6h0.9v0.9h-0.9zM77.2 474.8h0.9v0.9h-0.9zM77.2 469.1h0.9v0.9h-0.9zM77.3 480.7h0.9v0.9h-0.9zM79.5 490.0h0.9v0.9h-0.9zM76.5 489.8h0.9v0.9h-0.9zM78.9 472.7h0.9v0.9h-0.9zM76.3 492.9h0.9v0.9h-0.9zM76.8 472.3h0.9v0.9h-0.9zM77.5 490.8h0.9v0.9h-0.9zM80.1 494.8h0.9v0.9h-0.9zM79.7 492.4h0.9v0.9h-0.9zM78.2 465.6h0.9v0.9h-0.9zM77.2 468.5h0.9v0.9h-0.9zM76.8 468.3h0.9v0.9h-0.9zM77.6 465.4h0.9v0.9h-0.9zM77.5 492.8h0.9v0.9h-0.9zM77.3 481.0h0.9v0.9h-0.9zM79.7 464.2h0.9v0.9h-0.9zM79.2 482.2h0.9v0.9h-0.9zM76.4 494.0h0.9v0.9h-0.9zM79.5 467.1h0.9v0.9h-0.9zM80.1 483.3h0.9v0.9h-0.9zM78.8 470.9h0.9v0.9h-0.9zM76.4 487.7h0.9v0.9h-0.9zM79.2 469.9h0.9v0.9h-0.9zM76.4 483.2h0.9v0.9h-0.9zM77.5 475.4h0.9v0.9h-0.9zM79.8 482.9h0.9v0.9h-0.9zM76.8 487.5h0.9v0.9h-0.9zM79.2 483.0h0.9v0.9h-0.9zM80.1 479.9h0.9v0.9h-0.9zM78.9 465.6h0.9v0.9h-0.9zM77.5 473.9h0.9v0.9h-0.9zM78.0 481.1h0.9v0.9h-0.9zM76.8 487.2h0.9v0.9h-0.9zM76.5 472.3h0.9v0.9h-0.9zM78.6 464.5h0.9v0.9h-0.9zM77.6 491.2h0.9v0.9h-0.9zM79.2 476.5h0.9v0.9h-0.9zM77.0 489.2h0.9v0.9h-0.9zM79.8 466.5h0.9v0.9h-0.9zM78.0 482.3h0.9v0.9h-0.9zM79.1 470.6h0.9v0.9h-0.9zM79.6 484.4h0.9v0.9h-0.9zM79.5 495.9h0.9v0.9h-0.9zM79.0 486.5h0.9v0.9h-0.9zM77.5 473.0h0.9v0.9h-0.9zM77.8 491.3h0.9v0.9h-0.9zM78.7 473.2h0.9v0.9h-0.9zM79.9 481.3h0.9v0.9h-0.9zM80.2 485.9h0.9v0.9h-0.9zM79.2 475.4h0.9v0.9h-0.9zM80.3 480.0h0.9v0.9h-0.9zM79.0 477.4h0.9v0.9h-0.9zM78.4 469.7h0.9v0.9h-0.9zM77.8 477.8h0.9v0.9h-0.9zM79.3 469.1h0.9v0.9h-0.9zM77.1 485.6h0.9v0.9h-0.9zM78.2 493.7h0.9v0.9h-0.9zM76.4 478.7h0.9v0.9h-0.9zM79.6 489.4h0.9v0.9h-0.9zM77.7 481.3h0.9v0.9h-0.9zM77.9 463.9h0.9v0.9h-0.9zM76.6 471.5h0.9v0.9h-0.9zM79.8 470.2h0.9v0.9h-0.9zM77.4 482.7h0.9v0.9h-0.9zM79.1 485.7h0.9v0.9h-0.9zM77.5 475.3h0.9v0.9h-0.9zM76.4 490.7h0.9v0.9h-0.9zM77.8 473.6h0.9v0.9h-0.9zM77.1 480.5h0.9v0.9h-0.9zM76.9 474.8h0.9v0.9h-0.9zM76.7 470.2h0.9v0.9h-0.9zM78.4 474.9h0.9v0.9h-0.9zM76.7 493.3h0.9v0.9h-0.9zM76.5 477.7h0.9v0.9h-0.9zM77.5 465.7h0.9v0.9h-0.9zM77.5 478.7h0.9v0.9h-0.9zM79.1 472.5h0.9v0.9h-0.9zM77.8 494.3h0.9v0.9h-0.9zM78.8 478.8h0.9v0.9h-0.9zM77.1 490.4h0.9v0.9h-0.9zM80.0 471.9h0.9v0.9h-0.9zM79.7 476.4h0.9v0.9h-0.9zM78.2 464.6h0.9v0.9h-0.9zM77.3 471.9h0.9v0.9h-0.9zM77.1 491.8h0.9v0.9h-0.9zM80.1 474.5h0.9v0.9h-0.9zM79.5 473.9h0.9v0.9h-0.9zM78.6 470.3h0.9v0.9h-0.9zM79.9 481.2h0.9v0.9h-0.9zM78.7 490.7h0.9v0.9h-0.9zM78.4 480.4h0.9v0.9h-0.9zM79.1 479.8h0.9v0.9h-0.9zM78.6 473.9h0.9v0.9h-0.9zM76.9 471.3h0.9v0.9h-0.9zM80.2 483.8h0.9v0.9h-0.9zM76.4 470.1h0.9v0.9h-0.9zM78.6 481.1h0.9v0.9h-0.9zM80.3 494.4h0.9v0.9h-0.9zM76.6 491.1h0.9v0.9h-0.9zM80.2 489.1h0.9v0.9h-0.9zM80.1 476.7h0.9v0.9h-0.9zM78.8 487.0h0.9v0.9h-0.9zM79.5 488.1h0.9v0.9h-0.9zM79.6 475.2h0.9v0.9h-0.9zM79.5 484.0h0.9v0.9h-0.9zM80.1 474.7h0.9v0.9h-0.9zM78.8 493.0h0.9v0.9h-0.9zM79.3 487.4h0.9v0.9h-0.9zM76.9 469.0h0.9v0.9h-0.9zM77.6 485.9h0.9v0.9h-0.9zM76.4 486.1h0.9v0.9h-0.9zM76.8 470.3h0.9v0.9h-0.9zM77.4 482.3h0.9v0.9h-0.9zM79.2 495.9h0.9v0.9h-0.9zM77.2 466.6h0.9v0.9h-0.9zM79.7 483.8h0.9v0.9h-0.9zM80.0 488.0h0.9v0.9h-0.9zM76.8 476.0h0.9v0.9h-0.9zM77.2 479.0h0.9v0.9h-0.9zM77.4 493.0h0.9v0.9h-0.9zM79.9 470.1h0.9v0.9h-0.9zM80.3 496.4h0.9v0.9h-0.9zM77.8 493.4h0.9v0.9h-0.9zM80.1 488.7h0.9v0.9h-0.9zM77.8 485.1h0.9v0.9h-0.9zM79.4 475.2h0.9v0.9h-0.9zM78.2 466.7h0.9v0.9h-0.9zM76.9 490.7h0.9v0.9h-0.9zM77.5 487.6h0.9v0.9h-0.9zM78.0 487.9h0.9v0.9h-0.9zM77.4 466.7h0.9v0.9h-0.9zM79.0 472.4h0.9v0.9h-0.9zM77.1 479.5h0.9v0.9h-0.9zM78.3 494.0h0.9v0.9h-0.9zM79.1 478.5h0.9v0.9h-0.9zM78.1 484.1h0.9v0.9h-0.9zM76.8 473.8h0.9v0.9h-0.9zM78.7 495.6h0.9v0.9h-0.9zM78.7 470.8h0.9v0.9h-0.9zM80.2 490.8h0.9v0.9h-0.9zM77.2 476.2h0.9v0.9h-0.9zM76.4 489.6h0.9v0.9h-0.9zM77.2 491.8h0.9v0.9h-0.9zM79.2 490.1h0.9v0.9h-0.9zM78.6 472.0h0.9v0.9h-0.9zM76.4 483.9h0.9v0.9h-0.9zM76.4 481.3h0.9v0.9h-0.9zM79.4 468.5h0.9v0.9h-0.9zM78.0 482.1h0.9v0.9h-0.9zM76.9 470.6h0.9v0.9h-0.9zM78.7 469.6h0.9v0.9h-0.9zM76.9 471.2h0.9v0.9h-0.9zM80.0 494.2h0.9v0.9h-0.9zM76.7 483.2h0.9v0.9h-0.9zM77.9 464.7h0.9v0.9h-0.9zM77.3 485.8h0.9v0.9h-0.9zM76.4 496.3h0.9v0.9h-0.9zM77.4 475.5h0.9v0.9h-0.9zM80.1 468.4h0.9v0.9h-0.9zM76.8 479.8h0.9v0.9h-0.9zM77.6 474.5h0.9v0.9h-0.9zM78.6 496.0h0.9v0.9h-0.9zM78.0 465.2h0.9v0.9h-0.9zM77.8 492.7h0.9v0.9h-0.9zM78.0 465.8h0.9v0.9h-0.9zM77.3 471.4h0.9v0.9h-0.9zM77.7 474.5h0.9v0.9h-0.9zM79.0 488.2h0.9v0.9h-0.9zM76.5 468.6h0.9v0.9h-0.9zM79.6 493.5h0.9v0.9h-0.9zM79.5 469.7h0.9v0.9h-0.9zM79.1 466.3h0.9v0.9h-0.9zM79.0 471.2h0.9v0.9h-0.9zM79.7 492.4h0.9v0.9h-0.9zM78.2 488.4h0.9v0.9h-0.9zM80.1 494.1h0.9v0.9h-0.9zM78.9 484.6h0.9v0.9h-0.9zM77.7 486.9h0.9v0.9h-0.9zM76.9 479.3h0.9v0.9h-0.9zM76.6 466.8h0.9v0.9h-0.9zM79.0 478.2h0.9v0.9h-0.9zM77.1 496.0h0.9v0.9h-0.9zM77.5 482.0h0.9v0.9h-0.9zM78.3 470.0h0.9v0.9h-0.9zM80.3 489.5h0.9v0.9h-0.9zM79.9 473.9h0.9v0.9h-0.9zM79.9 494.6h0.9v0.9h-0.9zM80.1 469.7h0.9v0.9h-0.9zM76.9 466.5h0.9v0.9h-0.9zM76.7 487.5h0.9v0.9h-0.9zM76.5 479.5h0.9v0.9h-0.9zM77.7 488.5h0.9v0.9h-0.9zM76.5 488.2h0.9v0.9h-0.9zM80.1 473.8h0.9v0.9h-0.9zM77.9 488.9h0.9v0.9h-0.9zM77.5 492.5h0.9v0.9h-0.9zM80.3 471.3h0.9v0.9h-0.9zM78.2 468.7h0.9v0.9h-0.9zM78.5 477.1h0.9v0.9h-0.9zM80.2 488.4h0.9v0.9h-0.9zM80.3 491.3h0.9v0.9h-0.9zM79.6 476.7h0.9v0.9h-0.9zM79.0 467.5h0.9v0.9h-0.9zM77.7 495.0h0.9v0.9h-0.9zM80.2 469.6h0.9v0.9h-0.9zM78.3 477.5h0.9v0.9h-0.9zM78.8 483.9h0.9v0.9h-0.9zM77.3 493.6h0.9v0.9h-0.9zM78.1 490.1h0.9v0.9h-0.9zM79.2 497.0h0.9v0.9h-0.9zM78.4 483.7h0.9v0.9h-0.9zM79.4 471.5h0.9v0.9h-0.9zM76.5 491.3h0.9v0.9h-0.9zM79.1 489.2h0.9v0.9h-0.9zM79.5 470.5h0.9v0.9h-0.9zM79.8 485.5h0.9v0.9h-0.9zM80.1 482.6h0.9v0.9h-0.9zM79.8 465.6h0.9v0.9h-0.9zM77.0 482.5h0.9v0.9h-0.9zM79.0 476.8h0.9v0.9h-0.9zM76.6 493.8h0.9v0.9h-0.9zM76.6 493.9h0.9v0.9h-0.9zM77.2 487.7h0.9v0.9h-0.9zM78.7 471.7h0.9v0.9h-0.9zM77.6 471.9h0.9v0.9h-0.9zM78.4 473.1h0.9v0.9h-0.9zM78.5 473.3h0.9v0.9h-0.9zM76.8 487.4h0.9v0.9h-0.9zM77.3 496.0h0.9v0.9h-0.9zM77.9 472.6h0.9v0.9h-0.9zM79.2 494.3h0.9v0.9h-0.9zM77.8 488.6h0.9v0.9h-0.9zM77.6 497.5h0.9v0.9h-0.9zM77.5 464.9h0.9v0.9h-0.9zM76.3 482.2h0.9v0.9h-0.9zM78.8 473.4h0.9v0.9h-0.9zM78.0 477.6h0.9v0.9h-0.9zM77.8 470.1h0.9v0.9h-0.9zM78.5 486.4h0.9v0.9h-0.9zM76.4 493.7h0.9v0.9h-0.9zM77.3 479.9h0.9v0.9h-0.9zM77.2 486.6h0.9v0.9h-0.9zM77.9 483.5h0.9v0.9h-0.9zM77.9 481.0h0.9v0.9h-0.9zM76.6 497.1h0.9v0.9h-0.9zM78.0 475.0h0.9v0.9h-0.9zM79.7 473.7h0.9v0.9h-0.9zM79.5 478.1h0.9v0.9h-0.9zM76.8 483.2h0.9v0.9h-0.9zM77.4 470.5h0.9v0.9h-0.9zM80.3 495.6h0.9v0.9h-0.9z" fill="#0a1cff" fill-opacity="0.65"/>
<g filter="url(#b6)" transform="rotate(0 78.20 482.70)"><ellipse cx="78.20" cy="482.70" rx="1.4" ry="15" fill="#2a3cff"/></g>
<path d="M75.7 479.7h0.9v0.9h-0.9zM86.7 472.3h0.9v0.9h-0.9zM99.9 477.1h0.9v0.9h-0.9zM97.9 480.3h0.9v0.9h-0.9zM85.5 474.1h0.9v0.9h-0.9zM92.2 462.5h0.9v0.9h-0.9zM68.3 481.5h0.9v0.9h-0.9zM89.5 475.3h0.9v0.9h-0.9zM83.3 477.5h0.9v0.9h-0.9zM99.7 469.9h0.9v0.9h-0.9zM95.9 472.9h0.9v0.9h-0.9zM90.0 475.5h0.9v0.9h-0.9zM104.6 473.9h0.9v0.9h-0.9zM97.2 473.9h0.9v0.9h-0.9zM73.8 482.8h0.9v0.9h-0.9zM91.2 475.1h0.9v0.9h-0.9zM85.4 469.2h0.9v0.9h-0.9zM105.7 479.4h0.9v0.9h-0.9zM102.9 463.8h0.9v0.9h-0.9zM94.8 468.6h0.9v0.9h-0.9zM89.1 472.9h0.9v0.9h-0.9zM85.2 472.6h0.9v0.9h-0.9zM87.9 478.9h0.9v0.9h-0.9zM105.9 475.4h0.9v0.9h-0.9zM91.0 474.1h0.9v0.9h-0.9zM89.1 475.1h0.9v0.9h-0.9zM85.7 475.1h0.9v0.9h-0.9zM98.2 472.0h0.9v0.9h-0.9zM84.1 475.8h0.9v0.9h-0.9zM91.9 474.2h0.9v0.9h-0.9zM89.6 478.1h0.9v0.9h-0.9zM89.8 470.5h0.9v0.9h-0.9zM95.4 470.6h0.9v0.9h-0.9zM98.6 476.6h0.9v0.9h-0.9zM95.6 475.0h0.9v0.9h-0.9zM79.5 476.5h0.9v0.9h-0.9zM92.9 477.1h0.9v0.9h-0.9zM81.4 476.2h0.9v0.9h-0.9zM78.2 478.5h0.9v0.9h-0.9zM92.0 475.0h0.9v0.9h-0.9zM106.1 474.5h0.9v0.9h-0.9zM89.0 472.6h0.9v0.9h-0.9zM88.1 478.8h0.9v0.9h-0.9zM98.5 470.7h0.9v0.9h-0.9zM89.8 473.1h0.9v0.9h-0.9zM97.2 474.1h0.9v0.9h-0.9zM84.1 472.4h0.9v0.9h-0.9zM101.0 466.2h0.9v0.9h-0.9zM72.6 465.4h0.9v0.9h-0.9zM108.1 468.4h0.9v0.9h-0.9zM99.0 475.3h0.9v0.9h-0.9zM99.5 477.8h0.9v0.9h-0.9zM87.1 475.5h0.9v0.9h-0.9zM100.2 475.1h0.9v0.9h-0.9zM83.9 473.0h0.9v0.9h-0.9zM79.0 478.6h0.9v0.9h-0.9zM85.1 469.2h0.9v0.9h-0.9zM86.7 477.1h0.9v0.9h-0.9zM92.5 473.4h0.9v0.9h-0.9zM93.2 477.1h0.9v0.9h-0.9zM80.1 473.6h0.9v0.9h-0.9zM100.2 475.8h0.9v0.9h-0.9zM78.4 474.4h0.9v0.9h-0.9zM104.4 474.9h0.9v0.9h-0.9zM90.9 479.2h0.9v0.9h-0.9zM104.3 477.9h0.9v0.9h-0.9zM77.9 472.0h0.9v0.9h-0.9zM86.7 475.5h0.9v0.9h-0.9zM88.4 476.4h0.9v0.9h-0.9zM105.0 476.3h0.9v0.9h-0.9zM99.7 472.7h0.9v0.9h-0.9zM105.8 473.3h0.9v0.9h-0.9zM93.2 474.1h0.9v0.9h-0.9zM77.4 487.4h0.9v0.9h-0.9zM91.8 478.5h0.9v0.9h-0.9zM110.5 469.4h0.9v0.9h-0.9zM82.1 481.3h0.9v0.9h-0.9zM92.3 470.2h0.9v0.9h-0.9zM99.5 472.8h0.9v0.9h-0.9zM80.6 466.0h0.9v0.9h-0.9zM83.0 478.3h0.9v0.9h-0.9zM83.2 480.8h0.9v0.9h-0.9zM110.5 471.6h0.9v0.9h-0.9zM93.0 473.9h0.9v0.9h-0.9zM98.6 473.1h0.9v0.9h-0.9zM101.5 478.6h0.9v0.9h-0.9zM97.6 468.9h0.9v0.9h-0.9zM96.7 472.2h0.9v0.9h-0.9zM94.8 478.1h0.9v0.9h-0.9zM85.6 476.9h0.9v0.9h-0.9zM103.1 468.3h0.9v0.9h-0.9zM90.2 478.1h0.9v0.9h-0.9zM90.2 479.4h0.9v0.9h-0.9zM81.0 470.4h0.9v0.9h-0.9zM94.3 473.3h0.9v0.9h-0.9zM94.8 478.1h0.9v0.9h-0.9zM99.9 471.1h0.9v0.9h-0.9zM85.9 467.3h0.9v0.9h-0.9zM83.0 477.6h0.9v0.9h-0.9zM91.6 468.0h0.9v0.9h-0.9zM97.9 472.9h0.9v0.9h-0.9zM100.4 471.0h0.9v0.9h-0.9zM98.5 468.1h0.9v0.9h-0.9zM74.3 475.0h0.9v0.9h-0.9zM97.6 475.0h0.9v0.9h-0.9zM75.0 479.1h0.9v0.9h-0.9zM98.6 480.3h0.9v0.9h-0.9zM98.4 475.2h0.9v0.9h-0.9zM77.8 479.4h0.9v0.9h-0.9zM73.8 477.4h0.9v0.9h-0.9zM87.0 471.4h0.9v0.9h-0.9zM82.2 476.1h0.9v0.9h-0.9zM95.6 470.8h0.9v0.9h-0.9zM94.5 477.0h0.9v0.9h-0.9zM92.8 482.7h0.9v0.9h-0.9zM87.8 472.3h0.9v0.9h-0.9zM75.7 482.9h0.9v0.9h-0.9zM96.9 472.5h0.9v0.9h-0.9zM93.7 473.5h0.9v0.9h-0.9zM98.7 472.9h0.9v0.9h-0.9zM93.1 473.9h0.9v0.9h-0.9zM81.3 467.2h0.9v0.9h-0.9zM94.7 468.4h0.9v0.9h-0.9zM95.2 476.5h0.9v0.9h-0.9zM106.8 467.8h0.9v0.9h-0.9zM93.4 478.3h0.9v0.9h-0.9zM84.8 473.6h0.9v0.9h-0.9zM97.0 482.4h0.9v0.9h-0.9zM101.4 476.5h0.9v0.9h-0.9zM83.4 479.4h0.9v0.9h-0.9zM99.8 467.1h0.9v0.9h-0.9zM91.1 473.9h0.9v0.9h-0.9zM95.1 466.1h0.9v0.9h-0.9zM97.3 473.3h0.9v0.9h-0.9zM86.8 466.4h0.9v0.9h-0.9zM72.6 476.6h0.9v0.9h-0.9zM97.2 475.1h0.9v0.9h-0.9zM96.0 466.1h0.9v0.9h-0.9zM94.2 479.9h0.9v0.9h-0.9zM78.3 480.5h0.9v0.9h-0.9zM85.4 478.4h0.9v0.9h-0.9zM90.5 467.7h0.9v0.9h-0.9zM83.3 482.1h0.9v0.9h-0.9zM91.4 480.0h0.9v0.9h-0.9zM94.9 477.7h0.9v0.9h-0.9zM87.9 476.4h0.9v0.9h-0.9zM88.8 479.2h0.9v0.9h-0.9zM87.2 480.4h0.9v0.9h-0.9zM103.6 466.5h0.9v0.9h-0.9zM90.2 477.3h0.9v0.9h-0.9zM107.6 475.9h0.9v0.9h-0.9zM90.2 467.3h0.9v0.9h-0.9zM97.9 470.6h0.9v0.9h-0.9zM93.2 476.0h0.9v0.9h-0.9zM79.9 481.9h0.9v0.9h-0.9zM99.6 475.2h0.9v0.9h-0.9zM96.7 475.0h0.9v0.9h-0.9zM78.5 475.4h0.9v0.9h-0.9zM97.9 471.7h0.9v0.9h-0.9zM91.7 476.2h0.9v0.9h-0.9z" fill="#0a1cff" fill-opacity="0.5"/>
<path d="M91.9 500.3h0.9v0.9h-0.9zM95.5 499.7h0.9v0.9h-0.9zM81.3 499.0h0.9v0.9h-0.9zM99.6 498.0h0.9v0.9h-0.9zM95.3 500.5h0.9v0.9h-0.9zM83.3 492.8h0.9v0.9h-0.9zM91.0 497.8h0.9v0.9h-0.9zM85.6 502.0h0.9v0.9h-0.9zM84.3 500.6h0.9v0.9h-0.9zM92.2 500.2h0.9v0.9h-0.9zM108.9 494.9h0.9v0.9h-0.9zM99.7 499.4h0.9v0.9h-0.9zM88.7 498.1h0.9v0.9h-0.9zM91.5 499.8h0.9v0.9h-0.9zM83.0 503.7h0.9v0.9h-0.9zM84.5 499.4h0.9v0.9h-0.9zM79.8 500.1h0.9v0.9h-0.9zM94.3 502.4h0.9v0.9h-0.9zM99.9 498.5h0.9v0.9h-0.9zM105.4 499.4h0.9v0.9h-0.9zM104.9 503.9h0.9v0.9h-0.9zM87.5 497.1h0.9v0.9h-0.9zM95.9 503.2h0.9v0.9h-0.9zM94.7 502.4h0.9v0.9h-0.9zM96.4 501.9h0.9v0.9h-0.9zM102.9 499.0h0.9v0.9h-0.9zM78.5 499.4h0.9v0.9h-0.9zM84.1 496.8h0.9v0.9h-0.9zM89.6 501.5h0.9v0.9h-0.9zM74.7 496.0h0.9v0.9h-0.9zM98.2 497.5h0.9v0.9h-0.9zM87.7 503.0h0.9v0.9h-0.9zM101.1 500.6h0.9v0.9h-0.9zM95.9 493.0h0.9v0.9h-0.9zM96.1 500.6h0.9v0.9h-0.9zM78.8 500.2h0.9v0.9h-0.9zM95.2 499.4h0.9v0.9h-0.9zM98.2 501.9h0.9v0.9h-0.9zM91.6 499.1h0.9v0.9h-0.9zM80.6 502.5h0.9v0.9h-0.9zM86.0 500.5h0.9v0.9h-0.9zM104.7 501.6h0.9v0.9h-0.9zM79.8 499.5h0.9v0.9h-0.9zM84.8 495.7h0.9v0.9h-0.9zM84.0 501.1h0.9v0.9h-0.9zM94.1 499.2h0.9v0.9h-0.9zM92.7 496.8h0.9v0.9h-0.9zM84.3 499.3h0.9v0.9h-0.9zM98.2 498.9h0.9v0.9h-0.9zM89.6 500.5h0.9v0.9h-0.9zM104.1 496.6h0.9v0.9h-0.9zM95.8 500.2h0.9v0.9h-0.9zM90.5 500.3h0.9v0.9h-0.9zM73.5 499.8h0.9v0.9h-0.9zM89.0 496.7h0.9v0.9h-0.9zM98.6 499.4h0.9v0.9h-0.9zM88.1 501.6h0.9v0.9h-0.9zM82.9 497.9h0.9v0.9h-0.9zM98.4 501.8h0.9v0.9h-0.9zM109.0 498.6h0.9v0.9h-0.9zM78.2 496.1h0.9v0.9h-0.9zM80.5 500.0h0.9v0.9h-0.9zM89.0 498.1h0.9v0.9h-0.9zM82.2 498.0h0.9v0.9h-0.9zM87.9 502.6h0.9v0.9h-0.9zM96.6 503.1h0.9v0.9h-0.9zM98.4 501.6h0.9v0.9h-0.9zM101.5 500.8h0.9v0.9h-0.9zM104.8 502.5h0.9v0.9h-0.9zM107.2 500.2h0.9v0.9h-0.9zM84.2 505.9h0.9v0.9h-0.9zM88.6 501.0h0.9v0.9h-0.9zM87.7 498.0h0.9v0.9h-0.9zM95.0 497.0h0.9v0.9h-0.9zM89.7 503.2h0.9v0.9h-0.9zM92.2 501.7h0.9v0.9h-0.9zM96.8 500.6h0.9v0.9h-0.9zM92.0 501.2h0.9v0.9h-0.9zM82.5 501.1h0.9v0.9h-0.9zM81.6 497.9h0.9v0.9h-0.9zM85.9 496.4h0.9v0.9h-0.9zM73.6 500.6h0.9v0.9h-0.9zM95.5 501.3h0.9v0.9h-0.9zM110.7 500.1h0.9v0.9h-0.9zM97.7 497.9h0.9v0.9h-0.9zM97.4 496.9h0.9v0.9h-0.9zM108.6 497.3h0.9v0.9h-0.9zM87.4 501.5h0.9v0.9h-0.9zM71.6 503.0h0.9v0.9h-0.9zM82.6 500.2h0.9v0.9h-0.9zM99.8 500.1h0.9v0.9h-0.9zM99.4 498.5h0.9v0.9h-0.9zM96.3 494.4h0.9v0.9h-0.9zM104.5 498.1h0.9v0.9h-0.9zM83.4 499.7h0.9v0.9h-0.9zM106.1 498.0h0.9v0.9h-0.9zM90.9 498.8h0.9v0.9h-0.9zM82.8 496.5h0.9v0.9h-0.9zM96.3 501.4h0.9v0.9h-0.9zM84.4 500.3h0.9v0.9h-0.9zM95.0 500.6h0.9v0.9h-0.9zM89.6 499.8h0.9v0.9h-0.9zM93.5 497.1h0.9v0.9h-0.9zM89.8 501.6h0.9v0.9h-0.9zM86.1 502.9h0.9v0.9h-0.9zM88.9 497.0h0.9v0.9h-0.9zM88.4 496.4h0.9v0.9h-0.9zM96.5 495.8h0.9v0.9h-0.9zM91.2 499.1h0.9v0.9h-0.9zM88.3 500.7h0.9v0.9h-0.9zM93.6 498.3h0.9v0.9h-0.9zM98.3 498.6h0.9v0.9h-0.9zM99.0 503.0h0.9v0.9h-0.9zM94.4 502.0h0.9v0.9h-0.9zM79.2 501.1h0.9v0.9h-0.9zM77.8 499.3h0.9v0.9h-0.9zM97.2 493.1h0.9v0.9h-0.9zM84.1 497.8h0.9v0.9h-0.9zM82.7 499.8h0.9v0.9h-0.9zM96.7 496.9h0.9v0.9h-0.9zM85.5 495.2h0.9v0.9h-0.9zM84.8 494.6h0.9v0.9h-0.9zM77.7 500.8h0.9v0.9h-0.9zM98.8 497.7h0.9v0.9h-0.9zM94.1 497.8h0.9v0.9h-0.9zM100.5 504.0h0.9v0.9h-0.9zM69.2 497.6h0.9v0.9h-0.9zM85.3 498.5h0.9v0.9h-0.9zM104.9 503.5h0.9v0.9h-0.9zM90.9 501.3h0.9v0.9h-0.9zM76.9 499.0h0.9v0.9h-0.9zM88.5 499.3h0.9v0.9h-0.9zM93.7 495.9h0.9v0.9h-0.9zM81.8 504.9h0.9v0.9h-0.9zM75.6 499.8h0.9v0.9h-0.9zM97.5 500.9h0.9v0.9h-0.9zM91.5 495.8h0.9v0.9h-0.9zM86.9 495.9h0.9v0.9h-0.9zM108.4 500.6h0.9v0.9h-0.9zM97.5 500.2h0.9v0.9h-0.9z" fill="#0a1cff" fill-opacity="0.5"/>
<g filter="url(#b6)" transform="rotate(-13 91.80 474.20)"><ellipse cx="91.80" cy="474.20" rx="11" ry="5.4" fill="#0a1cff"/><ellipse cx="92.80" cy="474.00" rx="9" ry="4.2" fill="#1038ff"/><ellipse cx="94.30" cy="473.80" rx="7" ry="3.1" fill="#1a80ff"/><ellipse cx="95.30" cy="473.70" rx="5.2" ry="2.2" fill="#00c8ff"/><ellipse cx="96.00" cy="473.60" rx="3" ry="1.2" fill="#60f0ff"/></g>
<g filter="url(#b6)" transform="rotate(-2 92.50 499.70)"><ellipse cx="92.50" cy="499.70" rx="12" ry="3.2" fill="#0a1cff"/><ellipse cx="95.50" cy="499.70" rx="8" ry="2.4" fill="#1a70ff"/><ellipse cx="97.50" cy="499.70" rx="5.2" ry="1.8" fill="#00c8ff"/><ellipse cx="98.50" cy="499.70" rx="2.6" ry="1.1" fill="#50f0d0"/></g>
<g filter="url(#b5)" transform="rotate(0 78.20 499.00)"><ellipse cx="78.20" cy="499.00" rx="3.2" ry="5.2" fill="#0a1cff"/><ellipse cx="78.20" cy="499.00" rx="2.6" ry="4.2" fill="#1a80ff"/><ellipse cx="78.20" cy="499.00" rx="2.2" ry="3.4" fill="#00c8ff"/><ellipse cx="78.20" cy="499.00" rx="1.7" ry="2.6" fill="#33e04a"/><ellipse cx="78.20" cy="499.00" rx="1.1" ry="1.6" fill="#f2e600"/><ellipse cx="78.20" cy="499.00" rx="0.55" ry="0.75" fill="#ff1a00"/></g>
<path d="M186.6 363.5h0.9v0.9h-0.9zM197.8 362.7h0.9v0.9h-0.9zM195.2 362.8h0.9v0.9h-0.9zM187.5 362.4h0.9v0.9h-0.9zM190.7 361.3h0.9v0.9h-0.9zM195.8 364.9h0.9v0.9h-0.9zM186.2 363.5h0.9v0.9h-0.9zM181.0 361.4h0.9v0.9h-0.9zM199.1 361.6h0.9v0.9h-0.9zM193.1 359.9h0.9v0.9h-0.9zM179.8 364.2h0.9v0.9h-0.9zM191.4 361.6h0.9v0.9h-0.9zM180.9 361.6h0.9v0.9h-0.9zM189.0 360.8h0.9v0.9h-0.9zM184.1 361.9h0.9v0.9h-0.9zM200.4 359.6h0.9v0.9h-0.9zM191.1 364.4h0.9v0.9h-0.9zM189.3 363.3h0.9v0.9h-0.9zM191.3 360.5h0.9v0.9h-0.9zM191.7 358.6h0.9v0.9h-0.9zM197.3 363.9h0.9v0.9h-0.9zM188.2 362.9h0.9v0.9h-0.9zM180.6 363.9h0.9v0.9h-0.9zM184.3 360.5h0.9v0.9h-0.9zM183.2 359.0h0.9v0.9h-0.9zM196.0 364.7h0.9v0.9h-0.9zM194.0 360.8h0.9v0.9h-0.9zM198.9 361.9h0.9v0.9h-0.9zM180.5 361.2h0.9v0.9h-0.9zM200.8 363.4h0.9v0.9h-0.9zM189.2 362.4h0.9v0.9h-0.9zM185.4 361.9h0.9v0.9h-0.9zM184.7 361.9h0.9v0.9h-0.9zM185.4 362.0h0.9v0.9h-0.9zM196.2 361.7h0.9v0.9h-0.9zM178.5 362.5h0.9v0.9h-0.9zM187.8 361.0h0.9v0.9h-0.9zM195.0 360.4h0.9v0.9h-0.9zM198.3 362.5h0.9v0.9h-0.9zM183.9 360.6h0.9v0.9h-0.9zM188.9 360.3h0.9v0.9h-0.9zM198.4 358.3h0.9v0.9h-0.9zM191.3 361.2h0.9v0.9h-0.9zM180.3 362.7h0.9v0.9h-0.9zM185.7 362.4h0.9v0.9h-0.9z" fill="#5060ff" fill-opacity="0.35"/>
<path d="M175.9 358.4h0.9v0.9h-0.9zM178.3 361.9h0.9v0.9h-0.9zM179.5 359.1h0.9v0.9h-0.9zM180.7 358.2h0.9v0.9h-0.9zM173.6 353.9h0.9v0.9h-0.9zM173.4 356.8h0.9v0.9h-0.9zM172.6 360.1h0.9v0.9h-0.9zM177.1 359.1h0.9v0.9h-0.9zM177.6 358.9h0.9v0.9h-0.9zM176.4 358.3h0.9v0.9h-0.9zM177.1 356.0h0.9v0.9h-0.9zM180.1 363.6h0.9v0.9h-0.9zM177.1 365.7h0.9v0.9h-0.9zM174.6 361.8h0.9v0.9h-0.9zM173.0 360.9h0.9v0.9h-0.9zM175.2 362.1h0.9v0.9h-0.9zM177.3 361.9h0.9v0.9h-0.9zM178.5 360.7h0.9v0.9h-0.9zM176.3 363.7h0.9v0.9h-0.9zM177.9 360.6h0.9v0.9h-0.9zM180.5 358.5h0.9v0.9h-0.9zM181.3 362.3h0.9v0.9h-0.9zM177.2 355.1h0.9v0.9h-0.9zM180.0 358.3h0.9v0.9h-0.9zM177.2 359.6h0.9v0.9h-0.9zM179.4 361.0h0.9v0.9h-0.9zM172.5 357.3h0.9v0.9h-0.9zM177.9 359.7h0.9v0.9h-0.9zM179.0 360.8h0.9v0.9h-0.9zM181.0 357.2h0.9v0.9h-0.9zM180.2 360.3h0.9v0.9h-0.9zM177.7 361.1h0.9v0.9h-0.9zM176.2 361.2h0.9v0.9h-0.9zM176.5 361.2h0.9v0.9h-0.9zM175.1 362.5h0.9v0.9h-0.9zM173.3 357.3h0.9v0.9h-0.9zM176.9 359.9h0.9v0.9h-0.9zM175.1 358.1h0.9v0.9h-0.9zM177.6 362.2h0.9v0.9h-0.9zM180.2 357.9h0.9v0.9h-0.9z" fill="#3040ff" fill-opacity="0.45"/>
<path d="M176.9 324.6h0.9v0.9h-0.9zM176.6 345.6h0.9v0.9h-0.9zM177.2 347.5h0.9v0.9h-0.9zM175.6 354.8h0.9v0.9h-0.9zM175.5 347.8h0.9v0.9h-0.9zM176.4 352.9h0.9v0.9h-0.9zM177.4 347.1h0.9v0.9h-0.9zM175.7 343.9h0.9v0.9h-0.9zM175.7 336.8h0.9v0.9h-0.9zM175.8 332.8h0.9v0.9h-0.9zM175.6 340.5h0.9v0.9h-0.9zM175.7 331.0h0.9v0.9h-0.9zM177.1 332.6h0.9v0.9h-0.9zM176.7 350.9h0.9v0.9h-0.9z" fill="#6070ff" fill-opacity="0.35"/>
<g filter="url(#b5)" transform="rotate(0 176.60 362.20)"><ellipse cx="176.60" cy="362.20" rx="3.3" ry="3.2" fill="#1a2dff"/><ellipse cx="176.60" cy="362.20" rx="2.5" ry="2.5" fill="#1a80ff"/><ellipse cx="176.60" cy="362.20" rx="1.9" ry="1.9" fill="#00c8ff"/><ellipse cx="176.60" cy="362.20" rx="1.3" ry="1.3" fill="#33e04a"/><ellipse cx="176.60" cy="362.20" rx="0.7" ry="0.7" fill="#f2e600"/></g>
<path d="M179.1 428.6h0.9v0.9h-0.9zM196.2 430.3h0.9v0.9h-0.9zM201.3 435.5h0.9v0.9h-0.9zM196.9 430.1h0.9v0.9h-0.9zM193.4 430.5h0.9v0.9h-0.9zM192.6 434.0h0.9v0.9h-0.9zM204.2 432.7h0.9v0.9h-0.9zM192.6 433.5h0.9v0.9h-0.9zM197.4 432.2h0.9v0.9h-0.9zM179.7 429.9h0.9v0.9h-0.9zM191.6 430.5h0.9v0.9h-0.9zM185.5 427.8h0.9v0.9h-0.9zM183.5 430.6h0.9v0.9h-0.9zM192.8 429.2h0.9v0.9h-0.9zM188.9 433.5h0.9v0.9h-0.9zM191.5 427.8h0.9v0.9h-0.9zM188.4 430.8h0.9v0.9h-0.9zM201.3 431.1h0.9v0.9h-0.9zM202.2 431.3h0.9v0.9h-0.9zM200.4 432.9h0.9v0.9h-0.9zM203.7 431.1h0.9v0.9h-0.9zM195.8 436.8h0.9v0.9h-0.9zM179.3 431.1h0.9v0.9h-0.9zM194.3 429.7h0.9v0.9h-0.9zM197.4 430.6h0.9v0.9h-0.9zM197.1 431.1h0.9v0.9h-0.9zM181.8 432.4h0.9v0.9h-0.9zM207.8 432.2h0.9v0.9h-0.9zM192.6 428.2h0.9v0.9h-0.9zM192.9 430.8h0.9v0.9h-0.9zM183.1 427.9h0.9v0.9h-0.9zM194.0 432.3h0.9v0.9h-0.9zM196.4 434.3h0.9v0.9h-0.9zM189.8 433.0h0.9v0.9h-0.9zM189.8 429.3h0.9v0.9h-0.9zM189.6 431.5h0.9v0.9h-0.9zM183.6 429.6h0.9v0.9h-0.9zM192.4 432.1h0.9v0.9h-0.9zM188.0 431.5h0.9v0.9h-0.9zM185.6 430.3h0.9v0.9h-0.9zM191.8 432.3h0.9v0.9h-0.9zM204.1 430.6h0.9v0.9h-0.9zM194.1 433.8h0.9v0.9h-0.9zM197.5 430.3h0.9v0.9h-0.9zM193.7 428.6h0.9v0.9h-0.9z" fill="#5060ff" fill-opacity="0.35"/>
<path d="M171.9 426.1h0.9v0.9h-0.9zM175.3 424.5h0.9v0.9h-0.9zM179.5 427.0h0.9v0.9h-0.9zM177.2 428.5h0.9v0.9h-0.9zM176.5 425.0h0.9v0.9h-0.9zM181.8 422.7h0.9v0.9h-0.9zM176.9 430.3h0.9v0.9h-0.9zM176.5 428.0h0.9v0.9h-0.9zM177.8 429.0h0.9v0.9h-0.9zM176.2 431.4h0.9v0.9h-0.9zM178.3 432.6h0.9v0.9h-0.9zM177.3 422.6h0.9v0.9h-0.9zM173.0 426.9h0.9v0.9h-0.9zM178.1 423.7h0.9v0.9h-0.9zM175.7 431.9h0.9v0.9h-0.9zM177.9 426.3h0.9v0.9h-0.9zM176.8 428.6h0.9v0.9h-0.9zM176.0 427.4h0.9v0.9h-0.9zM175.5 429.0h0.9v0.9h-0.9zM180.9 432.5h0.9v0.9h-0.9zM174.0 434.9h0.9v0.9h-0.9zM176.7 424.3h0.9v0.9h-0.9zM173.4 428.7h0.9v0.9h-0.9zM177.6 426.5h0.9v0.9h-0.9zM175.1 427.7h0.9v0.9h-0.9zM177.7 430.2h0.9v0.9h-0.9zM178.4 421.5h0.9v0.9h-0.9zM175.6 429.1h0.9v0.9h-0.9zM177.9 430.6h0.9v0.9h-0.9zM173.4 432.8h0.9v0.9h-0.9zM174.1 427.7h0.9v0.9h-0.9zM175.9 427.0h0.9v0.9h-0.9zM175.1 430.6h0.9v0.9h-0.9zM179.0 429.3h0.9v0.9h-0.9zM173.9 426.5h0.9v0.9h-0.9zM176.9 429.5h0.9v0.9h-0.9zM175.7 427.6h0.9v0.9h-0.9zM183.4 428.5h0.9v0.9h-0.9zM176.3 421.3h0.9v0.9h-0.9zM175.2 433.0h0.9v0.9h-0.9z" fill="#3040ff" fill-opacity="0.45"/>
<path d="M177.2 412.4h0.9v0.9h-0.9zM175.6 401.1h0.9v0.9h-0.9zM176.2 406.3h0.9v0.9h-0.9zM176.6 398.2h0.9v0.9h-0.9zM175.9 393.0h0.9v0.9h-0.9zM176.3 396.1h0.9v0.9h-0.9zM176.0 392.9h0.9v0.9h-0.9zM177.2 399.6h0.9v0.9h-0.9zM176.5 410.8h0.9v0.9h-0.9zM175.6 409.8h0.9v0.9h-0.9zM177.1 399.9h0.9v0.9h-0.9zM176.8 415.5h0.9v0.9h-0.9zM176.6 403.7h0.9v0.9h-0.9zM176.5 413.7h0.9v0.9h-0.9z" fill="#6070ff" fill-opacity="0.35"/>
<g filter="url(#b5)" transform="rotate(0 176.60 431.30)"><ellipse cx="176.60" cy="431.30" rx="3.3" ry="3.2" fill="#1a2dff"/><ellipse cx="176.60" cy="431.30" rx="2.5" ry="2.5" fill="#1a80ff"/><ellipse cx="176.60" cy="431.30" rx="1.9" ry="1.9" fill="#00c8ff"/><ellipse cx="176.60" cy="431.30" rx="1.3" ry="1.3" fill="#33e04a"/><ellipse cx="176.60" cy="431.30" rx="0.7" ry="0.7" fill="#f2e600"/></g>
<path d="M185.0 418.4h0.9v0.9h-0.9zM191.1 410.5h0.9v0.9h-0.9zM189.6 413.9h0.9v0.9h-0.9zM194.3 410.3h0.9v0.9h-0.9zM190.4 412.8h0.9v0.9h-0.9zM191.3 412.7h0.9v0.9h-0.9zM188.8 414.3h0.9v0.9h-0.9zM192.6 410.6h0.9v0.9h-0.9zM187.7 416.8h0.9v0.9h-0.9zM194.0 408.8h0.9v0.9h-0.9zM200.9 402.7h0.9v0.9h-0.9zM187.8 414.9h0.9v0.9h-0.9zM195.4 410.0h0.9v0.9h-0.9zM198.8 406.0h0.9v0.9h-0.9zM192.7 411.5h0.9v0.9h-0.9zM188.1 414.3h0.9v0.9h-0.9zM194.7 409.3h0.9v0.9h-0.9zM192.7 409.9h0.9v0.9h-0.9zM192.5 409.6h0.9v0.9h-0.9zM196.4 407.5h0.9v0.9h-0.9zM188.8 413.9h0.9v0.9h-0.9zM206.7 401.5h0.9v0.9h-0.9zM189.5 415.2h0.9v0.9h-0.9zM179.1 424.3h0.9v0.9h-0.9zM192.3 411.5h0.9v0.9h-0.9zM186.9 414.7h0.9v0.9h-0.9zM193.0 410.2h0.9v0.9h-0.9zM195.0 409.9h0.9v0.9h-0.9zM191.8 412.2h0.9v0.9h-0.9zM193.0 410.8h0.9v0.9h-0.9zM189.8 413.7h0.9v0.9h-0.9zM194.2 409.6h0.9v0.9h-0.9zM189.2 412.5h0.9v0.9h-0.9zM187.9 416.8h0.9v0.9h-0.9zM197.0 407.3h0.9v0.9h-0.9zM193.4 410.1h0.9v0.9h-0.9zM195.8 409.1h0.9v0.9h-0.9zM191.1 412.6h0.9v0.9h-0.9zM195.8 406.5h0.9v0.9h-0.9zM187.4 415.0h0.9v0.9h-0.9zM186.4 416.1h0.9v0.9h-0.9zM187.9 414.7h0.9v0.9h-0.9zM193.7 408.7h0.9v0.9h-0.9zM193.3 411.8h0.9v0.9h-0.9zM192.4 409.9h0.9v0.9h-0.9zM189.9 414.6h0.9v0.9h-0.9zM190.6 412.2h0.9v0.9h-0.9zM195.4 407.7h0.9v0.9h-0.9zM187.2 416.4h0.9v0.9h-0.9zM191.9 411.0h0.9v0.9h-0.9zM194.8 410.1h0.9v0.9h-0.9zM197.2 406.9h0.9v0.9h-0.9zM194.5 409.8h0.9v0.9h-0.9zM186.0 418.6h0.9v0.9h-0.9zM188.7 413.9h0.9v0.9h-0.9zM187.8 414.3h0.9v0.9h-0.9zM197.2 406.8h0.9v0.9h-0.9zM188.5 412.8h0.9v0.9h-0.9zM192.9 410.7h0.9v0.9h-0.9zM187.2 415.7h0.9v0.9h-0.9zM183.9 419.4h0.9v0.9h-0.9zM186.7 416.8h0.9v0.9h-0.9zM191.5 409.8h0.9v0.9h-0.9zM186.6 415.7h0.9v0.9h-0.9zM196.1 408.4h0.9v0.9h-0.9zM195.9 409.7h0.9v0.9h-0.9zM190.5 412.3h0.9v0.9h-0.9zM182.8 418.7h0.9v0.9h-0.9zM194.3 408.6h0.9v0.9h-0.9zM188.5 415.6h0.9v0.9h-0.9zM181.3 422.5h0.9v0.9h-0.9zM197.2 405.0h0.9v0.9h-0.9zM194.3 409.4h0.9v0.9h-0.9zM196.1 407.4h0.9v0.9h-0.9zM192.3 412.7h0.9v0.9h-0.9zM189.6 414.1h0.9v0.9h-0.9zM195.0 408.7h0.9v0.9h-0.9zM196.4 408.0h0.9v0.9h-0.9zM195.1 407.0h0.9v0.9h-0.9zM187.4 415.9h0.9v0.9h-0.9z" fill="#2a3cff" fill-opacity="0.55"/>
<g filter="url(#b4)" transform="rotate(-42 192.00 411.50)"><ellipse cx="192.00" cy="411.50" rx="10.5" ry="0.9" fill="#7080ff"/></g>
<path d="M180.8 424.7h0.9v0.9h-0.9zM184.5 420.0h0.9v0.9h-0.9zM184.0 425.4h0.9v0.9h-0.9zM182.2 420.2h0.9v0.9h-0.9zM184.5 423.3h0.9v0.9h-0.9zM182.4 418.3h0.9v0.9h-0.9zM181.9 423.9h0.9v0.9h-0.9zM181.1 422.2h0.9v0.9h-0.9z" fill="#6070ff" fill-opacity="0.4"/>
<path d="M191.1 497.7h0.9v0.9h-0.9zM199.5 500.9h0.9v0.9h-0.9zM185.1 497.2h0.9v0.9h-0.9zM197.2 498.4h0.9v0.9h-0.9zM180.1 499.1h0.9v0.9h-0.9zM195.0 498.1h0.9v0.9h-0.9zM190.5 500.7h0.9v0.9h-0.9zM196.7 496.8h0.9v0.9h-0.9zM196.4 501.9h0.9v0.9h-0.9zM198.1 499.1h0.9v0.9h-0.9zM193.4 496.8h0.9v0.9h-0.9zM185.1 498.4h0.9v0.9h-0.9zM208.1 499.2h0.9v0.9h-0.9zM181.8 501.8h0.9v0.9h-0.9zM200.8 496.7h0.9v0.9h-0.9zM188.5 496.6h0.9v0.9h-0.9zM199.2 495.7h0.9v0.9h-0.9zM206.2 497.6h0.9v0.9h-0.9zM181.2 502.4h0.9v0.9h-0.9zM194.8 499.8h0.9v0.9h-0.9zM197.6 497.7h0.9v0.9h-0.9zM197.7 498.8h0.9v0.9h-0.9zM194.7 499.6h0.9v0.9h-0.9zM202.1 497.3h0.9v0.9h-0.9zM178.2 500.2h0.9v0.9h-0.9zM210.6 500.0h0.9v0.9h-0.9zM188.8 500.2h0.9v0.9h-0.9zM179.8 499.4h0.9v0.9h-0.9zM196.4 501.8h0.9v0.9h-0.9zM185.9 500.6h0.9v0.9h-0.9zM201.8 497.6h0.9v0.9h-0.9zM187.8 496.4h0.9v0.9h-0.9zM182.6 499.9h0.9v0.9h-0.9zM196.4 501.4h0.9v0.9h-0.9zM184.9 495.7h0.9v0.9h-0.9zM181.4 500.1h0.9v0.9h-0.9zM190.0 500.3h0.9v0.9h-0.9zM187.6 500.2h0.9v0.9h-0.9zM181.8 497.7h0.9v0.9h-0.9zM188.8 496.5h0.9v0.9h-0.9zM200.8 498.8h0.9v0.9h-0.9zM181.7 497.9h0.9v0.9h-0.9zM181.9 499.4h0.9v0.9h-0.9zM187.0 500.5h0.9v0.9h-0.9zM180.3 499.1h0.9v0.9h-0.9z" fill="#5060ff" fill-opacity="0.35"/>
<path d="M173.4 495.4h0.9v0.9h-0.9zM180.3 496.4h0.9v0.9h-0.9zM179.2 496.6h0.9v0.9h-0.9zM174.4 494.2h0.9v0.9h-0.9zM174.4 497.7h0.9v0.9h-0.9zM177.6 505.2h0.9v0.9h-0.9zM181.0 499.2h0.9v0.9h-0.9zM174.7 497.1h0.9v0.9h-0.9zM174.9 503.5h0.9v0.9h-0.9zM175.3 500.1h0.9v0.9h-0.9zM173.8 498.9h0.9v0.9h-0.9zM174.1 495.4h0.9v0.9h-0.9zM177.5 497.1h0.9v0.9h-0.9zM176.9 496.5h0.9v0.9h-0.9zM175.0 496.4h0.9v0.9h-0.9zM176.9 494.0h0.9v0.9h-0.9zM178.4 497.2h0.9v0.9h-0.9zM175.2 500.5h0.9v0.9h-0.9zM175.7 491.3h0.9v0.9h-0.9zM180.1 495.6h0.9v0.9h-0.9zM180.5 498.0h0.9v0.9h-0.9zM174.9 499.9h0.9v0.9h-0.9zM178.1 499.4h0.9v0.9h-0.9zM177.1 501.2h0.9v0.9h-0.9zM179.3 495.8h0.9v0.9h-0.9zM173.4 496.6h0.9v0.9h-0.9zM177.2 493.9h0.9v0.9h-0.9zM176.6 501.0h0.9v0.9h-0.9zM175.9 500.0h0.9v0.9h-0.9zM174.8 493.9h0.9v0.9h-0.9zM179.3 496.2h0.9v0.9h-0.9zM177.6 499.7h0.9v0.9h-0.9zM180.9 493.2h0.9v0.9h-0.9zM178.4 497.4h0.9v0.9h-0.9zM177.4 501.9h0.9v0.9h-0.9zM176.5 495.0h0.9v0.9h-0.9zM178.2 490.9h0.9v0.9h-0.9zM177.9 494.2h0.9v0.9h-0.9zM177.8 494.6h0.9v0.9h-0.9zM178.3 496.0h0.9v0.9h-0.9z" fill="#3040ff" fill-opacity="0.45"/>
<path d="M176.3 470.4h0.9v0.9h-0.9zM177.1 485.2h0.9v0.9h-0.9zM176.6 477.9h0.9v0.9h-0.9zM176.1 479.5h0.9v0.9h-0.9zM175.6 483.8h0.9v0.9h-0.9zM177.4 475.3h0.9v0.9h-0.9zM176.4 479.4h0.9v0.9h-0.9zM176.3 490.4h0.9v0.9h-0.9zM175.9 476.3h0.9v0.9h-0.9zM176.9 484.6h0.9v0.9h-0.9zM176.1 464.6h0.9v0.9h-0.9zM176.9 464.7h0.9v0.9h-0.9zM177.1 461.3h0.9v0.9h-0.9zM177.3 486.8h0.9v0.9h-0.9z" fill="#6070ff" fill-opacity="0.35"/>
<g filter="url(#b5)" transform="rotate(0 176.60 499.70)"><ellipse cx="176.60" cy="499.70" rx="3.3" ry="3.2" fill="#1a2dff"/><ellipse cx="176.60" cy="499.70" rx="2.5" ry="2.5" fill="#1a80ff"/><ellipse cx="176.60" cy="499.70" rx="1.9" ry="1.9" fill="#00c8ff"/><ellipse cx="176.60" cy="499.70" rx="1.3" ry="1.3" fill="#33e04a"/><ellipse cx="176.60" cy="499.70" rx="0.7" ry="0.7" fill="#f2e600"/></g>
<g filter="url(#b4)" transform="rotate(-42 193.00 479.00)"><ellipse cx="193.00" cy="479.00" rx="12.5" ry="1.5" fill="#4a5cff"/><ellipse cx="193.00" cy="479.00" rx="10" ry="1.1" fill="#1a2cff"/><ellipse cx="192.00" cy="479.00" rx="5" ry="0.7" fill="#0a1aff"/></g>
<path d="M182.0 488.8h0.9v0.9h-0.9zM193.1 476.3h0.9v0.9h-0.9zM193.2 479.5h0.9v0.9h-0.9zM195.0 477.7h0.9v0.9h-0.9zM188.1 481.0h0.9v0.9h-0.9zM197.5 474.3h0.9v0.9h-0.9zM187.5 486.5h0.9v0.9h-0.9zM194.4 473.0h0.9v0.9h-0.9zM206.0 467.5h0.9v0.9h-0.9zM185.9 487.1h0.9v0.9h-0.9zM195.7 478.6h0.9v0.9h-0.9zM191.7 477.3h0.9v0.9h-0.9zM191.9 479.3h0.9v0.9h-0.9zM194.4 477.5h0.9v0.9h-0.9zM194.8 475.3h0.9v0.9h-0.9zM189.9 480.9h0.9v0.9h-0.9zM193.7 475.5h0.9v0.9h-0.9zM195.1 481.2h0.9v0.9h-0.9zM185.0 488.0h0.9v0.9h-0.9zM194.4 479.4h0.9v0.9h-0.9zM193.5 479.0h0.9v0.9h-0.9zM195.3 477.7h0.9v0.9h-0.9zM187.0 484.2h0.9v0.9h-0.9zM203.3 472.1h0.9v0.9h-0.9zM188.1 481.9h0.9v0.9h-0.9zM193.1 480.7h0.9v0.9h-0.9zM197.1 474.3h0.9v0.9h-0.9zM181.2 489.6h0.9v0.9h-0.9zM185.8 487.5h0.9v0.9h-0.9zM201.0 472.9h0.9v0.9h-0.9zM196.5 476.8h0.9v0.9h-0.9zM203.1 471.7h0.9v0.9h-0.9zM199.3 471.4h0.9v0.9h-0.9zM190.5 481.3h0.9v0.9h-0.9zM181.7 488.7h0.9v0.9h-0.9zM192.9 479.0h0.9v0.9h-0.9zM205.5 467.4h0.9v0.9h-0.9zM192.0 479.7h0.9v0.9h-0.9zM190.2 479.2h0.9v0.9h-0.9zM198.7 474.0h0.9v0.9h-0.9zM194.9 477.4h0.9v0.9h-0.9zM187.8 481.0h0.9v0.9h-0.9zM192.1 480.7h0.9v0.9h-0.9zM193.1 480.2h0.9v0.9h-0.9zM188.9 482.2h0.9v0.9h-0.9zM193.7 478.2h0.9v0.9h-0.9zM195.1 479.5h0.9v0.9h-0.9zM191.1 481.0h0.9v0.9h-0.9zM190.3 482.4h0.9v0.9h-0.9zM193.5 477.3h0.9v0.9h-0.9z" fill="#2030ff" fill-opacity="0.5"/>
<path d="M183.8 492.1h0.9v0.9h-0.9zM182.5 487.1h0.9v0.9h-0.9zM183.2 487.6h0.9v0.9h-0.9zM181.4 494.1h0.9v0.9h-0.9zM181.1 494.4h0.9v0.9h-0.9zM181.0 487.0h0.9v0.9h-0.9zM180.2 493.4h0.9v0.9h-0.9zM185.4 488.9h0.9v0.9h-0.9zM182.1 489.4h0.9v0.9h-0.9zM183.8 489.1h0.9v0.9h-0.9z" fill="#6070ff" fill-opacity="0.4"/>
<line x1="269.50" y1="338.20" x2="269.50" y2="508.80" stroke="#333333" stroke-width="1"/>
<line x1="269.20" y1="508.50" x2="383.30" y2="508.50" stroke="#333333" stroke-width="1"/>
<line x1="262.90" y1="338.50" x2="269.20" y2="338.50" stroke="#333333" stroke-width="1"/>
<text x="260.60" y="342.60" font-size="13" fill="#231f20" stroke="#231f20" stroke-width="0.35" text-anchor="end" textLength="7.15" lengthAdjust="spacingAndGlyphs">6</text>
<line x1="262.90" y1="395.50" x2="269.20" y2="395.50" stroke="#333333" stroke-width="1"/>
<text x="260.60" y="399.70" font-size="13" fill="#231f20" stroke="#231f20" stroke-width="0.35" text-anchor="end" textLength="7.15" lengthAdjust="spacingAndGlyphs">4</text>
<line x1="262.90" y1="451.50" x2="269.20" y2="451.50" stroke="#333333" stroke-width="1"/>
<text x="260.60" y="456.10" font-size="13" fill="#231f20" stroke="#231f20" stroke-width="0.35" text-anchor="end" textLength="7.15" lengthAdjust="spacingAndGlyphs">2</text>
<line x1="262.90" y1="508.50" x2="269.20" y2="508.50" stroke="#333333" stroke-width="1"/>
<text x="260.60" y="513.20" font-size="13" fill="#231f20" stroke="#231f20" stroke-width="0.35" text-anchor="end" textLength="7.15" lengthAdjust="spacingAndGlyphs">0</text>
<line x1="292.50" y1="508.80" x2="292.50" y2="515.10" stroke="#333333" stroke-width="1"/>
<line x1="326.50" y1="508.80" x2="326.50" y2="515.10" stroke="#333333" stroke-width="1"/>
<line x1="360.50" y1="508.80" x2="360.50" y2="515.10" stroke="#333333" stroke-width="1"/>
<text x="0" y="0" font-size="12.3" fill="#231f20" stroke="#231f20" stroke-width="0.35" transform="translate(250.3,513.9) rotate(-90)"><tspan textLength="96" lengthAdjust="spacingAndGlyphs">% SIINFEKL-H-2K</tspan><tspan font-size="7" dy="-4" stroke-width="0.1">b</tspan><tspan dy="4" textLength="76" lengthAdjust="spacingAndGlyphs">+ CD8+ T cells</tspan></text>
<text x="326.20" y="350.60" font-size="11.5" fill="#231f20" stroke="#231f20" stroke-width="0.1" textLength="32.70" lengthAdjust="spacingAndGlyphs">0.0036</text>
<line x1="325.30" y1="352.50" x2="361.20" y2="352.50" stroke="#555" stroke-width="1.1"/>
<line x1="284.00" y1="508.50" x2="301.00" y2="508.50" stroke="#555" stroke-width="1.1"/>
<circle cx="285.20" cy="508.20" r="3.2" fill="white" stroke="#231f20" stroke-width="0.9"/>
<circle cx="287.95" cy="508.20" r="3.2" fill="white" stroke="#231f20" stroke-width="0.9"/>
<circle cx="290.70" cy="508.20" r="3.2" fill="white" stroke="#231f20" stroke-width="0.9"/>
<circle cx="293.45" cy="508.20" r="3.2" fill="white" stroke="#231f20" stroke-width="0.9"/>
<circle cx="296.20" cy="508.20" r="3.2" fill="white" stroke="#231f20" stroke-width="0.9"/>
<circle cx="298.95" cy="508.20" r="3.2" fill="white" stroke="#231f20" stroke-width="0.9"/>
<line x1="315.50" y1="452.50" x2="338.30" y2="452.50" stroke="#555" stroke-width="1.1"/>
<circle cx="326.20" cy="387.40" r="3.4" fill="#111" stroke="#231f20" stroke-width="0.9"/>
<circle cx="324.00" cy="419.10" r="3.4" fill="#111" stroke="#231f20" stroke-width="0.9"/>
<circle cx="327.90" cy="419.70" r="3.4" fill="#111" stroke="#231f20" stroke-width="0.9"/>
<circle cx="322.30" cy="439.60" r="3.4" fill="#111" stroke="#231f20" stroke-width="0.9"/>
<circle cx="326.60" cy="443.60" r="3.4" fill="#111" stroke="#231f20" stroke-width="0.9"/>
<circle cx="318.10" cy="459.90" r="3.4" fill="#111" stroke="#231f20" stroke-width="0.9"/>
<circle cx="327.90" cy="455.00" r="3.4" fill="#111" stroke="#231f20" stroke-width="0.9"/>
<circle cx="333.80" cy="459.20" r="3.4" fill="#111" stroke="#231f20" stroke-width="0.9"/>
<circle cx="323.00" cy="463.10" r="3.4" fill="#111" stroke="#231f20" stroke-width="0.9"/>
<circle cx="318.10" cy="467.00" r="3.4" fill="#111" stroke="#231f20" stroke-width="0.9"/>
<circle cx="327.90" cy="466.40" r="3.4" fill="#111" stroke="#231f20" stroke-width="0.9"/>
<circle cx="323.00" cy="472.00" r="3.4" fill="#111" stroke="#231f20" stroke-width="0.9"/>
<circle cx="333.80" cy="471.30" r="3.4" fill="#111" stroke="#231f20" stroke-width="0.9"/>
<circle cx="327.90" cy="475.20" r="3.4" fill="#111" stroke="#231f20" stroke-width="0.9"/>
<circle cx="326.20" cy="489.90" r="3.4" fill="#111" stroke="#231f20" stroke-width="0.9"/>
<circle cx="360.50" cy="364.30" r="3.4" fill="#ff2a00" stroke="#231f20" stroke-width="0.9"/>
<circle cx="352.30" cy="377.30" r="3.4" fill="#ff2a00" stroke="#231f20" stroke-width="0.9"/>
<circle cx="368.70" cy="376.00" r="3.4" fill="#ff2a00" stroke="#231f20" stroke-width="0.9"/>
<circle cx="360.50" cy="415.80" r="3.4" fill="#ff2a00" stroke="#231f20" stroke-width="0.9"/>
<circle cx="352.30" cy="424.00" r="3.4" fill="#ff2a00" stroke="#231f20" stroke-width="0.9"/>
<circle cx="368.70" cy="430.50" r="3.4" fill="#ff2a00" stroke="#231f20" stroke-width="0.9"/>
<circle cx="360.50" cy="440.30" r="3.4" fill="#ff2a00" stroke="#231f20" stroke-width="0.9"/>
<circle cx="360.50" cy="450.70" r="3.4" fill="#ff2a00" stroke="#231f20" stroke-width="0.9"/>
<circle cx="360.50" cy="463.10" r="3.4" fill="#ff2a00" stroke="#231f20" stroke-width="0.9"/>
<line x1="349.00" y1="415.50" x2="371.90" y2="415.50" stroke="#555" stroke-width="1.1"/>
<text x="290.80" y="527.70" font-size="11.5" fill="#231f20" stroke="#231f20" stroke-width="0.35" text-anchor="middle" textLength="25.10" lengthAdjust="spacingAndGlyphs">eGFP</text>
<text x="306.70" y="527.70" font-size="11.5" fill="#231f20" stroke="#231f20" stroke-width="0.35" textLength="29.80" lengthAdjust="spacingAndGlyphs">IFNαR</text>
<text x="336.20" y="522.91" font-size="9.66" fill="#231f20" stroke="#231f20" stroke-width="0.35" textLength="13.30" lengthAdjust="spacingAndGlyphs">WT</text>
<text x="327.50" y="541.40" font-size="11.5" fill="#231f20" stroke="#231f20" stroke-width="0.35" text-anchor="middle" textLength="20.30" lengthAdjust="spacingAndGlyphs">OVA</text>
<text x="349.10" y="527.70" font-size="11.5" fill="#ed1c24" stroke="#ed1c24" stroke-width="0.35" textLength="30.50" lengthAdjust="spacingAndGlyphs">IFNαR</text>
<text x="379.30" y="522.91" font-size="9.66" fill="#ed1c24" stroke="#ed1c24" stroke-width="0.35" textLength="16.10" lengthAdjust="spacingAndGlyphs">cKO</text>
<text x="371.60" y="541.40" font-size="11.5" fill="#ed1c24" stroke="#ed1c24" stroke-width="0.35" text-anchor="middle" textLength="20.20" lengthAdjust="spacingAndGlyphs">OVA</text>
<text x="391.50" y="313.20" font-size="12.2" fill="#231f20" stroke="#231f20" stroke-width="0.35" textLength="9.60" lengthAdjust="spacingAndGlyphs">D</text>
<line x1="411.6" y1="311.1" x2="422.4" y2="311.1" stroke="#333" stroke-width="1.4" stroke-dasharray="1.6 2.4"/>
<text x="428.40" y="313.40" font-size="11.5" fill="#231f20" stroke="#231f20" stroke-width="0.35" textLength="14.40" lengthAdjust="spacingAndGlyphs">Tet</text>
<line x1="443.60" y1="307.50" x2="447.40" y2="307.50" stroke="#231f20" stroke-width="0.8"/>
<line x1="411.60" y1="329.20" x2="422.10" y2="329.20" stroke="#231f20" stroke-width="1.4"/>
<text x="430.90" y="333.00" font-size="11.5" fill="#231f20" stroke="#231f20" stroke-width="0.35" textLength="30.80" lengthAdjust="spacingAndGlyphs">IFNαR</text>
<text x="461.40" y="328.21" font-size="9.66" fill="#231f20" stroke="#231f20" stroke-width="0.35" textLength="12.50" lengthAdjust="spacingAndGlyphs">WT</text>
<text x="473.50" y="333.00" font-size="11.5" fill="#231f20" stroke="#231f20" stroke-width="0.35" textLength="21.50" lengthAdjust="spacingAndGlyphs">OVA</text>
<line x1="411.60" y1="349.30" x2="422.10" y2="349.30" stroke="#ed1c24" stroke-width="1.4"/>
<text x="429.10" y="354.90" font-size="11.5" fill="#ed1c24" stroke="#ed1c24" stroke-width="0.35" textLength="30.40" lengthAdjust="spacingAndGlyphs">IFNαR</text>
<text x="459.20" y="350.11" font-size="9.66" fill="#ed1c24" stroke="#ed1c24" stroke-width="0.35" textLength="16.00" lengthAdjust="spacingAndGlyphs">cKO</text>
<text x="477.50" y="354.90" font-size="11.5" fill="#ed1c24" stroke="#ed1c24" stroke-width="0.35" textLength="19.60" lengthAdjust="spacingAndGlyphs">OVA</text>
<polygon points="426.9,491.6 432.6,488.2 439.2,485.7 443.2,482.5 445.7,475.9 448.1,464.5 450.6,458.0 453.0,433.5 456.3,428.3 457.9,430.3 460.7,427.0 463.6,422.1 465.3,435.1 466.9,449.8 469.3,448.5 471.8,459.6 475.0,464.5 478.0,480.8 481.6,486.5 486.5,491.6" fill="#8e8e8e" stroke="none"/>
<polygon points="428.5,491.6 437.5,489.8 444.0,487.3 448.9,482.5 452.2,474.3 454.6,462.9 458.7,453.1 462.0,438.4 464.4,425.4 466.1,412.3 467.7,397.6 469.3,395.2 471.0,391.9 472.6,397.6 474.2,404.2 475.4,400.9 477.0,412.3 479.1,430.3 481.6,454.7 484.8,475.9 488.9,487.3 493.0,491.6" fill="#f5a3a6" stroke="none" style="mix-blend-mode:multiply"/>
<polyline points="426.9,491.6 432.6,488.2 439.2,485.7 443.2,482.5 445.7,475.9 448.1,464.5 450.6,458.0 453.0,433.5 456.3,428.3 457.9,430.3 460.7,427.0 463.6,422.1 465.3,435.1 466.9,449.8 469.3,448.5 471.8,459.6 475.0,464.5 478.0,480.8 481.6,486.5 486.5,491.6" fill="none" stroke="#1a1a1a" stroke-width="1"/>
<polyline points="428.5,491.6 437.5,489.8 444.0,487.3 448.9,482.5 452.2,474.3 454.6,462.9 458.7,453.1 462.0,438.4 464.4,425.4 466.1,412.3 467.7,397.6 469.3,395.2 471.0,391.9 472.6,397.6 474.2,404.2 475.4,400.9 477.0,412.3 479.1,430.3 481.6,454.7 484.8,475.9 488.9,487.3 493.0,491.6" fill="none" stroke="#ff1a1a" stroke-width="1"/>
<polyline points="416.3,491.6 418.8,475.9 421.2,446.6 423.7,414.0 426.1,381.3 429.0,373.5 431.0,381.3 432.6,414.0 435.1,446.6 438.3,475.9 440.8,487.3 442.0,491.6" fill="none" stroke="#333" stroke-width="0.9" stroke-dasharray="1.5 1.5"/>
<polyline points="401.6,491.6 401.6,367.4 526.3,367.4 526.3,491.6" fill="none" stroke="#2b2b2b" stroke-width="1.1"/>
<line x1="401.60" y1="491.50" x2="526.30" y2="491.50" stroke="#2b2b2b" stroke-width="1.1"/>
<line x1="398.10" y1="373.40" x2="401.60" y2="373.40" stroke="#333" stroke-width="0.9"/>
<line x1="399.60" y1="378.23" x2="401.60" y2="378.23" stroke="#333" stroke-width="0.9"/>
<line x1="399.60" y1="383.06" x2="401.60" y2="383.06" stroke="#333" stroke-width="0.9"/>
<line x1="399.60" y1="387.89" x2="401.60" y2="387.89" stroke="#333" stroke-width="0.9"/>
<line x1="399.60" y1="392.72" x2="401.60" y2="392.72" stroke="#333" stroke-width="0.9"/>
<line x1="398.10" y1="397.55" x2="401.60" y2="397.55" stroke="#333" stroke-width="0.9"/>
<line x1="399.60" y1="402.38" x2="401.60" y2="402.38" stroke="#333" stroke-width="0.9"/>
<line x1="399.60" y1="407.21" x2="401.60" y2="407.21" stroke="#333" stroke-width="0.9"/>
<line x1="399.60" y1="412.04" x2="401.60" y2="412.04" stroke="#333" stroke-width="0.9"/>
<line x1="399.60" y1="416.87" x2="401.60" y2="416.87" stroke="#333" stroke-width="0.9"/>
<line x1="398.10" y1="421.70" x2="401.60" y2="421.70" stroke="#333" stroke-width="0.9"/>
<line x1="399.60" y1="426.53" x2="401.60" y2="426.53" stroke="#333" stroke-width="0.9"/>
<line x1="399.60" y1="431.36" x2="401.60" y2="431.36" stroke="#333" stroke-width="0.9"/>
<line x1="399.60" y1="436.19" x2="401.60" y2="436.19" stroke="#333" stroke-width="0.9"/>
<line x1="399.60" y1="441.02" x2="401.60" y2="441.02" stroke="#333" stroke-width="0.9"/>
<line x1="398.10" y1="445.85" x2="401.60" y2="445.85" stroke="#333" stroke-width="0.9"/>
<line x1="399.60" y1="450.68" x2="401.60" y2="450.68" stroke="#333" stroke-width="0.9"/>
<line x1="399.60" y1="455.51" x2="401.60" y2="455.51" stroke="#333" stroke-width="0.9"/>
<line x1="399.60" y1="460.34" x2="401.60" y2="460.34" stroke="#333" stroke-width="0.9"/>
<line x1="399.60" y1="465.17" x2="401.60" y2="465.17" stroke="#333" stroke-width="0.9"/>
<line x1="398.10" y1="470.00" x2="401.60" y2="470.00" stroke="#333" stroke-width="0.9"/>
<line x1="399.60" y1="474.83" x2="401.60" y2="474.83" stroke="#333" stroke-width="0.9"/>
<line x1="399.60" y1="479.66" x2="401.60" y2="479.66" stroke="#333" stroke-width="0.9"/>
<line x1="399.60" y1="484.49" x2="401.60" y2="484.49" stroke="#333" stroke-width="0.9"/>
<line x1="399.60" y1="489.32" x2="401.60" y2="489.32" stroke="#333" stroke-width="0.9"/>
<line x1="409.50" y1="491.60" x2="409.50" y2="494.60" stroke="#333" stroke-width="0.9"/>
<line x1="430.50" y1="491.60" x2="430.50" y2="494.60" stroke="#333" stroke-width="0.9"/>
<line x1="450.50" y1="491.60" x2="450.50" y2="494.60" stroke="#333" stroke-width="0.9"/>
<line x1="483.50" y1="491.60" x2="483.50" y2="494.60" stroke="#333" stroke-width="0.9"/>
<line x1="514.50" y1="491.60" x2="514.50" y2="494.60" stroke="#333" stroke-width="0.9"/>
<line x1="460.50" y1="491.60" x2="460.50" y2="493.40" stroke="#333" stroke-width="0.7"/>
<line x1="466.50" y1="491.60" x2="466.50" y2="493.40" stroke="#333" stroke-width="0.7"/>
<line x1="470.50" y1="491.60" x2="470.50" y2="493.40" stroke="#333" stroke-width="0.7"/>
<line x1="473.50" y1="491.60" x2="473.50" y2="493.40" stroke="#333" stroke-width="0.7"/>
<line x1="476.50" y1="491.60" x2="476.50" y2="493.40" stroke="#333" stroke-width="0.7"/>
<line x1="478.50" y1="491.60" x2="478.50" y2="493.40" stroke="#333" stroke-width="0.7"/>
<line x1="480.50" y1="491.60" x2="480.50" y2="493.40" stroke="#333" stroke-width="0.7"/>
<line x1="482.50" y1="491.60" x2="482.50" y2="493.40" stroke="#333" stroke-width="0.7"/>
<line x1="493.50" y1="491.60" x2="493.50" y2="493.40" stroke="#333" stroke-width="0.7"/>
<line x1="498.50" y1="491.60" x2="498.50" y2="493.40" stroke="#333" stroke-width="0.7"/>
<line x1="502.50" y1="491.60" x2="502.50" y2="493.40" stroke="#333" stroke-width="0.7"/>
<line x1="505.50" y1="491.60" x2="505.50" y2="493.40" stroke="#333" stroke-width="0.7"/>
<line x1="507.50" y1="491.60" x2="507.50" y2="493.40" stroke="#333" stroke-width="0.7"/>
<line x1="509.50" y1="491.60" x2="509.50" y2="493.40" stroke="#333" stroke-width="0.7"/>
<line x1="511.50" y1="491.60" x2="511.50" y2="493.40" stroke="#333" stroke-width="0.7"/>
<line x1="513.50" y1="491.60" x2="513.50" y2="493.40" stroke="#333" stroke-width="0.7"/>
<line x1="413.50" y1="491.60" x2="413.50" y2="493.40" stroke="#333" stroke-width="0.7"/>
<line x1="417.50" y1="491.60" x2="417.50" y2="493.40" stroke="#333" stroke-width="0.7"/>
<line x1="421.50" y1="491.60" x2="421.50" y2="493.40" stroke="#333" stroke-width="0.7"/>
<line x1="425.50" y1="491.60" x2="425.50" y2="493.40" stroke="#333" stroke-width="0.7"/>
<line x1="434.50" y1="491.60" x2="434.50" y2="493.40" stroke="#333" stroke-width="0.7"/>
<line x1="438.50" y1="491.60" x2="438.50" y2="493.40" stroke="#333" stroke-width="0.7"/>
<line x1="442.50" y1="491.60" x2="442.50" y2="493.40" stroke="#333" stroke-width="0.7"/>
<line x1="446.50" y1="491.60" x2="446.50" y2="493.40" stroke="#333" stroke-width="0.7"/>
<line x1="518.50" y1="491.60" x2="518.50" y2="493.40" stroke="#333" stroke-width="0.7"/>
<line x1="521.50" y1="491.60" x2="521.50" y2="493.40" stroke="#333" stroke-width="0.7"/>
<line x1="524.50" y1="491.60" x2="524.50" y2="493.40" stroke="#333" stroke-width="0.7"/>
<rect x="426" y="490.6" width="5" height="2.5" fill="#111"/>
<text x="402.90" y="505.80" font-size="8.4" fill="#231f20" stroke="#231f20" stroke-width="0.25" textLength="8.00" lengthAdjust="spacingAndGlyphs">10</text>
<text x="411.10" y="502.70" font-size="6.2" fill="#231f20" stroke="#231f20" stroke-width="0.08" textLength="5.40" lengthAdjust="spacingAndGlyphs">-3</text>
<text x="429.80" y="505.80" font-size="8.4" fill="#231f20" stroke="#231f20" stroke-width="0.25" text-anchor="middle" textLength="4.62" lengthAdjust="spacingAndGlyphs">0</text>
<text x="445.35" y="505.80" font-size="8.4" fill="#231f20" stroke="#231f20" stroke-width="0.25" textLength="8.00" lengthAdjust="spacingAndGlyphs">10</text>
<text x="453.55" y="502.70" font-size="6.2" fill="#231f20" stroke="#231f20" stroke-width="0.08" textLength="4.30" lengthAdjust="spacingAndGlyphs">3</text>
<text x="478.85" y="505.80" font-size="8.4" fill="#231f20" stroke="#231f20" stroke-width="0.25" textLength="8.00" lengthAdjust="spacingAndGlyphs">10</text>
<text x="487.05" y="502.70" font-size="6.2" fill="#231f20" stroke="#231f20" stroke-width="0.08" textLength="4.30" lengthAdjust="spacingAndGlyphs">4</text>
<text x="506.35" y="505.80" font-size="8.4" fill="#231f20" stroke="#231f20" stroke-width="0.25" textLength="8.00" lengthAdjust="spacingAndGlyphs">10</text>
<text x="514.55" y="502.70" font-size="6.2" fill="#231f20" stroke="#231f20" stroke-width="0.08" textLength="4.30" lengthAdjust="spacingAndGlyphs">5</text>
<line x1="402.20" y1="511.50" x2="521.30" y2="511.50" stroke="#333" stroke-width="1.2"/>
<polyline points="514.6,507.3 521.3,511.5 514.6,515.7" fill="none" stroke="#333" stroke-width="1.2"/>
<text x="408.90" y="524.80" font-size="12.5" fill="#231f20" stroke="#231f20" stroke-width="0.35" textLength="24.90" lengthAdjust="spacingAndGlyphs">PD-1</text>
<text x="0" y="0" font-size="12" fill="#231f20" stroke="#231f20" stroke-width="0.35" transform="translate(397.80,437.50) rotate(-90)" textLength="28.50" lengthAdjust="spacingAndGlyphs">Mode</text>
<line x1="479.6" y1="377.9" x2="492.5" y2="377.9" stroke="#222" stroke-width="1.3" stroke-dasharray="1.6 1.6"/>
<text x="493.60" y="383.30" font-size="14" fill="#231f20" stroke="#231f20" stroke-width="0.15" textLength="29.70" lengthAdjust="spacingAndGlyphs">-7.44</text>
<line x1="479.60" y1="395.40" x2="492.50" y2="395.40" stroke="#111" stroke-width="1.5"/>
<text x="497.80" y="400.60" font-size="14" fill="#231f20" stroke="#231f20" stroke-width="0.15" textLength="26.20" lengthAdjust="spacingAndGlyphs">1901</text>
<line x1="479.60" y1="414.10" x2="492.50" y2="414.10" stroke="#ed1c24" stroke-width="1.5"/>
<text x="494.80" y="418.80" font-size="14" fill="#ed1c24" stroke="#ed1c24" stroke-width="0.15" textLength="28.50" lengthAdjust="spacingAndGlyphs">3206</text>
<line x1="590.50" y1="339.00" x2="590.50" y2="510.40" stroke="#333333" stroke-width="1"/>
<line x1="590.70" y1="510.50" x2="681.00" y2="510.50" stroke="#333333" stroke-width="1"/>
<line x1="584.40" y1="339.50" x2="590.70" y2="339.50" stroke="#333333" stroke-width="1"/>
<text x="578.20" y="343.60" font-size="13" fill="#231f20" stroke="#231f20" stroke-width="0.35" text-anchor="end" textLength="28.60" lengthAdjust="spacingAndGlyphs">4000</text>
<line x1="584.40" y1="381.50" x2="590.70" y2="381.50" stroke="#333333" stroke-width="1"/>
<text x="578.20" y="386.40" font-size="13" fill="#231f20" stroke="#231f20" stroke-width="0.35" text-anchor="end" textLength="28.60" lengthAdjust="spacingAndGlyphs">3000</text>
<line x1="584.40" y1="424.50" x2="590.70" y2="424.50" stroke="#333333" stroke-width="1"/>
<text x="578.20" y="429.10" font-size="13" fill="#231f20" stroke="#231f20" stroke-width="0.35" text-anchor="end" textLength="28.60" lengthAdjust="spacingAndGlyphs">2000</text>
<line x1="584.40" y1="467.50" x2="590.70" y2="467.50" stroke="#333333" stroke-width="1"/>
<text x="578.20" y="472.20" font-size="13" fill="#231f20" stroke="#231f20" stroke-width="0.35" text-anchor="end" textLength="28.60" lengthAdjust="spacingAndGlyphs">1000</text>
<line x1="584.40" y1="510.50" x2="590.70" y2="510.50" stroke="#333333" stroke-width="1"/>
<text x="578.20" y="515.00" font-size="13" fill="#231f20" stroke="#231f20" stroke-width="0.35" text-anchor="end" textLength="7.15" lengthAdjust="spacingAndGlyphs">0</text>
<line x1="624.50" y1="510.40" x2="624.50" y2="516.70" stroke="#333333" stroke-width="1"/>
<line x1="658.50" y1="510.40" x2="658.50" y2="516.70" stroke="#333333" stroke-width="1"/>
<text x="0" y="0" font-size="12" fill="#231f20" stroke="#231f20" stroke-width="0.35" transform="translate(543.90,453.00) rotate(-90)" textLength="49.40" lengthAdjust="spacingAndGlyphs">PD-1 MFI</text>
<text x="618.40" y="345.60" font-size="11.5" fill="#231f20" stroke="#231f20" stroke-width="0.1" textLength="39.20" lengthAdjust="spacingAndGlyphs">&lt;0.0001</text>
<line x1="624.40" y1="348.50" x2="658.50" y2="348.50" stroke="#555" stroke-width="1.1"/>
<line x1="616.00" y1="437.50" x2="633.00" y2="437.50" stroke="#555" stroke-width="1.1"/>
<circle cx="623.80" cy="411.00" r="3.4" fill="#111" stroke="#231f20" stroke-width="0.9"/>
<circle cx="629.00" cy="423.30" r="3.4" fill="#111" stroke="#231f20" stroke-width="0.9"/>
<circle cx="616.90" cy="429.10" r="3.4" fill="#111" stroke="#231f20" stroke-width="0.9"/>
<circle cx="622.00" cy="429.10" r="3.4" fill="#111" stroke="#231f20" stroke-width="0.9"/>
<circle cx="632.00" cy="430.90" r="3.4" fill="#111" stroke="#231f20" stroke-width="0.9"/>
<circle cx="616.90" cy="437.50" r="3.4" fill="#111" stroke="#231f20" stroke-width="0.9"/>
<circle cx="624.40" cy="436.00" r="3.4" fill="#111" stroke="#231f20" stroke-width="0.9"/>
<circle cx="632.00" cy="437.50" r="3.4" fill="#111" stroke="#231f20" stroke-width="0.9"/>
<circle cx="620.80" cy="442.00" r="3.4" fill="#111" stroke="#231f20" stroke-width="0.9"/>
<circle cx="627.40" cy="442.00" r="3.4" fill="#111" stroke="#231f20" stroke-width="0.9"/>
<circle cx="616.30" cy="448.70" r="3.4" fill="#111" stroke="#231f20" stroke-width="0.9"/>
<circle cx="624.40" cy="447.10" r="3.4" fill="#111" stroke="#231f20" stroke-width="0.9"/>
<circle cx="632.00" cy="447.10" r="3.4" fill="#111" stroke="#231f20" stroke-width="0.9"/>
<circle cx="629.00" cy="450.50" r="3.4" fill="#111" stroke="#231f20" stroke-width="0.9"/>
<circle cx="658.50" cy="362.20" r="3.4" fill="#ff2a00" stroke="#231f20" stroke-width="0.9"/>
<circle cx="650.00" cy="366.10" r="3.4" fill="#ff2a00" stroke="#231f20" stroke-width="0.9"/>
<circle cx="666.60" cy="367.60" r="3.4" fill="#ff2a00" stroke="#231f20" stroke-width="0.9"/>
<circle cx="658.50" cy="373.30" r="3.4" fill="#ff2a00" stroke="#231f20" stroke-width="0.9"/>
<circle cx="654.60" cy="388.40" r="3.4" fill="#ff2a00" stroke="#231f20" stroke-width="0.9"/>
<circle cx="662.10" cy="388.40" r="3.4" fill="#ff2a00" stroke="#231f20" stroke-width="0.9"/>
<circle cx="658.50" cy="402.00" r="3.4" fill="#ff2a00" stroke="#231f20" stroke-width="0.9"/>
<circle cx="666.60" cy="405.90" r="3.4" fill="#ff2a00" stroke="#231f20" stroke-width="0.9"/>
<circle cx="650.00" cy="411.00" r="3.4" fill="#ff2a00" stroke="#231f20" stroke-width="0.9"/>
<line x1="647.00" y1="384.50" x2="669.60" y2="384.50" stroke="#555" stroke-width="1.1"/>
<text x="596.70" y="529.40" font-size="11.5" fill="#231f20" stroke="#231f20" stroke-width="0.35" textLength="30.00" lengthAdjust="spacingAndGlyphs">IFNαR</text>
<text x="626.40" y="524.61" font-size="9.66" fill="#231f20" stroke="#231f20" stroke-width="0.35" textLength="13.60" lengthAdjust="spacingAndGlyphs">WT</text>
<text x="618.50" y="543.00" font-size="11.5" fill="#231f20" stroke="#231f20" stroke-width="0.35" text-anchor="middle" textLength="21.00" lengthAdjust="spacingAndGlyphs">OVA</text>
<text x="639.50" y="529.40" font-size="11.5" fill="#ed1c24" stroke="#ed1c24" stroke-width="0.35" textLength="30.50" lengthAdjust="spacingAndGlyphs">IFNαR</text>
<text x="669.70" y="524.61" font-size="9.66" fill="#ed1c24" stroke="#ed1c24" stroke-width="0.35" textLength="16.10" lengthAdjust="spacingAndGlyphs">cKO</text>
<text x="662.00" y="543.00" font-size="11.5" fill="#ed1c24" stroke="#ed1c24" stroke-width="0.35" text-anchor="middle" textLength="21.00" lengthAdjust="spacingAndGlyphs">OVA</text>
<text x="6.10" y="561.90" font-size="13" fill="#231f20" stroke="#231f20" stroke-width="0.35" textLength="6.80" lengthAdjust="spacingAndGlyphs">E</text>
<text x="20.50" y="600.70" font-size="12" fill="#231f20" stroke="#231f20" stroke-width="0.35" text-anchor="middle" textLength="20.20" lengthAdjust="spacingAndGlyphs">OVA</text>
<text x="2.20" y="657.40" font-size="12" fill="#231f20" stroke="#231f20" stroke-width="0.35" textLength="30.60" lengthAdjust="spacingAndGlyphs">IFNαR</text>
<text x="32.50" y="652.40" font-size="10.08" fill="#231f20" stroke="#231f20" stroke-width="0.35" textLength="13.50" lengthAdjust="spacingAndGlyphs">WT</text>
<text x="24.50" y="672.40" font-size="12" fill="#231f20" stroke="#231f20" stroke-width="0.35" text-anchor="middle" textLength="25.30" lengthAdjust="spacingAndGlyphs">eGFP</text>
<text x="-0.50" y="724.00" font-size="12" fill="#ed1c24" stroke="#ed1c24" stroke-width="0.35" textLength="31.00" lengthAdjust="spacingAndGlyphs">IFNαR</text>
<text x="30.20" y="719.00" font-size="10.08" fill="#ed1c24" stroke="#ed1c24" stroke-width="0.35" textLength="16.10" lengthAdjust="spacingAndGlyphs">cKO</text>
<text x="22.80" y="739.30" font-size="12" fill="#ed1c24" stroke="#ed1c24" stroke-width="0.35" text-anchor="middle" textLength="25.30" lengthAdjust="spacingAndGlyphs">eGFP</text>
<line x1="50.50" y1="567.60" x2="50.50" y2="765.70" stroke="#333" stroke-width="1.2"/>
<polyline points="45.00,572.20 50.50,567.60 56.00,572.20" fill="none" stroke="#333" stroke-width="1.2"/>
<text x="0" y="0" font-size="12.5" fill="#231f20" stroke="#231f20" stroke-width="0.35" transform="translate(46.10,766.20) rotate(-90)" textLength="30.80" lengthAdjust="spacingAndGlyphs">eGFP</text>
<rect x="63.40" y="567.40" width="62.20" height="61.50" fill="none" stroke="#2b2b2b" stroke-width="1.1"/>
<line x1="61.00" y1="572.90" x2="63.40" y2="572.90" stroke="#333" stroke-width="0.8"/>
<line x1="61.00" y1="588.10" x2="63.40" y2="588.10" stroke="#333" stroke-width="0.8"/>
<line x1="61.00" y1="604.70" x2="63.40" y2="604.70" stroke="#333" stroke-width="0.8"/>
<line x1="61.00" y1="626.00" x2="63.40" y2="626.00" stroke="#333" stroke-width="0.8"/>
<line x1="62.00" y1="599.70" x2="63.40" y2="599.70" stroke="#444" stroke-width="0.6"/>
<line x1="62.00" y1="596.78" x2="63.40" y2="596.78" stroke="#444" stroke-width="0.6"/>
<line x1="62.00" y1="594.71" x2="63.40" y2="594.71" stroke="#444" stroke-width="0.6"/>
<line x1="62.00" y1="593.10" x2="63.40" y2="593.10" stroke="#444" stroke-width="0.6"/>
<line x1="62.00" y1="591.78" x2="63.40" y2="591.78" stroke="#444" stroke-width="0.6"/>
<line x1="62.00" y1="590.67" x2="63.40" y2="590.67" stroke="#444" stroke-width="0.6"/>
<line x1="62.00" y1="589.71" x2="63.40" y2="589.71" stroke="#444" stroke-width="0.6"/>
<line x1="62.00" y1="588.86" x2="63.40" y2="588.86" stroke="#444" stroke-width="0.6"/>
<line x1="62.00" y1="583.52" x2="63.40" y2="583.52" stroke="#444" stroke-width="0.6"/>
<line x1="62.00" y1="580.85" x2="63.40" y2="580.85" stroke="#444" stroke-width="0.6"/>
<line x1="62.00" y1="578.95" x2="63.40" y2="578.95" stroke="#444" stroke-width="0.6"/>
<line x1="62.00" y1="577.48" x2="63.40" y2="577.48" stroke="#444" stroke-width="0.6"/>
<line x1="62.00" y1="576.27" x2="63.40" y2="576.27" stroke="#444" stroke-width="0.6"/>
<line x1="62.00" y1="575.25" x2="63.40" y2="575.25" stroke="#444" stroke-width="0.6"/>
<line x1="62.00" y1="574.37" x2="63.40" y2="574.37" stroke="#444" stroke-width="0.6"/>
<line x1="62.00" y1="573.60" x2="63.40" y2="573.60" stroke="#444" stroke-width="0.6"/>
<line x1="62.00" y1="569.40" x2="63.40" y2="569.40" stroke="#444" stroke-width="0.6"/>
<line x1="62.00" y1="609.90" x2="63.40" y2="609.90" stroke="#444" stroke-width="0.6"/>
<line x1="62.00" y1="620.90" x2="63.40" y2="620.90" stroke="#444" stroke-width="0.6"/>
<line x1="62.00" y1="628.40" x2="63.40" y2="628.40" stroke="#444" stroke-width="0.6"/>
<line x1="67.20" y1="628.90" x2="67.20" y2="631.30" stroke="#333" stroke-width="0.8"/>
<line x1="88.70" y1="628.90" x2="88.70" y2="631.30" stroke="#333" stroke-width="0.8"/>
<line x1="105.30" y1="628.90" x2="105.30" y2="631.30" stroke="#333" stroke-width="0.8"/>
<line x1="121.30" y1="628.90" x2="121.30" y2="631.30" stroke="#333" stroke-width="0.8"/>
<line x1="93.70" y1="628.90" x2="93.70" y2="630.30" stroke="#444" stroke-width="0.6"/>
<line x1="96.62" y1="628.90" x2="96.62" y2="630.30" stroke="#444" stroke-width="0.6"/>
<line x1="98.69" y1="628.90" x2="98.69" y2="630.30" stroke="#444" stroke-width="0.6"/>
<line x1="100.30" y1="628.90" x2="100.30" y2="630.30" stroke="#444" stroke-width="0.6"/>
<line x1="101.62" y1="628.90" x2="101.62" y2="630.30" stroke="#444" stroke-width="0.6"/>
<line x1="102.73" y1="628.90" x2="102.73" y2="630.30" stroke="#444" stroke-width="0.6"/>
<line x1="103.69" y1="628.90" x2="103.69" y2="630.30" stroke="#444" stroke-width="0.6"/>
<line x1="104.54" y1="628.90" x2="104.54" y2="630.30" stroke="#444" stroke-width="0.6"/>
<line x1="110.12" y1="628.90" x2="110.12" y2="630.30" stroke="#444" stroke-width="0.6"/>
<line x1="112.93" y1="628.90" x2="112.93" y2="630.30" stroke="#444" stroke-width="0.6"/>
<line x1="114.93" y1="628.90" x2="114.93" y2="630.30" stroke="#444" stroke-width="0.6"/>
<line x1="116.48" y1="628.90" x2="116.48" y2="630.30" stroke="#444" stroke-width="0.6"/>
<line x1="117.75" y1="628.90" x2="117.75" y2="630.30" stroke="#444" stroke-width="0.6"/>
<line x1="118.82" y1="628.90" x2="118.82" y2="630.30" stroke="#444" stroke-width="0.6"/>
<line x1="119.75" y1="628.90" x2="119.75" y2="630.30" stroke="#444" stroke-width="0.6"/>
<line x1="120.57" y1="628.90" x2="120.57" y2="630.30" stroke="#444" stroke-width="0.6"/>
<line x1="82.90" y1="628.90" x2="82.90" y2="630.30" stroke="#444" stroke-width="0.6"/>
<line x1="72.40" y1="628.90" x2="72.40" y2="630.30" stroke="#444" stroke-width="0.6"/>
<line x1="123.90" y1="628.90" x2="123.90" y2="630.30" stroke="#444" stroke-width="0.6"/>
<rect x="61.40" y="612.94" width="2" height="2.4" fill="#111"/>
<rect x="75.58" y="628.90" width="3" height="1.8" fill="#111"/>
<rect x="63.40" y="632.90" width="62.20" height="61.50" fill="none" stroke="#2b2b2b" stroke-width="1.1"/>
<line x1="61.00" y1="638.40" x2="63.40" y2="638.40" stroke="#333" stroke-width="0.8"/>
<line x1="61.00" y1="653.60" x2="63.40" y2="653.60" stroke="#333" stroke-width="0.8"/>
<line x1="61.00" y1="670.20" x2="63.40" y2="670.20" stroke="#333" stroke-width="0.8"/>
<line x1="61.00" y1="691.50" x2="63.40" y2="691.50" stroke="#333" stroke-width="0.8"/>
<line x1="62.00" y1="665.20" x2="63.40" y2="665.20" stroke="#444" stroke-width="0.6"/>
<line x1="62.00" y1="662.28" x2="63.40" y2="662.28" stroke="#444" stroke-width="0.6"/>
<line x1="62.00" y1="660.21" x2="63.40" y2="660.21" stroke="#444" stroke-width="0.6"/>
<line x1="62.00" y1="658.60" x2="63.40" y2="658.60" stroke="#444" stroke-width="0.6"/>
<line x1="62.00" y1="657.28" x2="63.40" y2="657.28" stroke="#444" stroke-width="0.6"/>
<line x1="62.00" y1="656.17" x2="63.40" y2="656.17" stroke="#444" stroke-width="0.6"/>
<line x1="62.00" y1="655.21" x2="63.40" y2="655.21" stroke="#444" stroke-width="0.6"/>
<line x1="62.00" y1="654.36" x2="63.40" y2="654.36" stroke="#444" stroke-width="0.6"/>
<line x1="62.00" y1="649.02" x2="63.40" y2="649.02" stroke="#444" stroke-width="0.6"/>
<line x1="62.00" y1="646.35" x2="63.40" y2="646.35" stroke="#444" stroke-width="0.6"/>
<line x1="62.00" y1="644.45" x2="63.40" y2="644.45" stroke="#444" stroke-width="0.6"/>
<line x1="62.00" y1="642.98" x2="63.40" y2="642.98" stroke="#444" stroke-width="0.6"/>
<line x1="62.00" y1="641.77" x2="63.40" y2="641.77" stroke="#444" stroke-width="0.6"/>
<line x1="62.00" y1="640.75" x2="63.40" y2="640.75" stroke="#444" stroke-width="0.6"/>
<line x1="62.00" y1="639.87" x2="63.40" y2="639.87" stroke="#444" stroke-width="0.6"/>
<line x1="62.00" y1="639.10" x2="63.40" y2="639.10" stroke="#444" stroke-width="0.6"/>
<line x1="62.00" y1="634.90" x2="63.40" y2="634.90" stroke="#444" stroke-width="0.6"/>
<line x1="62.00" y1="675.40" x2="63.40" y2="675.40" stroke="#444" stroke-width="0.6"/>
<line x1="62.00" y1="686.40" x2="63.40" y2="686.40" stroke="#444" stroke-width="0.6"/>
<line x1="62.00" y1="693.90" x2="63.40" y2="693.90" stroke="#444" stroke-width="0.6"/>
<line x1="67.20" y1="694.40" x2="67.20" y2="696.80" stroke="#333" stroke-width="0.8"/>
<line x1="88.70" y1="694.40" x2="88.70" y2="696.80" stroke="#333" stroke-width="0.8"/>
<line x1="105.30" y1="694.40" x2="105.30" y2="696.80" stroke="#333" stroke-width="0.8"/>
<line x1="121.30" y1="694.40" x2="121.30" y2="696.80" stroke="#333" stroke-width="0.8"/>
<line x1="93.70" y1="694.40" x2="93.70" y2="695.80" stroke="#444" stroke-width="0.6"/>
<line x1="96.62" y1="694.40" x2="96.62" y2="695.80" stroke="#444" stroke-width="0.6"/>
<line x1="98.69" y1="694.40" x2="98.69" y2="695.80" stroke="#444" stroke-width="0.6"/>
<line x1="100.30" y1="694.40" x2="100.30" y2="695.80" stroke="#444" stroke-width="0.6"/>
<line x1="101.62" y1="694.40" x2="101.62" y2="695.80" stroke="#444" stroke-width="0.6"/>
<line x1="102.73" y1="694.40" x2="102.73" y2="695.80" stroke="#444" stroke-width="0.6"/>
<line x1="103.69" y1="694.40" x2="103.69" y2="695.80" stroke="#444" stroke-width="0.6"/>
<line x1="104.54" y1="694.40" x2="104.54" y2="695.80" stroke="#444" stroke-width="0.6"/>
<line x1="110.12" y1="694.40" x2="110.12" y2="695.80" stroke="#444" stroke-width="0.6"/>
<line x1="112.93" y1="694.40" x2="112.93" y2="695.80" stroke="#444" stroke-width="0.6"/>
<line x1="114.93" y1="694.40" x2="114.93" y2="695.80" stroke="#444" stroke-width="0.6"/>
<line x1="116.48" y1="694.40" x2="116.48" y2="695.80" stroke="#444" stroke-width="0.6"/>
<line x1="117.75" y1="694.40" x2="117.75" y2="695.80" stroke="#444" stroke-width="0.6"/>
<line x1="118.82" y1="694.40" x2="118.82" y2="695.80" stroke="#444" stroke-width="0.6"/>
<line x1="119.75" y1="694.40" x2="119.75" y2="695.80" stroke="#444" stroke-width="0.6"/>
<line x1="120.57" y1="694.40" x2="120.57" y2="695.80" stroke="#444" stroke-width="0.6"/>
<line x1="82.90" y1="694.40" x2="82.90" y2="695.80" stroke="#444" stroke-width="0.6"/>
<line x1="72.40" y1="694.40" x2="72.40" y2="695.80" stroke="#444" stroke-width="0.6"/>
<line x1="123.90" y1="694.40" x2="123.90" y2="695.80" stroke="#444" stroke-width="0.6"/>
<rect x="61.40" y="678.44" width="2" height="2.4" fill="#111"/>
<rect x="75.58" y="694.40" width="3" height="1.8" fill="#111"/>
<rect x="63.40" y="698.80" width="62.20" height="62.40" fill="none" stroke="#2b2b2b" stroke-width="1.1"/>
<line x1="61.00" y1="704.30" x2="63.40" y2="704.30" stroke="#333" stroke-width="0.8"/>
<line x1="61.00" y1="719.50" x2="63.40" y2="719.50" stroke="#333" stroke-width="0.8"/>
<line x1="61.00" y1="736.10" x2="63.40" y2="736.10" stroke="#333" stroke-width="0.8"/>
<line x1="61.00" y1="757.40" x2="63.40" y2="757.40" stroke="#333" stroke-width="0.8"/>
<line x1="62.00" y1="731.10" x2="63.40" y2="731.10" stroke="#444" stroke-width="0.6"/>
<line x1="62.00" y1="728.18" x2="63.40" y2="728.18" stroke="#444" stroke-width="0.6"/>
<line x1="62.00" y1="726.11" x2="63.40" y2="726.11" stroke="#444" stroke-width="0.6"/>
<line x1="62.00" y1="724.50" x2="63.40" y2="724.50" stroke="#444" stroke-width="0.6"/>
<line x1="62.00" y1="723.18" x2="63.40" y2="723.18" stroke="#444" stroke-width="0.6"/>
<line x1="62.00" y1="722.07" x2="63.40" y2="722.07" stroke="#444" stroke-width="0.6"/>
<line x1="62.00" y1="721.11" x2="63.40" y2="721.11" stroke="#444" stroke-width="0.6"/>
<line x1="62.00" y1="720.26" x2="63.40" y2="720.26" stroke="#444" stroke-width="0.6"/>
<line x1="62.00" y1="714.92" x2="63.40" y2="714.92" stroke="#444" stroke-width="0.6"/>
<line x1="62.00" y1="712.25" x2="63.40" y2="712.25" stroke="#444" stroke-width="0.6"/>
<line x1="62.00" y1="710.35" x2="63.40" y2="710.35" stroke="#444" stroke-width="0.6"/>
<line x1="62.00" y1="708.88" x2="63.40" y2="708.88" stroke="#444" stroke-width="0.6"/>
<line x1="62.00" y1="707.67" x2="63.40" y2="707.67" stroke="#444" stroke-width="0.6"/>
<line x1="62.00" y1="706.65" x2="63.40" y2="706.65" stroke="#444" stroke-width="0.6"/>
<line x1="62.00" y1="705.77" x2="63.40" y2="705.77" stroke="#444" stroke-width="0.6"/>
<line x1="62.00" y1="705.00" x2="63.40" y2="705.00" stroke="#444" stroke-width="0.6"/>
<line x1="62.00" y1="700.80" x2="63.40" y2="700.80" stroke="#444" stroke-width="0.6"/>
<line x1="62.00" y1="741.30" x2="63.40" y2="741.30" stroke="#444" stroke-width="0.6"/>
<line x1="62.00" y1="752.30" x2="63.40" y2="752.30" stroke="#444" stroke-width="0.6"/>
<line x1="62.00" y1="759.80" x2="63.40" y2="759.80" stroke="#444" stroke-width="0.6"/>
<line x1="67.20" y1="761.20" x2="67.20" y2="763.60" stroke="#333" stroke-width="0.8"/>
<line x1="88.70" y1="761.20" x2="88.70" y2="763.60" stroke="#333" stroke-width="0.8"/>
<line x1="105.30" y1="761.20" x2="105.30" y2="763.60" stroke="#333" stroke-width="0.8"/>
<line x1="121.30" y1="761.20" x2="121.30" y2="763.60" stroke="#333" stroke-width="0.8"/>
<line x1="93.70" y1="761.20" x2="93.70" y2="762.60" stroke="#444" stroke-width="0.6"/>
<line x1="96.62" y1="761.20" x2="96.62" y2="762.60" stroke="#444" stroke-width="0.6"/>
<line x1="98.69" y1="761.20" x2="98.69" y2="762.60" stroke="#444" stroke-width="0.6"/>
<line x1="100.30" y1="761.20" x2="100.30" y2="762.60" stroke="#444" stroke-width="0.6"/>
<line x1="101.62" y1="761.20" x2="101.62" y2="762.60" stroke="#444" stroke-width="0.6"/>
<line x1="102.73" y1="761.20" x2="102.73" y2="762.60" stroke="#444" stroke-width="0.6"/>
<line x1="103.69" y1="761.20" x2="103.69" y2="762.60" stroke="#444" stroke-width="0.6"/>
<line x1="104.54" y1="761.20" x2="104.54" y2="762.60" stroke="#444" stroke-width="0.6"/>
<line x1="110.12" y1="761.20" x2="110.12" y2="762.60" stroke="#444" stroke-width="0.6"/>
<line x1="112.93" y1="761.20" x2="112.93" y2="762.60" stroke="#444" stroke-width="0.6"/>
<line x1="114.93" y1="761.20" x2="114.93" y2="762.60" stroke="#444" stroke-width="0.6"/>
<line x1="116.48" y1="761.20" x2="116.48" y2="762.60" stroke="#444" stroke-width="0.6"/>
<line x1="117.75" y1="761.20" x2="117.75" y2="762.60" stroke="#444" stroke-width="0.6"/>
<line x1="118.82" y1="761.20" x2="118.82" y2="762.60" stroke="#444" stroke-width="0.6"/>
<line x1="119.75" y1="761.20" x2="119.75" y2="762.60" stroke="#444" stroke-width="0.6"/>
<line x1="120.57" y1="761.20" x2="120.57" y2="762.60" stroke="#444" stroke-width="0.6"/>
<line x1="82.90" y1="761.20" x2="82.90" y2="762.60" stroke="#444" stroke-width="0.6"/>
<line x1="72.40" y1="761.20" x2="72.40" y2="762.60" stroke="#444" stroke-width="0.6"/>
<line x1="123.90" y1="761.20" x2="123.90" y2="762.60" stroke="#444" stroke-width="0.6"/>
<rect x="61.40" y="745.02" width="2" height="2.4" fill="#111"/>
<rect x="75.58" y="761.20" width="3" height="1.8" fill="#111"/>
<rect x="82.20" y="584.60" width="40.40" height="41.30" fill="none" stroke="#3a3a3a" stroke-width="1.0"/>
<rect x="82.20" y="650.50" width="40.40" height="41.00" fill="none" stroke="#3a3a3a" stroke-width="1.0"/>
<rect x="82.30" y="716.30" width="40.20" height="40.80" fill="none" stroke="#3a3a3a" stroke-width="1.0"/>
<text x="98.20" y="579.00" font-size="14" fill="#231f20" stroke="#231f20" stroke-width="0.15" textLength="23.70" lengthAdjust="spacingAndGlyphs">0.18</text>
<text x="98.90" y="645.80" font-size="14" fill="#231f20" stroke="#231f20" stroke-width="0.15" textLength="23.00" lengthAdjust="spacingAndGlyphs">17.3</text>
<text x="96.60" y="711.60" font-size="14" fill="#ed1c24" stroke="#ed1c24" stroke-width="0.15" textLength="25.30" lengthAdjust="spacingAndGlyphs">39.7</text>
<g transform="translate(57.90,706.20) rotate(-90)">
<text x="-6.15" y="0.00" font-size="8.4" fill="#231f20" stroke="#231f20" stroke-width="0.25" textLength="8.00" lengthAdjust="spacingAndGlyphs">10</text>
<text x="2.05" y="-3.10" font-size="6.2" fill="#231f20" stroke="#231f20" stroke-width="0.08" textLength="4.30" lengthAdjust="spacingAndGlyphs">5</text>
</g>
<g transform="translate(57.90,720.90) rotate(-90)">
<text x="-6.15" y="0.00" font-size="8.4" fill="#231f20" stroke="#231f20" stroke-width="0.25" textLength="8.00" lengthAdjust="spacingAndGlyphs">10</text>
<text x="2.05" y="-3.10" font-size="6.2" fill="#231f20" stroke="#231f20" stroke-width="0.08" textLength="4.30" lengthAdjust="spacingAndGlyphs">4</text>
</g>
<g transform="translate(57.90,735.80) rotate(-90)">
<text x="-6.15" y="0.00" font-size="8.4" fill="#231f20" stroke="#231f20" stroke-width="0.25" textLength="8.00" lengthAdjust="spacingAndGlyphs">10</text>
<text x="2.05" y="-3.10" font-size="6.2" fill="#231f20" stroke="#231f20" stroke-width="0.08" textLength="4.30" lengthAdjust="spacingAndGlyphs">3</text>
</g>
<g transform="translate(57.90,746.80) rotate(-90)">
<text x="0.00" y="0.00" font-size="8.4" fill="#231f20" stroke="#231f20" stroke-width="0.25" text-anchor="middle" textLength="4.62" lengthAdjust="spacingAndGlyphs">0</text>
</g>
<g transform="translate(57.90,757.50) rotate(-90)">
<text x="-6.70" y="0.00" font-size="8.4" fill="#231f20" stroke="#231f20" stroke-width="0.25" textLength="8.00" lengthAdjust="spacingAndGlyphs">10</text>
<text x="1.50" y="-3.10" font-size="6.2" fill="#231f20" stroke="#231f20" stroke-width="0.08" textLength="5.40" lengthAdjust="spacingAndGlyphs">-3</text>
</g>
<text x="60.50" y="772.00" font-size="8.4" fill="#231f20" stroke="#231f20" stroke-width="0.25" textLength="8.00" lengthAdjust="spacingAndGlyphs">10</text>
<text x="68.70" y="768.90" font-size="6.2" fill="#231f20" stroke="#231f20" stroke-width="0.08" textLength="5.40" lengthAdjust="spacingAndGlyphs">-3</text>
<text x="77.80" y="772.00" font-size="8.4" fill="#231f20" stroke="#231f20" stroke-width="0.25" text-anchor="middle" textLength="4.62" lengthAdjust="spacingAndGlyphs">0</text>
<text x="82.55" y="772.00" font-size="8.4" fill="#231f20" stroke="#231f20" stroke-width="0.25" textLength="8.00" lengthAdjust="spacingAndGlyphs">10</text>
<text x="90.75" y="768.90" font-size="6.2" fill="#231f20" stroke="#231f20" stroke-width="0.08" textLength="4.30" lengthAdjust="spacingAndGlyphs">3</text>
<text x="99.15" y="772.00" font-size="8.4" fill="#231f20" stroke="#231f20" stroke-width="0.25" textLength="8.00" lengthAdjust="spacingAndGlyphs">10</text>
<text x="107.35" y="768.90" font-size="6.2" fill="#231f20" stroke="#231f20" stroke-width="0.08" textLength="4.30" lengthAdjust="spacingAndGlyphs">4</text>
<text x="115.15" y="772.00" font-size="8.4" fill="#231f20" stroke="#231f20" stroke-width="0.25" textLength="8.00" lengthAdjust="spacingAndGlyphs">10</text>
<text x="123.35" y="768.90" font-size="6.2" fill="#231f20" stroke="#231f20" stroke-width="0.08" textLength="4.30" lengthAdjust="spacingAndGlyphs">5</text>
<line x1="63.00" y1="778.50" x2="123.70" y2="778.50" stroke="#333" stroke-width="1.2"/>
<polyline points="118.90,773.20 123.70,778.40 118.90,783.60" fill="none" stroke="#333" stroke-width="1.2"/>
<text x="62.80" y="790.20" font-size="12" fill="#231f20" stroke="#231f20" stroke-width="0.35" textLength="22.20" lengthAdjust="spacingAndGlyphs">LNP</text>
<g filter="url(#b4)" transform="rotate(0 77.40 613.50)"><ellipse cx="77.40" cy="613.50" rx="1.9" ry="3.6" fill="#1a2dff"/><ellipse cx="77.40" cy="614.50" rx="1.6" ry="2.2" fill="#1a80ff"/><ellipse cx="77.40" cy="614.80" rx="1.3" ry="1.6" fill="#00c8ff"/><ellipse cx="77.40" cy="614.90" rx="0.9" ry="1.1" fill="#33e04a"/><ellipse cx="77.40" cy="614.90" rx="0.5" ry="0.6" fill="#f2e600"/></g>
<g filter="url(#b4)" transform="rotate(0 77.80 610.50)"><ellipse cx="77.80" cy="610.50" rx="0.8" ry="2" fill="#1a2dff"/></g>
<path d="M87.4 614.6h1.0v1.0h-1.0zM84.0 612.5h1.0v1.0h-1.0zM90.8 614.6h1.0v1.0h-1.0zM79.1 613.7h1.0v1.0h-1.0zM94.2 614.4h1.0v1.0h-1.0zM91.2 615.9h1.0v1.0h-1.0z" fill="#6070ff" fill-opacity="0.5"/>
<g filter="url(#b5)" transform="rotate(0 92.00 680.20)"><ellipse cx="92.00" cy="680.20" rx="14.5" ry="1.3" fill="#6a7cff"/></g>
<path d="M93.3 681.2h0.9v0.9h-0.9zM101.2 681.9h0.9v0.9h-0.9zM87.0 679.4h0.9v0.9h-0.9zM89.4 679.4h0.9v0.9h-0.9zM79.8 680.2h0.9v0.9h-0.9zM92.0 679.5h0.9v0.9h-0.9zM91.3 678.9h0.9v0.9h-0.9zM88.5 679.9h0.9v0.9h-0.9zM87.5 680.1h0.9v0.9h-0.9zM81.3 678.9h0.9v0.9h-0.9zM84.7 680.9h0.9v0.9h-0.9zM83.7 679.3h0.9v0.9h-0.9zM106.2 680.0h0.9v0.9h-0.9zM88.1 679.3h0.9v0.9h-0.9zM102.3 680.7h0.9v0.9h-0.9zM93.0 681.7h0.9v0.9h-0.9zM81.9 678.6h0.9v0.9h-0.9zM99.5 680.6h0.9v0.9h-0.9zM87.1 681.0h0.9v0.9h-0.9zM90.3 682.1h0.9v0.9h-0.9zM81.3 680.5h0.9v0.9h-0.9zM98.5 681.1h0.9v0.9h-0.9zM88.2 679.8h0.9v0.9h-0.9zM87.7 680.9h0.9v0.9h-0.9zM87.9 680.1h0.9v0.9h-0.9zM98.9 680.1h0.9v0.9h-0.9zM92.9 680.1h0.9v0.9h-0.9zM91.1 678.1h0.9v0.9h-0.9zM83.8 680.6h0.9v0.9h-0.9zM86.1 679.6h0.9v0.9h-0.9zM91.4 682.4h0.9v0.9h-0.9zM85.2 679.3h0.9v0.9h-0.9zM90.6 679.4h0.9v0.9h-0.9zM87.9 681.1h0.9v0.9h-0.9zM98.8 680.6h0.9v0.9h-0.9zM99.9 681.2h0.9v0.9h-0.9zM87.5 681.0h0.9v0.9h-0.9zM92.2 680.9h0.9v0.9h-0.9zM93.1 682.3h0.9v0.9h-0.9zM81.3 680.6h0.9v0.9h-0.9zM82.7 682.4h0.9v0.9h-0.9zM87.0 679.8h0.9v0.9h-0.9zM90.8 680.2h0.9v0.9h-0.9zM104.1 680.1h0.9v0.9h-0.9zM92.9 681.2h0.9v0.9h-0.9zM102.6 679.3h0.9v0.9h-0.9zM93.3 678.9h0.9v0.9h-0.9zM94.8 681.6h0.9v0.9h-0.9zM87.0 679.9h0.9v0.9h-0.9zM100.2 680.6h0.9v0.9h-0.9zM97.2 679.8h0.9v0.9h-0.9zM88.6 679.8h0.9v0.9h-0.9zM103.1 678.8h0.9v0.9h-0.9zM87.0 681.7h0.9v0.9h-0.9zM90.5 679.1h0.9v0.9h-0.9zM92.8 680.0h0.9v0.9h-0.9zM90.1 680.7h0.9v0.9h-0.9zM97.1 678.7h0.9v0.9h-0.9zM92.5 681.7h0.9v0.9h-0.9zM80.7 680.1h0.9v0.9h-0.9zM82.1 680.8h0.9v0.9h-0.9zM84.5 679.9h0.9v0.9h-0.9zM87.8 680.6h0.9v0.9h-0.9zM80.9 678.8h0.9v0.9h-0.9zM92.4 681.5h0.9v0.9h-0.9zM87.1 680.6h0.9v0.9h-0.9zM93.0 680.3h0.9v0.9h-0.9zM90.8 679.7h0.9v0.9h-0.9zM89.1 681.4h0.9v0.9h-0.9zM94.4 681.4h0.9v0.9h-0.9zM85.4 680.3h0.9v0.9h-0.9zM86.0 678.9h0.9v0.9h-0.9zM97.9 679.9h0.9v0.9h-0.9zM92.8 678.8h0.9v0.9h-0.9zM89.0 680.1h0.9v0.9h-0.9zM88.0 681.2h0.9v0.9h-0.9zM94.5 680.3h0.9v0.9h-0.9zM92.7 679.8h0.9v0.9h-0.9zM85.5 679.9h0.9v0.9h-0.9zM83.1 680.0h0.9v0.9h-0.9zM90.1 681.3h0.9v0.9h-0.9zM87.6 682.6h0.9v0.9h-0.9zM87.0 680.3h0.9v0.9h-0.9zM90.8 679.6h0.9v0.9h-0.9zM90.5 678.5h0.9v0.9h-0.9zM99.6 679.6h0.9v0.9h-0.9zM90.8 678.4h0.9v0.9h-0.9zM95.3 678.9h0.9v0.9h-0.9zM101.4 679.2h0.9v0.9h-0.9zM85.3 680.8h0.9v0.9h-0.9z" fill="#2a3cff" fill-opacity="0.45"/>
<path d="M102.6 661.9h0.9v0.9h-0.9zM96.3 666.4h0.9v0.9h-0.9zM92.4 680.9h0.9v0.9h-0.9zM89.2 678.6h0.9v0.9h-0.9zM106.8 681.8h0.9v0.9h-0.9zM97.8 678.8h0.9v0.9h-0.9zM92.0 676.4h0.9v0.9h-0.9zM90.8 679.5h0.9v0.9h-0.9zM100.5 668.4h0.9v0.9h-0.9zM85.3 678.9h0.9v0.9h-0.9zM112.0 672.8h0.9v0.9h-0.9zM96.0 675.5h0.9v0.9h-0.9zM104.3 660.7h0.9v0.9h-0.9zM108.1 665.2h0.9v0.9h-0.9zM107.2 671.9h0.9v0.9h-0.9zM99.0 671.6h0.9v0.9h-0.9zM91.5 678.2h0.9v0.9h-0.9zM90.7 670.5h0.9v0.9h-0.9z" fill="#7080ff" fill-opacity="0.35"/>
<g filter="url(#b5)" transform="rotate(0 80.50 680.20)"><ellipse cx="80.50" cy="680.20" rx="4" ry="1.3" fill="#1a80ff"/><ellipse cx="79.50" cy="680.20" rx="2.5" ry="1.0" fill="#00c8ff"/></g>
<g filter="url(#b4)" transform="rotate(0 77.80 680.20)"><ellipse cx="77.80" cy="680.20" rx="2.3" ry="2.0" fill="#1a2dff"/><ellipse cx="77.80" cy="680.20" rx="1.9" ry="1.6" fill="#1a80ff"/><ellipse cx="77.80" cy="680.20" rx="1.5" ry="1.3" fill="#00c8ff"/><ellipse cx="77.80" cy="680.20" rx="1.1" ry="1.0" fill="#33e04a"/><ellipse cx="77.80" cy="680.20" rx="0.7" ry="0.7" fill="#f2e600"/><ellipse cx="77.80" cy="680.20" rx="0.4" ry="0.45" fill="#ff1a00"/></g>
<g filter="url(#b5)" transform="rotate(0 93.00 746.60)"><ellipse cx="93.00" cy="746.60" rx="16" ry="1.6" fill="#6a7cff"/></g>
<path d="M83.8 744.5h0.9v0.9h-0.9zM90.4 744.1h0.9v0.9h-0.9zM98.2 745.5h0.9v0.9h-0.9zM95.6 739.2h0.9v0.9h-0.9zM94.1 741.1h0.9v0.9h-0.9zM106.8 743.8h0.9v0.9h-0.9zM94.6 739.0h0.9v0.9h-0.9zM80.6 745.3h0.9v0.9h-0.9zM86.3 743.1h0.9v0.9h-0.9zM95.3 734.1h0.9v0.9h-0.9zM97.4 738.8h0.9v0.9h-0.9zM81.4 745.5h0.9v0.9h-0.9zM82.4 743.3h0.9v0.9h-0.9zM80.7 742.7h0.9v0.9h-0.9zM104.4 743.8h0.9v0.9h-0.9zM110.3 728.2h0.9v0.9h-0.9zM86.9 742.7h0.9v0.9h-0.9zM99.4 742.6h0.9v0.9h-0.9zM86.5 743.5h0.9v0.9h-0.9zM85.1 736.4h0.9v0.9h-0.9zM112.1 739.8h0.9v0.9h-0.9zM101.3 727.0h0.9v0.9h-0.9zM85.1 742.9h0.9v0.9h-0.9zM93.2 733.4h0.9v0.9h-0.9zM83.5 745.2h0.9v0.9h-0.9zM81.4 746.1h0.9v0.9h-0.9zM81.7 745.9h0.9v0.9h-0.9zM87.3 746.3h0.9v0.9h-0.9zM87.7 741.9h0.9v0.9h-0.9zM84.6 743.5h0.9v0.9h-0.9zM87.0 746.4h0.9v0.9h-0.9zM94.4 741.3h0.9v0.9h-0.9zM107.0 746.0h0.9v0.9h-0.9zM88.7 745.9h0.9v0.9h-0.9zM80.4 745.1h0.9v0.9h-0.9zM88.9 738.5h0.9v0.9h-0.9zM81.1 744.8h0.9v0.9h-0.9zM81.9 743.8h0.9v0.9h-0.9zM90.3 742.5h0.9v0.9h-0.9zM95.3 744.9h0.9v0.9h-0.9zM81.4 744.9h0.9v0.9h-0.9zM94.9 730.7h0.9v0.9h-0.9zM85.2 745.6h0.9v0.9h-0.9zM90.0 741.4h0.9v0.9h-0.9zM109.7 730.5h0.9v0.9h-0.9zM81.6 744.9h0.9v0.9h-0.9zM92.0 739.4h0.9v0.9h-0.9zM84.9 744.1h0.9v0.9h-0.9zM81.3 744.8h0.9v0.9h-0.9zM113.7 733.6h0.9v0.9h-0.9zM91.6 734.5h0.9v0.9h-0.9zM91.7 742.5h0.9v0.9h-0.9zM110.2 742.2h0.9v0.9h-0.9zM97.9 744.9h0.9v0.9h-0.9zM83.1 746.5h0.9v0.9h-0.9zM80.4 745.9h0.9v0.9h-0.9zM81.4 746.4h0.9v0.9h-0.9zM89.8 744.4h0.9v0.9h-0.9zM87.8 739.6h0.9v0.9h-0.9zM80.5 743.9h0.9v0.9h-0.9zM86.9 746.3h0.9v0.9h-0.9zM82.1 744.0h0.9v0.9h-0.9zM92.6 743.0h0.9v0.9h-0.9zM84.5 742.3h0.9v0.9h-0.9zM82.3 745.6h0.9v0.9h-0.9zM85.5 742.3h0.9v0.9h-0.9zM83.6 745.3h0.9v0.9h-0.9zM83.7 745.2h0.9v0.9h-0.9zM88.6 741.3h0.9v0.9h-0.9zM83.6 745.9h0.9v0.9h-0.9zM92.9 743.5h0.9v0.9h-0.9zM82.9 744.6h0.9v0.9h-0.9zM92.4 745.8h0.9v0.9h-0.9zM95.7 745.6h0.9v0.9h-0.9zM82.7 745.8h0.9v0.9h-0.9zM110.1 737.0h0.9v0.9h-0.9zM99.2 744.5h0.9v0.9h-0.9zM86.1 744.3h0.9v0.9h-0.9zM81.6 746.0h0.9v0.9h-0.9zM86.2 743.4h0.9v0.9h-0.9zM92.3 733.2h0.9v0.9h-0.9zM99.3 744.9h0.9v0.9h-0.9zM85.0 746.0h0.9v0.9h-0.9zM102.5 741.2h0.9v0.9h-0.9zM92.3 745.1h0.9v0.9h-0.9zM85.9 745.3h0.9v0.9h-0.9zM101.2 730.4h0.9v0.9h-0.9zM87.8 740.9h0.9v0.9h-0.9zM83.3 742.5h0.9v0.9h-0.9zM83.0 745.1h0.9v0.9h-0.9zM90.4 740.1h0.9v0.9h-0.9zM84.9 743.7h0.9v0.9h-0.9zM99.2 722.5h0.9v0.9h-0.9zM81.2 745.5h0.9v0.9h-0.9zM82.6 746.4h0.9v0.9h-0.9zM94.9 743.2h0.9v0.9h-0.9zM95.4 734.0h0.9v0.9h-0.9zM88.5 737.5h0.9v0.9h-0.9zM106.1 746.2h0.9v0.9h-0.9zM86.2 745.7h0.9v0.9h-0.9zM105.1 742.2h0.9v0.9h-0.9zM93.5 744.1h0.9v0.9h-0.9zM88.7 744.9h0.9v0.9h-0.9zM113.2 718.8h0.9v0.9h-0.9zM107.2 722.6h0.9v0.9h-0.9zM87.1 743.2h0.9v0.9h-0.9zM90.7 736.1h0.9v0.9h-0.9zM90.2 742.9h0.9v0.9h-0.9zM83.0 741.3h0.9v0.9h-0.9zM96.2 729.9h0.9v0.9h-0.9zM91.5 742.1h0.9v0.9h-0.9zM87.2 746.0h0.9v0.9h-0.9zM86.4 745.8h0.9v0.9h-0.9zM80.6 745.7h0.9v0.9h-0.9zM83.8 742.5h0.9v0.9h-0.9zM91.2 739.7h0.9v0.9h-0.9zM105.9 734.5h0.9v0.9h-0.9zM84.8 744.5h0.9v0.9h-0.9zM92.6 746.1h0.9v0.9h-0.9zM107.0 740.2h0.9v0.9h-0.9zM99.9 740.5h0.9v0.9h-0.9zM89.4 744.7h0.9v0.9h-0.9zM103.7 740.6h0.9v0.9h-0.9zM87.5 745.7h0.9v0.9h-0.9zM110.8 722.8h0.9v0.9h-0.9zM107.5 738.1h0.9v0.9h-0.9zM80.5 745.6h0.9v0.9h-0.9zM82.9 744.2h0.9v0.9h-0.9zM95.8 735.3h0.9v0.9h-0.9zM107.1 730.9h0.9v0.9h-0.9zM96.0 743.9h0.9v0.9h-0.9zM108.0 736.4h0.9v0.9h-0.9zM94.0 725.6h0.9v0.9h-0.9zM93.0 744.6h0.9v0.9h-0.9zM89.1 740.7h0.9v0.9h-0.9zM91.6 738.8h0.9v0.9h-0.9zM87.7 745.1h0.9v0.9h-0.9zM94.1 734.2h0.9v0.9h-0.9zM93.0 745.5h0.9v0.9h-0.9zM86.3 745.2h0.9v0.9h-0.9zM95.6 745.4h0.9v0.9h-0.9zM91.1 746.1h0.9v0.9h-0.9zM90.1 742.2h0.9v0.9h-0.9zM105.8 736.8h0.9v0.9h-0.9zM105.3 743.2h0.9v0.9h-0.9zM81.0 744.5h0.9v0.9h-0.9zM83.3 744.5h0.9v0.9h-0.9zM89.6 739.3h0.9v0.9h-0.9zM81.5 744.8h0.9v0.9h-0.9zM86.6 743.4h0.9v0.9h-0.9zM87.1 746.4h0.9v0.9h-0.9zM88.1 738.5h0.9v0.9h-0.9zM91.7 745.4h0.9v0.9h-0.9zM84.0 746.4h0.9v0.9h-0.9zM88.1 741.9h0.9v0.9h-0.9zM82.5 745.6h0.9v0.9h-0.9zM86.7 740.6h0.9v0.9h-0.9zM81.5 745.7h0.9v0.9h-0.9zM110.6 739.3h0.9v0.9h-0.9zM101.7 738.0h0.9v0.9h-0.9zM84.4 742.0h0.9v0.9h-0.9zM100.5 744.9h0.9v0.9h-0.9zM102.0 732.9h0.9v0.9h-0.9zM86.0 745.1h0.9v0.9h-0.9zM96.7 739.7h0.9v0.9h-0.9zM96.5 737.8h0.9v0.9h-0.9zM80.2 746.2h0.9v0.9h-0.9zM94.3 745.2h0.9v0.9h-0.9zM88.9 745.3h0.9v0.9h-0.9zM96.0 741.4h0.9v0.9h-0.9zM86.6 739.7h0.9v0.9h-0.9zM85.0 740.1h0.9v0.9h-0.9zM97.7 746.1h0.9v0.9h-0.9zM111.1 737.6h0.9v0.9h-0.9zM98.6 742.1h0.9v0.9h-0.9zM86.5 745.4h0.9v0.9h-0.9zM99.9 742.7h0.9v0.9h-0.9zM84.9 742.6h0.9v0.9h-0.9zM101.2 738.2h0.9v0.9h-0.9zM81.8 743.9h0.9v0.9h-0.9zM80.4 745.8h0.9v0.9h-0.9zM80.8 745.0h0.9v0.9h-0.9zM87.0 745.6h0.9v0.9h-0.9zM98.5 745.9h0.9v0.9h-0.9zM86.6 738.3h0.9v0.9h-0.9zM83.4 746.2h0.9v0.9h-0.9zM81.3 745.3h0.9v0.9h-0.9zM102.4 724.0h0.9v0.9h-0.9zM102.0 735.9h0.9v0.9h-0.9zM92.4 737.7h0.9v0.9h-0.9zM84.1 743.9h0.9v0.9h-0.9zM90.3 739.1h0.9v0.9h-0.9zM102.5 742.4h0.9v0.9h-0.9zM84.6 746.4h0.9v0.9h-0.9zM106.6 732.0h0.9v0.9h-0.9zM81.4 742.7h0.9v0.9h-0.9zM108.3 738.6h0.9v0.9h-0.9zM83.8 745.8h0.9v0.9h-0.9zM86.1 741.6h0.9v0.9h-0.9zM95.8 740.4h0.9v0.9h-0.9zM98.2 725.8h0.9v0.9h-0.9zM117.1 735.5h0.9v0.9h-0.9zM93.8 740.8h0.9v0.9h-0.9zM92.1 738.1h0.9v0.9h-0.9zM82.8 743.6h0.9v0.9h-0.9zM89.8 742.2h0.9v0.9h-0.9zM87.2 738.9h0.9v0.9h-0.9zM92.3 741.5h0.9v0.9h-0.9zM93.1 744.4h0.9v0.9h-0.9zM111.9 729.3h0.9v0.9h-0.9zM80.7 744.2h0.9v0.9h-0.9zM85.0 745.9h0.9v0.9h-0.9zM102.7 740.5h0.9v0.9h-0.9zM80.1 746.2h0.9v0.9h-0.9zM82.6 745.9h0.9v0.9h-0.9zM94.0 728.3h0.9v0.9h-0.9zM85.4 740.8h0.9v0.9h-0.9z" fill="#4a5cff" fill-opacity="0.4"/>
<path d="M87.8 744.6h0.9v0.9h-0.9zM80.7 745.0h0.9v0.9h-0.9zM101.5 746.5h0.9v0.9h-0.9zM98.3 746.2h0.9v0.9h-0.9zM101.1 745.8h0.9v0.9h-0.9zM103.6 747.4h0.9v0.9h-0.9zM94.0 744.5h0.9v0.9h-0.9zM82.2 746.6h0.9v0.9h-0.9zM82.7 746.1h0.9v0.9h-0.9zM90.6 748.0h0.9v0.9h-0.9zM85.9 746.5h0.9v0.9h-0.9zM87.9 745.4h0.9v0.9h-0.9zM95.9 747.5h0.9v0.9h-0.9zM79.3 748.2h0.9v0.9h-0.9zM111.9 746.5h0.9v0.9h-0.9zM96.6 745.0h0.9v0.9h-0.9zM88.4 746.7h0.9v0.9h-0.9zM91.2 748.0h0.9v0.9h-0.9zM84.2 746.0h0.9v0.9h-0.9zM96.7 746.2h0.9v0.9h-0.9zM89.8 746.2h0.9v0.9h-0.9zM95.6 743.9h0.9v0.9h-0.9zM115.1 747.2h0.9v0.9h-0.9zM82.6 745.2h0.9v0.9h-0.9zM81.9 746.8h0.9v0.9h-0.9zM87.1 744.6h0.9v0.9h-0.9zM110.4 746.3h0.9v0.9h-0.9zM96.4 746.1h0.9v0.9h-0.9zM89.7 748.9h0.9v0.9h-0.9zM85.4 745.9h0.9v0.9h-0.9zM91.5 744.0h0.9v0.9h-0.9zM97.5 746.6h0.9v0.9h-0.9zM97.0 745.6h0.9v0.9h-0.9zM98.6 745.7h0.9v0.9h-0.9zM98.9 748.0h0.9v0.9h-0.9zM97.6 744.5h0.9v0.9h-0.9zM92.7 745.0h0.9v0.9h-0.9zM109.3 746.6h0.9v0.9h-0.9zM80.7 744.4h0.9v0.9h-0.9zM103.8 745.1h0.9v0.9h-0.9zM95.7 745.9h0.9v0.9h-0.9zM90.7 745.8h0.9v0.9h-0.9zM92.1 748.3h0.9v0.9h-0.9zM84.2 746.9h0.9v0.9h-0.9zM96.3 745.5h0.9v0.9h-0.9zM82.3 745.2h0.9v0.9h-0.9zM97.1 746.5h0.9v0.9h-0.9zM101.1 746.8h0.9v0.9h-0.9zM93.1 746.3h0.9v0.9h-0.9zM94.1 746.4h0.9v0.9h-0.9zM98.0 745.2h0.9v0.9h-0.9zM101.5 748.3h0.9v0.9h-0.9zM91.2 747.0h0.9v0.9h-0.9zM81.6 746.4h0.9v0.9h-0.9zM79.3 747.5h0.9v0.9h-0.9zM92.5 747.6h0.9v0.9h-0.9zM102.0 745.4h0.9v0.9h-0.9zM99.2 748.2h0.9v0.9h-0.9zM111.7 746.2h0.9v0.9h-0.9zM96.9 745.5h0.9v0.9h-0.9zM97.7 747.1h0.9v0.9h-0.9zM104.9 746.1h0.9v0.9h-0.9zM92.6 746.9h0.9v0.9h-0.9zM90.5 748.9h0.9v0.9h-0.9zM87.6 747.2h0.9v0.9h-0.9zM92.2 746.8h0.9v0.9h-0.9zM96.8 748.3h0.9v0.9h-0.9zM99.3 745.5h0.9v0.9h-0.9zM85.5 744.9h0.9v0.9h-0.9zM87.7 746.2h0.9v0.9h-0.9zM103.1 748.4h0.9v0.9h-0.9zM92.7 747.1h0.9v0.9h-0.9zM90.6 744.7h0.9v0.9h-0.9zM96.7 745.4h0.9v0.9h-0.9zM105.2 744.9h0.9v0.9h-0.9zM104.1 744.6h0.9v0.9h-0.9zM91.4 746.9h0.9v0.9h-0.9zM88.5 745.1h0.9v0.9h-0.9zM92.1 748.4h0.9v0.9h-0.9zM97.9 746.6h0.9v0.9h-0.9zM97.1 747.8h0.9v0.9h-0.9zM103.8 746.0h0.9v0.9h-0.9zM84.3 745.1h0.9v0.9h-0.9zM92.6 745.9h0.9v0.9h-0.9zM92.1 745.5h0.9v0.9h-0.9zM114.0 745.4h0.9v0.9h-0.9zM104.6 745.2h0.9v0.9h-0.9zM85.1 744.8h0.9v0.9h-0.9zM82.4 744.3h0.9v0.9h-0.9zM84.8 746.0h0.9v0.9h-0.9zM98.2 744.1h0.9v0.9h-0.9zM95.9 746.2h0.9v0.9h-0.9zM92.0 743.6h0.9v0.9h-0.9zM96.3 747.1h0.9v0.9h-0.9zM102.2 745.9h0.9v0.9h-0.9zM103.0 746.4h0.9v0.9h-0.9zM84.0 747.0h0.9v0.9h-0.9zM100.7 746.6h0.9v0.9h-0.9zM91.8 746.0h0.9v0.9h-0.9zM98.0 744.0h0.9v0.9h-0.9zM94.7 744.7h0.9v0.9h-0.9zM87.5 746.6h0.9v0.9h-0.9zM102.9 746.3h0.9v0.9h-0.9zM83.9 749.7h0.9v0.9h-0.9zM94.9 742.9h0.9v0.9h-0.9zM91.2 745.4h0.9v0.9h-0.9zM86.7 747.6h0.9v0.9h-0.9zM110.8 746.4h0.9v0.9h-0.9zM80.3 747.4h0.9v0.9h-0.9zM92.9 745.8h0.9v0.9h-0.9zM93.9 744.9h0.9v0.9h-0.9zM93.8 746.8h0.9v0.9h-0.9zM102.5 748.8h0.9v0.9h-0.9zM86.5 746.8h0.9v0.9h-0.9zM85.1 746.5h0.9v0.9h-0.9zM102.2 747.1h0.9v0.9h-0.9zM89.5 748.6h0.9v0.9h-0.9zM99.9 747.9h0.9v0.9h-0.9zM92.8 748.0h0.9v0.9h-0.9zM90.8 747.4h0.9v0.9h-0.9zM92.4 746.3h0.9v0.9h-0.9zM97.1 745.5h0.9v0.9h-0.9zM92.6 747.1h0.9v0.9h-0.9zM97.7 743.7h0.9v0.9h-0.9zM105.2 745.0h0.9v0.9h-0.9zM108.8 747.7h0.9v0.9h-0.9zM93.3 746.6h0.9v0.9h-0.9zM94.6 745.8h0.9v0.9h-0.9zM105.4 745.5h0.9v0.9h-0.9zM87.4 746.0h0.9v0.9h-0.9zM81.7 748.2h0.9v0.9h-0.9zM100.4 748.9h0.9v0.9h-0.9zM86.8 745.9h0.9v0.9h-0.9zM88.1 747.3h0.9v0.9h-0.9zM84.2 745.9h0.9v0.9h-0.9zM93.9 748.8h0.9v0.9h-0.9zM84.7 747.5h0.9v0.9h-0.9zM97.1 747.4h0.9v0.9h-0.9zM82.3 741.9h0.9v0.9h-0.9zM87.8 747.5h0.9v0.9h-0.9zM93.6 748.1h0.9v0.9h-0.9zM111.2 745.4h0.9v0.9h-0.9zM88.5 748.3h0.9v0.9h-0.9zM94.5 746.7h0.9v0.9h-0.9zM105.5 747.2h0.9v0.9h-0.9zM91.7 745.6h0.9v0.9h-0.9zM86.7 745.8h0.9v0.9h-0.9zM94.9 743.7h0.9v0.9h-0.9zM91.3 745.5h0.9v0.9h-0.9zM109.8 746.2h0.9v0.9h-0.9zM102.1 745.1h0.9v0.9h-0.9zM89.0 744.6h0.9v0.9h-0.9zM101.6 747.0h0.9v0.9h-0.9zM109.8 746.5h0.9v0.9h-0.9zM80.0 745.2h0.9v0.9h-0.9zM104.5 748.2h0.9v0.9h-0.9zM98.2 744.4h0.9v0.9h-0.9zM99.5 745.3h0.9v0.9h-0.9zM87.6 745.7h0.9v0.9h-0.9zM101.7 747.0h0.9v0.9h-0.9z" fill="#2a3cff" fill-opacity="0.45"/>
<g filter="url(#b5)" transform="rotate(0 86.00 746.40)"><ellipse cx="86.00" cy="746.40" rx="9" ry="1.8" fill="#1a70ff"/><ellipse cx="83.50" cy="746.40" rx="6" ry="1.4" fill="#00c8ff"/><ellipse cx="81.00" cy="746.40" rx="3" ry="1.1" fill="#40e0a0"/></g>
<g filter="url(#b4)" transform="rotate(0 77.60 746.60)"><ellipse cx="77.60" cy="746.60" rx="2.4" ry="2.1" fill="#1a2dff"/><ellipse cx="77.60" cy="746.60" rx="2.0" ry="1.7" fill="#1a80ff"/><ellipse cx="77.60" cy="746.60" rx="1.6" ry="1.4" fill="#00c8ff"/><ellipse cx="77.60" cy="746.60" rx="1.2" ry="1.1" fill="#33e04a"/><ellipse cx="77.60" cy="746.60" rx="0.8" ry="0.8" fill="#f2e600"/><ellipse cx="77.60" cy="746.60" rx="0.45" ry="0.5" fill="#ff1a00"/></g>
<line x1="171.50" y1="589.80" x2="171.50" y2="760.80" stroke="#333333" stroke-width="1"/>
<line x1="171.70" y1="760.50" x2="285.70" y2="760.50" stroke="#333333" stroke-width="1"/>
<line x1="165.40" y1="589.50" x2="171.70" y2="589.50" stroke="#333333" stroke-width="1"/>
<text x="160.60" y="595.60" font-size="13" fill="#231f20" stroke="#231f20" stroke-width="0.35" text-anchor="end" textLength="14.30" lengthAdjust="spacingAndGlyphs">50</text>
<line x1="165.40" y1="624.50" x2="171.70" y2="624.50" stroke="#333333" stroke-width="1"/>
<text x="160.60" y="629.80" font-size="13" fill="#231f20" stroke="#231f20" stroke-width="0.35" text-anchor="end" textLength="14.30" lengthAdjust="spacingAndGlyphs">40</text>
<line x1="165.40" y1="658.50" x2="171.70" y2="658.50" stroke="#333333" stroke-width="1"/>
<text x="160.60" y="664.00" font-size="13" fill="#231f20" stroke="#231f20" stroke-width="0.35" text-anchor="end" textLength="14.30" lengthAdjust="spacingAndGlyphs">30</text>
<line x1="165.40" y1="692.50" x2="171.70" y2="692.50" stroke="#333333" stroke-width="1"/>
<text x="160.60" y="698.20" font-size="13" fill="#231f20" stroke="#231f20" stroke-width="0.35" text-anchor="end" textLength="14.30" lengthAdjust="spacingAndGlyphs">20</text>
<line x1="165.40" y1="726.50" x2="171.70" y2="726.50" stroke="#333333" stroke-width="1"/>
<text x="160.60" y="732.40" font-size="13" fill="#231f20" stroke="#231f20" stroke-width="0.35" text-anchor="end" textLength="14.30" lengthAdjust="spacingAndGlyphs">10</text>
<line x1="165.40" y1="760.50" x2="171.70" y2="760.50" stroke="#333333" stroke-width="1"/>
<text x="160.60" y="766.60" font-size="13" fill="#231f20" stroke="#231f20" stroke-width="0.35" text-anchor="end" textLength="7.15" lengthAdjust="spacingAndGlyphs">0</text>
<line x1="194.50" y1="760.80" x2="194.50" y2="767.10" stroke="#333333" stroke-width="1"/>
<line x1="228.50" y1="760.80" x2="228.50" y2="767.10" stroke="#333333" stroke-width="1"/>
<line x1="262.50" y1="760.80" x2="262.50" y2="767.10" stroke="#333333" stroke-width="1"/>
<text x="0" y="0" font-size="12" fill="#231f20" stroke="#231f20" stroke-width="0.35" transform="translate(139.10,715.40) rotate(-90)" textLength="68.90" lengthAdjust="spacingAndGlyphs">% LNP+ DCs</text>
<text x="227.00" y="592.70" font-size="11.5" fill="#231f20" stroke="#231f20" stroke-width="0.1" textLength="32.50" lengthAdjust="spacingAndGlyphs">0.0079</text>
<line x1="226.20" y1="594.50" x2="260.40" y2="594.50" stroke="#555" stroke-width="1.1"/>
<line x1="186.00" y1="760.50" x2="202.00" y2="760.50" stroke="#555" stroke-width="1.1"/>
<circle cx="186.00" cy="760.80" r="3.3" fill="white" stroke="#231f20" stroke-width="0.9"/>
<circle cx="201.80" cy="760.80" r="3.3" fill="white" stroke="#231f20" stroke-width="0.9"/>
<line x1="216.60" y1="709.50" x2="239.50" y2="709.50" stroke="#555" stroke-width="1.1"/>
<circle cx="228.20" cy="689.70" r="3.4" fill="#111" stroke="#231f20" stroke-width="0.9"/>
<circle cx="220.20" cy="696.30" r="3.4" fill="#111" stroke="#231f20" stroke-width="0.9"/>
<circle cx="236.00" cy="701.90" r="3.4" fill="#111" stroke="#231f20" stroke-width="0.9"/>
<circle cx="228.20" cy="750.40" r="3.4" fill="#111" stroke="#231f20" stroke-width="0.9"/>
<circle cx="262.50" cy="604.60" r="3.4" fill="#ff2a00" stroke="#231f20" stroke-width="0.9"/>
<circle cx="254.40" cy="624.90" r="3.4" fill="#ff2a00" stroke="#231f20" stroke-width="0.9"/>
<circle cx="270.20" cy="623.10" r="3.4" fill="#ff2a00" stroke="#231f20" stroke-width="0.9"/>
<circle cx="262.50" cy="636.80" r="3.4" fill="#ff2a00" stroke="#231f20" stroke-width="0.9"/>
<circle cx="254.40" cy="664.10" r="3.4" fill="#ff2a00" stroke="#231f20" stroke-width="0.9"/>
<circle cx="270.20" cy="669.50" r="3.4" fill="#ff2a00" stroke="#231f20" stroke-width="0.9"/>
<circle cx="262.50" cy="693.90" r="3.4" fill="#ff2a00" stroke="#231f20" stroke-width="0.9"/>
<line x1="251.50" y1="645.50" x2="273.80" y2="645.50" stroke="#555" stroke-width="1.1"/>
<text x="191.00" y="783.10" font-size="11.5" fill="#231f20" stroke="#231f20" stroke-width="0.35" text-anchor="middle" textLength="19.90" lengthAdjust="spacingAndGlyphs">OVA</text>
<text x="205.90" y="783.10" font-size="11.5" fill="#231f20" stroke="#231f20" stroke-width="0.35" textLength="30.00" lengthAdjust="spacingAndGlyphs">IFNαR</text>
<text x="235.60" y="778.31" font-size="9.66" fill="#231f20" stroke="#231f20" stroke-width="0.35" textLength="13.60" lengthAdjust="spacingAndGlyphs">WT</text>
<text x="228.00" y="796.50" font-size="11.5" fill="#231f20" stroke="#231f20" stroke-width="0.35" text-anchor="middle" textLength="24.70" lengthAdjust="spacingAndGlyphs">eGFP</text>
<text x="251.50" y="783.10" font-size="11.5" fill="#ed1c24" stroke="#ed1c24" stroke-width="0.35" textLength="30.50" lengthAdjust="spacingAndGlyphs">IFNαR</text>
<text x="281.70" y="778.31" font-size="9.66" fill="#ed1c24" stroke="#ed1c24" stroke-width="0.35" textLength="16.10" lengthAdjust="spacingAndGlyphs">cKO</text>
<text x="275.30" y="796.50" font-size="11.5" fill="#ed1c24" stroke="#ed1c24" stroke-width="0.35" text-anchor="middle" textLength="23.80" lengthAdjust="spacingAndGlyphs">eGFP</text>
</svg></body></html>
